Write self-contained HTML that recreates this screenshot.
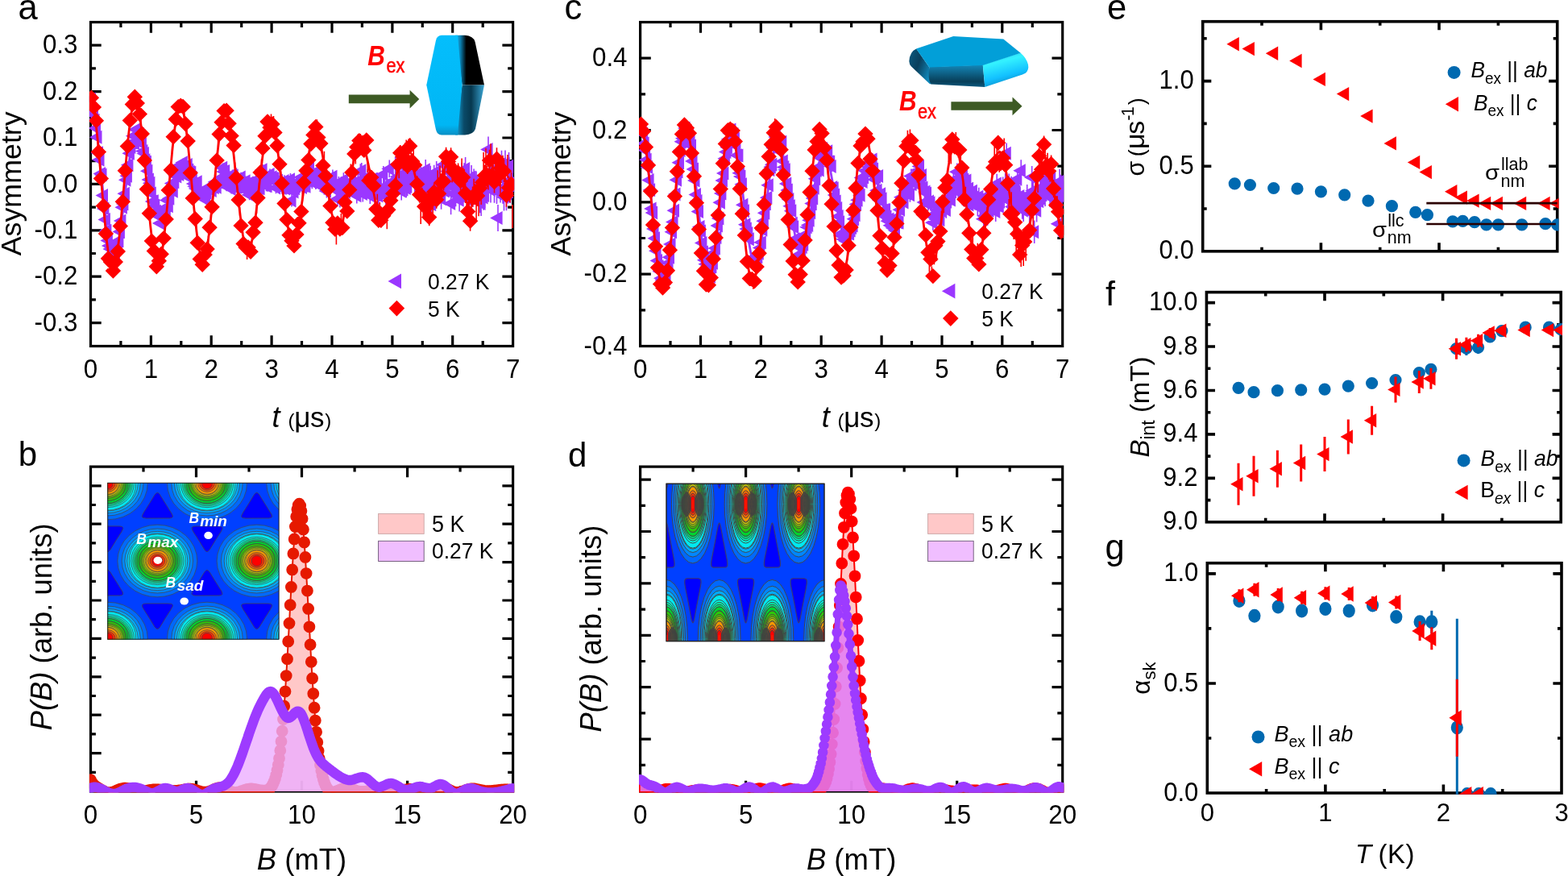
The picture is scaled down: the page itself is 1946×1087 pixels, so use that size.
<!DOCTYPE html>
<html><head><meta charset="utf-8"><title>Figure</title>
<style>html,body{margin:0;padding:0;background:#fff;width:1946px;height:1087px;overflow:hidden}svg{display:block}text{font-family:"Liberation Sans",sans-serif;fill:#000}.w text{fill:#fff}text.r{fill:#f00}</style>
</head><body>
<svg width="1946" height="1087" viewBox="0 0 1946 1087">
<rect width="1946" height="1087" fill="#fff"/>
<clipPath id="clipa"><rect x="110.9" y="25.9" width="527.3" height="405.2"/></clipPath>
<rect x="112.5" y="27.5" width="524.1" height="402" fill="none" stroke="#000" stroke-width="3.2"/>
<path d="M187.4 429.5v-13.2M187.4 27.5v13.2M262.2 429.5v-13.2M262.2 27.5v13.2M337.1 429.5v-13.2M337.1 27.5v13.2M412 429.5v-13.2M412 27.5v13.2M486.9 429.5v-13.2M486.9 27.5v13.2M561.7 429.5v-13.2M561.7 27.5v13.2M149.9 429.5v-6.4M149.9 27.5v6.4M224.8 429.5v-6.4M224.8 27.5v6.4M299.7 429.5v-6.4M299.7 27.5v6.4M374.5 429.5v-6.4M374.5 27.5v6.4M449.4 429.5v-6.4M449.4 27.5v6.4M524.3 429.5v-6.4M524.3 27.5v6.4M599.2 429.5v-6.4M599.2 27.5v6.4M112.5 400.6h13.2M636.6 400.6h-13.2M112.5 343.2h13.2M636.6 343.2h-13.2M112.5 285.8h13.2M636.6 285.8h-13.2M112.5 228.4h13.2M636.6 228.4h-13.2M112.5 171h13.2M636.6 171h-13.2M112.5 113.6h13.2M636.6 113.6h-13.2M112.5 56.2h13.2M636.6 56.2h-13.2M112.5 371.9h6.4M636.6 371.9h-6.4M112.5 314.5h6.4M636.6 314.5h-6.4M112.5 257.1h6.4M636.6 257.1h-6.4M112.5 199.7h6.4M636.6 199.7h-6.4M112.5 142.3h6.4M636.6 142.3h-6.4M112.5 84.9h6.4M636.6 84.9h-6.4" stroke="#000" stroke-width="3.2" fill="none"/>
<text transform="translate(112.5 469.2) scale(0.978 1.05)" font-size="32" text-anchor="middle">0</text>
<text transform="translate(187.4 469.2) scale(0.978 1.05)" font-size="32" text-anchor="middle">1</text>
<text transform="translate(262.2 469.2) scale(0.978 1.05)" font-size="32" text-anchor="middle">2</text>
<text transform="translate(337.1 469.2) scale(0.978 1.05)" font-size="32" text-anchor="middle">3</text>
<text transform="translate(412 469.2) scale(0.978 1.05)" font-size="32" text-anchor="middle">4</text>
<text transform="translate(486.9 469.2) scale(0.978 1.05)" font-size="32" text-anchor="middle">5</text>
<text transform="translate(561.7 469.2) scale(0.978 1.05)" font-size="32" text-anchor="middle">6</text>
<text transform="translate(636.6 469.2) scale(0.978 1.05)" font-size="32" text-anchor="middle">7</text>
<text transform="translate(96.4 410.8) scale(0.978 1.05)" font-size="32" text-anchor="end">-0.3</text>
<text transform="translate(96.4 353.4) scale(0.978 1.05)" font-size="32" text-anchor="end">-0.2</text>
<text transform="translate(96.4 296) scale(0.978 1.05)" font-size="32" text-anchor="end">-0.1</text>
<text transform="translate(96.4 238.6) scale(0.978 1.05)" font-size="32" text-anchor="end">0.0</text>
<text transform="translate(96.4 181.2) scale(0.978 1.05)" font-size="32" text-anchor="end">0.1</text>
<text transform="translate(96.4 123.8) scale(0.978 1.05)" font-size="32" text-anchor="end">0.2</text>
<text transform="translate(96.4 66.4) scale(0.978 1.05)" font-size="32" text-anchor="end">0.3</text>
<g clip-path="url(#clipa)">
<path d="M113.4 119.5v7.1M114.9 137.8v7.2M116.4 134.2v7.2M117.9 145.6v7.2M119.4 155.4v7.3M120.9 166.7v7.3M122.4 186v7.3M123.9 194.6v7.4M125.4 211.8v7.4M126.9 213.1v7.4M128.4 238.7v7.5M129.9 255.3v7.5M131.4 268.7v7.5M132.9 282.5v7.6M134.4 294.6v7.6M135.9 301.3v7.6M137.4 305.1v7.7M138.9 312.3v7.7M140.4 310.4v7.7M141.8 314.5v7.8M143.3 311.5v7.8M144.8 301.7v7.9M146.3 298.9v7.9M147.8 294.4v7.9M149.3 283.6v8M150.8 270.1v8M152.3 253.2v8M153.8 248.9v8.1M155.3 236.2v8.1M156.8 219.2v8.1M158.3 214.1v8.2M159.8 200.7v8.2M161.3 186.1v8.3M162.8 178.2v8.3M164.3 172.6v8.3M165.8 164.5v8.4M167.3 173.5v8.4M168.8 156.5v8.4M170.3 163.3v8.5M171.8 167v8.5M173.3 162.1v8.6M174.8 164.5v8.6M176.3 174.3v8.6M177.8 183.1v8.7M179.3 186.1v8.7M180.8 194.3v8.8M182.3 196.9v8.8M183.8 207.9v8.8M185.3 218.5v8.9M186.8 222.8v8.9M188.3 235.7v9M189.8 245.4v9M191.3 245.3v9M192.8 250.4v9.1M194.3 257.6v9.1M195.8 262.9v9.2M197.3 260.5v9.2M198.8 272.5v9.2M200.2 258.8v9.3M201.7 258.3v9.3M203.2 265v9.4M204.7 254.7v9.4M206.2 255.3v9.5M207.7 243.7v9.5M209.2 251.1v9.5M210.7 241.4v9.6M212.2 229.4v9.6M213.7 222.6v9.7M215.2 232.4v9.7M216.7 220.8v9.8M218.2 213.2v9.8M219.7 213.9v9.9M221.2 201.3v9.9M222.7 211.4v9.9M224.2 202.9v10M225.7 208.2v10M227.2 196.7v10.1M228.7 203.5v10.1M230.2 205.9v10.2M231.7 213.4v10.2M233.2 199.5v10.3M234.7 205.8v10.3M236.2 208.2v10.4M237.7 209v10.4M239.2 215.3v10.5M240.7 222.7v10.5M242.2 226.1v10.6M243.7 228.6v10.6M245.2 220.5v10.6M246.7 236.1v10.7M248.2 233.7v10.7M249.7 233.7v10.8M251.2 232.1v10.8M252.7 231.1v10.9M254.2 240.3v10.9M255.7 242.6v11M257.1 233.7v11M258.6 226.8v11.1M260.1 228.1v11.1M261.6 229.5v11.2M263.1 230.8v11.2M264.6 226.1v11.3M266.1 227.2v11.3M267.6 220v11.4M269.1 226.6v11.5M270.6 220.2v11.5M272.1 220v11.6M273.6 215.2v11.6M275.1 215.7v11.7M276.6 202.4v11.7M278.1 207.2v11.8M279.6 206.7v11.8M281.1 225.4v11.9M282.6 216.3v11.9M284.1 218v12M285.6 212.4v12M287.1 228.4v12.1M288.6 210.4v12.1M290.1 212v12.2M291.6 226.2v12.3M293.1 225.7v12.3M294.6 226v12.4M296.1 222.6v12.4M297.6 220.5v12.5M299.1 213.7v12.5M300.6 227.4v12.6M302.1 222.8v12.7M303.6 227v12.7M305.1 218.4v12.8M306.6 224.6v12.8M308.1 221.1v12.9M309.6 235.3v12.9M311.1 229.9v13M312.6 233.1v13.1M314.1 218.8v13.1M315.5 222.9v13.2M317 227.7v13.2M318.5 227.6v13.3M320 220.8v13.4M321.5 226.8v13.4M323 227v13.5M324.5 217.2v13.5M326 203.9v13.6M327.5 219.5v13.7M329 220.4v13.7M330.5 223.5v13.8M332 223.9v13.9M333.5 211.8v13.9M335 209.4v14M336.5 214.6v14M338 212.6v14.1M339.5 214.3v14.2M341 214.6v14.2M342.5 225.9v14.3M344 219.8v14.4M345.5 217v14.4M347 223.8v14.5M348.5 222.8v14.6M350 226.1v14.6M351.5 224v14.7M353 217.2v14.8M354.5 226.5v14.8M356 225.8v14.9M357.5 220v15M359 221.8v15M360.5 215.1v15.1M362 241.3v15.2M363.5 221.3v15.2M365 230.5v15.3M366.5 226v15.4M368 220.7v15.5M369.5 218.4v15.5M371 218v15.6M372.4 223.4v15.7M373.9 212.2v15.7M375.4 224.6v15.8M376.9 222.5v15.9M378.4 214.7v16M379.9 223.3v16M381.4 202.7v16.1M382.9 209.9v16.2M384.4 200.5v16.2M385.9 215.9v16.3M387.4 217.8v16.4M388.9 213.3v16.5M390.4 208.7v16.5M391.9 218.4v16.6M393.4 211.2v16.7M394.9 214.3v16.8M396.4 202.3v16.9M397.9 220.1v16.9M399.4 207.6v17M400.9 221.3v17.1M402.4 224.6v17.2M403.9 223.6v17.2M405.4 228.3v17.3M406.9 218.8v17.4M408.4 212.8v17.5M409.9 220.5v17.6M411.4 217.7v17.6M412.9 210.4v17.7M414.4 221.8v17.8M415.9 222.9v17.9M417.4 227.1v18M418.9 238.1v18M420.4 218.9v18.1M421.9 239.3v18.2M423.4 219.3v18.3M424.9 224.3v18.4M426.4 214.3v18.5M427.9 223.5v18.5M429.3 229.1v18.6M430.8 218.3v18.7M432.3 225.1v18.8M433.8 220.9v18.9M435.3 218.1v19M436.8 218.6v19.1M438.3 218.2v19.1M439.8 222.9v19.2M441.3 216.6v19.3M442.8 233v19.4M444.3 215.2v19.5M445.8 224v19.6M447.3 203.3v19.7M448.8 201.9v19.8M450.3 230.7v19.8M451.8 212.2v19.9M453.3 215v20M454.8 223.8v20.1M456.3 210.1v20.2M457.8 219.8v20.3M459.3 232.6v20.4M460.8 219.6v20.5M462.3 219.3v20.6M463.8 217.8v20.7M465.3 231.1v20.8M466.8 214.5v20.9M468.3 214v21M469.8 232.4v21.1M471.3 228.3v21.2M472.8 223.1v21.2M474.3 228v21.3M475.8 205.9v21.4M477.3 220.6v21.5M478.8 232.3v21.6M480.3 229.8v21.7M481.8 222.2v21.8M483.3 198.4v21.9M484.8 222.1v22M486.3 218.4v22.1M487.7 213.7v22.2M489.2 218.4v22.3M490.7 194.1v22.4M492.2 221.6v22.5M493.7 207.9v22.6M495.2 213v22.7M496.7 207.6v22.8M498.2 225.5v23M499.7 194.5v23.1M501.2 213.7v23.2M502.7 211.8v23.3M504.2 221.9v23.4M505.7 219.8v23.5M507.2 206.2v23.6M508.7 201.9v23.7M510.2 204.7v23.8M511.7 200.2v23.9M513.2 206.1v24M514.7 214.1v24.1M516.2 205.9v24.2M517.7 209.2v24.4M519.2 217.5v24.5M520.7 209.1v24.6M522.2 203.5v24.7M523.7 215.7v24.8M525.2 222.9v24.9M526.7 211.2v25M528.2 198.1v25.1M529.7 222.2v25.3M531.2 221v25.4M532.7 221.5v25.5M534.2 205.7v25.6M535.7 240.8v25.7M537.2 214.9v25.8M538.7 204.8v26M540.2 227.7v26.1M541.7 200v26.2M543.2 210.5v26.3M544.6 222.7v26.4M546.1 212.9v26.5M547.6 233v26.7M549.1 220.7v26.8M550.6 191.1v26.9M552.1 223.4v27M553.6 189.5v27.2M555.1 212.5v27.3M556.6 198.9v27.4M558.1 210.3v27.5M559.6 238.6v27.7M561.1 217.8v27.8M562.6 208.2v27.9M564.1 225.3v28M565.6 228.1v28.2M567.1 206.7v28.3M568.6 220.1v28.4M570.1 234v28.6M571.6 221.6v28.7M573.1 202.1v28.8M574.6 220v28.9M576.1 202.2v29.1M577.6 194.9v29.2M579.1 215v29.3M580.6 230.9v29.5M582.1 233.6v29.6M583.6 216.9v29.7M585.1 204.9v29.9M586.6 213.3v30M588.1 209.5v30.2M589.6 222.9v30.3M591.1 212.5v30.4M592.6 222.8v30.6M594.1 220.5v30.7M595.6 233.4v30.8M597.1 236.9v31M598.6 221.2v31.1M600.1 229.4v31.3M601.6 226.7v31.4M603 203v31.6M604.5 213.4v31.7M606 169.5v31.8M607.5 197.4v32M609 219.3v32.1M610.5 198.4v32.3M612 204.1v32.4M613.5 219.1v32.6M615 192.6v32.7M616.5 220.2v32.9M618 254.1v33M619.5 196.9v33.2M621 218.2v33.3M622.5 186.7v33.5M624 219.2v33.6M625.5 227.7v33.8M627 186.5v33.9M628.5 227.1v34.1M630 207.9v34.2M631.5 189v34.4M633 210.1v34.6M634.5 213.5v34.7M636 211v34.9" stroke="#9b37ff" stroke-width="1.6" fill="none"/>
<path d="M112.5 128.6L114.7 132.7L117 142.2L119.2 156.6L121.5 174.9L123.7 196.2L126 218.9L128.2 241.9L130.5 263.7L132.7 283L135 298.8L137.2 310.2L139.5 316.6L141.7 317.8L144 313.9L146.2 305.2L148.5 292.6L150.7 276.8L153 258.9L155.2 240.1L157.5 221.5L159.7 204.3L162 189.3L164.2 177.4L166.5 169.1L168.7 164.6L171 164.1L173.2 167.3L175.5 173.8L177.7 183L180 194.2L182.2 206.5L184.5 219.2L186.7 231.5L189 242.7L191.2 252.1L193.5 259.3L195.7 264.2L198 266.5L200.2 266.4L202.5 264L204.7 259.7L207 253.9L209.2 247.1L211.5 239.8L213.7 232.5L216 225.6L218.2 219.6L220.5 214.6L222.7 211L225 208.9L227.2 208.2L229.5 208.8L231.7 210.6L234 213.4L236.2 216.9L238.5 220.9L240.7 224.9L243 228.9L245.2 232.4L247.5 235.4L249.7 237.6L252 239L254.2 239.6L256.5 239.4L258.7 238.4L261 236.8L263.2 234.7L265.5 232.3L267.7 229.8L270 227.4L272.2 225.1L274.5 223.2L276.7 221.7L278.9 220.8L281.2 220.4L283.4 220.6L285.7 221.3L287.9 222.5L290.2 224.1L292.4 225.9L294.7 227.8L296.9 229.8L299.2 231.6L301.4 233.1L303.7 234.3L305.9 235.1L308.2 235.5L310.4 235.3L312.7 234.8L314.9 233.8L317.2 232.4L319.4 230.8L321.7 229.1L323.9 227.4L326.2 225.7L328.4 224.2L330.7 223L332.9 222.2L335.2 221.7L337.4 221.7L339.7 222.1L341.9 223L344.2 224.1L346.4 225.5L348.7 227.1L350.9 228.8L353.2 230.4L355.4 231.9L357.7 233.1L359.9 234L362.2 234.6L364.4 234.8L366.7 234.6L368.9 234L371.2 233L373.4 231.8L375.7 230.3L377.9 228.8L380.2 227.2L382.4 225.7L384.7 224.4L386.9 223.4L389.2 222.7L391.4 222.4L393.7 222.4L395.9 222.8L398.2 223.6L400.4 224.6L402.7 225.9L404.9 227.4L407.2 228.8L409.4 230.3L411.7 231.6L413.9 232.7L416.2 233.5L418.4 234L420.7 234.1L422.9 233.9L425.2 233.3L427.4 232.4L429.7 231.3L431.9 230L434.2 228.6L436.4 227.2L438.7 225.9L440.9 224.8L443.1 223.9L445.4 223.3L447.6 223L449.9 223.1L452.1 223.5L454.4 224.2L456.6 225.2L458.9 226.3L461.1 227.6L463.4 228.9L465.6 230.1L467.9 231.3L470.1 232.2L472.4 232.9L474.6 233.3L476.9 233.4L479.1 233.2L481.4 232.6L483.6 231.9L485.9 230.9L488.1 229.7L490.4 228.5L492.6 227.3L494.9 226.2L497.1 225.2L499.4 224.5L501.6 224L503.9 223.8L506.1 223.8L508.4 224.2L510.6 224.8L512.9 225.7L515.1 226.7L517.4 227.8L519.6 228.9L521.9 230L524.1 230.9L526.4 231.7L528.6 232.3L530.9 232.6L533.1 232.7L535.4 232.5L537.6 232L539.9 231.3L542.1 230.4L544.4 229.5L546.6 228.4L548.9 227.4L551.1 226.5L553.4 225.7L555.6 225L557.9 224.6L560.1 224.5L562.4 224.6L564.6 224.9L566.9 225.4L569.1 226.2L571.4 227L573.6 227.9L575.9 228.9L578.1 229.8L580.4 230.6L582.6 231.2L584.9 231.7L587.1 231.9L589.4 232L591.6 231.8L593.9 231.4L596.1 230.8L598.4 230L600.6 229.2L602.9 228.4L605.1 227.5L607.3 226.8L609.6 226.1L611.8 225.6L614.1 225.3L616.3 225.2L618.6 225.2L620.8 225.5L623.1 226L625.3 226.6L627.6 227.3L629.8 228.1L632.1 228.8L634.3 229.6L636.6 230.2" stroke="#9b37ff" stroke-width="2.8" fill="none" stroke-linejoin="round"/>
<path d="M103.5 123l15.5 -8.5v17zM105 141.4l15.5 -8.5v17zM106.5 137.8l15.5 -8.5v17zM108 149.2l15.5 -8.5v17zM109.5 159.1l15.5 -8.5v17zM111 170.3l15.5 -8.5v17zM112.5 189.7l15.5 -8.5v17zM114 198.2l15.5 -8.5v17zM115.5 215.5l15.5 -8.5v17zM117 216.9l15.5 -8.5v17zM118.5 242.4l15.5 -8.5v17zM119.9 259l15.5 -8.5v17zM121.4 272.5l15.5 -8.5v17zM122.9 286.3l15.5 -8.5v17zM124.4 298.4l15.5 -8.5v17zM125.9 305.1l15.5 -8.5v17zM127.4 309l15.5 -8.5v17zM128.9 316.1l15.5 -8.5v17zM130.4 314.3l15.5 -8.5v17zM131.9 318.4l15.5 -8.5v17zM133.4 315.4l15.5 -8.5v17zM134.9 305.6l15.5 -8.5v17zM136.4 302.8l15.5 -8.5v17zM137.9 298.4l15.5 -8.5v17zM139.4 287.6l15.5 -8.5v17zM140.9 274.1l15.5 -8.5v17zM142.4 257.3l15.5 -8.5v17zM143.9 252.9l15.5 -8.5v17zM145.4 240.2l15.5 -8.5v17zM146.9 223.2l15.5 -8.5v17zM148.4 218.2l15.5 -8.5v17zM149.9 204.8l15.5 -8.5v17zM151.4 190.2l15.5 -8.5v17zM152.9 182.4l15.5 -8.5v17zM154.4 176.7l15.5 -8.5v17zM155.9 168.7l15.5 -8.5v17zM157.4 177.7l15.5 -8.5v17zM158.9 160.7l15.5 -8.5v17zM160.4 167.5l15.5 -8.5v17zM161.9 171.3l15.5 -8.5v17zM163.4 166.4l15.5 -8.5v17zM164.9 168.8l15.5 -8.5v17zM166.4 178.6l15.5 -8.5v17zM167.9 187.5l15.5 -8.5v17zM169.4 190.5l15.5 -8.5v17zM170.9 198.7l15.5 -8.5v17zM172.4 201.3l15.5 -8.5v17zM173.9 212.3l15.5 -8.5v17zM175.4 222.9l15.5 -8.5v17zM176.9 227.3l15.5 -8.5v17zM178.3 240.1l15.5 -8.5v17zM179.8 249.9l15.5 -8.5v17zM181.3 249.8l15.5 -8.5v17zM182.8 254.9l15.5 -8.5v17zM184.3 262.2l15.5 -8.5v17zM185.8 267.5l15.5 -8.5v17zM187.3 265.1l15.5 -8.5v17zM188.8 277.1l15.5 -8.5v17zM190.3 263.5l15.5 -8.5v17zM191.8 262.9l15.5 -8.5v17zM193.3 269.6l15.5 -8.5v17zM194.8 259.4l15.5 -8.5v17zM196.3 260.1l15.5 -8.5v17zM197.8 248.5l15.5 -8.5v17zM199.3 255.8l15.5 -8.5v17zM200.8 246.2l15.5 -8.5v17zM202.3 234.3l15.5 -8.5v17zM203.8 227.5l15.5 -8.5v17zM205.3 237.3l15.5 -8.5v17zM206.8 225.7l15.5 -8.5v17zM208.3 218.1l15.5 -8.5v17zM209.8 218.9l15.5 -8.5v17zM211.3 206.2l15.5 -8.5v17zM212.8 216.4l15.5 -8.5v17zM214.3 207.9l15.5 -8.5v17zM215.8 213.2l15.5 -8.5v17zM217.3 201.8l15.5 -8.5v17zM218.8 208.5l15.5 -8.5v17zM220.3 211l15.5 -8.5v17zM221.8 218.5l15.5 -8.5v17zM223.3 204.6l15.5 -8.5v17zM224.8 211l15.5 -8.5v17zM226.3 213.4l15.5 -8.5v17zM227.8 214.2l15.5 -8.5v17zM229.3 220.5l15.5 -8.5v17zM230.8 227.9l15.5 -8.5v17zM232.3 231.3l15.5 -8.5v17zM233.8 233.9l15.5 -8.5v17zM235.2 225.8l15.5 -8.5v17zM236.7 241.4l15.5 -8.5v17zM238.2 239l15.5 -8.5v17zM239.7 239.1l15.5 -8.5v17zM241.2 237.5l15.5 -8.5v17zM242.7 236.5l15.5 -8.5v17zM244.2 245.8l15.5 -8.5v17zM245.7 248.1l15.5 -8.5v17zM247.2 239.2l15.5 -8.5v17zM248.7 232.4l15.5 -8.5v17zM250.2 233.7l15.5 -8.5v17zM251.7 235.1l15.5 -8.5v17zM253.2 236.4l15.5 -8.5v17zM254.7 231.7l15.5 -8.5v17zM256.2 232.8l15.5 -8.5v17zM257.7 225.7l15.5 -8.5v17zM259.2 232.3l15.5 -8.5v17zM260.7 226l15.5 -8.5v17zM262.2 225.7l15.5 -8.5v17zM263.7 221l15.5 -8.5v17zM265.2 221.5l15.5 -8.5v17zM266.7 208.3l15.5 -8.5v17zM268.2 213.1l15.5 -8.5v17zM269.7 212.6l15.5 -8.5v17zM271.2 231.3l15.5 -8.5v17zM272.7 222.3l15.5 -8.5v17zM274.2 224l15.5 -8.5v17zM275.7 218.4l15.5 -8.5v17zM277.2 234.4l15.5 -8.5v17zM278.7 216.5l15.5 -8.5v17zM280.2 218.1l15.5 -8.5v17zM281.7 232.4l15.5 -8.5v17zM283.2 231.9l15.5 -8.5v17zM284.7 232.2l15.5 -8.5v17zM286.2 228.8l15.5 -8.5v17zM287.7 226.7l15.5 -8.5v17zM289.2 219.9l15.5 -8.5v17zM290.7 233.7l15.5 -8.5v17zM292.2 229.1l15.5 -8.5v17zM293.6 233.4l15.5 -8.5v17zM295.1 224.8l15.5 -8.5v17zM296.6 231l15.5 -8.5v17zM298.1 227.5l15.5 -8.5v17zM299.6 241.7l15.5 -8.5v17zM301.1 236.4l15.5 -8.5v17zM302.6 239.6l15.5 -8.5v17zM304.1 225.3l15.5 -8.5v17zM305.6 229.5l15.5 -8.5v17zM307.1 234.3l15.5 -8.5v17zM308.6 234.2l15.5 -8.5v17zM310.1 227.5l15.5 -8.5v17zM311.6 233.5l15.5 -8.5v17zM313.1 233.7l15.5 -8.5v17zM314.6 224l15.5 -8.5v17zM316.1 210.7l15.5 -8.5v17zM317.6 226.3l15.5 -8.5v17zM319.1 227.3l15.5 -8.5v17zM320.6 230.4l15.5 -8.5v17zM322.1 230.8l15.5 -8.5v17zM323.6 218.7l15.5 -8.5v17zM325.1 216.4l15.5 -8.5v17zM326.6 221.6l15.5 -8.5v17zM328.1 219.7l15.5 -8.5v17zM329.6 221.4l15.5 -8.5v17zM331.1 221.7l15.5 -8.5v17zM332.6 233l15.5 -8.5v17zM334.1 227l15.5 -8.5v17zM335.6 224.2l15.5 -8.5v17zM337.1 231l15.5 -8.5v17zM338.6 230.1l15.5 -8.5v17zM340.1 233.5l15.5 -8.5v17zM341.6 231.4l15.5 -8.5v17zM343.1 224.6l15.5 -8.5v17zM344.6 234l15.5 -8.5v17zM346.1 233.2l15.5 -8.5v17zM347.6 227.5l15.5 -8.5v17zM349.1 229.3l15.5 -8.5v17zM350.5 222.7l15.5 -8.5v17zM352 248.9l15.5 -8.5v17zM353.5 228.9l15.5 -8.5v17zM355 238.1l15.5 -8.5v17zM356.5 233.7l15.5 -8.5v17zM358 228.4l15.5 -8.5v17zM359.5 226.2l15.5 -8.5v17zM361 225.8l15.5 -8.5v17zM362.5 231.2l15.5 -8.5v17zM364 220l15.5 -8.5v17zM365.5 232.5l15.5 -8.5v17zM367 230.5l15.5 -8.5v17zM368.5 222.7l15.5 -8.5v17zM370 231.3l15.5 -8.5v17zM371.5 210.7l15.5 -8.5v17zM373 218l15.5 -8.5v17zM374.5 208.7l15.5 -8.5v17zM376 224l15.5 -8.5v17zM377.5 226l15.5 -8.5v17zM379 221.5l15.5 -8.5v17zM380.5 217l15.5 -8.5v17zM382 226.7l15.5 -8.5v17zM383.5 219.5l15.5 -8.5v17zM385 222.7l15.5 -8.5v17zM386.5 210.7l15.5 -8.5v17zM388 228.5l15.5 -8.5v17zM389.5 216.1l15.5 -8.5v17zM391 229.8l15.5 -8.5v17zM392.5 233.2l15.5 -8.5v17zM394 232.2l15.5 -8.5v17zM395.5 236.9l15.5 -8.5v17zM397 227.5l15.5 -8.5v17zM398.5 221.5l15.5 -8.5v17zM400 229.3l15.5 -8.5v17zM401.5 226.5l15.5 -8.5v17zM403 219.2l15.5 -8.5v17zM404.5 230.7l15.5 -8.5v17zM406 231.9l15.5 -8.5v17zM407.5 236l15.5 -8.5v17zM408.9 247.1l15.5 -8.5v17zM410.4 227.9l15.5 -8.5v17zM411.9 248.4l15.5 -8.5v17zM413.4 228.4l15.5 -8.5v17zM414.9 233.5l15.5 -8.5v17zM416.4 223.5l15.5 -8.5v17zM417.9 232.8l15.5 -8.5v17zM419.4 238.4l15.5 -8.5v17zM420.9 227.6l15.5 -8.5v17zM422.4 234.5l15.5 -8.5v17zM423.9 230.4l15.5 -8.5v17zM425.4 227.5l15.5 -8.5v17zM426.9 228.1l15.5 -8.5v17zM428.4 227.7l15.5 -8.5v17zM429.9 232.5l15.5 -8.5v17zM431.4 226.3l15.5 -8.5v17zM432.9 242.7l15.5 -8.5v17zM434.4 225l15.5 -8.5v17zM435.9 233.8l15.5 -8.5v17zM437.4 213.1l15.5 -8.5v17zM438.9 211.7l15.5 -8.5v17zM440.4 240.6l15.5 -8.5v17zM441.9 222.1l15.5 -8.5v17zM443.4 225l15.5 -8.5v17zM444.9 233.8l15.5 -8.5v17zM446.4 220.2l15.5 -8.5v17zM447.9 229.9l15.5 -8.5v17zM449.4 242.7l15.5 -8.5v17zM450.9 229.8l15.5 -8.5v17zM452.4 229.6l15.5 -8.5v17zM453.9 228.1l15.5 -8.5v17zM455.4 241.5l15.5 -8.5v17zM456.9 225l15.5 -8.5v17zM458.4 224.5l15.5 -8.5v17zM459.9 242.9l15.5 -8.5v17zM461.4 238.9l15.5 -8.5v17zM462.9 233.8l15.5 -8.5v17zM464.4 238.7l15.5 -8.5v17zM465.8 216.6l15.5 -8.5v17zM467.3 231.4l15.5 -8.5v17zM468.8 243.1l15.5 -8.5v17zM470.3 240.7l15.5 -8.5v17zM471.8 233.1l15.5 -8.5v17zM473.3 209.4l15.5 -8.5v17zM474.8 233.2l15.5 -8.5v17zM476.3 229.4l15.5 -8.5v17zM477.8 224.8l15.5 -8.5v17zM479.3 229.5l15.5 -8.5v17zM480.8 205.3l15.5 -8.5v17zM482.3 232.9l15.5 -8.5v17zM483.8 219.2l15.5 -8.5v17zM485.3 224.4l15.5 -8.5v17zM486.8 219l15.5 -8.5v17zM488.3 237l15.5 -8.5v17zM489.8 206l15.5 -8.5v17zM491.3 225.3l15.5 -8.5v17zM492.8 223.5l15.5 -8.5v17zM494.3 233.6l15.5 -8.5v17zM495.8 231.5l15.5 -8.5v17zM497.3 218l15.5 -8.5v17zM498.8 213.8l15.5 -8.5v17zM500.3 216.6l15.5 -8.5v17zM501.8 212.2l15.5 -8.5v17zM503.3 218.1l15.5 -8.5v17zM504.8 226.2l15.5 -8.5v17zM506.3 218.1l15.5 -8.5v17zM507.8 221.4l15.5 -8.5v17zM509.3 229.8l15.5 -8.5v17zM510.8 221.4l15.5 -8.5v17zM512.3 215.8l15.5 -8.5v17zM513.8 228.1l15.5 -8.5v17zM515.3 235.3l15.5 -8.5v17zM516.8 223.7l15.5 -8.5v17zM518.3 210.7l15.5 -8.5v17zM519.8 234.9l15.5 -8.5v17zM521.3 233.7l15.5 -8.5v17zM522.8 234.2l15.5 -8.5v17zM524.2 218.5l15.5 -8.5v17zM525.7 253.7l15.5 -8.5v17zM527.2 227.8l15.5 -8.5v17zM528.7 217.8l15.5 -8.5v17zM530.2 240.7l15.5 -8.5v17zM531.7 213.1l15.5 -8.5v17zM533.2 223.7l15.5 -8.5v17zM534.7 235.9l15.5 -8.5v17zM536.2 226.2l15.5 -8.5v17zM537.7 246.4l15.5 -8.5v17zM539.2 234.1l15.5 -8.5v17zM540.7 204.5l15.5 -8.5v17zM542.2 237l15.5 -8.5v17zM543.7 203l15.5 -8.5v17zM545.2 226.2l15.5 -8.5v17zM546.7 212.6l15.5 -8.5v17zM548.2 224.1l15.5 -8.5v17zM549.7 252.4l15.5 -8.5v17zM551.2 231.6l15.5 -8.5v17zM552.7 222.2l15.5 -8.5v17zM554.2 239.3l15.5 -8.5v17zM555.7 242.2l15.5 -8.5v17zM557.2 220.8l15.5 -8.5v17zM558.7 234.3l15.5 -8.5v17zM560.2 248.3l15.5 -8.5v17zM561.7 235.9l15.5 -8.5v17zM563.2 216.6l15.5 -8.5v17zM564.7 234.5l15.5 -8.5v17zM566.2 216.7l15.5 -8.5v17zM567.7 209.5l15.5 -8.5v17zM569.2 229.7l15.5 -8.5v17zM570.7 245.6l15.5 -8.5v17zM572.2 248.4l15.5 -8.5v17zM573.7 231.8l15.5 -8.5v17zM575.2 219.9l15.5 -8.5v17zM576.7 228.3l15.5 -8.5v17zM578.2 224.6l15.5 -8.5v17zM579.7 238l15.5 -8.5v17zM581.1 227.7l15.5 -8.5v17zM582.6 238.1l15.5 -8.5v17zM584.1 235.8l15.5 -8.5v17zM585.6 248.9l15.5 -8.5v17zM587.1 252.4l15.5 -8.5v17zM588.6 236.7l15.5 -8.5v17zM590.1 245l15.5 -8.5v17zM591.6 242.4l15.5 -8.5v17zM593.1 218.8l15.5 -8.5v17zM594.6 229.3l15.5 -8.5v17zM596.1 185.4l15.5 -8.5v17zM597.6 213.4l15.5 -8.5v17zM599.1 235.4l15.5 -8.5v17zM600.6 214.6l15.5 -8.5v17zM602.1 220.4l15.5 -8.5v17zM603.6 235.4l15.5 -8.5v17zM605.1 209l15.5 -8.5v17zM606.6 236.6l15.5 -8.5v17zM608.1 270.6l15.5 -8.5v17zM609.6 213.5l15.5 -8.5v17zM611.1 234.8l15.5 -8.5v17zM612.6 203.5l15.5 -8.5v17zM614.1 236l15.5 -8.5v17zM615.6 244.6l15.5 -8.5v17zM617.1 203.5l15.5 -8.5v17zM618.6 244.1l15.5 -8.5v17zM620.1 225l15.5 -8.5v17zM621.6 206.2l15.5 -8.5v17zM623.1 227.4l15.5 -8.5v17zM624.6 230.9l15.5 -8.5v17zM626.1 228.4l15.5 -8.5v17z" fill="#9b37ff"/>
<path d="M113.4 118.2v6M114.9 126.7v6M116.4 129.9v6M117.9 139.6v6.1M119.4 146.8v6.1M120.9 168.2v6.1M122.4 185.4v6.2M123.9 197.7v6.2M125.4 218.5v6.2M126.9 234.4v6.2M128.4 252.3v6.3M129.9 266.1v6.3M131.4 286.7v6.3M132.9 298.9v6.4M134.4 317.7v6.4M135.9 322.2v6.4M137.4 321.8v6.4M138.9 331.9v6.5M140.4 332.8v6.5M141.8 332.1v6.5M143.3 321.7v6.6M144.8 315v6.6M146.3 308.7v6.6M147.8 290.5v6.6M149.3 277.1v6.7M150.8 259.6v6.7M152.3 246.8v6.7M153.8 222v6.8M155.3 208.4v6.8M156.8 192.9v6.8M158.3 178v6.9M159.8 162.3v6.9M161.3 145.9v6.9M162.8 138.6v7M164.3 126v7M165.8 122v7M167.3 116.8v7.1M168.8 118.7v7.1M170.3 124.5v7.1M171.8 136.4v7.1M173.3 137.9v7.2M174.8 147.3v7.2M176.3 162.4v7.2M177.8 175.9v7.3M179.3 195.3v7.3M180.8 211.9v7.3M182.3 231.1v7.4M183.8 240.5v7.4M185.3 261v7.4M186.8 278.6v7.5M188.3 295.3v7.5M189.8 303.3v7.5M191.3 307.6v7.6M192.8 318.2v7.6M194.3 326.8v7.7M195.8 321.1v7.7M197.3 319.9v7.7M198.8 317.5v7.8M200.2 311.4v7.8M201.7 300.9v7.8M203.2 291.6v7.9M204.7 277.5v7.9M206.2 268.1v7.9M207.7 244v8M209.2 231.9v8M210.7 208.7v8M212.2 206.9v8.1M213.7 181.2v8.1M215.2 165.7v8.2M216.7 157.6v8.2M218.2 143.8v8.2M219.7 134v8.3M221.2 128.4v8.3M222.7 129.1v8.3M224.2 126.9v8.4M225.7 124.5v8.4M227.2 128.2v8.5M228.7 139.9v8.5M230.2 149.6v8.5M231.7 160.7v8.6M233.2 170.8v8.6M234.7 193.6v8.7M236.2 210.3v8.7M237.7 220.6v8.7M239.2 241.5v8.8M240.7 255v8.8M242.2 267v8.8M243.7 278.9v8.9M245.2 296.8v8.9M246.7 299v9M248.2 316.9v9M249.7 312.5v9.1M251.2 323.7v9.1M252.7 322.2v9.1M254.2 311.5v9.2M255.7 310.5v9.2M257.1 304.4v9.3M258.6 293.1v9.3M260.1 277.6v9.3M261.6 266.5v9.4M263.1 252.1v9.4M264.6 232.5v9.5M266.1 224.7v9.5M267.6 208.5v9.6M269.1 194.1v9.6M270.6 173.1v9.6M272.1 161.6v9.7M273.6 149.7v9.7M275.1 147v9.8M276.6 141.1v9.8M278.1 132.7v9.9M279.6 136.7v9.9M281.1 132.2v10M282.6 136.1v10M284.1 148.3v10.1M285.6 153.5v10.1M287.1 163.5v10.1M288.6 166.5v10.2M290.1 175.4v10.2M291.6 201.5v10.3M293.1 215.2v10.3M294.6 240.3v10.4M296.1 242.8v10.4M297.6 257.2v10.5M299.1 274.6v10.5M300.6 276.8v10.6M302.1 297.2v10.6M303.6 298.1v10.7M305.1 301.6v10.7M306.6 311.3v10.8M308.1 301.6v10.8M309.6 298.9v10.9M311.1 306.8v10.9M312.6 300.8v11M314.1 282.8v11M315.5 276.1v11.1M317 270.8v11.1M318.5 253.9v11.2M320 239.9v11.2M321.5 226.7v11.3M323 208.4v11.3M324.5 197.6v11.4M326 178.2v11.4M327.5 169.1v11.5M329 162.9v11.5M330.5 152.7v11.6M332 145.2v11.6M333.5 144.3v11.7M335 152.4v11.7M336.5 141.5v11.8M338 148v11.8M339.5 144v11.9M341 158.5v11.9M342.5 164.1v12M344 174.7v12.1M345.5 178v12.1M347 197.8v12.2M348.5 212.4v12.2M350 221.5v12.3M351.5 237.9v12.3M353 246.3v12.4M354.5 258.1v12.4M356 266.4v12.5M357.5 265.4v12.6M359 285.4v12.6M360.5 287.9v12.7M362 292.4v12.7M363.5 288.6v12.8M365 298.4v12.8M366.5 292.8v12.9M368 284.4v13M369.5 274.6v13M371 270.2v13.1M372.4 263.8v13.1M373.9 255.8v13.2M375.4 236.8v13.3M376.9 220v13.3M378.4 215.3v13.4M379.9 205.1v13.4M381.4 193v13.5M382.9 191.7v13.6M384.4 179.3v13.6M385.9 171.8v13.7M387.4 162.6v13.8M388.9 160.5v13.8M390.4 165.6v13.9M391.9 150.5v13.9M393.4 148.2v14M394.9 163.5v14.1M396.4 164v14.1M397.9 171v14.2M399.4 175.2v14.3M400.9 198.3v14.3M402.4 187.7v14.4M403.9 211v14.5M405.4 209.9v14.5M406.9 227.8v14.6M408.4 240.7v14.7M409.9 248.3v14.7M411.4 249.7v14.8M412.9 268.8v14.9M414.4 271.6v14.9M415.9 276.9v15M417.4 288.3v15.1M418.9 269.3v15.1M420.4 274.1v15.2M421.9 276.4v15.3M423.4 264.9v15.3M424.9 274.9v15.4M426.4 262.7v15.5M427.9 243v15.5M429.3 240.2v15.6M430.8 254.2v15.7M432.3 253.1v15.8M433.8 227.7v15.8M435.3 203.6v15.9M436.8 205.9v16M438.3 196v16.1M439.8 182.8v16.1M441.3 187.4v16.2M442.8 174.4v16.3M444.3 166.4v16.3M445.8 166.4v16.4M447.3 166.1v16.5M448.8 174v16.6M450.3 167.7v16.6M451.8 178.1v16.7M453.3 169.5v16.8M454.8 165.5v16.9M456.3 197.1v17M457.8 215.4v17M459.3 209.7v17.1M460.8 211.5v17.2M462.3 214.3v17.3M463.8 221.9v17.3M465.3 244v17.4M466.8 250.9v17.5M468.3 240.7v17.6M469.8 264.5v17.7M471.3 251.1v17.7M472.8 264.4v17.8M474.3 258v17.9M475.8 258.7v18M477.3 257.1v18.1M478.8 254.5v18.1M480.3 266v18.2M481.8 251v18.3M483.3 248.1v18.4M484.8 239.6v18.5M486.3 225.3v18.6M487.7 230.9v18.6M489.2 227.5v18.7M490.7 220.6v18.8M492.2 210.2v18.9M493.7 194.7v19M495.2 202.2v19.1M496.7 180.1v19.2M498.2 183.4v19.3M499.7 184.7v19.3M501.2 192.2v19.4M502.7 177.3v19.5M504.2 173.4v19.6M505.7 196.3v19.7M507.2 172.2v19.8M508.7 171.2v19.9M510.2 187v20M511.7 190.3v20.1M513.2 178.2v20.1M514.7 194.6v20.2M516.2 220.1v20.3M517.7 218.2v20.4M519.2 225.5v20.5M520.7 231.2v20.6M522.2 257.2v20.7M523.7 232.8v20.8M525.2 250v20.9M526.7 245.7v21M528.2 251v21.1M529.7 242.8v21.2M531.2 254.5v21.3M532.7 258.9v21.4M534.2 244.7v21.5M535.7 233.9v21.6M537.2 247.6v21.7M538.7 227.3v21.8M540.2 233.8v21.9M541.7 236.8v22M543.2 211.3v22.1M544.6 229.3v22.2M546.1 205.6v22.3M547.6 215.6v22.4M549.1 201.1v22.5M550.6 213.7v22.6M552.1 205.7v22.7M553.6 182.8v22.8M555.1 189.2v22.9M556.6 188.8v23M558.1 192.7v23.1M559.6 183.2v23.2M561.1 203.1v23.3M562.6 201.6v23.4M564.1 193.5v23.5M565.6 203.4v23.6M567.1 205.3v23.7M568.6 202.4v23.8M570.1 207.2v23.9M571.6 212.5v24.1M573.1 196.4v24.2M574.6 207.9v24.3M576.1 209.7v24.4M577.6 227.5v24.5M579.1 236.4v24.6M580.6 250.1v24.7M582.1 240.3v24.8M583.6 261.8v24.9M585.1 246.2v25.1M586.6 231.6v25.2M588.1 221.7v25.3M589.6 228.3v25.4M591.1 247.8v25.5M592.6 230.2v25.6M594.1 242.4v25.8M595.6 220.6v25.9M597.1 228.1v26M598.6 213.1v26.1M600.1 189v26.2M601.6 204.6v26.3M603 184v26.5M604.5 206v26.6M606 208.7v26.7M607.5 185.7v26.8M609 178.3v26.9M610.5 203.9v27.1M612 194.6v27.2M613.5 212.2v27.3M615 196.6v27.4M616.5 183.3v27.6M618 196.2v27.7M619.5 203.5v27.8M621 215.8v27.9M622.5 195.7v28.1M624 192.7v28.2M625.5 198v28.3M627 205.3v28.5M628.5 228.1v28.6M630 192v28.7M631.5 218.5v28.9M633 222.5v29M634.5 213.6v29.1M636 253.9v29.2" stroke="#ff0000" stroke-width="1.6" fill="none"/>
<path d="M112.5 122.3L114.7 127L117 138.2L119.2 155L121.5 176.5L123.7 201.3L126 227.8L128.2 254.3L130.5 279.2L132.7 300.8L135 317.7L137.2 329L139.5 333.9L141.7 332.1L144 323.7L146.2 309.2L148.5 289.7L150.7 266.3L153 240.6L155.2 214.1L157.5 188.7L159.7 165.8L162 146.9L164.2 133.3L166.5 125.7L168.7 124.7L171 130.3L173.2 142L175.5 159.2L177.7 180.7L180 205.2L182.2 231L184.5 256.6L186.7 280.3L189 300.5L191.2 316.1L193.5 326.1L195.7 329.9L198 327.2L200.2 318.2L202.5 303.6L204.7 284.3L207 261.6L209.2 236.9L211.5 211.8L213.7 187.9L216 166.7L218.2 149.5L220.5 137.5L222.7 131.2L225 131.2L227.2 137.3L229.5 149.2L231.7 165.9L234 186.6L236.2 209.7L238.5 233.8L240.7 257.4L243 279L245.2 297.3L247.5 311L249.7 319.4L252 322L254.2 318.6L256.5 309.6L258.7 295.4L261 277.2L263.2 256.1L265.5 233.3L267.7 210.5L270 189L272.2 170.2L274.5 155.2L276.7 145.1L278.9 140.2L281.2 141.1L283.4 147.4L285.7 158.7L287.9 174.4L290.2 193.3L292.4 214.3L294.7 235.9L296.9 256.8L299.2 275.7L301.4 291.4L303.7 302.9L305.9 309.6L308.2 311.1L310.4 307.4L312.7 298.7L314.9 285.7L317.2 269.2L319.4 250.3L321.7 230.2L323.9 210.3L326.2 191.8L328.4 175.8L330.7 163.4L332.9 155.2L335.2 151.7L337.4 153.1L339.7 159.3L341.9 169.7L344.2 183.7L346.4 200.4L348.7 218.5L350.9 237.1L353.2 254.8L355.4 270.7L357.7 283.6L359.9 292.9L362.2 297.9L364.4 298.5L366.7 294.7L368.9 286.8L371.2 275.2L373.4 260.9L375.7 244.8L377.9 227.9L380.2 211.2L382.4 195.9L384.7 182.9L386.9 173L389.2 166.7L391.4 164.4L393.7 166.2L395.9 171.9L398.2 181L400.4 193L402.7 207L404.9 222.1L407.2 237.4L409.4 251.8L411.7 264.5L413.9 274.7L416.2 281.9L418.4 285.5L420.7 285.4L422.9 281.8L425.2 274.8L427.4 265.1L429.7 253.2L431.9 240L434.2 226.3L436.4 213L438.7 200.9L440.9 190.7L443.1 183.2L445.4 178.6L447.6 177.3L449.9 179.2L452.1 184.1L454.4 191.8L456.6 201.6L458.9 212.9L461.1 224.9L463.4 237L465.6 248.2L467.9 258L470.1 265.7L472.4 270.9L474.6 273.3L476.9 272.8L479.1 269.6L481.4 263.8L483.6 255.9L485.9 246.5L488.1 236.1L490.4 225.5L492.6 215.2L494.9 206.1L497.1 198.5L499.4 193L501.6 189.8L503.9 189.2L506.1 191L508.4 195.1L510.6 201.3L512.9 209L515.1 217.7L517.4 226.9L519.6 236L521.9 244.4L524.1 251.6L526.4 257.1L528.6 260.8L530.9 262.3L533.1 261.6L535.4 258.9L537.6 254.3L539.9 248.2L542.1 241L544.4 233.2L546.6 225.3L548.9 217.7L551.1 211.1L553.4 205.7L555.6 201.9L557.9 199.8L560.1 199.6L562.4 201.2L564.6 204.4L566.9 209.1L569.1 214.9L571.4 221.4L573.6 228.1L575.9 234.7L578.1 240.7L580.4 245.8L582.6 249.6L584.9 252L587.1 252.9L589.4 252.2L591.6 250L593.9 246.5L596.1 242L598.4 236.7L600.6 231.1L602.9 225.5L605.1 220.2L607.3 215.5L609.6 211.9L611.8 209.3L614.1 208L616.3 208.1L618.6 209.4L620.8 211.9L623.1 215.3L625.3 219.5L627.6 224.1L629.8 228.8L632.1 233.4L634.3 237.5L636.6 240.9" stroke="#ff0000" stroke-width="2.8" fill="none" stroke-linejoin="round"/>
<path d="M113.4 111.5l9.7 9.7l-9.7 9.7l-9.7 -9.7zM116.4 123.2l9.7 9.7l-9.7 9.7l-9.7 -9.7zM119.4 140.1l9.7 9.7l-9.7 9.7l-9.7 -9.7zM122.4 178.8l9.7 9.7l-9.7 9.7l-9.7 -9.7zM125.4 211.9l9.7 9.7l-9.7 9.7l-9.7 -9.7zM128.4 245.7l9.7 9.7l-9.7 9.7l-9.7 -9.7zM131.4 280.2l9.7 9.7l-9.7 9.7l-9.7 -9.7zM134.4 311.1l9.7 9.7l-9.7 9.7l-9.7 -9.7zM137.4 315.3l9.7 9.7l-9.7 9.7l-9.7 -9.7zM140.4 326.3l9.7 9.7l-9.7 9.7l-9.7 -9.7zM143.3 315.3l9.7 9.7l-9.7 9.7l-9.7 -9.7zM146.3 302.3l9.7 9.7l-9.7 9.7l-9.7 -9.7zM149.3 270.8l9.7 9.7l-9.7 9.7l-9.7 -9.7zM152.3 240.5l9.7 9.7l-9.7 9.7l-9.7 -9.7zM155.3 202.1l9.7 9.7l-9.7 9.7l-9.7 -9.7zM158.3 171.7l9.7 9.7l-9.7 9.7l-9.7 -9.7zM161.3 139.7l9.7 9.7l-9.7 9.7l-9.7 -9.7zM164.3 119.8l9.7 9.7l-9.7 9.7l-9.7 -9.7zM167.3 110.6l9.7 9.7l-9.7 9.7l-9.7 -9.7zM170.3 118.4l9.7 9.7l-9.7 9.7l-9.7 -9.7zM173.3 131.8l9.7 9.7l-9.7 9.7l-9.7 -9.7zM176.3 156.3l9.7 9.7l-9.7 9.7l-9.7 -9.7zM179.3 189.3l9.7 9.7l-9.7 9.7l-9.7 -9.7zM182.3 225l9.7 9.7l-9.7 9.7l-9.7 -9.7zM185.3 255l9.7 9.7l-9.7 9.7l-9.7 -9.7zM188.3 289.4l9.7 9.7l-9.7 9.7l-9.7 -9.7zM191.3 301.7l9.7 9.7l-9.7 9.7l-9.7 -9.7zM194.3 321l9.7 9.7l-9.7 9.7l-9.7 -9.7zM197.3 314.1l9.7 9.7l-9.7 9.7l-9.7 -9.7zM200.2 305.6l9.7 9.7l-9.7 9.7l-9.7 -9.7zM203.2 285.9l9.7 9.7l-9.7 9.7l-9.7 -9.7zM206.2 262.4l9.7 9.7l-9.7 9.7l-9.7 -9.7zM209.2 226.2l9.7 9.7l-9.7 9.7l-9.7 -9.7zM212.2 201.3l9.7 9.7l-9.7 9.7l-9.7 -9.7zM215.2 160l9.7 9.7l-9.7 9.7l-9.7 -9.7zM218.2 138.2l9.7 9.7l-9.7 9.7l-9.7 -9.7zM221.2 122.9l9.7 9.7l-9.7 9.7l-9.7 -9.7zM224.2 121.4l9.7 9.7l-9.7 9.7l-9.7 -9.7zM227.2 122.7l9.7 9.7l-9.7 9.7l-9.7 -9.7zM230.2 144.1l9.7 9.7l-9.7 9.7l-9.7 -9.7zM233.2 165.4l9.7 9.7l-9.7 9.7l-9.7 -9.7zM236.2 204.9l9.7 9.7l-9.7 9.7l-9.7 -9.7zM239.2 236.2l9.7 9.7l-9.7 9.7l-9.7 -9.7zM242.2 261.8l9.7 9.7l-9.7 9.7l-9.7 -9.7zM245.2 291.6l9.7 9.7l-9.7 9.7l-9.7 -9.7zM248.2 311.7l9.7 9.7l-9.7 9.7l-9.7 -9.7zM251.2 318.5l9.7 9.7l-9.7 9.7l-9.7 -9.7zM254.2 306.4l9.7 9.7l-9.7 9.7l-9.7 -9.7zM257.1 299.3l9.7 9.7l-9.7 9.7l-9.7 -9.7zM260.1 272.5l9.7 9.7l-9.7 9.7l-9.7 -9.7zM263.1 247.1l9.7 9.7l-9.7 9.7l-9.7 -9.7zM266.1 219.7l9.7 9.7l-9.7 9.7l-9.7 -9.7zM269.1 189.2l9.7 9.7l-9.7 9.7l-9.7 -9.7zM272.1 156.8l9.7 9.7l-9.7 9.7l-9.7 -9.7zM275.1 142.1l9.7 9.7l-9.7 9.7l-9.7 -9.7zM278.1 127.9l9.7 9.7l-9.7 9.7l-9.7 -9.7zM281.1 127.5l9.7 9.7l-9.7 9.7l-9.7 -9.7zM284.1 143.6l9.7 9.7l-9.7 9.7l-9.7 -9.7zM287.1 158.9l9.7 9.7l-9.7 9.7l-9.7 -9.7zM290.1 170.8l9.7 9.7l-9.7 9.7l-9.7 -9.7zM293.1 210.7l9.7 9.7l-9.7 9.7l-9.7 -9.7zM296.1 238.3l9.7 9.7l-9.7 9.7l-9.7 -9.7zM299.1 270.2l9.7 9.7l-9.7 9.7l-9.7 -9.7zM302.1 292.8l9.7 9.7l-9.7 9.7l-9.7 -9.7zM305.1 297.3l9.7 9.7l-9.7 9.7l-9.7 -9.7zM308.1 297.3l9.7 9.7l-9.7 9.7l-9.7 -9.7zM311.1 302.6l9.7 9.7l-9.7 9.7l-9.7 -9.7zM314.1 278.6l9.7 9.7l-9.7 9.7l-9.7 -9.7zM317 266.6l9.7 9.7l-9.7 9.7l-9.7 -9.7zM320 235.8l9.7 9.7l-9.7 9.7l-9.7 -9.7zM323 204.3l9.7 9.7l-9.7 9.7l-9.7 -9.7zM326 174.2l9.7 9.7l-9.7 9.7l-9.7 -9.7zM329 159l9.7 9.7l-9.7 9.7l-9.7 -9.7zM332 141.3l9.7 9.7l-9.7 9.7l-9.7 -9.7zM335 148.6l9.7 9.7l-9.7 9.7l-9.7 -9.7zM338 144.2l9.7 9.7l-9.7 9.7l-9.7 -9.7zM341 154.7l9.7 9.7l-9.7 9.7l-9.7 -9.7zM344 171l9.7 9.7l-9.7 9.7l-9.7 -9.7zM347 194.1l9.7 9.7l-9.7 9.7l-9.7 -9.7zM350 218l9.7 9.7l-9.7 9.7l-9.7 -9.7zM353 242.8l9.7 9.7l-9.7 9.7l-9.7 -9.7zM356 262.9l9.7 9.7l-9.7 9.7l-9.7 -9.7zM359 282l9.7 9.7l-9.7 9.7l-9.7 -9.7zM362 289.1l9.7 9.7l-9.7 9.7l-9.7 -9.7zM365 295.2l9.7 9.7l-9.7 9.7l-9.7 -9.7zM368 281.2l9.7 9.7l-9.7 9.7l-9.7 -9.7zM371 267.1l9.7 9.7l-9.7 9.7l-9.7 -9.7zM373.9 252.7l9.7 9.7l-9.7 9.7l-9.7 -9.7zM376.9 216.9l9.7 9.7l-9.7 9.7l-9.7 -9.7zM379.9 202.1l9.7 9.7l-9.7 9.7l-9.7 -9.7zM382.9 188.8l9.7 9.7l-9.7 9.7l-9.7 -9.7zM385.9 168.9l9.7 9.7l-9.7 9.7l-9.7 -9.7zM388.9 157.7l9.7 9.7l-9.7 9.7l-9.7 -9.7zM391.9 147.7l9.7 9.7l-9.7 9.7l-9.7 -9.7zM394.9 160.9l9.7 9.7l-9.7 9.7l-9.7 -9.7zM397.9 168.4l9.7 9.7l-9.7 9.7l-9.7 -9.7zM400.9 195.7l9.7 9.7l-9.7 9.7l-9.7 -9.7zM403.9 208.6l9.7 9.7l-9.7 9.7l-9.7 -9.7zM406.9 225.4l9.7 9.7l-9.7 9.7l-9.7 -9.7zM409.9 245.9l9.7 9.7l-9.7 9.7l-9.7 -9.7zM412.9 266.5l9.7 9.7l-9.7 9.7l-9.7 -9.7zM415.9 274.7l9.7 9.7l-9.7 9.7l-9.7 -9.7zM418.9 267.2l9.7 9.7l-9.7 9.7l-9.7 -9.7zM421.9 274.3l9.7 9.7l-9.7 9.7l-9.7 -9.7zM424.9 272.9l9.7 9.7l-9.7 9.7l-9.7 -9.7zM427.9 241.1l9.7 9.7l-9.7 9.7l-9.7 -9.7zM430.8 252.3l9.7 9.7l-9.7 9.7l-9.7 -9.7zM433.8 225.9l9.7 9.7l-9.7 9.7l-9.7 -9.7zM436.8 204.2l9.7 9.7l-9.7 9.7l-9.7 -9.7zM439.8 181.2l9.7 9.7l-9.7 9.7l-9.7 -9.7zM442.8 172.8l9.7 9.7l-9.7 9.7l-9.7 -9.7zM445.8 164.9l9.7 9.7l-9.7 9.7l-9.7 -9.7zM448.8 172.6l9.7 9.7l-9.7 9.7l-9.7 -9.7zM451.8 176.7l9.7 9.7l-9.7 9.7l-9.7 -9.7zM454.8 164.2l9.7 9.7l-9.7 9.7l-9.7 -9.7zM457.8 214.2l9.7 9.7l-9.7 9.7l-9.7 -9.7zM460.8 210.4l9.7 9.7l-9.7 9.7l-9.7 -9.7zM463.8 220.9l9.7 9.7l-9.7 9.7l-9.7 -9.7zM466.8 249.9l9.7 9.7l-9.7 9.7l-9.7 -9.7zM469.8 263.6l9.7 9.7l-9.7 9.7l-9.7 -9.7zM472.8 263.6l9.7 9.7l-9.7 9.7l-9.7 -9.7zM475.8 258l9.7 9.7l-9.7 9.7l-9.7 -9.7zM478.8 253.9l9.7 9.7l-9.7 9.7l-9.7 -9.7zM481.8 250.5l9.7 9.7l-9.7 9.7l-9.7 -9.7zM484.8 239.1l9.7 9.7l-9.7 9.7l-9.7 -9.7zM487.7 230.5l9.7 9.7l-9.7 9.7l-9.7 -9.7zM490.7 220.3l9.7 9.7l-9.7 9.7l-9.7 -9.7zM493.7 194.4l9.7 9.7l-9.7 9.7l-9.7 -9.7zM496.7 180l9.7 9.7l-9.7 9.7l-9.7 -9.7zM499.7 184.6l9.7 9.7l-9.7 9.7l-9.7 -9.7zM502.7 177.4l9.7 9.7l-9.7 9.7l-9.7 -9.7zM505.7 196.4l9.7 9.7l-9.7 9.7l-9.7 -9.7zM508.7 171.5l9.7 9.7l-9.7 9.7l-9.7 -9.7zM511.7 190.6l9.7 9.7l-9.7 9.7l-9.7 -9.7zM514.7 195.1l9.7 9.7l-9.7 9.7l-9.7 -9.7zM517.7 218.7l9.7 9.7l-9.7 9.7l-9.7 -9.7zM520.7 231.8l9.7 9.7l-9.7 9.7l-9.7 -9.7zM523.7 233.5l9.7 9.7l-9.7 9.7l-9.7 -9.7zM526.7 246.5l9.7 9.7l-9.7 9.7l-9.7 -9.7zM529.7 243.7l9.7 9.7l-9.7 9.7l-9.7 -9.7zM532.7 259.9l9.7 9.7l-9.7 9.7l-9.7 -9.7zM535.7 235l9.7 9.7l-9.7 9.7l-9.7 -9.7zM538.7 228.5l9.7 9.7l-9.7 9.7l-9.7 -9.7zM541.7 238.1l9.7 9.7l-9.7 9.7l-9.7 -9.7zM544.6 230.6l9.7 9.7l-9.7 9.7l-9.7 -9.7zM547.6 217.1l9.7 9.7l-9.7 9.7l-9.7 -9.7zM550.6 215.2l9.7 9.7l-9.7 9.7l-9.7 -9.7zM553.6 184.5l9.7 9.7l-9.7 9.7l-9.7 -9.7zM556.6 190.6l9.7 9.7l-9.7 9.7l-9.7 -9.7zM559.6 185.1l9.7 9.7l-9.7 9.7l-9.7 -9.7zM562.6 203.6l9.7 9.7l-9.7 9.7l-9.7 -9.7zM565.6 205.5l9.7 9.7l-9.7 9.7l-9.7 -9.7zM568.6 204.6l9.7 9.7l-9.7 9.7l-9.7 -9.7zM571.6 214.8l9.7 9.7l-9.7 9.7l-9.7 -9.7zM574.6 210.3l9.7 9.7l-9.7 9.7l-9.7 -9.7zM577.6 230l9.7 9.7l-9.7 9.7l-9.7 -9.7zM580.6 252.7l9.7 9.7l-9.7 9.7l-9.7 -9.7zM583.6 264.6l9.7 9.7l-9.7 9.7l-9.7 -9.7zM586.6 234.5l9.7 9.7l-9.7 9.7l-9.7 -9.7zM589.6 231.3l9.7 9.7l-9.7 9.7l-9.7 -9.7zM592.6 233.3l9.7 9.7l-9.7 9.7l-9.7 -9.7zM595.6 223.9l9.7 9.7l-9.7 9.7l-9.7 -9.7zM598.6 216.5l9.7 9.7l-9.7 9.7l-9.7 -9.7zM601.6 208.1l9.7 9.7l-9.7 9.7l-9.7 -9.7zM604.5 209.6l9.7 9.7l-9.7 9.7l-9.7 -9.7zM607.5 189.4l9.7 9.7l-9.7 9.7l-9.7 -9.7zM610.5 207.7l9.7 9.7l-9.7 9.7l-9.7 -9.7zM613.5 216.2l9.7 9.7l-9.7 9.7l-9.7 -9.7zM616.5 187.4l9.7 9.7l-9.7 9.7l-9.7 -9.7zM619.5 207.7l9.7 9.7l-9.7 9.7l-9.7 -9.7zM622.5 200l9.7 9.7l-9.7 9.7l-9.7 -9.7zM625.5 202.5l9.7 9.7l-9.7 9.7l-9.7 -9.7zM628.5 232.7l9.7 9.7l-9.7 9.7l-9.7 -9.7zM631.5 223.2l9.7 9.7l-9.7 9.7l-9.7 -9.7zM634.5 218.4l9.7 9.7l-9.7 9.7l-9.7 -9.7z" fill="#ff0000"/>
</g>
<path d="M481.5 348.9l16.5 -9.4v18.8z" fill="#9b37ff"/>
<path d="M492.4 372.8l9.8 9.8l-9.8 9.8l-9.8 -9.8z" fill="#ff0000"/>
<text transform="translate(531 359) scale(0.978 1.05)" font-size="27" text-anchor="start">0.27 K</text>
<text transform="translate(531 392.5) scale(0.978 1.05)" font-size="27" text-anchor="start">5 K</text>
<text x="22.6" y="23.5" font-size="43.5" text-anchor="start">a</text>
<text transform="translate(26.2 317.3) rotate(-90)" font-size="35.8">Asymmetry</text>
<clipPath id="clipc"><rect x="793" y="25.9" width="527.3" height="405.2"/></clipPath>
<rect x="794.6" y="27.5" width="524.1" height="402" fill="none" stroke="#000" stroke-width="3.2"/>
<path d="M869.5 429.5v-13.2M869.5 27.5v13.2M944.3 429.5v-13.2M944.3 27.5v13.2M1019.2 429.5v-13.2M1019.2 27.5v13.2M1094.1 429.5v-13.2M1094.1 27.5v13.2M1169 429.5v-13.2M1169 27.5v13.2M1243.8 429.5v-13.2M1243.8 27.5v13.2M832 429.5v-6.4M832 27.5v6.4M906.9 429.5v-6.4M906.9 27.5v6.4M981.8 429.5v-6.4M981.8 27.5v6.4M1056.6 429.5v-6.4M1056.6 27.5v6.4M1131.5 429.5v-6.4M1131.5 27.5v6.4M1206.4 429.5v-6.4M1206.4 27.5v6.4M1281.3 429.5v-6.4M1281.3 27.5v6.4M794.6 429.5h13.2M1318.7 429.5h-13.2M794.6 340.1h13.2M1318.7 340.1h-13.2M794.6 250.8h13.2M1318.7 250.8h-13.2M794.6 161.5h13.2M1318.7 161.5h-13.2M794.6 72.1h13.2M1318.7 72.1h-13.2M794.6 384.8h6.4M1318.7 384.8h-6.4M794.6 295.5h6.4M1318.7 295.5h-6.4M794.6 206.1h6.4M1318.7 206.1h-6.4M794.6 116.8h6.4M1318.7 116.8h-6.4" stroke="#000" stroke-width="3.2" fill="none"/>
<text transform="translate(794.6 469.2) scale(0.978 1.05)" font-size="32" text-anchor="middle">0</text>
<text transform="translate(869.5 469.2) scale(0.978 1.05)" font-size="32" text-anchor="middle">1</text>
<text transform="translate(944.3 469.2) scale(0.978 1.05)" font-size="32" text-anchor="middle">2</text>
<text transform="translate(1019.2 469.2) scale(0.978 1.05)" font-size="32" text-anchor="middle">3</text>
<text transform="translate(1094.1 469.2) scale(0.978 1.05)" font-size="32" text-anchor="middle">4</text>
<text transform="translate(1169 469.2) scale(0.978 1.05)" font-size="32" text-anchor="middle">5</text>
<text transform="translate(1243.8 469.2) scale(0.978 1.05)" font-size="32" text-anchor="middle">6</text>
<text transform="translate(1318.7 469.2) scale(0.978 1.05)" font-size="32" text-anchor="middle">7</text>
<text transform="translate(778.5 439.7) scale(0.978 1.05)" font-size="32" text-anchor="end">-0.4</text>
<text transform="translate(778.5 350.3) scale(0.978 1.05)" font-size="32" text-anchor="end">-0.2</text>
<text transform="translate(778.5 261) scale(0.978 1.05)" font-size="32" text-anchor="end">0.0</text>
<text transform="translate(778.5 171.7) scale(0.978 1.05)" font-size="32" text-anchor="end">0.2</text>
<text transform="translate(778.5 82.3) scale(0.978 1.05)" font-size="32" text-anchor="end">0.4</text>
<g clip-path="url(#clipc)">
<path d="M795.5 159.6v6.5M797 157.8v6.5M798.5 162.7v6.5M800 174.7v6.5M801.5 183.2v6.6M803 194.9v6.6M804.5 204.3v6.6M806 220.1v6.7M807.5 232.5v6.7M809 255.6v6.7M810.5 260.5v6.7M812 280.5v6.8M813.5 292.3v6.8M815 307.8v6.8M816.5 320v6.9M818 327v6.9M819.5 333.3v6.9M821 341.7v7M822.5 344.3v7M823.9 341.8v7M825.4 344.5v7.1M826.9 341.7v7.1M828.4 328.5v7.1M829.9 322.7v7.2M831.4 315.6v7.2M832.9 299.3v7.2M834.4 284.2v7.3M835.9 271.8v7.3M837.4 257.5v7.3M838.9 237.2v7.4M840.4 219.5v7.4M841.9 209.2v7.4M843.4 197.9v7.5M844.9 182.7v7.5M846.4 172v7.5M847.9 168v7.6M849.4 159.9v7.6M850.9 155.3v7.6M852.4 159.3v7.7M853.9 163.5v7.7M855.4 164v7.7M856.9 171.1v7.8M858.4 177v7.8M859.9 196v7.8M861.4 206.1v7.9M862.9 220.1v7.9M864.4 237.5v8M865.9 245.4v8M867.4 258.5v8M868.9 277.3v8.1M870.4 283v8.1M871.9 297.4v8.1M873.4 308.9v8.2M874.9 318.7v8.2M876.4 323.6v8.2M877.9 337v8.3M879.4 332.2v8.3M880.9 332.4v8.4M882.3 339v8.4M883.8 326.5v8.4M885.3 322v8.5M886.8 309.4v8.5M888.3 303.6v8.5M889.8 290.2v8.6M891.3 275.8v8.6M892.8 266.8v8.7M894.3 246.9v8.7M895.8 235.6v8.7M897.3 219.6v8.8M898.8 210.6v8.8M900.3 192.4v8.9M901.8 183.9v8.9M903.3 178.4v8.9M904.8 168.3v9M906.3 161.1v9M907.8 156.4v9.1M909.3 169.9v9.1M910.8 161.8v9.2M912.3 167.7v9.2M913.8 176.3v9.2M915.3 188.2v9.3M916.8 188.4v9.3M918.3 210v9.4M919.8 214.4v9.4M921.3 224v9.4M922.8 249.5v9.5M924.3 257v9.5M925.8 274.1v9.6M927.3 279.3v9.6M928.8 284.7v9.7M930.3 292v9.7M931.8 316.6v9.8M933.3 317.4v9.8M934.8 316v9.8M936.3 314.2v9.9M937.8 319.4v9.9M939.2 322.5v10M940.7 313.8v10M942.2 309.2v10.1M943.7 302.4v10.1M945.2 295.7v10.2M946.7 280.1v10.2M948.2 269.1v10.3M949.7 259v10.3M951.2 247.4v10.3M952.7 240.1v10.4M954.2 224.6v10.4M955.7 205.4v10.5M957.2 201.9v10.5M958.7 198.9v10.6M960.2 178.3v10.6M961.7 176.3v10.7M963.2 164.8v10.7M964.7 172.6v10.8M966.2 175v10.8M967.7 181.6v10.9M969.2 171.7v10.9M970.7 170.8v11M972.2 194.5v11M973.7 202v11.1M975.2 205.1v11.1M976.7 222.5v11.2M978.2 230.5v11.2M979.7 241.9v11.3M981.2 250.1v11.3M982.7 256.1v11.4M984.2 271.6v11.4M985.7 276.1v11.5M987.2 290.9v11.5M988.7 293.6v11.6M990.2 311.6v11.6M991.7 311.4v11.7M993.2 301.3v11.8M994.7 308.6v11.8M996.2 300.6v11.9M997.6 297.3v11.9M999.1 288.1v12M1000.6 284.5v12M1002.1 275.8v12.1M1003.6 273.3v12.1M1005.1 267.2v12.2M1006.6 257.6v12.2M1008.1 246.3v12.3M1009.6 239.9v12.4M1011.1 227.1v12.4M1012.6 215.5v12.5M1014.1 205.4v12.5M1015.6 201.5v12.6M1017.1 204.6v12.6M1018.6 189.5v12.7M1020.1 184.6v12.8M1021.6 178.1v12.8M1023.1 180.9v12.9M1024.6 189.5v12.9M1026.1 193v13M1027.6 181.2v13M1029.1 194.1v13.1M1030.6 194.4v13.2M1032.1 200v13.2M1033.6 225.7v13.3M1035.1 227.1v13.3M1036.6 235.3v13.4M1038.1 243.3v13.5M1039.6 251.8v13.5M1041.1 261.7v13.6M1042.6 268.9v13.7M1044.1 285.4v13.7M1045.6 282.3v13.8M1047.1 289.8v13.8M1048.6 287v13.9M1050.1 292v14M1051.6 285v14M1053.1 282.3v14.1M1054.5 282.8v14.2M1056 278.9v14.2M1057.5 275.3v14.3M1059 272.9v14.4M1060.5 264.4v14.4M1062 259.4v14.5M1063.5 246.1v14.6M1065 240.9v14.6M1066.5 229.5v14.7M1068 234.8v14.8M1069.5 213.2v14.8M1071 218v14.9M1072.5 212.4v15M1074 204.3v15M1075.5 203.3v15.1M1077 195.2v15.2M1078.5 199.9v15.2M1080 203.3v15.3M1081.5 203v15.4M1083 190.3v15.4M1084.5 202.3v15.5M1086 215v15.6M1087.5 211.7v15.6M1089 228.4v15.7M1090.5 210.7v15.8M1092 240.7v15.9M1093.5 232.8v15.9M1095 238.7v16M1096.5 259.3v16.1M1098 252.4v16.2M1099.5 252.5v16.2M1101 260.8v16.3M1102.5 266v16.4M1104 263.7v16.5M1105.5 271.4v16.5M1107 271v16.6M1108.5 274.3v16.7M1110 267.5v16.8M1111.4 277.4v16.8M1112.9 261.3v16.9M1114.4 267.6v17M1115.9 267.8v17.1M1117.4 251.8v17.1M1118.9 236.2v17.2M1120.4 236.4v17.3M1121.9 242.4v17.4M1123.4 227.4v17.5M1124.9 231.2v17.5M1126.4 223.6v17.6M1127.9 217.5v17.7M1129.4 232.9v17.8M1130.9 209.6v17.9M1132.4 217v17.9M1133.9 212.7v18M1135.4 218.2v18.1M1136.9 218.6v18.2M1138.4 214.8v18.3M1139.9 201.8v18.3M1141.4 197.1v18.4M1142.9 214.1v18.5M1144.4 208.2v18.6M1145.9 223.5v18.7M1147.4 241.7v18.8M1148.9 228.7v18.9M1150.4 230.6v18.9M1151.9 242.6v19M1153.4 240.5v19.1M1154.9 242.1v19.2M1156.4 258.2v19.3M1157.9 266.6v19.4M1159.4 258.2v19.5M1160.9 260v19.6M1162.4 262.5v19.6M1163.9 251.2v19.7M1165.4 244.4v19.8M1166.9 262.7v19.9M1168.4 251.3v20M1169.8 247.1v20.1M1171.3 246.6v20.2M1172.8 240.5v20.3M1174.3 250.3v20.4M1175.8 236.4v20.5M1177.3 220.7v20.6M1178.8 228.2v20.7M1180.3 237.8v20.7M1181.8 222.7v20.8M1183.3 213.2v20.9M1184.8 218.6v21M1186.3 224.8v21.1M1187.8 202.6v21.2M1189.3 227.7v21.3M1190.8 209.7v21.4M1192.3 214.2v21.5M1193.8 225.7v21.6M1195.3 202.7v21.7M1196.8 212.2v21.8M1198.3 228.7v21.9M1199.8 213.1v22M1201.3 225.7v22.1M1202.8 243v22.2M1204.3 233.6v22.3M1205.8 226.9v22.4M1207.3 226.1v22.5M1208.8 233.7v22.6M1210.3 237.7v22.7M1211.8 235.9v22.8M1213.3 245.1v22.9M1214.8 232.7v23M1216.3 245v23.1M1217.8 244.6v23.2M1219.3 242.8v23.3M1220.8 259.9v23.5M1222.3 256.2v23.6M1223.8 231.8v23.7M1225.3 243.6v23.8M1226.7 248.9v23.9M1228.2 240.5v24M1229.7 247.4v24.1M1231.2 237v24.2M1232.7 245.1v24.3M1234.2 232.3v24.4M1235.7 250.4v24.5M1237.2 215.8v24.7M1238.7 234v24.8M1240.2 243.9v24.9M1241.7 226.8v25M1243.2 226.8v25.1M1244.7 219.5v25.2M1246.2 233.2v25.3M1247.7 214.9v25.5M1249.2 177.4v25.6M1250.7 233.9v25.7M1252.2 215.5v25.8M1253.7 223.7v25.9M1255.2 218.7v26M1256.7 243.5v26.2M1258.2 237.2v26.3M1259.7 219.7v26.4M1261.2 227.3v26.5M1262.7 209v26.6M1264.2 238.8v26.8M1265.7 229.9v26.9M1267.2 198.3v27M1268.7 244.6v27.1M1270.2 247.7v27.2M1271.7 238.2v27.4M1273.2 239.2v27.5M1274.7 228.9v27.6M1276.2 238.1v27.7M1277.7 249.4v27.9M1279.2 237.1v28M1280.7 206v28.1M1282.2 222.6v28.3M1283.7 273.5v28.4M1285.1 238.7v28.5M1286.6 247v28.6M1288.1 226.3v28.8M1289.6 235.2v28.9M1291.1 206.3v29M1292.6 217.8v29.2M1294.1 216.8v29.3M1295.6 224.7v29.4M1297.1 226.4v29.6M1298.6 220.2v29.7M1300.1 206.3v29.8M1301.6 215.7v30M1303.1 227v30.1M1304.6 204.5v30.3M1306.1 218.9v30.4M1307.6 222.6v30.5M1309.1 232.6v30.7M1310.6 229.9v30.8M1312.1 231.4v30.9M1313.6 262.3v31.1M1315.1 209.7v31.2M1316.6 216.8v31.4M1318.1 228.8v31.5" stroke="#9b37ff" stroke-width="1.6" fill="none"/>
<path d="M794.6 162.9L796.8 164.7L799.1 172.1L801.3 184.7L803.6 201.7L805.8 222L808.1 244.3L810.3 267.4L812.6 289.6L814.8 309.8L817.1 326.5L819.3 338.9L821.6 346L823.8 347.6L826.1 343.5L828.3 333.9L830.6 319.5L832.8 301.1L835.1 279.9L837.3 257.2L839.6 234.4L841.8 212.8L844.1 193.9L846.3 178.7L848.6 168.1L850.8 162.8L853.1 163L855.3 168.8L857.6 179.7L859.8 195L862.1 213.7L864.3 234.8L866.6 256.7L868.8 278.3L871.1 298.1L873.3 315L875.6 327.9L877.8 336.1L880.1 339L882.3 336.6L884.6 329L886.8 316.8L889.1 300.6L891.3 281.5L893.6 260.8L895.8 239.6L898.1 219.3L900.3 201.2L902.6 186.2L904.8 175.3L907.1 169.2L909.3 168L911.6 171.9L913.8 180.6L916.1 193.5L918.3 209.6L920.6 228.1L922.8 247.7L925.1 267.2L927.3 285.5L929.6 301.3L931.8 313.9L934.1 322.3L936.3 326.2L938.6 325.4L940.8 319.9L943.1 310.2L945.3 296.9L947.6 280.9L949.8 263.2L952.1 244.8L954.3 226.9L956.6 210.6L958.8 196.9L961 186.5L963.3 180.1L965.5 178L967.8 180.2L970 186.5L972.3 196.5L974.5 209.5L976.8 224.7L979 241.1L981.3 257.6L983.5 273.3L985.8 287.2L988 298.5L990.3 306.5L992.5 310.9L994.8 311.2L997 307.8L999.3 300.7L1001.5 290.5L1003.8 277.9L1006 263.7L1008.3 248.7L1010.5 234L1012.8 220.3L1015 208.6L1017.3 199.4L1019.5 193.3L1021.8 190.7L1024 191.5L1026.3 195.7L1028.5 202.9L1030.8 212.7L1033 224.4L1035.3 237.2L1037.5 250.3L1039.8 262.9L1042 274.3L1044.3 283.8L1046.5 290.8L1048.8 295L1051 296.1L1053.3 294.2L1055.5 289.5L1057.8 282.2L1060 273L1062.3 262.3L1064.5 250.9L1066.8 239.5L1069 228.8L1071.3 219.4L1073.5 211.9L1075.8 206.6L1078 203.9L1080.3 203.8L1082.5 206.2L1084.8 211.1L1087 217.9L1089.3 226.3L1091.5 235.7L1093.8 245.4L1096 254.9L1098.3 263.7L1100.5 271.1L1102.8 276.8L1105 280.4L1107.3 281.9L1109.5 281.1L1111.8 278.2L1114 273.3L1116.3 267L1118.5 259.5L1120.8 251.4L1123 243.1L1125.2 235.3L1127.5 228.2L1129.7 222.5L1132 218.2L1134.2 215.8L1136.5 215.2L1138.7 216.5L1141 219.5L1143.2 223.9L1145.5 229.6L1147.7 236L1150 242.7L1152.2 249.5L1154.5 255.7L1156.7 261.1L1159 265.4L1161.2 268.3L1163.5 269.7L1165.7 269.6L1168 268L1170.2 265L1172.5 261L1174.7 256L1177 250.6L1179.2 245L1181.5 239.6L1183.7 234.7L1186 230.6L1188.2 227.5L1190.5 225.5L1192.7 224.8L1195 225.3L1197.2 227L1199.5 229.7L1201.7 233.2L1204 237.3L1206.2 241.7L1208.5 246.1L1210.7 250.3L1213 254L1215.2 257L1217.5 259.1L1219.7 260.3L1222 260.5L1224.2 259.7L1226.5 258L1228.7 255.6L1231 252.6L1233.2 249.2L1235.5 245.6L1237.7 242.2L1240 239L1242.2 236.2L1244.5 234L1246.7 232.6L1249 231.9L1251.2 232L1253.5 232.9L1255.7 234.4L1258 236.5L1260.2 238.9L1262.5 241.6L1264.7 244.3L1267 247L1269.2 249.3L1271.5 251.3L1273.7 252.7L1276 253.6L1278.2 253.9L1280.5 253.5L1282.7 252.7L1285 251.3L1287.2 249.6L1289.4 247.6L1291.7 245.5L1293.9 243.4L1296.2 241.4L1298.4 239.7L1300.7 238.3L1302.9 237.4L1305.2 236.8L1307.4 236.8L1309.7 237.2L1311.9 237.9L1314.2 239.1L1316.4 240.4L1318.7 242" stroke="#9b37ff" stroke-width="2.8" fill="none" stroke-linejoin="round"/>
<path d="M785.6 162.8l15.5 -8.5v17zM787.1 161l15.5 -8.5v17zM788.6 166l15.5 -8.5v17zM790.1 178l15.5 -8.5v17zM791.6 186.5l15.5 -8.5v17zM793.1 198.2l15.5 -8.5v17zM794.6 207.6l15.5 -8.5v17zM796.1 223.4l15.5 -8.5v17zM797.6 235.8l15.5 -8.5v17zM799.1 258.9l15.5 -8.5v17zM800.6 263.9l15.5 -8.5v17zM802 283.9l15.5 -8.5v17zM803.5 295.7l15.5 -8.5v17zM805 311.2l15.5 -8.5v17zM806.5 323.4l15.5 -8.5v17zM808 330.4l15.5 -8.5v17zM809.5 336.8l15.5 -8.5v17zM811 345.2l15.5 -8.5v17zM812.5 347.8l15.5 -8.5v17zM814 345.4l15.5 -8.5v17zM815.5 348l15.5 -8.5v17zM817 345.3l15.5 -8.5v17zM818.5 332.1l15.5 -8.5v17zM820 326.2l15.5 -8.5v17zM821.5 319.2l15.5 -8.5v17zM823 302.9l15.5 -8.5v17zM824.5 287.8l15.5 -8.5v17zM826 275.4l15.5 -8.5v17zM827.5 261.2l15.5 -8.5v17zM829 240.9l15.5 -8.5v17zM830.5 223.2l15.5 -8.5v17zM832 212.9l15.5 -8.5v17zM833.5 201.7l15.5 -8.5v17zM835 186.5l15.5 -8.5v17zM836.5 175.8l15.5 -8.5v17zM838 171.8l15.5 -8.5v17zM839.5 163.7l15.5 -8.5v17zM841 159.1l15.5 -8.5v17zM842.5 163.1l15.5 -8.5v17zM844 167.3l15.5 -8.5v17zM845.5 167.8l15.5 -8.5v17zM847 175l15.5 -8.5v17zM848.5 180.9l15.5 -8.5v17zM850 200l15.5 -8.5v17zM851.5 210l15.5 -8.5v17zM853 224l15.5 -8.5v17zM854.5 241.4l15.5 -8.5v17zM856 249.4l15.5 -8.5v17zM857.5 262.6l15.5 -8.5v17zM859 281.4l15.5 -8.5v17zM860.4 287.1l15.5 -8.5v17zM861.9 301.4l15.5 -8.5v17zM863.4 312.9l15.5 -8.5v17zM864.9 322.8l15.5 -8.5v17zM866.4 327.8l15.5 -8.5v17zM867.9 341.1l15.5 -8.5v17zM869.4 336.4l15.5 -8.5v17zM870.9 336.5l15.5 -8.5v17zM872.4 343.2l15.5 -8.5v17zM873.9 330.7l15.5 -8.5v17zM875.4 326.3l15.5 -8.5v17zM876.9 313.6l15.5 -8.5v17zM878.4 307.9l15.5 -8.5v17zM879.9 294.4l15.5 -8.5v17zM881.4 280.1l15.5 -8.5v17zM882.9 271.1l15.5 -8.5v17zM884.4 251.3l15.5 -8.5v17zM885.9 240l15.5 -8.5v17zM887.4 223.9l15.5 -8.5v17zM888.9 215.1l15.5 -8.5v17zM890.4 196.8l15.5 -8.5v17zM891.9 188.4l15.5 -8.5v17zM893.4 182.8l15.5 -8.5v17zM894.9 172.8l15.5 -8.5v17zM896.4 165.6l15.5 -8.5v17zM897.9 160.9l15.5 -8.5v17zM899.4 174.5l15.5 -8.5v17zM900.9 166.4l15.5 -8.5v17zM902.4 172.3l15.5 -8.5v17zM903.9 180.9l15.5 -8.5v17zM905.4 192.8l15.5 -8.5v17zM906.9 193.1l15.5 -8.5v17zM908.4 214.7l15.5 -8.5v17zM909.9 219.1l15.5 -8.5v17zM911.4 228.8l15.5 -8.5v17zM912.9 254.2l15.5 -8.5v17zM914.4 261.8l15.5 -8.5v17zM915.9 278.8l15.5 -8.5v17zM917.3 284.1l15.5 -8.5v17zM918.8 289.5l15.5 -8.5v17zM920.3 296.8l15.5 -8.5v17zM921.8 321.4l15.5 -8.5v17zM923.3 322.3l15.5 -8.5v17zM924.8 320.9l15.5 -8.5v17zM926.3 319.1l15.5 -8.5v17zM927.8 324.3l15.5 -8.5v17zM929.3 327.5l15.5 -8.5v17zM930.8 318.8l15.5 -8.5v17zM932.3 314.3l15.5 -8.5v17zM933.8 307.5l15.5 -8.5v17zM935.3 300.7l15.5 -8.5v17zM936.8 285.2l15.5 -8.5v17zM938.3 274.3l15.5 -8.5v17zM939.8 264.2l15.5 -8.5v17zM941.3 252.5l15.5 -8.5v17zM942.8 245.3l15.5 -8.5v17zM944.3 229.8l15.5 -8.5v17zM945.8 210.7l15.5 -8.5v17zM947.3 207.2l15.5 -8.5v17zM948.8 204.2l15.5 -8.5v17zM950.3 183.6l15.5 -8.5v17zM951.8 181.7l15.5 -8.5v17zM953.3 170.1l15.5 -8.5v17zM954.8 178l15.5 -8.5v17zM956.3 180.4l15.5 -8.5v17zM957.8 187.1l15.5 -8.5v17zM959.3 177.1l15.5 -8.5v17zM960.8 176.3l15.5 -8.5v17zM962.3 200l15.5 -8.5v17zM963.8 207.5l15.5 -8.5v17zM965.3 210.7l15.5 -8.5v17zM966.8 228.1l15.5 -8.5v17zM968.3 236.1l15.5 -8.5v17zM969.8 247.6l15.5 -8.5v17zM971.3 255.8l15.5 -8.5v17zM972.8 261.8l15.5 -8.5v17zM974.3 277.3l15.5 -8.5v17zM975.7 281.8l15.5 -8.5v17zM977.2 296.7l15.5 -8.5v17zM978.7 299.4l15.5 -8.5v17zM980.2 317.4l15.5 -8.5v17zM981.7 317.3l15.5 -8.5v17zM983.2 307.1l15.5 -8.5v17zM984.7 314.5l15.5 -8.5v17zM986.2 306.5l15.5 -8.5v17zM987.7 303.3l15.5 -8.5v17zM989.2 294.1l15.5 -8.5v17zM990.7 290.5l15.5 -8.5v17zM992.2 281.8l15.5 -8.5v17zM993.7 279.4l15.5 -8.5v17zM995.2 273.3l15.5 -8.5v17zM996.7 263.8l15.5 -8.5v17zM998.2 252.5l15.5 -8.5v17zM999.7 246.1l15.5 -8.5v17zM1001.2 233.3l15.5 -8.5v17zM1002.7 221.8l15.5 -8.5v17zM1004.2 211.6l15.5 -8.5v17zM1005.7 207.8l15.5 -8.5v17zM1007.2 210.9l15.5 -8.5v17zM1008.7 195.8l15.5 -8.5v17zM1010.2 191l15.5 -8.5v17zM1011.7 184.5l15.5 -8.5v17zM1013.2 187.4l15.5 -8.5v17zM1014.7 196l15.5 -8.5v17zM1016.2 199.5l15.5 -8.5v17zM1017.7 187.8l15.5 -8.5v17zM1019.2 200.7l15.5 -8.5v17zM1020.7 200.9l15.5 -8.5v17zM1022.2 206.6l15.5 -8.5v17zM1023.7 232.4l15.5 -8.5v17zM1025.2 233.7l15.5 -8.5v17zM1026.7 242l15.5 -8.5v17zM1028.2 250.1l15.5 -8.5v17zM1029.7 258.6l15.5 -8.5v17zM1031.2 268.5l15.5 -8.5v17zM1032.6 275.8l15.5 -8.5v17zM1034.1 292.3l15.5 -8.5v17zM1035.6 289.2l15.5 -8.5v17zM1037.1 296.7l15.5 -8.5v17zM1038.6 293.9l15.5 -8.5v17zM1040.1 299l15.5 -8.5v17zM1041.6 292l15.5 -8.5v17zM1043.1 289.4l15.5 -8.5v17zM1044.6 289.9l15.5 -8.5v17zM1046.1 286l15.5 -8.5v17zM1047.6 282.5l15.5 -8.5v17zM1049.1 280.1l15.5 -8.5v17zM1050.6 271.7l15.5 -8.5v17zM1052.1 266.7l15.5 -8.5v17zM1053.6 253.4l15.5 -8.5v17zM1055.1 248.2l15.5 -8.5v17zM1056.6 236.8l15.5 -8.5v17zM1058.1 242.2l15.5 -8.5v17zM1059.6 220.6l15.5 -8.5v17zM1061.1 225.4l15.5 -8.5v17zM1062.6 219.9l15.5 -8.5v17zM1064.1 211.8l15.5 -8.5v17zM1065.6 210.9l15.5 -8.5v17zM1067.1 202.8l15.5 -8.5v17zM1068.6 207.5l15.5 -8.5v17zM1070.1 211l15.5 -8.5v17zM1071.6 210.7l15.5 -8.5v17zM1073.1 198l15.5 -8.5v17zM1074.6 210.1l15.5 -8.5v17zM1076.1 222.8l15.5 -8.5v17zM1077.6 219.6l15.5 -8.5v17zM1079.1 236.2l15.5 -8.5v17zM1080.6 218.6l15.5 -8.5v17zM1082.1 248.6l15.5 -8.5v17zM1083.6 240.8l15.5 -8.5v17zM1085.1 246.7l15.5 -8.5v17zM1086.6 267.3l15.5 -8.5v17zM1088.1 260.4l15.5 -8.5v17zM1089.6 260.6l15.5 -8.5v17zM1091 269l15.5 -8.5v17zM1092.5 274.2l15.5 -8.5v17zM1094 272l15.5 -8.5v17zM1095.5 279.7l15.5 -8.5v17zM1097 279.3l15.5 -8.5v17zM1098.5 282.7l15.5 -8.5v17zM1100 275.9l15.5 -8.5v17zM1101.5 285.8l15.5 -8.5v17zM1103 269.8l15.5 -8.5v17zM1104.5 276.1l15.5 -8.5v17zM1106 276.3l15.5 -8.5v17zM1107.5 260.3l15.5 -8.5v17zM1109 244.8l15.5 -8.5v17zM1110.5 245.1l15.5 -8.5v17zM1112 251.1l15.5 -8.5v17zM1113.5 236.1l15.5 -8.5v17zM1115 239.9l15.5 -8.5v17zM1116.5 232.4l15.5 -8.5v17zM1118 226.3l15.5 -8.5v17zM1119.5 241.8l15.5 -8.5v17zM1121 218.5l15.5 -8.5v17zM1122.5 226l15.5 -8.5v17zM1124 221.7l15.5 -8.5v17zM1125.5 227.3l15.5 -8.5v17zM1127 227.7l15.5 -8.5v17zM1128.5 223.9l15.5 -8.5v17zM1130 211l15.5 -8.5v17zM1131.5 206.4l15.5 -8.5v17zM1133 223.4l15.5 -8.5v17zM1134.5 217.5l15.5 -8.5v17zM1136 232.9l15.5 -8.5v17zM1137.5 251.1l15.5 -8.5v17zM1139 238.1l15.5 -8.5v17zM1140.5 240.1l15.5 -8.5v17zM1142 252.1l15.5 -8.5v17zM1143.5 250.1l15.5 -8.5v17zM1145 251.7l15.5 -8.5v17zM1146.5 267.8l15.5 -8.5v17zM1147.9 276.3l15.5 -8.5v17zM1149.4 267.9l15.5 -8.5v17zM1150.9 269.8l15.5 -8.5v17zM1152.4 272.3l15.5 -8.5v17zM1153.9 261l15.5 -8.5v17zM1155.4 254.3l15.5 -8.5v17zM1156.9 272.7l15.5 -8.5v17zM1158.4 261.3l15.5 -8.5v17zM1159.9 257.1l15.5 -8.5v17zM1161.4 256.7l15.5 -8.5v17zM1162.9 250.7l15.5 -8.5v17zM1164.4 260.5l15.5 -8.5v17zM1165.9 246.6l15.5 -8.5v17zM1167.4 231l15.5 -8.5v17zM1168.9 238.6l15.5 -8.5v17zM1170.4 248.1l15.5 -8.5v17zM1171.9 233.1l15.5 -8.5v17zM1173.4 223.7l15.5 -8.5v17zM1174.9 229.1l15.5 -8.5v17zM1176.4 235.4l15.5 -8.5v17zM1177.9 213.2l15.5 -8.5v17zM1179.4 238.3l15.5 -8.5v17zM1180.9 220.5l15.5 -8.5v17zM1182.4 225l15.5 -8.5v17zM1183.9 236.5l15.5 -8.5v17zM1185.4 213.5l15.5 -8.5v17zM1186.9 223.1l15.5 -8.5v17zM1188.4 239.6l15.5 -8.5v17zM1189.9 224.1l15.5 -8.5v17zM1191.4 236.7l15.5 -8.5v17zM1192.9 254.1l15.5 -8.5v17zM1194.4 244.8l15.5 -8.5v17zM1195.9 238.1l15.5 -8.5v17zM1197.4 237.3l15.5 -8.5v17zM1198.9 245l15.5 -8.5v17zM1200.4 249l15.5 -8.5v17zM1201.9 247.3l15.5 -8.5v17zM1203.4 256.6l15.5 -8.5v17zM1204.9 244.2l15.5 -8.5v17zM1206.3 256.5l15.5 -8.5v17zM1207.8 256.3l15.5 -8.5v17zM1209.3 254.5l15.5 -8.5v17zM1210.8 271.7l15.5 -8.5v17zM1212.3 268l15.5 -8.5v17zM1213.8 243.7l15.5 -8.5v17zM1215.3 255.4l15.5 -8.5v17zM1216.8 260.8l15.5 -8.5v17zM1218.3 252.5l15.5 -8.5v17zM1219.8 259.5l15.5 -8.5v17zM1221.3 249.1l15.5 -8.5v17zM1222.8 257.2l15.5 -8.5v17zM1224.3 244.6l15.5 -8.5v17zM1225.8 262.6l15.5 -8.5v17zM1227.3 228.1l15.5 -8.5v17zM1228.8 246.4l15.5 -8.5v17zM1230.3 256.3l15.5 -8.5v17zM1231.8 239.3l15.5 -8.5v17zM1233.3 239.3l15.5 -8.5v17zM1234.8 232.1l15.5 -8.5v17zM1236.3 245.9l15.5 -8.5v17zM1237.8 227.7l15.5 -8.5v17zM1239.3 190.2l15.5 -8.5v17zM1240.8 246.7l15.5 -8.5v17zM1242.3 228.4l15.5 -8.5v17zM1243.8 236.6l15.5 -8.5v17zM1245.3 231.8l15.5 -8.5v17zM1246.8 256.6l15.5 -8.5v17zM1248.3 250.3l15.5 -8.5v17zM1249.8 232.9l15.5 -8.5v17zM1251.3 240.5l15.5 -8.5v17zM1252.8 222.3l15.5 -8.5v17zM1254.3 252.2l15.5 -8.5v17zM1255.8 243.4l15.5 -8.5v17zM1257.3 211.8l15.5 -8.5v17zM1258.8 258.1l15.5 -8.5v17zM1260.3 261.3l15.5 -8.5v17zM1261.8 251.9l15.5 -8.5v17zM1263.2 253l15.5 -8.5v17zM1264.7 242.7l15.5 -8.5v17zM1266.2 252l15.5 -8.5v17zM1267.7 263.3l15.5 -8.5v17zM1269.2 251.1l15.5 -8.5v17zM1270.7 220.1l15.5 -8.5v17zM1272.2 236.8l15.5 -8.5v17zM1273.7 287.7l15.5 -8.5v17zM1275.2 253l15.5 -8.5v17zM1276.7 261.3l15.5 -8.5v17zM1278.2 240.7l15.5 -8.5v17zM1279.7 249.7l15.5 -8.5v17zM1281.2 220.8l15.5 -8.5v17zM1282.7 232.4l15.5 -8.5v17zM1284.2 231.5l15.5 -8.5v17zM1285.7 239.4l15.5 -8.5v17zM1287.2 241.2l15.5 -8.5v17zM1288.7 235l15.5 -8.5v17zM1290.2 221.3l15.5 -8.5v17zM1291.7 230.7l15.5 -8.5v17zM1293.2 242.1l15.5 -8.5v17zM1294.7 219.6l15.5 -8.5v17zM1296.2 234.1l15.5 -8.5v17zM1297.7 237.9l15.5 -8.5v17zM1299.2 247.9l15.5 -8.5v17zM1300.7 245.3l15.5 -8.5v17zM1302.2 246.9l15.5 -8.5v17zM1303.7 277.8l15.5 -8.5v17zM1305.2 225.3l15.5 -8.5v17zM1306.7 232.5l15.5 -8.5v17zM1308.2 244.6l15.5 -8.5v17z" fill="#9b37ff"/>
<path d="M795.5 151.7v4.7M797 155.4v4.7M798.5 160.8v4.7M800 174.6v4.7M801.5 180.1v4.7M803 190.8v4.8M804.5 202.6v4.8M806 217.6v4.8M807.5 234.9v4.8M809 257.4v4.9M810.5 276.5v4.9M812 286.7v4.9M813.5 303.2v4.9M815 315.1v4.9M816.5 329.6v5M818 338.7v5M819.5 350.1v5M821 350.5v5M822.5 354.6v5.1M823.9 352v5.1M825.4 348.1v5.1M826.9 343v5.1M828.4 333.1v5.1M829.9 322.6v5.2M831.4 307.7v5.2M832.9 293.5v5.2M834.4 280v5.2M835.9 263.4v5.3M837.4 240.9v5.3M838.9 228.6v5.3M840.4 210v5.3M841.9 196.6v5.4M843.4 185.7v5.4M844.9 174.8v5.4M846.4 163.7v5.4M847.9 156.8v5.5M849.4 152.2v5.5M850.9 155.9v5.5M852.4 156.1v5.5M853.9 159.5v5.6M855.4 162.5v5.6M856.9 182.2v5.6M858.4 187v5.6M859.9 203.2v5.7M861.4 215.9v5.7M862.9 234.4v5.7M864.4 248.8v5.7M865.9 262.3v5.8M867.4 281.7v5.8M868.9 296.9v5.8M870.4 311.1v5.8M871.9 326.4v5.9M873.4 333.2v5.9M874.9 343.1v5.9M876.4 350v6M877.9 350.5v6M879.4 350.7v6M880.9 345v6M882.3 341.4v6.1M883.8 334.4v6.1M885.3 318.3v6.1M886.8 306.9v6.1M888.3 291.9v6.2M889.8 278.2v6.2M891.3 263.9v6.2M892.8 248.2v6.3M894.3 231.3v6.3M895.8 212v6.3M897.3 199.5v6.3M898.8 190.8v6.4M900.3 175.2v6.4M901.8 169.9v6.4M903.3 158.5v6.5M904.8 158.2v6.5M906.3 157v6.5M907.8 154.2v6.6M909.3 158.8v6.6M910.8 170.2v6.6M912.3 172.1v6.6M913.8 179.1v6.7M915.3 203.2v6.7M916.8 207.7v6.7M918.3 230.9v6.8M919.8 246.5v6.8M921.3 261.9v6.8M922.8 281.7v6.9M924.3 288.4v6.9M925.8 304.9v6.9M927.3 321.1v6.9M928.8 330v7M930.3 342.1v7M931.8 344v7M933.3 342.9v7.1M934.8 351.6v7.1M936.3 345.1v7.1M937.8 338.1v7.2M939.2 327.5v7.2M940.7 316.6v7.2M942.2 310.6v7.3M943.7 298v7.3M945.2 279.3v7.3M946.7 266.3v7.4M948.2 250v7.4M949.7 229.4v7.4M951.2 211.8v7.5M952.7 202v7.5M954.2 190.4v7.5M955.7 176.4v7.6M957.2 175.4v7.6M958.7 161.9v7.6M960.2 161v7.7M961.7 147.1v7.7M963.2 153.6v7.8M964.7 159v7.8M966.2 166.2v7.8M967.7 182.7v7.9M969.2 181.8v7.9M970.7 190.8v7.9M972.2 213v8M973.7 222.8v8M975.2 238.1v8M976.7 262v8.1M978.2 268.4v8.1M979.7 281.6v8.1M981.2 299.4v8.2M982.7 312.7v8.2M984.2 319.9v8.3M985.7 336.8v8.3M987.2 336.5v8.3M988.7 336.3v8.4M990.2 345.7v8.4M991.7 335.4v8.4M993.2 336.3v8.5M994.7 335.8v8.5M996.2 319.2v8.6M997.6 311.5v8.6M999.1 293.8v8.6M1000.6 285.6v8.7M1002.1 262v8.7M1003.6 253.8v8.8M1005.1 234.1v8.8M1006.6 223v8.8M1008.1 207.8v8.9M1009.6 188.9v8.9M1011.1 181.6v9M1012.6 174.7v9M1014.1 171v9M1015.6 156.4v9.1M1017.1 155.8v9.1M1018.6 160.4v9.2M1020.1 160.8v9.2M1021.6 171.3v9.3M1023.1 178.8v9.3M1024.6 187.6v9.3M1026.1 194v9.4M1027.6 207.1v9.4M1029.1 225.4v9.5M1030.6 233.7v9.5M1032.1 248.4v9.6M1033.6 265.7v9.6M1035.1 276.1v9.6M1036.6 295v9.7M1038.1 306.1v9.7M1039.6 313.7v9.8M1041.1 324.1v9.8M1042.6 326.4v9.9M1044.1 339.1v9.9M1045.6 328.3v10M1047.1 336.9v10M1048.6 330.4v10M1050.1 329.9v10.1M1051.6 312.7v10.1M1053.1 299.5v10.2M1054.5 288.7v10.2M1056 276.8v10.3M1057.5 274v10.3M1059 256.1v10.4M1060.5 240.1v10.4M1062 228.2v10.5M1063.5 205.1v10.5M1065 197.2v10.6M1066.5 187.3v10.6M1068 175.7v10.7M1069.5 175.5v10.7M1071 170.3v10.8M1072.5 167.6v10.8M1074 160.6v10.8M1075.5 163.6v10.9M1077 166.9v10.9M1078.5 171v11M1080 191.7v11M1081.5 198.1v11.1M1083 206.4v11.1M1084.5 226.8v11.2M1086 236.2v11.3M1087.5 242.3v11.3M1089 255.6v11.4M1090.5 269.1v11.4M1092 286.9v11.5M1093.5 299.5v11.5M1095 302.5v11.6M1096.5 318.1v11.6M1098 320.3v11.7M1099.5 318.9v11.7M1101 329.4v11.8M1102.5 329.9v11.8M1104 323.7v11.9M1105.5 315.1v11.9M1107 308.5v12M1108.5 301.2v12M1110 288.4v12.1M1111.4 288.3v12.2M1112.9 271.5v12.2M1114.4 252.6v12.3M1115.9 245.2v12.3M1117.4 234.3v12.4M1118.9 221v12.4M1120.4 207.7v12.5M1121.9 193.2v12.5M1123.4 189.2v12.6M1124.9 175.1v12.7M1126.4 161.7v12.7M1127.9 169.4v12.8M1129.4 160.6v12.8M1130.9 167.8v12.9M1132.4 179.8v13M1133.9 180.5v13M1135.4 192.4v13.1M1136.9 191.4v13.1M1138.4 213.4v13.2M1139.9 210.4v13.3M1141.4 227.2v13.3M1142.9 255.6v13.4M1144.4 251.5v13.4M1145.9 259.2v13.5M1147.4 285.1v13.6M1148.9 284.9v13.6M1150.4 311.3v13.7M1151.9 306.3v13.7M1153.4 324v13.8M1154.9 314.6v13.9M1156.4 330.6v13.9M1157.9 335.6v14M1159.4 314.1v14.1M1160.9 297.6v14.1M1162.4 309.7v14.2M1163.9 292.5v14.3M1165.4 287.6v14.3M1166.9 279.7v14.4M1168.4 262.1v14.4M1169.8 243.2v14.5M1171.3 249.7v14.6M1172.8 225.8v14.6M1174.3 215.5v14.7M1175.8 216.4v14.8M1177.3 186.4v14.8M1178.8 175.8v14.9M1180.3 188.6v15M1181.8 165.5v15.1M1183.3 173.9v15.1M1184.8 174.4v15.2M1186.3 164.1v15.3M1187.8 175.8v15.3M1189.3 180.1v15.4M1190.8 178.4v15.5M1192.3 188.1v15.5M1193.8 200.3v15.6M1195.3 226.9v15.7M1196.8 239.4v15.8M1198.3 231.8v15.8M1199.8 258.1v15.9M1201.3 261.7v16M1202.8 281.3v16M1204.3 284.7v16.1M1205.8 301.3v16.2M1207.3 287.3v16.3M1208.8 312.4v16.3M1210.3 309.6v16.4M1211.8 312.1v16.5M1213.3 301.8v16.6M1214.8 319.6v16.6M1216.3 305.5v16.7M1217.8 301.4v16.8M1219.3 288.8v16.9M1220.8 280.9v16.9M1222.3 278.5v17M1223.8 262.8v17.1M1225.3 256.7v17.2M1226.7 239v17.2M1228.2 232.4v17.3M1229.7 226.1v17.4M1231.2 211.3v17.5M1232.7 199.2v17.6M1234.2 176.3v17.6M1235.7 191.9v17.7M1237.2 180.7v17.8M1238.7 168.4v17.9M1240.2 195.8v18M1241.7 193.7v18.1M1243.2 191.6v18.1M1244.7 187v18.2M1246.2 171.6v18.3M1247.7 195.5v18.4M1249.2 197v18.5M1250.7 218.1v18.6M1252.2 246.9v18.6M1253.7 256v18.7M1255.2 238.3v18.8M1256.7 255.6v18.9M1258.2 278v19M1259.7 266.3v19.1M1261.2 297.1v19.1M1262.7 280.7v19.2M1264.2 283.2v19.3M1265.7 306.3v19.4M1267.2 311.4v19.5M1268.7 294.6v19.6M1270.2 310.4v19.7M1271.7 290v19.8M1273.2 303.8v19.9M1274.7 279.9v19.9M1276.2 279v20M1277.7 275.5v20.1M1279.2 270.6v20.2M1280.7 250.7v20.3M1282.2 260.4v20.4M1283.7 235.7v20.5M1285.1 227.2v20.6M1286.6 208.3v20.7M1288.1 218.1v20.8M1289.6 183.2v20.9M1291.1 196.3v21M1292.6 199.7v21.1M1294.1 172.7v21.2M1295.6 168.6v21.3M1297.1 186.5v21.4M1298.6 195.1v21.5M1300.1 189.7v21.6M1301.6 201.3v21.7M1303.1 203.7v21.7M1304.6 192.4v21.8M1306.1 211.9v21.9M1307.6 223v22M1309.1 230v22.1M1310.6 243.3v22.2M1312.1 243.3v22.4M1313.6 251.6v22.5M1315.1 272.2v22.6M1316.6 274.6v22.7M1318.1 257.1v22.8" stroke="#ff0000" stroke-width="1.6" fill="none"/>
<path d="M794.6 156.2L796.8 158.3L799.1 166.8L801.3 180.9L803.6 199.9L805.8 222.6L808.1 247.3L810.3 272.7L812.6 297L814.8 318.6L817.1 336.2L819.3 348.7L821.6 355.3L823.8 355.5L826.1 349.3L828.3 337.1L830.6 319.7L832.8 298.2L835.1 274.1L837.3 248.7L839.6 223.8L841.8 201L844.1 181.7L846.3 167.1L848.6 158.2L850.8 155.5L853.1 159.1L855.3 169L857.6 184.3L859.8 204.1L862.1 227.2L864.3 252L866.6 277L868.8 300.5L871.1 321.1L873.3 337.4L875.6 348.3L877.8 353.3L880.1 352L882.3 344.4L884.6 331.1L886.8 312.9L889.1 291L891.3 266.9L893.6 241.9L895.8 217.9L898.1 196.2L900.3 178.3L902.6 165.2L904.8 158L907.1 156.8L909.3 162L911.6 173L913.8 189.1L916.1 209.4L918.3 232.5L920.6 256.9L922.8 281.1L925.1 303.4L927.3 322.5L929.6 337.2L931.8 346.6L934.1 349.9L936.3 347.1L938.6 338.4L940.8 324.2L943.1 305.6L945.3 283.7L947.6 260L949.8 235.9L952.1 213.1L954.3 192.9L956.6 176.6L958.8 165.3L961 159.7L963.3 160.1L965.5 166.5L967.8 178.4L970 195L972.3 215.4L974.5 238L976.8 261.6L979 284.5L981.3 305.4L983.5 322.8L985.8 335.8L988 343.3L990.3 345.1L992.5 341.1L994.8 331.4L997 316.7L999.3 298L1001.5 276.6L1003.8 253.7L1006 230.9L1008.3 209.6L1010.5 191.1L1012.8 176.7L1015 167.2L1017.3 163.3L1019.5 165.1L1021.8 172.4L1024 184.9L1026.3 201.7L1028.5 221.6L1030.8 243.5L1033 265.8L1035.3 287.2L1037.5 306.3L1039.8 321.9L1042 332.9L1044.3 338.8L1046.5 339.2L1048.8 334L1051 323.6L1053.3 308.8L1055.5 290.5L1057.8 269.8L1060 248.1L1062.3 226.9L1064.5 207.4L1066.8 190.9L1069 178.4L1071.3 170.7L1073.5 168.3L1075.8 171.3L1078 179.4L1080.3 192.2L1082.5 208.7L1084.8 227.9L1087 248.6L1089.3 269.4L1091.5 289L1093.8 306.1L1096 319.7L1098.3 328.9L1100.5 333.1L1102.8 332.2L1105 326.1L1107.3 315.4L1109.5 300.8L1111.8 283.1L1114 263.6L1116.3 243.4L1118.5 224L1120.8 206.5L1123 192L1125.2 181.5L1127.5 175.5L1129.7 174.5L1132 178.5L1134.2 187.1L1136.5 199.8L1138.7 215.8L1141 233.9L1143.2 253.1L1145.5 272.1L1147.7 289.7L1150 304.7L1152.2 316.3L1154.5 323.7L1156.7 326.5L1159 324.5L1161.2 317.8L1163.5 307.1L1165.7 292.9L1168 276.2L1170.2 258L1172.5 239.7L1174.7 222.2L1177 206.8L1179.2 194.4L1181.5 185.8L1183.7 181.4L1186 181.6L1188.2 186.3L1190.5 195.1L1192.7 207.4L1195 222.5L1197.2 239.4L1199.5 256.9L1201.7 273.9L1204 289.4L1206.2 302.4L1208.5 312L1210.7 317.7L1213 319.2L1215.2 316.3L1217.5 309.4L1219.7 298.8L1222 285.4L1224.2 269.9L1226.5 253.4L1228.7 236.9L1231 221.5L1233.2 208.2L1235.5 197.8L1237.7 190.9L1240 188L1242.2 189.2L1244.5 194.3L1246.7 203.1L1249 214.8L1251.2 228.8L1253.5 244.2L1255.7 259.9L1258 274.9L1260.2 288.3L1262.5 299.2L1264.7 307L1267 311.2L1269.2 311.6L1271.5 308.1L1273.7 301.1L1276 291L1278.2 278.5L1280.5 264.4L1282.7 249.6L1285 235.1L1287.2 221.8L1289.4 210.6L1291.7 202L1293.9 196.8L1296.2 195L1298.4 196.9L1300.7 202.3L1302.9 210.7L1305.2 221.7L1307.4 234.5L1309.7 248.2L1311.9 262L1314.2 275L1316.4 286.3L1318.7 295.3" stroke="#ff0000" stroke-width="2.8" fill="none" stroke-linejoin="round"/>
<path d="M795.5 144.4l9.7 9.7l-9.7 9.7l-9.7 -9.7zM798.5 153.4l9.7 9.7l-9.7 9.7l-9.7 -9.7zM801.5 172.8l9.7 9.7l-9.7 9.7l-9.7 -9.7zM804.5 195.3l9.7 9.7l-9.7 9.7l-9.7 -9.7zM807.5 227.6l9.7 9.7l-9.7 9.7l-9.7 -9.7zM810.5 269.2l9.7 9.7l-9.7 9.7l-9.7 -9.7zM813.5 296l9.7 9.7l-9.7 9.7l-9.7 -9.7zM816.5 322.4l9.7 9.7l-9.7 9.7l-9.7 -9.7zM819.5 342.9l9.7 9.7l-9.7 9.7l-9.7 -9.7zM822.5 347.4l9.7 9.7l-9.7 9.7l-9.7 -9.7zM825.4 340.9l9.7 9.7l-9.7 9.7l-9.7 -9.7zM828.4 326l9.7 9.7l-9.7 9.7l-9.7 -9.7zM831.4 300.6l9.7 9.7l-9.7 9.7l-9.7 -9.7zM834.4 272.9l9.7 9.7l-9.7 9.7l-9.7 -9.7zM837.4 233.9l9.7 9.7l-9.7 9.7l-9.7 -9.7zM840.4 203l9.7 9.7l-9.7 9.7l-9.7 -9.7zM843.4 178.7l9.7 9.7l-9.7 9.7l-9.7 -9.7zM846.4 156.7l9.7 9.7l-9.7 9.7l-9.7 -9.7zM849.4 145.2l9.7 9.7l-9.7 9.7l-9.7 -9.7zM852.4 149.1l9.7 9.7l-9.7 9.7l-9.7 -9.7zM855.4 155.6l9.7 9.7l-9.7 9.7l-9.7 -9.7zM858.4 180.2l9.7 9.7l-9.7 9.7l-9.7 -9.7zM861.4 209l9.7 9.7l-9.7 9.7l-9.7 -9.7zM864.4 242l9.7 9.7l-9.7 9.7l-9.7 -9.7zM867.4 274.9l9.7 9.7l-9.7 9.7l-9.7 -9.7zM870.4 304.3l9.7 9.7l-9.7 9.7l-9.7 -9.7zM873.4 326.5l9.7 9.7l-9.7 9.7l-9.7 -9.7zM876.4 343.3l9.7 9.7l-9.7 9.7l-9.7 -9.7zM879.4 344l9.7 9.7l-9.7 9.7l-9.7 -9.7zM882.3 334.7l9.7 9.7l-9.7 9.7l-9.7 -9.7zM885.3 311.6l9.7 9.7l-9.7 9.7l-9.7 -9.7zM888.3 285.3l9.7 9.7l-9.7 9.7l-9.7 -9.7zM891.3 257.3l9.7 9.7l-9.7 9.7l-9.7 -9.7zM894.3 224.7l9.7 9.7l-9.7 9.7l-9.7 -9.7zM897.3 193l9.7 9.7l-9.7 9.7l-9.7 -9.7zM900.3 168.7l9.7 9.7l-9.7 9.7l-9.7 -9.7zM903.3 152l9.7 9.7l-9.7 9.7l-9.7 -9.7zM906.3 150.5l9.7 9.7l-9.7 9.7l-9.7 -9.7zM909.3 152.4l9.7 9.7l-9.7 9.7l-9.7 -9.7zM912.3 165.8l9.7 9.7l-9.7 9.7l-9.7 -9.7zM915.3 196.8l9.7 9.7l-9.7 9.7l-9.7 -9.7zM918.3 224.6l9.7 9.7l-9.7 9.7l-9.7 -9.7zM921.3 255.6l9.7 9.7l-9.7 9.7l-9.7 -9.7zM924.3 282.2l9.7 9.7l-9.7 9.7l-9.7 -9.7zM927.3 314.9l9.7 9.7l-9.7 9.7l-9.7 -9.7zM930.3 335.9l9.7 9.7l-9.7 9.7l-9.7 -9.7zM933.3 336.7l9.7 9.7l-9.7 9.7l-9.7 -9.7zM936.3 339l9.7 9.7l-9.7 9.7l-9.7 -9.7zM939.2 321.4l9.7 9.7l-9.7 9.7l-9.7 -9.7zM942.2 304.6l9.7 9.7l-9.7 9.7l-9.7 -9.7zM945.2 273.2l9.7 9.7l-9.7 9.7l-9.7 -9.7zM948.2 244l9.7 9.7l-9.7 9.7l-9.7 -9.7zM951.2 205.8l9.7 9.7l-9.7 9.7l-9.7 -9.7zM954.2 184.5l9.7 9.7l-9.7 9.7l-9.7 -9.7zM957.2 169.5l9.7 9.7l-9.7 9.7l-9.7 -9.7zM960.2 155.1l9.7 9.7l-9.7 9.7l-9.7 -9.7zM963.2 147.8l9.7 9.7l-9.7 9.7l-9.7 -9.7zM966.2 160.4l9.7 9.7l-9.7 9.7l-9.7 -9.7zM969.2 176l9.7 9.7l-9.7 9.7l-9.7 -9.7zM972.2 207.3l9.7 9.7l-9.7 9.7l-9.7 -9.7zM975.2 232.4l9.7 9.7l-9.7 9.7l-9.7 -9.7zM978.2 262.8l9.7 9.7l-9.7 9.7l-9.7 -9.7zM981.2 293.8l9.7 9.7l-9.7 9.7l-9.7 -9.7zM984.2 314.3l9.7 9.7l-9.7 9.7l-9.7 -9.7zM987.2 331l9.7 9.7l-9.7 9.7l-9.7 -9.7zM990.2 340.2l9.7 9.7l-9.7 9.7l-9.7 -9.7zM993.2 330.8l9.7 9.7l-9.7 9.7l-9.7 -9.7zM996.2 313.7l9.7 9.7l-9.7 9.7l-9.7 -9.7zM999.1 288.4l9.7 9.7l-9.7 9.7l-9.7 -9.7zM1002.1 256.7l9.7 9.7l-9.7 9.7l-9.7 -9.7zM1005.1 228.8l9.7 9.7l-9.7 9.7l-9.7 -9.7zM1008.1 202.6l9.7 9.7l-9.7 9.7l-9.7 -9.7zM1011.1 176.3l9.7 9.7l-9.7 9.7l-9.7 -9.7zM1014.1 165.8l9.7 9.7l-9.7 9.7l-9.7 -9.7zM1017.1 150.7l9.7 9.7l-9.7 9.7l-9.7 -9.7zM1020.1 155.7l9.7 9.7l-9.7 9.7l-9.7 -9.7zM1023.1 173.8l9.7 9.7l-9.7 9.7l-9.7 -9.7zM1026.1 189l9.7 9.7l-9.7 9.7l-9.7 -9.7zM1029.1 220.5l9.7 9.7l-9.7 9.7l-9.7 -9.7zM1032.1 243.5l9.7 9.7l-9.7 9.7l-9.7 -9.7zM1035.1 271.2l9.7 9.7l-9.7 9.7l-9.7 -9.7zM1038.1 301.3l9.7 9.7l-9.7 9.7l-9.7 -9.7zM1041.1 319.3l9.7 9.7l-9.7 9.7l-9.7 -9.7zM1044.1 334.4l9.7 9.7l-9.7 9.7l-9.7 -9.7zM1047.1 332.2l9.7 9.7l-9.7 9.7l-9.7 -9.7zM1050.1 325.2l9.7 9.7l-9.7 9.7l-9.7 -9.7zM1053.1 294.9l9.7 9.7l-9.7 9.7l-9.7 -9.7zM1056 272.2l9.7 9.7l-9.7 9.7l-9.7 -9.7zM1059 251.5l9.7 9.7l-9.7 9.7l-9.7 -9.7zM1062 223.7l9.7 9.7l-9.7 9.7l-9.7 -9.7zM1065 192.7l9.7 9.7l-9.7 9.7l-9.7 -9.7zM1068 171.3l9.7 9.7l-9.7 9.7l-9.7 -9.7zM1071 166l9.7 9.7l-9.7 9.7l-9.7 -9.7zM1074 156.4l9.7 9.7l-9.7 9.7l-9.7 -9.7zM1077 162.6l9.7 9.7l-9.7 9.7l-9.7 -9.7zM1080 187.6l9.7 9.7l-9.7 9.7l-9.7 -9.7zM1083 202.2l9.7 9.7l-9.7 9.7l-9.7 -9.7zM1086 232.2l9.7 9.7l-9.7 9.7l-9.7 -9.7zM1089 251.6l9.7 9.7l-9.7 9.7l-9.7 -9.7zM1092 282.9l9.7 9.7l-9.7 9.7l-9.7 -9.7zM1095 298.6l9.7 9.7l-9.7 9.7l-9.7 -9.7zM1098 316.5l9.7 9.7l-9.7 9.7l-9.7 -9.7zM1101 325.6l9.7 9.7l-9.7 9.7l-9.7 -9.7zM1104 319.9l9.7 9.7l-9.7 9.7l-9.7 -9.7zM1107 304.8l9.7 9.7l-9.7 9.7l-9.7 -9.7zM1110 284.7l9.7 9.7l-9.7 9.7l-9.7 -9.7zM1112.9 267.9l9.7 9.7l-9.7 9.7l-9.7 -9.7zM1115.9 241.6l9.7 9.7l-9.7 9.7l-9.7 -9.7zM1118.9 217.5l9.7 9.7l-9.7 9.7l-9.7 -9.7zM1121.9 189.8l9.7 9.7l-9.7 9.7l-9.7 -9.7zM1124.9 171.7l9.7 9.7l-9.7 9.7l-9.7 -9.7zM1127.9 166.1l9.7 9.7l-9.7 9.7l-9.7 -9.7zM1130.9 164.6l9.7 9.7l-9.7 9.7l-9.7 -9.7zM1133.9 177.3l9.7 9.7l-9.7 9.7l-9.7 -9.7zM1136.9 188.3l9.7 9.7l-9.7 9.7l-9.7 -9.7zM1139.9 207.3l9.7 9.7l-9.7 9.7l-9.7 -9.7zM1142.9 252.6l9.7 9.7l-9.7 9.7l-9.7 -9.7zM1145.9 256.2l9.7 9.7l-9.7 9.7l-9.7 -9.7zM1148.9 282l9.7 9.7l-9.7 9.7l-9.7 -9.7zM1151.9 303.5l9.7 9.7l-9.7 9.7l-9.7 -9.7zM1154.9 311.8l9.7 9.7l-9.7 9.7l-9.7 -9.7zM1157.9 332.9l9.7 9.7l-9.7 9.7l-9.7 -9.7zM1160.9 295l9.7 9.7l-9.7 9.7l-9.7 -9.7zM1163.9 289.9l9.7 9.7l-9.7 9.7l-9.7 -9.7zM1166.9 277.2l9.7 9.7l-9.7 9.7l-9.7 -9.7zM1169.8 240.8l9.7 9.7l-9.7 9.7l-9.7 -9.7zM1172.8 223.4l9.7 9.7l-9.7 9.7l-9.7 -9.7zM1175.8 214.1l9.7 9.7l-9.7 9.7l-9.7 -9.7zM1178.8 173.6l9.7 9.7l-9.7 9.7l-9.7 -9.7zM1181.8 163.3l9.7 9.7l-9.7 9.7l-9.7 -9.7zM1184.8 172.3l9.7 9.7l-9.7 9.7l-9.7 -9.7zM1187.8 173.8l9.7 9.7l-9.7 9.7l-9.7 -9.7zM1190.8 176.4l9.7 9.7l-9.7 9.7l-9.7 -9.7zM1193.8 198.4l9.7 9.7l-9.7 9.7l-9.7 -9.7zM1196.8 237.6l9.7 9.7l-9.7 9.7l-9.7 -9.7zM1199.8 256.3l9.7 9.7l-9.7 9.7l-9.7 -9.7zM1202.8 279.6l9.7 9.7l-9.7 9.7l-9.7 -9.7zM1205.8 299.7l9.7 9.7l-9.7 9.7l-9.7 -9.7zM1208.8 310.8l9.7 9.7l-9.7 9.7l-9.7 -9.7zM1211.8 310.7l9.7 9.7l-9.7 9.7l-9.7 -9.7zM1214.8 318.2l9.7 9.7l-9.7 9.7l-9.7 -9.7zM1217.8 300.1l9.7 9.7l-9.7 9.7l-9.7 -9.7zM1220.8 279.6l9.7 9.7l-9.7 9.7l-9.7 -9.7zM1223.8 261.6l9.7 9.7l-9.7 9.7l-9.7 -9.7zM1226.7 238l9.7 9.7l-9.7 9.7l-9.7 -9.7zM1229.7 225.1l9.7 9.7l-9.7 9.7l-9.7 -9.7zM1232.7 198.3l9.7 9.7l-9.7 9.7l-9.7 -9.7zM1235.7 191l9.7 9.7l-9.7 9.7l-9.7 -9.7zM1238.7 167.6l9.7 9.7l-9.7 9.7l-9.7 -9.7zM1241.7 193l9.7 9.7l-9.7 9.7l-9.7 -9.7zM1244.7 186.4l9.7 9.7l-9.7 9.7l-9.7 -9.7zM1247.7 195l9.7 9.7l-9.7 9.7l-9.7 -9.7zM1250.7 217.7l9.7 9.7l-9.7 9.7l-9.7 -9.7zM1253.7 255.7l9.7 9.7l-9.7 9.7l-9.7 -9.7zM1256.7 255.3l9.7 9.7l-9.7 9.7l-9.7 -9.7zM1259.7 266.1l9.7 9.7l-9.7 9.7l-9.7 -9.7zM1262.7 280.6l9.7 9.7l-9.7 9.7l-9.7 -9.7zM1265.7 306.3l9.7 9.7l-9.7 9.7l-9.7 -9.7zM1268.7 294.7l9.7 9.7l-9.7 9.7l-9.7 -9.7zM1271.7 290.2l9.7 9.7l-9.7 9.7l-9.7 -9.7zM1274.7 280.1l9.7 9.7l-9.7 9.7l-9.7 -9.7zM1277.7 275.9l9.7 9.7l-9.7 9.7l-9.7 -9.7zM1280.7 251.2l9.7 9.7l-9.7 9.7l-9.7 -9.7zM1283.7 236.2l9.7 9.7l-9.7 9.7l-9.7 -9.7zM1286.6 208.9l9.7 9.7l-9.7 9.7l-9.7 -9.7zM1289.6 183.9l9.7 9.7l-9.7 9.7l-9.7 -9.7zM1292.6 200.5l9.7 9.7l-9.7 9.7l-9.7 -9.7zM1295.6 169.5l9.7 9.7l-9.7 9.7l-9.7 -9.7zM1298.6 196.1l9.7 9.7l-9.7 9.7l-9.7 -9.7zM1301.6 202.5l9.7 9.7l-9.7 9.7l-9.7 -9.7zM1304.6 193.7l9.7 9.7l-9.7 9.7l-9.7 -9.7zM1307.6 224.3l9.7 9.7l-9.7 9.7l-9.7 -9.7zM1310.6 244.7l9.7 9.7l-9.7 9.7l-9.7 -9.7zM1313.6 253.1l9.7 9.7l-9.7 9.7l-9.7 -9.7zM1316.6 276.2l9.7 9.7l-9.7 9.7l-9.7 -9.7z" fill="#ff0000"/>
</g>
<path d="M1168.9 361.2l16.5 -9.4v18.8z" fill="#9b37ff"/>
<path d="M1179.8 385.3l9.8 9.8l-9.8 9.8l-9.8 -9.8z" fill="#ff0000"/>
<text transform="translate(1218.2 371) scale(0.978 1.05)" font-size="27" text-anchor="start">0.27 K</text>
<text transform="translate(1218.2 405) scale(0.978 1.05)" font-size="27" text-anchor="start">5 K</text>
<text x="700.6" y="23.5" font-size="43.5" text-anchor="start">c</text>
<text transform="translate(708.3 317.5) rotate(-90)" font-size="35.8">Asymmetry</text>
<text y="530" font-size="36"><tspan x="337.6" font-style="italic">t </tspan><tspan x="357.5" font-size="24">(</tspan><tspan x="365.2" dx="0 -0.45" font-size="35">μs</tspan><tspan x="403.2" font-size="24">)</tspan></text>
<text y="530" font-size="36"><tspan x="1019.7" font-style="italic">t </tspan><tspan x="1039.6" font-size="24">(</tspan><tspan x="1047.3" dx="0 -0.45" font-size="35">μs</tspan><tspan x="1085.3" font-size="24">)</tspan></text>
<clipPath id="clipb"><rect x="110.9" y="577.5" width="527.3" height="405.9"/></clipPath>
<rect x="112.5" y="579.1" width="524.1" height="402.9" fill="none" stroke="#000" stroke-width="3.2"/>
<path d="M243.5 982v-13.2M243.5 579.1v13.2M374.5 982v-13.2M374.5 579.1v13.2M505.6 982v-13.2M505.6 579.1v13.2M178 982v-6.4M178 579.1v6.4M309 982v-6.4M309 579.1v6.4M440.1 982v-6.4M440.1 579.1v6.4M571.1 982v-6.4M571.1 579.1v6.4M112.5 934.6h13.2M636.6 934.6h-13.2M112.5 887.2h13.2M636.6 887.2h-13.2M112.5 839.8h13.2M636.6 839.8h-13.2M112.5 792.4h13.2M636.6 792.4h-13.2M112.5 745h13.2M636.6 745h-13.2M112.5 697.6h13.2M636.6 697.6h-13.2M112.5 650.2h13.2M636.6 650.2h-13.2M112.5 602.8h13.2M636.6 602.8h-13.2M112.5 958.3h6.4M636.6 958.3h-6.4M112.5 910.9h6.4M636.6 910.9h-6.4M112.5 863.5h6.4M636.6 863.5h-6.4M112.5 816.1h6.4M636.6 816.1h-6.4M112.5 768.7h6.4M636.6 768.7h-6.4M112.5 721.3h6.4M636.6 721.3h-6.4M112.5 673.9h6.4M636.6 673.9h-6.4M112.5 626.5h6.4M636.6 626.5h-6.4" stroke="#000" stroke-width="3.2" fill="none"/>
<text transform="translate(112.5 1021.9) scale(0.978 1.05)" font-size="32" text-anchor="middle">0</text>
<text transform="translate(243.5 1021.9) scale(0.978 1.05)" font-size="32" text-anchor="middle">5</text>
<text transform="translate(374.5 1021.9) scale(0.978 1.05)" font-size="32" text-anchor="middle">10</text>
<text transform="translate(505.6 1021.9) scale(0.978 1.05)" font-size="32" text-anchor="middle">15</text>
<text transform="translate(636.6 1021.9) scale(0.978 1.05)" font-size="32" text-anchor="middle">20</text>
<g clip-path="url(#clipb)">
<path d="M112.5 967.7L113.7 970.2L115 972.1L116.2 973.6L117.5 974.8L118.7 975.8L120 976.6L121.2 977.5L122.5 978.2L123.7 979L124.9 979.7L126.2 980.4L127.4 981.1L128.7 981.7L129.9 982.3L131.2 982.8L132.4 983.2L133.7 983.5L134.9 983.6L136.2 983.7L137.4 983.6L138.6 983.4L139.9 983L141.1 982.6L142.4 982.1L143.6 981.6L144.9 981L146.1 980.4L147.4 979.9L148.6 979.4L149.8 978.9L151.1 978.6L152.3 978.3L153.6 978.1L154.8 978.1L156.1 978.1L157.3 978.3L158.6 978.5L159.8 978.9L161 979.2L162.3 979.7L163.5 980.1L164.8 980.6L166 981L167.3 981.4L168.5 981.7L169.8 982L171 982.2L172.2 982.3L173.5 982.4L174.7 982.4L176 982.3L177.2 982.1L178.5 982L179.7 981.7L181 981.5L182.2 981.2L183.5 981L184.7 980.7L185.9 980.5L187.2 980.3L188.4 980.1L189.7 980L190.9 979.9L192.2 979.8L193.4 979.8L194.7 979.8L195.9 979.9L197.1 980L198.4 980.1L199.6 980.2L200.9 980.3L202.1 980.4L203.4 980.6L204.6 980.7L205.9 980.9L207.1 981L208.3 981.1L209.6 981.2L210.8 981.3L212.1 981.4L213.3 981.5L214.6 981.5L215.8 981.5L217.1 981.5L218.3 981.4L219.5 981.3L220.8 981.2L222 981L223.3 980.9L224.5 980.6L225.8 980.4L227 980.2L228.3 979.9L229.5 979.7L230.8 979.5L232 979.3L233.2 979.2L234.5 979.1L235.7 979.1L237 979.2L238.2 979.3L239.5 979.5L240.7 979.8L242 980.1L243.2 980.5L244.4 980.9L245.7 981.3L246.9 981.7L248.2 982.1L249.4 982.5L250.7 982.8L251.9 983L253.2 983.2L254.4 983.2L255.6 983.2L256.9 983L258.1 982.7L259.4 982.4L260.6 981.9L261.9 981.4L263.1 980.9L264.4 980.3L265.6 979.7L266.8 979.2L268.1 978.7L269.3 978.3L270.6 978L271.8 977.8L273.1 977.7L274.3 977.7L275.6 977.9L276.8 978.2L278.1 978.5L279.3 979L280.5 979.5L281.8 980.1L283 980.7L284.3 981.2L285.5 981.8L286.8 982.3L288 982.7L289.3 983L290.5 983.2L291.7 983.3L293 983.3L294.2 983.2L295.5 983L296.7 982.8L298 982.4L299.2 982L300.5 981.5L301.7 981.1L302.9 980.6L304.2 980.2L305.4 979.8L306.7 979.5L307.9 979.3L309.2 979.1L310.4 979L311.7 979L312.9 979L314.1 979.1L315.4 979.3L316.6 979.5L317.9 979.7L319.1 980L320.4 980.2L321.6 980.5L322.9 980.7L324.1 980.9L325.4 981L326.6 981.1L327.8 981.1L329.1 981L330.3 980.7L331.6 980.4L332.8 979.8L334.1 979.1L335.3 978L336.6 976.6L337.8 974.8L339 972.5L340.3 969.6L341.5 965.9L342.8 961.4L344 955.8L345.3 949L346.5 940.9L347.8 931.3L349 920.1L350.2 907.2L351.5 892.5L352.7 876.2L354 858.1L355.2 838.6L356.5 817.7L357.7 795.9L359 773.4L360.2 750.7L361.4 728.4L362.7 706.9L363.9 686.9L365.2 668.9L366.4 653.5L367.7 641L368.9 632L370.2 626.7L371.4 625.2L372.7 627.6L373.9 633.9L375.1 643.8L376.4 656.9L377.6 673L378.9 691.4L380.1 711.6L381.4 733.1L382.6 755.4L383.9 777.8L385.1 799.9L386.3 821.3L387.6 841.7L388.8 860.7L390.1 878.2L391.3 894.1L392.6 908.3L393.8 920.9L395.1 931.8L396.3 941.3L397.5 949.4L398.8 956.3L400 962L401.3 966.8L402.5 970.7L403.8 973.9L405 976.5L406.3 978.5L407.5 980L408.7 981.2L410 982L411.2 982.5L412.5 982.8L413.7 982.8L415 982.7L416.2 982.4L417.5 982L418.7 981.5L420 981L421.2 980.4L422.4 979.9L423.7 979.4L424.9 978.9L426.2 978.5L427.4 978.2L428.7 978.1L429.9 978L431.2 978L432.4 978.2L433.6 978.4L434.9 978.8L436.1 979.2L437.4 979.6L438.6 980.1L439.9 980.5L441.1 981L442.4 981.4L443.6 981.7L444.8 982.1L446.1 982.3L447.3 982.4L448.6 982.5L449.8 982.5L451.1 982.4L452.3 982.3L453.6 982.1L454.8 981.8L456 981.6L457.3 981.3L458.5 981L459.8 980.7L461 980.5L462.3 980.3L463.5 980.1L464.8 979.9L466 979.8L467.3 979.8L468.5 979.8L469.7 979.8L471 979.8L472.2 979.9L473.5 980L474.7 980.1L476 980.3L477.2 980.4L478.5 980.6L479.7 980.7L480.9 980.8L482.2 981L483.4 981.1L484.7 981.2L485.9 981.3L487.2 981.4L488.4 981.4L489.7 981.5L490.9 981.5L492.1 981.4L493.4 981.4L494.6 981.3L495.9 981.2L497.1 981L498.4 980.8L499.6 980.7L500.9 980.4L502.1 980.2L503.3 980L504.6 979.8L505.8 979.6L507.1 979.5L508.3 979.3L509.6 979.3L510.8 979.3L512.1 979.3L513.3 979.4L514.6 979.6L515.8 979.9L517 980.2L518.3 980.5L519.5 980.9L520.8 981.3L522 981.7L523.3 982L524.5 982.4L525.8 982.7L527 982.9L528.2 983.1L529.5 983.1L530.7 983.1L532 982.9L533.2 982.7L534.5 982.3L535.7 981.9L537 981.4L538.2 980.9L539.4 980.3L540.7 979.8L541.9 979.3L543.2 978.8L544.4 978.4L545.7 978L546.9 977.8L548.2 977.7L549.4 977.7L550.6 977.9L551.9 978.1L553.1 978.5L554.4 979L555.6 979.5L556.9 980L558.1 980.6L559.4 981.2L560.6 981.8L561.9 982.3L563.1 982.7L564.3 983L565.6 983.3L566.8 983.4L568.1 983.4L569.3 983.3L570.6 983.2L571.8 982.9L573.1 982.5L574.3 982.1L575.5 981.6L576.8 981.1L578 980.7L579.3 980.2L580.5 979.8L581.8 979.5L583 979.2L584.3 979L585.5 978.9L586.7 978.8L588 978.9L589.2 979L590.5 979.1L591.7 979.4L593 979.6L594.2 979.9L595.5 980.2L596.7 980.5L597.9 980.8L599.2 981L600.4 981.2L601.7 981.4L602.9 981.6L604.2 981.6L605.4 981.7L606.7 981.7L607.9 981.6L609.2 981.6L610.4 981.5L611.6 981.4L612.9 981.2L614.1 981.1L615.4 980.9L616.6 980.8L617.9 980.6L619.1 980.5L620.4 980.4L621.6 980.2L622.8 980.1L624.1 980.1L625.3 980L626.6 980L627.8 979.9L629.1 980L630.3 980L631.6 980.1L632.8 980.2L634 980.3L635.3 980.5L636.5 980.6L636.5 982L112.5 982z" fill="#ffbaba" fill-opacity="0.8"/>
<path d="M112.5 967.7L113.7 970.2L115 972.1L116.2 973.6L117.5 974.8L118.7 975.8L120 976.6L121.2 977.5L122.5 978.2L123.7 979L124.9 979.7L126.2 980.4L127.4 981.1L128.7 981.7L129.9 982.3L131.2 982.8L132.4 983.2L133.7 983.5L134.9 983.6L136.2 983.7L137.4 983.6L138.6 983.4L139.9 983L141.1 982.6L142.4 982.1L143.6 981.6L144.9 981L146.1 980.4L147.4 979.9L148.6 979.4L149.8 978.9L151.1 978.6L152.3 978.3L153.6 978.1L154.8 978.1L156.1 978.1L157.3 978.3L158.6 978.5L159.8 978.9L161 979.2L162.3 979.7L163.5 980.1L164.8 980.6L166 981L167.3 981.4L168.5 981.7L169.8 982L171 982.2L172.2 982.3L173.5 982.4L174.7 982.4L176 982.3L177.2 982.1L178.5 982L179.7 981.7L181 981.5L182.2 981.2L183.5 981L184.7 980.7L185.9 980.5L187.2 980.3L188.4 980.1L189.7 980L190.9 979.9L192.2 979.8L193.4 979.8L194.7 979.8L195.9 979.9L197.1 980L198.4 980.1L199.6 980.2L200.9 980.3L202.1 980.4L203.4 980.6L204.6 980.7L205.9 980.9L207.1 981L208.3 981.1L209.6 981.2L210.8 981.3L212.1 981.4L213.3 981.5L214.6 981.5L215.8 981.5L217.1 981.5L218.3 981.4L219.5 981.3L220.8 981.2L222 981L223.3 980.9L224.5 980.6L225.8 980.4L227 980.2L228.3 979.9L229.5 979.7L230.8 979.5L232 979.3L233.2 979.2L234.5 979.1L235.7 979.1L237 979.2L238.2 979.3L239.5 979.5L240.7 979.8L242 980.1L243.2 980.5L244.4 980.9L245.7 981.3L246.9 981.7L248.2 982.1L249.4 982.5L250.7 982.8L251.9 983L253.2 983.2L254.4 983.2L255.6 983.2L256.9 983L258.1 982.7L259.4 982.4L260.6 981.9L261.9 981.4L263.1 980.9L264.4 980.3L265.6 979.7L266.8 979.2L268.1 978.7L269.3 978.3L270.6 978L271.8 977.8L273.1 977.7L274.3 977.7L275.6 977.9L276.8 978.2L278.1 978.5L279.3 979L280.5 979.5L281.8 980.1L283 980.7L284.3 981.2L285.5 981.8L286.8 982.3L288 982.7L289.3 983L290.5 983.2L291.7 983.3L293 983.3L294.2 983.2L295.5 983L296.7 982.8L298 982.4L299.2 982L300.5 981.5L301.7 981.1L302.9 980.6L304.2 980.2L305.4 979.8L306.7 979.5L307.9 979.3L309.2 979.1L310.4 979L311.7 979L312.9 979L314.1 979.1L315.4 979.3L316.6 979.5L317.9 979.7L319.1 980L320.4 980.2L321.6 980.5L322.9 980.7L324.1 980.9L325.4 981L326.6 981.1L327.8 981.1L329.1 981L330.3 980.7L331.6 980.4L332.8 979.8L334.1 979.1L335.3 978L336.6 976.6L337.8 974.8L339 972.5L340.3 969.6L341.5 965.9L342.8 961.4L344 955.8L345.3 949L346.5 940.9L347.8 931.3L349 920.1L350.2 907.2L351.5 892.5L352.7 876.2L354 858.1L355.2 838.6L356.5 817.7L357.7 795.9L359 773.4L360.2 750.7L361.4 728.4L362.7 706.9L363.9 686.9L365.2 668.9L366.4 653.5L367.7 641L368.9 632L370.2 626.7L371.4 625.2L372.7 627.6L373.9 633.9L375.1 643.8L376.4 656.9L377.6 673L378.9 691.4L380.1 711.6L381.4 733.1L382.6 755.4L383.9 777.8L385.1 799.9L386.3 821.3L387.6 841.7L388.8 860.7L390.1 878.2L391.3 894.1L392.6 908.3L393.8 920.9L395.1 931.8L396.3 941.3L397.5 949.4L398.8 956.3L400 962L401.3 966.8L402.5 970.7L403.8 973.9L405 976.5L406.3 978.5L407.5 980L408.7 981.2L410 982L411.2 982.5L412.5 982.8L413.7 982.8L415 982.7L416.2 982.4L417.5 982L418.7 981.5L420 981L421.2 980.4L422.4 979.9L423.7 979.4L424.9 978.9L426.2 978.5L427.4 978.2L428.7 978.1L429.9 978L431.2 978L432.4 978.2L433.6 978.4L434.9 978.8L436.1 979.2L437.4 979.6L438.6 980.1L439.9 980.5L441.1 981L442.4 981.4L443.6 981.7L444.8 982.1L446.1 982.3L447.3 982.4L448.6 982.5L449.8 982.5L451.1 982.4L452.3 982.3L453.6 982.1L454.8 981.8L456 981.6L457.3 981.3L458.5 981L459.8 980.7L461 980.5L462.3 980.3L463.5 980.1L464.8 979.9L466 979.8L467.3 979.8L468.5 979.8L469.7 979.8L471 979.8L472.2 979.9L473.5 980L474.7 980.1L476 980.3L477.2 980.4L478.5 980.6L479.7 980.7L480.9 980.8L482.2 981L483.4 981.1L484.7 981.2L485.9 981.3L487.2 981.4L488.4 981.4L489.7 981.5L490.9 981.5L492.1 981.4L493.4 981.4L494.6 981.3L495.9 981.2L497.1 981L498.4 980.8L499.6 980.7L500.9 980.4L502.1 980.2L503.3 980L504.6 979.8L505.8 979.6L507.1 979.5L508.3 979.3L509.6 979.3L510.8 979.3L512.1 979.3L513.3 979.4L514.6 979.6L515.8 979.9L517 980.2L518.3 980.5L519.5 980.9L520.8 981.3L522 981.7L523.3 982L524.5 982.4L525.8 982.7L527 982.9L528.2 983.1L529.5 983.1L530.7 983.1L532 982.9L533.2 982.7L534.5 982.3L535.7 981.9L537 981.4L538.2 980.9L539.4 980.3L540.7 979.8L541.9 979.3L543.2 978.8L544.4 978.4L545.7 978L546.9 977.8L548.2 977.7L549.4 977.7L550.6 977.9L551.9 978.1L553.1 978.5L554.4 979L555.6 979.5L556.9 980L558.1 980.6L559.4 981.2L560.6 981.8L561.9 982.3L563.1 982.7L564.3 983L565.6 983.3L566.8 983.4L568.1 983.4L569.3 983.3L570.6 983.2L571.8 982.9L573.1 982.5L574.3 982.1L575.5 981.6L576.8 981.1L578 980.7L579.3 980.2L580.5 979.8L581.8 979.5L583 979.2L584.3 979L585.5 978.9L586.7 978.8L588 978.9L589.2 979L590.5 979.1L591.7 979.4L593 979.6L594.2 979.9L595.5 980.2L596.7 980.5L597.9 980.8L599.2 981L600.4 981.2L601.7 981.4L602.9 981.6L604.2 981.6L605.4 981.7L606.7 981.7L607.9 981.6L609.2 981.6L610.4 981.5L611.6 981.4L612.9 981.2L614.1 981.1L615.4 980.9L616.6 980.8L617.9 980.6L619.1 980.5L620.4 980.4L621.6 980.2L622.8 980.1L624.1 980.1L625.3 980L626.6 980L627.8 979.9L629.1 980L630.3 980L631.6 980.1L632.8 980.2L634 980.3L635.3 980.5L636.5 980.6" stroke="#e61900" stroke-width="2" fill="none"/>
<path d="M105.1 967.7a7.4 7.4 0 1 0 14.8 0a7.4 7.4 0 1 0 -14.8 0zM106.3 970.2a7.4 7.4 0 1 0 14.8 0a7.4 7.4 0 1 0 -14.8 0zM107.6 972.1a7.4 7.4 0 1 0 14.8 0a7.4 7.4 0 1 0 -14.8 0zM108.8 973.6a7.4 7.4 0 1 0 14.8 0a7.4 7.4 0 1 0 -14.8 0zM110.1 974.8a7.4 7.4 0 1 0 14.8 0a7.4 7.4 0 1 0 -14.8 0zM111.3 975.8a7.4 7.4 0 1 0 14.8 0a7.4 7.4 0 1 0 -14.8 0zM112.6 976.6a7.4 7.4 0 1 0 14.8 0a7.4 7.4 0 1 0 -14.8 0zM113.8 977.5a7.4 7.4 0 1 0 14.8 0a7.4 7.4 0 1 0 -14.8 0zM115.1 978.2a7.4 7.4 0 1 0 14.8 0a7.4 7.4 0 1 0 -14.8 0zM116.3 979a7.4 7.4 0 1 0 14.8 0a7.4 7.4 0 1 0 -14.8 0zM117.5 979.7a7.4 7.4 0 1 0 14.8 0a7.4 7.4 0 1 0 -14.8 0zM118.8 980.4a7.4 7.4 0 1 0 14.8 0a7.4 7.4 0 1 0 -14.8 0zM120 981.1a7.4 7.4 0 1 0 14.8 0a7.4 7.4 0 1 0 -14.8 0zM121.3 981.7a7.4 7.4 0 1 0 14.8 0a7.4 7.4 0 1 0 -14.8 0zM122.5 982.3a7.4 7.4 0 1 0 14.8 0a7.4 7.4 0 1 0 -14.8 0zM123.8 982.8a7.4 7.4 0 1 0 14.8 0a7.4 7.4 0 1 0 -14.8 0zM125 983.2a7.4 7.4 0 1 0 14.8 0a7.4 7.4 0 1 0 -14.8 0zM126.3 983.5a7.4 7.4 0 1 0 14.8 0a7.4 7.4 0 1 0 -14.8 0zM127.5 983.6a7.4 7.4 0 1 0 14.8 0a7.4 7.4 0 1 0 -14.8 0zM128.8 983.7a7.4 7.4 0 1 0 14.8 0a7.4 7.4 0 1 0 -14.8 0zM130 983.6a7.4 7.4 0 1 0 14.8 0a7.4 7.4 0 1 0 -14.8 0zM131.2 983.4a7.4 7.4 0 1 0 14.8 0a7.4 7.4 0 1 0 -14.8 0zM132.5 983a7.4 7.4 0 1 0 14.8 0a7.4 7.4 0 1 0 -14.8 0zM133.7 982.6a7.4 7.4 0 1 0 14.8 0a7.4 7.4 0 1 0 -14.8 0zM135 982.1a7.4 7.4 0 1 0 14.8 0a7.4 7.4 0 1 0 -14.8 0zM136.2 981.6a7.4 7.4 0 1 0 14.8 0a7.4 7.4 0 1 0 -14.8 0zM137.5 981a7.4 7.4 0 1 0 14.8 0a7.4 7.4 0 1 0 -14.8 0zM138.7 980.4a7.4 7.4 0 1 0 14.8 0a7.4 7.4 0 1 0 -14.8 0zM140 979.9a7.4 7.4 0 1 0 14.8 0a7.4 7.4 0 1 0 -14.8 0zM141.2 979.4a7.4 7.4 0 1 0 14.8 0a7.4 7.4 0 1 0 -14.8 0zM142.4 978.9a7.4 7.4 0 1 0 14.8 0a7.4 7.4 0 1 0 -14.8 0zM143.7 978.6a7.4 7.4 0 1 0 14.8 0a7.4 7.4 0 1 0 -14.8 0zM144.9 978.3a7.4 7.4 0 1 0 14.8 0a7.4 7.4 0 1 0 -14.8 0zM146.2 978.1a7.4 7.4 0 1 0 14.8 0a7.4 7.4 0 1 0 -14.8 0zM147.4 978.1a7.4 7.4 0 1 0 14.8 0a7.4 7.4 0 1 0 -14.8 0zM148.7 978.1a7.4 7.4 0 1 0 14.8 0a7.4 7.4 0 1 0 -14.8 0zM149.9 978.3a7.4 7.4 0 1 0 14.8 0a7.4 7.4 0 1 0 -14.8 0zM151.2 978.5a7.4 7.4 0 1 0 14.8 0a7.4 7.4 0 1 0 -14.8 0zM152.4 978.9a7.4 7.4 0 1 0 14.8 0a7.4 7.4 0 1 0 -14.8 0zM153.6 979.2a7.4 7.4 0 1 0 14.8 0a7.4 7.4 0 1 0 -14.8 0zM154.9 979.7a7.4 7.4 0 1 0 14.8 0a7.4 7.4 0 1 0 -14.8 0zM156.1 980.1a7.4 7.4 0 1 0 14.8 0a7.4 7.4 0 1 0 -14.8 0zM157.4 980.6a7.4 7.4 0 1 0 14.8 0a7.4 7.4 0 1 0 -14.8 0zM158.6 981a7.4 7.4 0 1 0 14.8 0a7.4 7.4 0 1 0 -14.8 0zM159.9 981.4a7.4 7.4 0 1 0 14.8 0a7.4 7.4 0 1 0 -14.8 0zM161.1 981.7a7.4 7.4 0 1 0 14.8 0a7.4 7.4 0 1 0 -14.8 0zM162.4 982a7.4 7.4 0 1 0 14.8 0a7.4 7.4 0 1 0 -14.8 0zM163.6 982.2a7.4 7.4 0 1 0 14.8 0a7.4 7.4 0 1 0 -14.8 0zM164.8 982.3a7.4 7.4 0 1 0 14.8 0a7.4 7.4 0 1 0 -14.8 0zM166.1 982.4a7.4 7.4 0 1 0 14.8 0a7.4 7.4 0 1 0 -14.8 0zM167.3 982.4a7.4 7.4 0 1 0 14.8 0a7.4 7.4 0 1 0 -14.8 0zM168.6 982.3a7.4 7.4 0 1 0 14.8 0a7.4 7.4 0 1 0 -14.8 0zM169.8 982.1a7.4 7.4 0 1 0 14.8 0a7.4 7.4 0 1 0 -14.8 0zM171.1 982a7.4 7.4 0 1 0 14.8 0a7.4 7.4 0 1 0 -14.8 0zM172.3 981.7a7.4 7.4 0 1 0 14.8 0a7.4 7.4 0 1 0 -14.8 0zM173.6 981.5a7.4 7.4 0 1 0 14.8 0a7.4 7.4 0 1 0 -14.8 0zM174.8 981.2a7.4 7.4 0 1 0 14.8 0a7.4 7.4 0 1 0 -14.8 0zM176.1 981a7.4 7.4 0 1 0 14.8 0a7.4 7.4 0 1 0 -14.8 0zM177.3 980.7a7.4 7.4 0 1 0 14.8 0a7.4 7.4 0 1 0 -14.8 0zM178.5 980.5a7.4 7.4 0 1 0 14.8 0a7.4 7.4 0 1 0 -14.8 0zM179.8 980.3a7.4 7.4 0 1 0 14.8 0a7.4 7.4 0 1 0 -14.8 0zM181 980.1a7.4 7.4 0 1 0 14.8 0a7.4 7.4 0 1 0 -14.8 0zM182.3 980a7.4 7.4 0 1 0 14.8 0a7.4 7.4 0 1 0 -14.8 0zM183.5 979.9a7.4 7.4 0 1 0 14.8 0a7.4 7.4 0 1 0 -14.8 0zM184.8 979.8a7.4 7.4 0 1 0 14.8 0a7.4 7.4 0 1 0 -14.8 0zM186 979.8a7.4 7.4 0 1 0 14.8 0a7.4 7.4 0 1 0 -14.8 0zM187.3 979.8a7.4 7.4 0 1 0 14.8 0a7.4 7.4 0 1 0 -14.8 0zM188.5 979.9a7.4 7.4 0 1 0 14.8 0a7.4 7.4 0 1 0 -14.8 0zM189.7 980a7.4 7.4 0 1 0 14.8 0a7.4 7.4 0 1 0 -14.8 0zM191 980.1a7.4 7.4 0 1 0 14.8 0a7.4 7.4 0 1 0 -14.8 0zM192.2 980.2a7.4 7.4 0 1 0 14.8 0a7.4 7.4 0 1 0 -14.8 0zM193.5 980.3a7.4 7.4 0 1 0 14.8 0a7.4 7.4 0 1 0 -14.8 0zM194.7 980.4a7.4 7.4 0 1 0 14.8 0a7.4 7.4 0 1 0 -14.8 0zM196 980.6a7.4 7.4 0 1 0 14.8 0a7.4 7.4 0 1 0 -14.8 0zM197.2 980.7a7.4 7.4 0 1 0 14.8 0a7.4 7.4 0 1 0 -14.8 0zM198.5 980.9a7.4 7.4 0 1 0 14.8 0a7.4 7.4 0 1 0 -14.8 0zM199.7 981a7.4 7.4 0 1 0 14.8 0a7.4 7.4 0 1 0 -14.8 0zM200.9 981.1a7.4 7.4 0 1 0 14.8 0a7.4 7.4 0 1 0 -14.8 0zM202.2 981.2a7.4 7.4 0 1 0 14.8 0a7.4 7.4 0 1 0 -14.8 0zM203.4 981.3a7.4 7.4 0 1 0 14.8 0a7.4 7.4 0 1 0 -14.8 0zM204.7 981.4a7.4 7.4 0 1 0 14.8 0a7.4 7.4 0 1 0 -14.8 0zM205.9 981.5a7.4 7.4 0 1 0 14.8 0a7.4 7.4 0 1 0 -14.8 0zM207.2 981.5a7.4 7.4 0 1 0 14.8 0a7.4 7.4 0 1 0 -14.8 0zM208.4 981.5a7.4 7.4 0 1 0 14.8 0a7.4 7.4 0 1 0 -14.8 0zM209.7 981.5a7.4 7.4 0 1 0 14.8 0a7.4 7.4 0 1 0 -14.8 0zM210.9 981.4a7.4 7.4 0 1 0 14.8 0a7.4 7.4 0 1 0 -14.8 0zM212.1 981.3a7.4 7.4 0 1 0 14.8 0a7.4 7.4 0 1 0 -14.8 0zM213.4 981.2a7.4 7.4 0 1 0 14.8 0a7.4 7.4 0 1 0 -14.8 0zM214.6 981a7.4 7.4 0 1 0 14.8 0a7.4 7.4 0 1 0 -14.8 0zM215.9 980.9a7.4 7.4 0 1 0 14.8 0a7.4 7.4 0 1 0 -14.8 0zM217.1 980.6a7.4 7.4 0 1 0 14.8 0a7.4 7.4 0 1 0 -14.8 0zM218.4 980.4a7.4 7.4 0 1 0 14.8 0a7.4 7.4 0 1 0 -14.8 0zM219.6 980.2a7.4 7.4 0 1 0 14.8 0a7.4 7.4 0 1 0 -14.8 0zM220.9 979.9a7.4 7.4 0 1 0 14.8 0a7.4 7.4 0 1 0 -14.8 0zM222.1 979.7a7.4 7.4 0 1 0 14.8 0a7.4 7.4 0 1 0 -14.8 0zM223.4 979.5a7.4 7.4 0 1 0 14.8 0a7.4 7.4 0 1 0 -14.8 0zM224.6 979.3a7.4 7.4 0 1 0 14.8 0a7.4 7.4 0 1 0 -14.8 0zM225.8 979.2a7.4 7.4 0 1 0 14.8 0a7.4 7.4 0 1 0 -14.8 0zM227.1 979.1a7.4 7.4 0 1 0 14.8 0a7.4 7.4 0 1 0 -14.8 0zM228.3 979.1a7.4 7.4 0 1 0 14.8 0a7.4 7.4 0 1 0 -14.8 0zM229.6 979.2a7.4 7.4 0 1 0 14.8 0a7.4 7.4 0 1 0 -14.8 0zM230.8 979.3a7.4 7.4 0 1 0 14.8 0a7.4 7.4 0 1 0 -14.8 0zM232.1 979.5a7.4 7.4 0 1 0 14.8 0a7.4 7.4 0 1 0 -14.8 0zM233.3 979.8a7.4 7.4 0 1 0 14.8 0a7.4 7.4 0 1 0 -14.8 0zM234.6 980.1a7.4 7.4 0 1 0 14.8 0a7.4 7.4 0 1 0 -14.8 0zM235.8 980.5a7.4 7.4 0 1 0 14.8 0a7.4 7.4 0 1 0 -14.8 0zM237 980.9a7.4 7.4 0 1 0 14.8 0a7.4 7.4 0 1 0 -14.8 0zM238.3 981.3a7.4 7.4 0 1 0 14.8 0a7.4 7.4 0 1 0 -14.8 0zM239.5 981.7a7.4 7.4 0 1 0 14.8 0a7.4 7.4 0 1 0 -14.8 0zM240.8 982.1a7.4 7.4 0 1 0 14.8 0a7.4 7.4 0 1 0 -14.8 0zM242 982.5a7.4 7.4 0 1 0 14.8 0a7.4 7.4 0 1 0 -14.8 0zM243.3 982.8a7.4 7.4 0 1 0 14.8 0a7.4 7.4 0 1 0 -14.8 0zM244.5 983a7.4 7.4 0 1 0 14.8 0a7.4 7.4 0 1 0 -14.8 0zM245.8 983.2a7.4 7.4 0 1 0 14.8 0a7.4 7.4 0 1 0 -14.8 0zM247 983.2a7.4 7.4 0 1 0 14.8 0a7.4 7.4 0 1 0 -14.8 0zM248.2 983.2a7.4 7.4 0 1 0 14.8 0a7.4 7.4 0 1 0 -14.8 0zM249.5 983a7.4 7.4 0 1 0 14.8 0a7.4 7.4 0 1 0 -14.8 0zM250.7 982.7a7.4 7.4 0 1 0 14.8 0a7.4 7.4 0 1 0 -14.8 0zM252 982.4a7.4 7.4 0 1 0 14.8 0a7.4 7.4 0 1 0 -14.8 0zM253.2 981.9a7.4 7.4 0 1 0 14.8 0a7.4 7.4 0 1 0 -14.8 0zM254.5 981.4a7.4 7.4 0 1 0 14.8 0a7.4 7.4 0 1 0 -14.8 0zM255.7 980.9a7.4 7.4 0 1 0 14.8 0a7.4 7.4 0 1 0 -14.8 0zM257 980.3a7.4 7.4 0 1 0 14.8 0a7.4 7.4 0 1 0 -14.8 0zM258.2 979.7a7.4 7.4 0 1 0 14.8 0a7.4 7.4 0 1 0 -14.8 0zM259.4 979.2a7.4 7.4 0 1 0 14.8 0a7.4 7.4 0 1 0 -14.8 0zM260.7 978.7a7.4 7.4 0 1 0 14.8 0a7.4 7.4 0 1 0 -14.8 0zM261.9 978.3a7.4 7.4 0 1 0 14.8 0a7.4 7.4 0 1 0 -14.8 0zM263.2 978a7.4 7.4 0 1 0 14.8 0a7.4 7.4 0 1 0 -14.8 0zM264.4 977.8a7.4 7.4 0 1 0 14.8 0a7.4 7.4 0 1 0 -14.8 0zM265.7 977.7a7.4 7.4 0 1 0 14.8 0a7.4 7.4 0 1 0 -14.8 0zM266.9 977.7a7.4 7.4 0 1 0 14.8 0a7.4 7.4 0 1 0 -14.8 0zM268.2 977.9a7.4 7.4 0 1 0 14.8 0a7.4 7.4 0 1 0 -14.8 0zM269.4 978.2a7.4 7.4 0 1 0 14.8 0a7.4 7.4 0 1 0 -14.8 0zM270.7 978.5a7.4 7.4 0 1 0 14.8 0a7.4 7.4 0 1 0 -14.8 0zM271.9 979a7.4 7.4 0 1 0 14.8 0a7.4 7.4 0 1 0 -14.8 0zM273.1 979.5a7.4 7.4 0 1 0 14.8 0a7.4 7.4 0 1 0 -14.8 0zM274.4 980.1a7.4 7.4 0 1 0 14.8 0a7.4 7.4 0 1 0 -14.8 0zM275.6 980.7a7.4 7.4 0 1 0 14.8 0a7.4 7.4 0 1 0 -14.8 0zM276.9 981.2a7.4 7.4 0 1 0 14.8 0a7.4 7.4 0 1 0 -14.8 0zM278.1 981.8a7.4 7.4 0 1 0 14.8 0a7.4 7.4 0 1 0 -14.8 0zM279.4 982.3a7.4 7.4 0 1 0 14.8 0a7.4 7.4 0 1 0 -14.8 0zM280.6 982.7a7.4 7.4 0 1 0 14.8 0a7.4 7.4 0 1 0 -14.8 0zM281.9 983a7.4 7.4 0 1 0 14.8 0a7.4 7.4 0 1 0 -14.8 0zM283.1 983.2a7.4 7.4 0 1 0 14.8 0a7.4 7.4 0 1 0 -14.8 0zM284.3 983.3a7.4 7.4 0 1 0 14.8 0a7.4 7.4 0 1 0 -14.8 0zM285.6 983.3a7.4 7.4 0 1 0 14.8 0a7.4 7.4 0 1 0 -14.8 0zM286.8 983.2a7.4 7.4 0 1 0 14.8 0a7.4 7.4 0 1 0 -14.8 0zM288.1 983a7.4 7.4 0 1 0 14.8 0a7.4 7.4 0 1 0 -14.8 0zM289.3 982.8a7.4 7.4 0 1 0 14.8 0a7.4 7.4 0 1 0 -14.8 0zM290.6 982.4a7.4 7.4 0 1 0 14.8 0a7.4 7.4 0 1 0 -14.8 0zM291.8 982a7.4 7.4 0 1 0 14.8 0a7.4 7.4 0 1 0 -14.8 0zM293.1 981.5a7.4 7.4 0 1 0 14.8 0a7.4 7.4 0 1 0 -14.8 0zM294.3 981.1a7.4 7.4 0 1 0 14.8 0a7.4 7.4 0 1 0 -14.8 0zM295.5 980.6a7.4 7.4 0 1 0 14.8 0a7.4 7.4 0 1 0 -14.8 0zM296.8 980.2a7.4 7.4 0 1 0 14.8 0a7.4 7.4 0 1 0 -14.8 0zM298 979.8a7.4 7.4 0 1 0 14.8 0a7.4 7.4 0 1 0 -14.8 0zM299.3 979.5a7.4 7.4 0 1 0 14.8 0a7.4 7.4 0 1 0 -14.8 0zM300.5 979.3a7.4 7.4 0 1 0 14.8 0a7.4 7.4 0 1 0 -14.8 0zM301.8 979.1a7.4 7.4 0 1 0 14.8 0a7.4 7.4 0 1 0 -14.8 0zM303 979a7.4 7.4 0 1 0 14.8 0a7.4 7.4 0 1 0 -14.8 0zM304.3 979a7.4 7.4 0 1 0 14.8 0a7.4 7.4 0 1 0 -14.8 0zM305.5 979a7.4 7.4 0 1 0 14.8 0a7.4 7.4 0 1 0 -14.8 0zM306.7 979.1a7.4 7.4 0 1 0 14.8 0a7.4 7.4 0 1 0 -14.8 0zM308 979.3a7.4 7.4 0 1 0 14.8 0a7.4 7.4 0 1 0 -14.8 0zM309.2 979.5a7.4 7.4 0 1 0 14.8 0a7.4 7.4 0 1 0 -14.8 0zM310.5 979.7a7.4 7.4 0 1 0 14.8 0a7.4 7.4 0 1 0 -14.8 0zM311.7 980a7.4 7.4 0 1 0 14.8 0a7.4 7.4 0 1 0 -14.8 0zM313 980.2a7.4 7.4 0 1 0 14.8 0a7.4 7.4 0 1 0 -14.8 0zM314.2 980.5a7.4 7.4 0 1 0 14.8 0a7.4 7.4 0 1 0 -14.8 0zM315.5 980.7a7.4 7.4 0 1 0 14.8 0a7.4 7.4 0 1 0 -14.8 0zM316.7 980.9a7.4 7.4 0 1 0 14.8 0a7.4 7.4 0 1 0 -14.8 0zM318 981a7.4 7.4 0 1 0 14.8 0a7.4 7.4 0 1 0 -14.8 0zM319.2 981.1a7.4 7.4 0 1 0 14.8 0a7.4 7.4 0 1 0 -14.8 0zM320.4 981.1a7.4 7.4 0 1 0 14.8 0a7.4 7.4 0 1 0 -14.8 0zM321.7 981a7.4 7.4 0 1 0 14.8 0a7.4 7.4 0 1 0 -14.8 0zM322.9 980.7a7.4 7.4 0 1 0 14.8 0a7.4 7.4 0 1 0 -14.8 0zM324.2 980.4a7.4 7.4 0 1 0 14.8 0a7.4 7.4 0 1 0 -14.8 0zM325.4 979.8a7.4 7.4 0 1 0 14.8 0a7.4 7.4 0 1 0 -14.8 0zM326.7 979.1a7.4 7.4 0 1 0 14.8 0a7.4 7.4 0 1 0 -14.8 0zM327.9 978a7.4 7.4 0 1 0 14.8 0a7.4 7.4 0 1 0 -14.8 0zM329.2 976.6a7.4 7.4 0 1 0 14.8 0a7.4 7.4 0 1 0 -14.8 0zM330.4 974.8a7.4 7.4 0 1 0 14.8 0a7.4 7.4 0 1 0 -14.8 0zM331.6 972.5a7.4 7.4 0 1 0 14.8 0a7.4 7.4 0 1 0 -14.8 0zM332.9 969.6a7.4 7.4 0 1 0 14.8 0a7.4 7.4 0 1 0 -14.8 0zM334.1 965.9a7.4 7.4 0 1 0 14.8 0a7.4 7.4 0 1 0 -14.8 0zM335.4 961.4a7.4 7.4 0 1 0 14.8 0a7.4 7.4 0 1 0 -14.8 0zM336.6 955.8a7.4 7.4 0 1 0 14.8 0a7.4 7.4 0 1 0 -14.8 0zM337.9 949a7.4 7.4 0 1 0 14.8 0a7.4 7.4 0 1 0 -14.8 0zM339.1 940.9a7.4 7.4 0 1 0 14.8 0a7.4 7.4 0 1 0 -14.8 0zM340.4 931.3a7.4 7.4 0 1 0 14.8 0a7.4 7.4 0 1 0 -14.8 0zM341.6 920.1a7.4 7.4 0 1 0 14.8 0a7.4 7.4 0 1 0 -14.8 0zM342.8 907.2a7.4 7.4 0 1 0 14.8 0a7.4 7.4 0 1 0 -14.8 0zM344.1 892.5a7.4 7.4 0 1 0 14.8 0a7.4 7.4 0 1 0 -14.8 0zM345.3 876.2a7.4 7.4 0 1 0 14.8 0a7.4 7.4 0 1 0 -14.8 0zM346.6 858.1a7.4 7.4 0 1 0 14.8 0a7.4 7.4 0 1 0 -14.8 0zM347.8 838.6a7.4 7.4 0 1 0 14.8 0a7.4 7.4 0 1 0 -14.8 0zM349.1 817.7a7.4 7.4 0 1 0 14.8 0a7.4 7.4 0 1 0 -14.8 0zM350.3 795.9a7.4 7.4 0 1 0 14.8 0a7.4 7.4 0 1 0 -14.8 0zM351.6 773.4a7.4 7.4 0 1 0 14.8 0a7.4 7.4 0 1 0 -14.8 0zM352.8 750.7a7.4 7.4 0 1 0 14.8 0a7.4 7.4 0 1 0 -14.8 0zM354 728.4a7.4 7.4 0 1 0 14.8 0a7.4 7.4 0 1 0 -14.8 0zM355.3 706.9a7.4 7.4 0 1 0 14.8 0a7.4 7.4 0 1 0 -14.8 0zM356.5 686.9a7.4 7.4 0 1 0 14.8 0a7.4 7.4 0 1 0 -14.8 0zM357.8 668.9a7.4 7.4 0 1 0 14.8 0a7.4 7.4 0 1 0 -14.8 0zM359 653.5a7.4 7.4 0 1 0 14.8 0a7.4 7.4 0 1 0 -14.8 0zM360.3 641a7.4 7.4 0 1 0 14.8 0a7.4 7.4 0 1 0 -14.8 0zM361.5 632a7.4 7.4 0 1 0 14.8 0a7.4 7.4 0 1 0 -14.8 0zM362.8 626.7a7.4 7.4 0 1 0 14.8 0a7.4 7.4 0 1 0 -14.8 0zM364 625.2a7.4 7.4 0 1 0 14.8 0a7.4 7.4 0 1 0 -14.8 0zM365.3 627.6a7.4 7.4 0 1 0 14.8 0a7.4 7.4 0 1 0 -14.8 0zM366.5 633.9a7.4 7.4 0 1 0 14.8 0a7.4 7.4 0 1 0 -14.8 0zM367.7 643.8a7.4 7.4 0 1 0 14.8 0a7.4 7.4 0 1 0 -14.8 0zM369 656.9a7.4 7.4 0 1 0 14.8 0a7.4 7.4 0 1 0 -14.8 0zM370.2 673a7.4 7.4 0 1 0 14.8 0a7.4 7.4 0 1 0 -14.8 0zM371.5 691.4a7.4 7.4 0 1 0 14.8 0a7.4 7.4 0 1 0 -14.8 0zM372.7 711.6a7.4 7.4 0 1 0 14.8 0a7.4 7.4 0 1 0 -14.8 0zM374 733.1a7.4 7.4 0 1 0 14.8 0a7.4 7.4 0 1 0 -14.8 0zM375.2 755.4a7.4 7.4 0 1 0 14.8 0a7.4 7.4 0 1 0 -14.8 0zM376.5 777.8a7.4 7.4 0 1 0 14.8 0a7.4 7.4 0 1 0 -14.8 0zM377.7 799.9a7.4 7.4 0 1 0 14.8 0a7.4 7.4 0 1 0 -14.8 0zM378.9 821.3a7.4 7.4 0 1 0 14.8 0a7.4 7.4 0 1 0 -14.8 0zM380.2 841.7a7.4 7.4 0 1 0 14.8 0a7.4 7.4 0 1 0 -14.8 0zM381.4 860.7a7.4 7.4 0 1 0 14.8 0a7.4 7.4 0 1 0 -14.8 0zM382.7 878.2a7.4 7.4 0 1 0 14.8 0a7.4 7.4 0 1 0 -14.8 0zM383.9 894.1a7.4 7.4 0 1 0 14.8 0a7.4 7.4 0 1 0 -14.8 0zM385.2 908.3a7.4 7.4 0 1 0 14.8 0a7.4 7.4 0 1 0 -14.8 0zM386.4 920.9a7.4 7.4 0 1 0 14.8 0a7.4 7.4 0 1 0 -14.8 0zM387.7 931.8a7.4 7.4 0 1 0 14.8 0a7.4 7.4 0 1 0 -14.8 0zM388.9 941.3a7.4 7.4 0 1 0 14.8 0a7.4 7.4 0 1 0 -14.8 0zM390.1 949.4a7.4 7.4 0 1 0 14.8 0a7.4 7.4 0 1 0 -14.8 0zM391.4 956.3a7.4 7.4 0 1 0 14.8 0a7.4 7.4 0 1 0 -14.8 0zM392.6 962a7.4 7.4 0 1 0 14.8 0a7.4 7.4 0 1 0 -14.8 0zM393.9 966.8a7.4 7.4 0 1 0 14.8 0a7.4 7.4 0 1 0 -14.8 0zM395.1 970.7a7.4 7.4 0 1 0 14.8 0a7.4 7.4 0 1 0 -14.8 0zM396.4 973.9a7.4 7.4 0 1 0 14.8 0a7.4 7.4 0 1 0 -14.8 0zM397.6 976.5a7.4 7.4 0 1 0 14.8 0a7.4 7.4 0 1 0 -14.8 0zM398.9 978.5a7.4 7.4 0 1 0 14.8 0a7.4 7.4 0 1 0 -14.8 0zM400.1 980a7.4 7.4 0 1 0 14.8 0a7.4 7.4 0 1 0 -14.8 0zM401.3 981.2a7.4 7.4 0 1 0 14.8 0a7.4 7.4 0 1 0 -14.8 0zM402.6 982a7.4 7.4 0 1 0 14.8 0a7.4 7.4 0 1 0 -14.8 0zM403.8 982.5a7.4 7.4 0 1 0 14.8 0a7.4 7.4 0 1 0 -14.8 0zM405.1 982.8a7.4 7.4 0 1 0 14.8 0a7.4 7.4 0 1 0 -14.8 0zM406.3 982.8a7.4 7.4 0 1 0 14.8 0a7.4 7.4 0 1 0 -14.8 0zM407.6 982.7a7.4 7.4 0 1 0 14.8 0a7.4 7.4 0 1 0 -14.8 0zM408.8 982.4a7.4 7.4 0 1 0 14.8 0a7.4 7.4 0 1 0 -14.8 0zM410.1 982a7.4 7.4 0 1 0 14.8 0a7.4 7.4 0 1 0 -14.8 0zM411.3 981.5a7.4 7.4 0 1 0 14.8 0a7.4 7.4 0 1 0 -14.8 0zM412.6 981a7.4 7.4 0 1 0 14.8 0a7.4 7.4 0 1 0 -14.8 0zM413.8 980.4a7.4 7.4 0 1 0 14.8 0a7.4 7.4 0 1 0 -14.8 0zM415 979.9a7.4 7.4 0 1 0 14.8 0a7.4 7.4 0 1 0 -14.8 0zM416.3 979.4a7.4 7.4 0 1 0 14.8 0a7.4 7.4 0 1 0 -14.8 0zM417.5 978.9a7.4 7.4 0 1 0 14.8 0a7.4 7.4 0 1 0 -14.8 0zM418.8 978.5a7.4 7.4 0 1 0 14.8 0a7.4 7.4 0 1 0 -14.8 0zM420 978.2a7.4 7.4 0 1 0 14.8 0a7.4 7.4 0 1 0 -14.8 0zM421.3 978.1a7.4 7.4 0 1 0 14.8 0a7.4 7.4 0 1 0 -14.8 0zM422.5 978a7.4 7.4 0 1 0 14.8 0a7.4 7.4 0 1 0 -14.8 0zM423.8 978a7.4 7.4 0 1 0 14.8 0a7.4 7.4 0 1 0 -14.8 0zM425 978.2a7.4 7.4 0 1 0 14.8 0a7.4 7.4 0 1 0 -14.8 0zM426.2 978.4a7.4 7.4 0 1 0 14.8 0a7.4 7.4 0 1 0 -14.8 0zM427.5 978.8a7.4 7.4 0 1 0 14.8 0a7.4 7.4 0 1 0 -14.8 0zM428.7 979.2a7.4 7.4 0 1 0 14.8 0a7.4 7.4 0 1 0 -14.8 0zM430 979.6a7.4 7.4 0 1 0 14.8 0a7.4 7.4 0 1 0 -14.8 0zM431.2 980.1a7.4 7.4 0 1 0 14.8 0a7.4 7.4 0 1 0 -14.8 0zM432.5 980.5a7.4 7.4 0 1 0 14.8 0a7.4 7.4 0 1 0 -14.8 0zM433.7 981a7.4 7.4 0 1 0 14.8 0a7.4 7.4 0 1 0 -14.8 0zM435 981.4a7.4 7.4 0 1 0 14.8 0a7.4 7.4 0 1 0 -14.8 0zM436.2 981.7a7.4 7.4 0 1 0 14.8 0a7.4 7.4 0 1 0 -14.8 0zM437.4 982.1a7.4 7.4 0 1 0 14.8 0a7.4 7.4 0 1 0 -14.8 0zM438.7 982.3a7.4 7.4 0 1 0 14.8 0a7.4 7.4 0 1 0 -14.8 0zM439.9 982.4a7.4 7.4 0 1 0 14.8 0a7.4 7.4 0 1 0 -14.8 0zM441.2 982.5a7.4 7.4 0 1 0 14.8 0a7.4 7.4 0 1 0 -14.8 0zM442.4 982.5a7.4 7.4 0 1 0 14.8 0a7.4 7.4 0 1 0 -14.8 0zM443.7 982.4a7.4 7.4 0 1 0 14.8 0a7.4 7.4 0 1 0 -14.8 0zM444.9 982.3a7.4 7.4 0 1 0 14.8 0a7.4 7.4 0 1 0 -14.8 0zM446.2 982.1a7.4 7.4 0 1 0 14.8 0a7.4 7.4 0 1 0 -14.8 0zM447.4 981.8a7.4 7.4 0 1 0 14.8 0a7.4 7.4 0 1 0 -14.8 0zM448.6 981.6a7.4 7.4 0 1 0 14.8 0a7.4 7.4 0 1 0 -14.8 0zM449.9 981.3a7.4 7.4 0 1 0 14.8 0a7.4 7.4 0 1 0 -14.8 0zM451.1 981a7.4 7.4 0 1 0 14.8 0a7.4 7.4 0 1 0 -14.8 0zM452.4 980.7a7.4 7.4 0 1 0 14.8 0a7.4 7.4 0 1 0 -14.8 0zM453.6 980.5a7.4 7.4 0 1 0 14.8 0a7.4 7.4 0 1 0 -14.8 0zM454.9 980.3a7.4 7.4 0 1 0 14.8 0a7.4 7.4 0 1 0 -14.8 0zM456.1 980.1a7.4 7.4 0 1 0 14.8 0a7.4 7.4 0 1 0 -14.8 0zM457.4 979.9a7.4 7.4 0 1 0 14.8 0a7.4 7.4 0 1 0 -14.8 0zM458.6 979.8a7.4 7.4 0 1 0 14.8 0a7.4 7.4 0 1 0 -14.8 0zM459.9 979.8a7.4 7.4 0 1 0 14.8 0a7.4 7.4 0 1 0 -14.8 0zM461.1 979.8a7.4 7.4 0 1 0 14.8 0a7.4 7.4 0 1 0 -14.8 0zM462.3 979.8a7.4 7.4 0 1 0 14.8 0a7.4 7.4 0 1 0 -14.8 0zM463.6 979.8a7.4 7.4 0 1 0 14.8 0a7.4 7.4 0 1 0 -14.8 0zM464.8 979.9a7.4 7.4 0 1 0 14.8 0a7.4 7.4 0 1 0 -14.8 0zM466.1 980a7.4 7.4 0 1 0 14.8 0a7.4 7.4 0 1 0 -14.8 0zM467.3 980.1a7.4 7.4 0 1 0 14.8 0a7.4 7.4 0 1 0 -14.8 0zM468.6 980.3a7.4 7.4 0 1 0 14.8 0a7.4 7.4 0 1 0 -14.8 0zM469.8 980.4a7.4 7.4 0 1 0 14.8 0a7.4 7.4 0 1 0 -14.8 0zM471.1 980.6a7.4 7.4 0 1 0 14.8 0a7.4 7.4 0 1 0 -14.8 0zM472.3 980.7a7.4 7.4 0 1 0 14.8 0a7.4 7.4 0 1 0 -14.8 0zM473.5 980.8a7.4 7.4 0 1 0 14.8 0a7.4 7.4 0 1 0 -14.8 0zM474.8 981a7.4 7.4 0 1 0 14.8 0a7.4 7.4 0 1 0 -14.8 0zM476 981.1a7.4 7.4 0 1 0 14.8 0a7.4 7.4 0 1 0 -14.8 0zM477.3 981.2a7.4 7.4 0 1 0 14.8 0a7.4 7.4 0 1 0 -14.8 0zM478.5 981.3a7.4 7.4 0 1 0 14.8 0a7.4 7.4 0 1 0 -14.8 0zM479.8 981.4a7.4 7.4 0 1 0 14.8 0a7.4 7.4 0 1 0 -14.8 0zM481 981.4a7.4 7.4 0 1 0 14.8 0a7.4 7.4 0 1 0 -14.8 0zM482.3 981.5a7.4 7.4 0 1 0 14.8 0a7.4 7.4 0 1 0 -14.8 0zM483.5 981.5a7.4 7.4 0 1 0 14.8 0a7.4 7.4 0 1 0 -14.8 0zM484.7 981.4a7.4 7.4 0 1 0 14.8 0a7.4 7.4 0 1 0 -14.8 0zM486 981.4a7.4 7.4 0 1 0 14.8 0a7.4 7.4 0 1 0 -14.8 0zM487.2 981.3a7.4 7.4 0 1 0 14.8 0a7.4 7.4 0 1 0 -14.8 0zM488.5 981.2a7.4 7.4 0 1 0 14.8 0a7.4 7.4 0 1 0 -14.8 0zM489.7 981a7.4 7.4 0 1 0 14.8 0a7.4 7.4 0 1 0 -14.8 0zM491 980.8a7.4 7.4 0 1 0 14.8 0a7.4 7.4 0 1 0 -14.8 0zM492.2 980.7a7.4 7.4 0 1 0 14.8 0a7.4 7.4 0 1 0 -14.8 0zM493.5 980.4a7.4 7.4 0 1 0 14.8 0a7.4 7.4 0 1 0 -14.8 0zM494.7 980.2a7.4 7.4 0 1 0 14.8 0a7.4 7.4 0 1 0 -14.8 0zM495.9 980a7.4 7.4 0 1 0 14.8 0a7.4 7.4 0 1 0 -14.8 0zM497.2 979.8a7.4 7.4 0 1 0 14.8 0a7.4 7.4 0 1 0 -14.8 0zM498.4 979.6a7.4 7.4 0 1 0 14.8 0a7.4 7.4 0 1 0 -14.8 0zM499.7 979.5a7.4 7.4 0 1 0 14.8 0a7.4 7.4 0 1 0 -14.8 0zM500.9 979.3a7.4 7.4 0 1 0 14.8 0a7.4 7.4 0 1 0 -14.8 0zM502.2 979.3a7.4 7.4 0 1 0 14.8 0a7.4 7.4 0 1 0 -14.8 0zM503.4 979.3a7.4 7.4 0 1 0 14.8 0a7.4 7.4 0 1 0 -14.8 0zM504.7 979.3a7.4 7.4 0 1 0 14.8 0a7.4 7.4 0 1 0 -14.8 0zM505.9 979.4a7.4 7.4 0 1 0 14.8 0a7.4 7.4 0 1 0 -14.8 0zM507.2 979.6a7.4 7.4 0 1 0 14.8 0a7.4 7.4 0 1 0 -14.8 0zM508.4 979.9a7.4 7.4 0 1 0 14.8 0a7.4 7.4 0 1 0 -14.8 0zM509.6 980.2a7.4 7.4 0 1 0 14.8 0a7.4 7.4 0 1 0 -14.8 0zM510.9 980.5a7.4 7.4 0 1 0 14.8 0a7.4 7.4 0 1 0 -14.8 0zM512.1 980.9a7.4 7.4 0 1 0 14.8 0a7.4 7.4 0 1 0 -14.8 0zM513.4 981.3a7.4 7.4 0 1 0 14.8 0a7.4 7.4 0 1 0 -14.8 0zM514.6 981.7a7.4 7.4 0 1 0 14.8 0a7.4 7.4 0 1 0 -14.8 0zM515.9 982a7.4 7.4 0 1 0 14.8 0a7.4 7.4 0 1 0 -14.8 0zM517.1 982.4a7.4 7.4 0 1 0 14.8 0a7.4 7.4 0 1 0 -14.8 0zM518.4 982.7a7.4 7.4 0 1 0 14.8 0a7.4 7.4 0 1 0 -14.8 0zM519.6 982.9a7.4 7.4 0 1 0 14.8 0a7.4 7.4 0 1 0 -14.8 0zM520.8 983.1a7.4 7.4 0 1 0 14.8 0a7.4 7.4 0 1 0 -14.8 0zM522.1 983.1a7.4 7.4 0 1 0 14.8 0a7.4 7.4 0 1 0 -14.8 0zM523.3 983.1a7.4 7.4 0 1 0 14.8 0a7.4 7.4 0 1 0 -14.8 0zM524.6 982.9a7.4 7.4 0 1 0 14.8 0a7.4 7.4 0 1 0 -14.8 0zM525.8 982.7a7.4 7.4 0 1 0 14.8 0a7.4 7.4 0 1 0 -14.8 0zM527.1 982.3a7.4 7.4 0 1 0 14.8 0a7.4 7.4 0 1 0 -14.8 0zM528.3 981.9a7.4 7.4 0 1 0 14.8 0a7.4 7.4 0 1 0 -14.8 0zM529.6 981.4a7.4 7.4 0 1 0 14.8 0a7.4 7.4 0 1 0 -14.8 0zM530.8 980.9a7.4 7.4 0 1 0 14.8 0a7.4 7.4 0 1 0 -14.8 0zM532 980.3a7.4 7.4 0 1 0 14.8 0a7.4 7.4 0 1 0 -14.8 0zM533.3 979.8a7.4 7.4 0 1 0 14.8 0a7.4 7.4 0 1 0 -14.8 0zM534.5 979.3a7.4 7.4 0 1 0 14.8 0a7.4 7.4 0 1 0 -14.8 0zM535.8 978.8a7.4 7.4 0 1 0 14.8 0a7.4 7.4 0 1 0 -14.8 0zM537 978.4a7.4 7.4 0 1 0 14.8 0a7.4 7.4 0 1 0 -14.8 0zM538.3 978a7.4 7.4 0 1 0 14.8 0a7.4 7.4 0 1 0 -14.8 0zM539.5 977.8a7.4 7.4 0 1 0 14.8 0a7.4 7.4 0 1 0 -14.8 0zM540.8 977.7a7.4 7.4 0 1 0 14.8 0a7.4 7.4 0 1 0 -14.8 0zM542 977.7a7.4 7.4 0 1 0 14.8 0a7.4 7.4 0 1 0 -14.8 0zM543.2 977.9a7.4 7.4 0 1 0 14.8 0a7.4 7.4 0 1 0 -14.8 0zM544.5 978.1a7.4 7.4 0 1 0 14.8 0a7.4 7.4 0 1 0 -14.8 0zM545.7 978.5a7.4 7.4 0 1 0 14.8 0a7.4 7.4 0 1 0 -14.8 0zM547 979a7.4 7.4 0 1 0 14.8 0a7.4 7.4 0 1 0 -14.8 0zM548.2 979.5a7.4 7.4 0 1 0 14.8 0a7.4 7.4 0 1 0 -14.8 0zM549.5 980a7.4 7.4 0 1 0 14.8 0a7.4 7.4 0 1 0 -14.8 0zM550.7 980.6a7.4 7.4 0 1 0 14.8 0a7.4 7.4 0 1 0 -14.8 0zM552 981.2a7.4 7.4 0 1 0 14.8 0a7.4 7.4 0 1 0 -14.8 0zM553.2 981.8a7.4 7.4 0 1 0 14.8 0a7.4 7.4 0 1 0 -14.8 0zM554.5 982.3a7.4 7.4 0 1 0 14.8 0a7.4 7.4 0 1 0 -14.8 0zM555.7 982.7a7.4 7.4 0 1 0 14.8 0a7.4 7.4 0 1 0 -14.8 0zM556.9 983a7.4 7.4 0 1 0 14.8 0a7.4 7.4 0 1 0 -14.8 0zM558.2 983.3a7.4 7.4 0 1 0 14.8 0a7.4 7.4 0 1 0 -14.8 0zM559.4 983.4a7.4 7.4 0 1 0 14.8 0a7.4 7.4 0 1 0 -14.8 0zM560.7 983.4a7.4 7.4 0 1 0 14.8 0a7.4 7.4 0 1 0 -14.8 0zM561.9 983.3a7.4 7.4 0 1 0 14.8 0a7.4 7.4 0 1 0 -14.8 0zM563.2 983.2a7.4 7.4 0 1 0 14.8 0a7.4 7.4 0 1 0 -14.8 0zM564.4 982.9a7.4 7.4 0 1 0 14.8 0a7.4 7.4 0 1 0 -14.8 0zM565.7 982.5a7.4 7.4 0 1 0 14.8 0a7.4 7.4 0 1 0 -14.8 0zM566.9 982.1a7.4 7.4 0 1 0 14.8 0a7.4 7.4 0 1 0 -14.8 0zM568.1 981.6a7.4 7.4 0 1 0 14.8 0a7.4 7.4 0 1 0 -14.8 0zM569.4 981.1a7.4 7.4 0 1 0 14.8 0a7.4 7.4 0 1 0 -14.8 0zM570.6 980.7a7.4 7.4 0 1 0 14.8 0a7.4 7.4 0 1 0 -14.8 0zM571.9 980.2a7.4 7.4 0 1 0 14.8 0a7.4 7.4 0 1 0 -14.8 0zM573.1 979.8a7.4 7.4 0 1 0 14.8 0a7.4 7.4 0 1 0 -14.8 0zM574.4 979.5a7.4 7.4 0 1 0 14.8 0a7.4 7.4 0 1 0 -14.8 0zM575.6 979.2a7.4 7.4 0 1 0 14.8 0a7.4 7.4 0 1 0 -14.8 0zM576.9 979a7.4 7.4 0 1 0 14.8 0a7.4 7.4 0 1 0 -14.8 0zM578.1 978.9a7.4 7.4 0 1 0 14.8 0a7.4 7.4 0 1 0 -14.8 0zM579.3 978.8a7.4 7.4 0 1 0 14.8 0a7.4 7.4 0 1 0 -14.8 0zM580.6 978.9a7.4 7.4 0 1 0 14.8 0a7.4 7.4 0 1 0 -14.8 0zM581.8 979a7.4 7.4 0 1 0 14.8 0a7.4 7.4 0 1 0 -14.8 0zM583.1 979.1a7.4 7.4 0 1 0 14.8 0a7.4 7.4 0 1 0 -14.8 0zM584.3 979.4a7.4 7.4 0 1 0 14.8 0a7.4 7.4 0 1 0 -14.8 0zM585.6 979.6a7.4 7.4 0 1 0 14.8 0a7.4 7.4 0 1 0 -14.8 0zM586.8 979.9a7.4 7.4 0 1 0 14.8 0a7.4 7.4 0 1 0 -14.8 0zM588.1 980.2a7.4 7.4 0 1 0 14.8 0a7.4 7.4 0 1 0 -14.8 0zM589.3 980.5a7.4 7.4 0 1 0 14.8 0a7.4 7.4 0 1 0 -14.8 0zM590.5 980.8a7.4 7.4 0 1 0 14.8 0a7.4 7.4 0 1 0 -14.8 0zM591.8 981a7.4 7.4 0 1 0 14.8 0a7.4 7.4 0 1 0 -14.8 0zM593 981.2a7.4 7.4 0 1 0 14.8 0a7.4 7.4 0 1 0 -14.8 0zM594.3 981.4a7.4 7.4 0 1 0 14.8 0a7.4 7.4 0 1 0 -14.8 0zM595.5 981.6a7.4 7.4 0 1 0 14.8 0a7.4 7.4 0 1 0 -14.8 0zM596.8 981.6a7.4 7.4 0 1 0 14.8 0a7.4 7.4 0 1 0 -14.8 0zM598 981.7a7.4 7.4 0 1 0 14.8 0a7.4 7.4 0 1 0 -14.8 0zM599.3 981.7a7.4 7.4 0 1 0 14.8 0a7.4 7.4 0 1 0 -14.8 0zM600.5 981.6a7.4 7.4 0 1 0 14.8 0a7.4 7.4 0 1 0 -14.8 0zM601.8 981.6a7.4 7.4 0 1 0 14.8 0a7.4 7.4 0 1 0 -14.8 0zM603 981.5a7.4 7.4 0 1 0 14.8 0a7.4 7.4 0 1 0 -14.8 0zM604.2 981.4a7.4 7.4 0 1 0 14.8 0a7.4 7.4 0 1 0 -14.8 0zM605.5 981.2a7.4 7.4 0 1 0 14.8 0a7.4 7.4 0 1 0 -14.8 0zM606.7 981.1a7.4 7.4 0 1 0 14.8 0a7.4 7.4 0 1 0 -14.8 0zM608 980.9a7.4 7.4 0 1 0 14.8 0a7.4 7.4 0 1 0 -14.8 0zM609.2 980.8a7.4 7.4 0 1 0 14.8 0a7.4 7.4 0 1 0 -14.8 0zM610.5 980.6a7.4 7.4 0 1 0 14.8 0a7.4 7.4 0 1 0 -14.8 0zM611.7 980.5a7.4 7.4 0 1 0 14.8 0a7.4 7.4 0 1 0 -14.8 0zM613 980.4a7.4 7.4 0 1 0 14.8 0a7.4 7.4 0 1 0 -14.8 0zM614.2 980.2a7.4 7.4 0 1 0 14.8 0a7.4 7.4 0 1 0 -14.8 0zM615.4 980.1a7.4 7.4 0 1 0 14.8 0a7.4 7.4 0 1 0 -14.8 0zM616.7 980.1a7.4 7.4 0 1 0 14.8 0a7.4 7.4 0 1 0 -14.8 0zM617.9 980a7.4 7.4 0 1 0 14.8 0a7.4 7.4 0 1 0 -14.8 0zM619.2 980a7.4 7.4 0 1 0 14.8 0a7.4 7.4 0 1 0 -14.8 0zM620.4 979.9a7.4 7.4 0 1 0 14.8 0a7.4 7.4 0 1 0 -14.8 0zM621.7 980a7.4 7.4 0 1 0 14.8 0a7.4 7.4 0 1 0 -14.8 0zM622.9 980a7.4 7.4 0 1 0 14.8 0a7.4 7.4 0 1 0 -14.8 0zM624.2 980.1a7.4 7.4 0 1 0 14.8 0a7.4 7.4 0 1 0 -14.8 0zM625.4 980.2a7.4 7.4 0 1 0 14.8 0a7.4 7.4 0 1 0 -14.8 0zM626.6 980.3a7.4 7.4 0 1 0 14.8 0a7.4 7.4 0 1 0 -14.8 0zM627.9 980.5a7.4 7.4 0 1 0 14.8 0a7.4 7.4 0 1 0 -14.8 0zM629.1 980.6a7.4 7.4 0 1 0 14.8 0a7.4 7.4 0 1 0 -14.8 0z" fill="#e61900"/>
<path d="M112.5 978L113 977.7L113.5 977.5L114.1 977.3L114.6 977.1L115.1 977L115.6 976.9L116.2 976.8L116.7 976.7L117.2 976.7L117.7 976.7L118.3 976.7L118.8 976.8L119.3 976.9L119.8 977L120.4 977.1L120.9 977.2L121.4 977.3L121.9 977.5L122.5 977.7L123 977.9L123.5 978.1L124 978.3L124.6 978.5L125.1 978.8L125.6 979L126.1 979.3L126.7 979.5L127.2 979.8L127.7 980.1L128.2 980.3L128.7 980.6L129.3 980.9L129.8 981.2L130.3 981.4L130.8 981.7L131.4 982L131.9 982.2L132.4 982.5L132.9 982.8L133.5 983L134 983.2L134.5 983.5L135 983.7L135.6 983.9L136.1 984.1L136.6 984.2L137.1 984.4L137.7 984.6L138.2 984.7L138.7 984.8L139.2 984.9L139.8 984.9L140.3 985L140.8 985L141.3 985L141.8 985L142.4 984.9L142.9 984.8L143.4 984.7L143.9 984.6L144.5 984.5L145 984.3L145.5 984.2L146 984L146.6 983.8L147.1 983.6L147.6 983.3L148.1 983.1L148.7 982.9L149.2 982.6L149.7 982.3L150.2 982.1L150.8 981.8L151.3 981.5L151.8 981.3L152.3 981L152.9 980.7L153.4 980.4L153.9 980.2L154.4 979.9L155 979.7L155.5 979.4L156 979.2L156.5 978.9L157 978.7L157.6 978.5L158.1 978.3L158.6 978.1L159.1 978L159.7 977.8L160.2 977.7L160.7 977.5L161.2 977.4L161.8 977.3L162.3 977.2L162.8 977.1L163.3 977.1L163.9 977L164.4 977L164.9 977L165.4 976.9L166 976.9L166.5 977L167 977L167.5 977L168.1 977.1L168.6 977.1L169.1 977.2L169.6 977.3L170.2 977.4L170.7 977.5L171.2 977.6L171.7 977.7L172.2 977.9L172.8 978L173.3 978.2L173.8 978.4L174.3 978.6L174.9 978.8L175.4 979L175.9 979.2L176.4 979.5L177 979.7L177.5 980L178 980.2L178.5 980.5L179.1 980.7L179.6 981L180.1 981.3L180.6 981.5L181.2 981.8L181.7 982L182.2 982.3L182.7 982.5L183.3 982.8L183.8 983L184.3 983.2L184.8 983.4L185.3 983.5L185.9 983.7L186.4 983.8L186.9 984L187.4 984.1L188 984.1L188.5 984.2L189 984.2L189.5 984.2L190.1 984.2L190.6 984.1L191.1 984L191.6 983.9L192.2 983.7L192.7 983.5L193.2 983.3L193.7 983.1L194.3 982.8L194.8 982.5L195.3 982.2L195.8 981.9L196.4 981.6L196.9 981.3L197.4 981L197.9 980.7L198.5 980.4L199 980.1L199.5 979.8L200 979.5L200.5 979.2L201.1 979L201.6 978.7L202.1 978.5L202.6 978.4L203.2 978.2L203.7 978.1L204.2 978L204.7 978L205.3 977.9L205.8 978L206.3 978L206.8 978.1L207.4 978.2L207.9 978.3L208.4 978.5L208.9 978.6L209.5 978.8L210 979L210.5 979.2L211 979.4L211.6 979.6L212.1 979.9L212.6 980.1L213.1 980.3L213.7 980.5L214.2 980.7L214.7 980.9L215.2 981.1L215.7 981.3L216.3 981.5L216.8 981.6L217.3 981.8L217.8 981.9L218.4 981.9L218.9 982L219.4 982L219.9 982L220.5 982L221 981.9L221.5 981.8L222 981.6L222.6 981.5L223.1 981.3L223.6 981.1L224.1 980.9L224.7 980.7L225.2 980.4L225.7 980.2L226.2 980L226.8 979.7L227.3 979.5L227.8 979.3L228.3 979.1L228.9 978.9L229.4 978.7L229.9 978.5L230.4 978.3L230.9 978.2L231.5 978.1L232 978L232.5 978L233 978L233.6 978L234.1 978.1L234.6 978.2L235.1 978.4L235.7 978.5L236.2 978.7L236.7 978.9L237.2 979.2L237.8 979.5L238.3 979.7L238.8 980L239.3 980.3L239.9 980.7L240.4 981L240.9 981.3L241.4 981.7L242 982L242.5 982.4L243 982.7L243.5 983.1L244 983.4L244.6 983.7L245.1 984L245.6 984.3L246.1 984.6L246.7 984.9L247.2 985.1L247.7 985.3L248.2 985.5L248.8 985.7L249.3 985.8L249.8 985.9L250.3 986L250.9 986L251.4 986L251.9 986L252.4 985.9L253 985.7L253.5 985.6L254 985.4L254.5 985.2L255.1 984.9L255.6 984.7L256.1 984.4L256.6 984.1L257.2 983.7L257.7 983.4L258.2 983L258.7 982.7L259.2 982.3L259.8 982L260.3 981.6L260.8 981.2L261.3 980.9L261.9 980.5L262.4 980.2L262.9 979.9L263.4 979.6L264 979.3L264.5 979L265 978.7L265.5 978.5L266.1 978.3L266.6 978.1L267.1 977.9L267.6 977.8L268.2 977.6L268.7 977.5L269.2 977.4L269.7 977.2L270.3 977.1L270.8 977L271.3 976.9L271.8 976.8L272.4 976.7L272.9 976.5L273.4 976.4L273.9 976.3L274.4 976.2L275 976L275.5 975.8L276 975.7L276.5 975.5L277.1 975.3L277.6 975L278.1 974.8L278.6 974.5L279.2 974.2L279.7 973.9L280.2 973.6L280.7 973.2L281.3 972.8L281.8 972.4L282.3 971.9L282.8 971.4L283.4 970.9L283.9 970.3L284.4 969.7L284.9 969.1L285.5 968.4L286 967.7L286.5 966.9L287 966.1L287.5 965.3L288.1 964.4L288.6 963.5L289.1 962.6L289.6 961.6L290.2 960.7L290.7 959.6L291.2 958.6L291.7 957.5L292.3 956.4L292.8 955.2L293.3 954.1L293.8 952.9L294.4 951.6L294.9 950.4L295.4 949.1L295.9 947.8L296.5 946.4L297 945.1L297.5 943.7L298 942.3L298.6 940.9L299.1 939.5L299.6 938L300.1 936.6L300.7 935.1L301.2 933.6L301.7 932.1L302.2 930.6L302.7 929.1L303.3 927.5L303.8 926L304.3 924.5L304.8 922.9L305.4 921.4L305.9 919.8L306.4 918.3L306.9 916.7L307.5 915.2L308 913.6L308.5 912.1L309 910.5L309.6 909L310.1 907.5L310.6 906L311.1 904.5L311.7 903L312.2 901.5L312.7 900L313.2 898.6L313.8 897.1L314.3 895.7L314.8 894.3L315.3 892.9L315.9 891.5L316.4 890.2L316.9 888.8L317.4 887.5L317.9 886.3L318.5 885L319 883.8L319.5 882.6L320 881.4L320.6 880.2L321.1 879.1L321.6 878L322.1 876.9L322.7 875.8L323.2 874.8L323.7 873.7L324.2 872.7L324.8 871.7L325.3 870.8L325.8 869.8L326.3 868.9L326.9 867.9L327.4 867L327.9 866.1L328.4 865.2L329 864.3L329.5 863.5L330 862.7L330.5 862L331 861.2L331.6 860.6L332.1 860L332.6 859.5L333.1 859L333.7 858.6L334.2 858.3L334.7 858.1L335.2 858L335.8 858L336.3 858.1L336.8 858.3L337.3 858.6L337.9 859L338.4 859.4L338.9 860L339.4 860.6L340 861.3L340.5 862.1L341 862.9L341.5 863.8L342.1 864.7L342.6 865.7L343.1 866.7L343.6 867.8L344.2 868.9L344.7 870L345.2 871.1L345.7 872.2L346.2 873.4L346.8 874.6L347.3 875.7L347.8 876.9L348.3 878L348.9 879.1L349.4 880.2L349.9 881.3L350.4 882.3L351 883.4L351.5 884.3L352 885.3L352.5 886.1L353.1 886.9L353.6 887.7L354.1 888.4L354.6 889L355.2 889.6L355.7 890L356.2 890.4L356.7 890.7L357.3 890.9L357.8 891L358.3 891L358.8 890.9L359.4 890.7L359.9 890.4L360.4 890.1L360.9 889.7L361.4 889.3L362 888.8L362.5 888.3L363 887.7L363.5 887.2L364.1 886.6L364.6 886L365.1 885.5L365.6 884.9L366.2 884.4L366.7 884L367.2 883.6L367.7 883.2L368.3 882.9L368.8 882.7L369.3 882.5L369.8 882.5L370.4 882.6L370.9 882.7L371.4 883L371.9 883.4L372.5 883.9L373 884.6L373.5 885.3L374 886.2L374.5 887.1L375.1 888.2L375.6 889.3L376.1 890.5L376.6 891.8L377.2 893.1L377.7 894.5L378.2 896L378.7 897.4L379.3 899L379.8 900.5L380.3 902.1L380.8 903.7L381.4 905.4L381.9 907L382.4 908.6L382.9 910.3L383.5 911.9L384 913.5L384.5 915.1L385 916.7L385.6 918.3L386.1 919.9L386.6 921.4L387.1 922.9L387.7 924.4L388.2 925.8L388.7 927.2L389.2 928.6L389.7 929.9L390.3 931.2L390.8 932.4L391.3 933.6L391.8 934.7L392.4 935.8L392.9 936.8L393.4 937.8L393.9 938.7L394.5 939.6L395 940.4L395.5 941.2L396 942L396.6 942.8L397.1 943.5L397.6 944.1L398.1 944.8L398.7 945.4L399.2 945.9L399.7 946.5L400.2 947L400.8 947.6L401.3 948.1L401.8 948.5L402.3 949L402.9 949.5L403.4 949.9L403.9 950.3L404.4 950.8L404.9 951.2L405.5 951.6L406 952L406.5 952.4L407 952.8L407.6 953.2L408.1 953.7L408.6 954.1L409.1 954.5L409.7 954.9L410.2 955.3L410.7 955.7L411.2 956.1L411.8 956.5L412.3 956.9L412.8 957.3L413.3 957.7L413.9 958.1L414.4 958.5L414.9 958.9L415.4 959.3L416 959.7L416.5 960L417 960.4L417.5 960.8L418.1 961.1L418.6 961.5L419.1 961.8L419.6 962.2L420.1 962.5L420.7 962.9L421.2 963.2L421.7 963.5L422.2 963.8L422.8 964.1L423.3 964.4L423.8 964.7L424.3 965L424.9 965.3L425.4 965.5L425.9 965.8L426.4 966.1L427 966.3L427.5 966.5L428 966.7L428.5 966.9L429.1 967.1L429.6 967.3L430.1 967.4L430.6 967.6L431.2 967.7L431.7 967.8L432.2 967.9L432.7 968L433.2 968L433.8 968L434.3 968L434.8 968L435.3 968L435.9 967.9L436.4 967.8L436.9 967.7L437.4 967.6L438 967.4L438.5 967.3L439 967.1L439.5 967L440.1 966.8L440.6 966.6L441.1 966.4L441.6 966.2L442.2 966L442.7 965.8L443.2 965.6L443.7 965.5L444.3 965.3L444.8 965.1L445.3 965L445.8 964.8L446.4 964.7L446.9 964.6L447.4 964.5L447.9 964.4L448.4 964.3L449 964.3L449.5 964.3L450 964.3L450.5 964.3L451.1 964.4L451.6 964.5L452.1 964.6L452.6 964.8L453.2 965L453.7 965.2L454.2 965.5L454.7 965.8L455.3 966.2L455.8 966.5L456.3 966.9L456.8 967.4L457.4 967.8L457.9 968.2L458.4 968.7L458.9 969.2L459.5 969.7L460 970.2L460.5 970.6L461 971.1L461.6 971.6L462.1 972.1L462.6 972.6L463.1 973L463.6 973.5L464.2 973.9L464.7 974.3L465.2 974.7L465.7 975L466.3 975.4L466.8 975.7L467.3 975.9L467.8 976.2L468.4 976.4L468.9 976.5L469.4 976.6L469.9 976.7L470.5 976.7L471 976.7L471.5 976.6L472 976.5L472.6 976.4L473.1 976.3L473.6 976.1L474.1 975.9L474.7 975.7L475.2 975.5L475.7 975.3L476.2 975L476.7 974.8L477.3 974.5L477.8 974.3L478.3 974L478.8 973.8L479.4 973.5L479.9 973.3L480.4 973L480.9 972.8L481.5 972.6L482 972.5L482.5 972.3L483 972.2L483.6 972.1L484.1 972L484.6 972L485.1 972L485.7 972L486.2 972.1L486.7 972.2L487.2 972.3L487.8 972.5L488.3 972.7L488.8 972.9L489.3 973.1L489.9 973.3L490.4 973.6L490.9 973.9L491.4 974.1L491.9 974.4L492.5 974.8L493 975.1L493.5 975.4L494 975.7L494.6 976L495.1 976.4L495.6 976.7L496.1 977L496.7 977.3L497.2 977.6L497.7 977.9L498.2 978.2L498.8 978.5L499.3 978.8L499.8 979L500.3 979.2L500.9 979.4L501.4 979.6L501.9 979.8L502.4 979.9L503 980L503.5 980.1L504 980.1L504.5 980.1L505.1 980.1L505.6 980.1L506.1 980L506.6 980L507.1 979.9L507.7 979.8L508.2 979.6L508.7 979.5L509.2 979.3L509.8 979.2L510.3 979L510.8 978.8L511.3 978.6L511.9 978.4L512.4 978.2L512.9 978L513.4 977.8L514 977.6L514.5 977.4L515 977.3L515.5 977.1L516.1 976.9L516.6 976.7L517.1 976.6L517.6 976.5L518.2 976.3L518.7 976.2L519.2 976.1L519.7 976.1L520.2 976L520.8 976L521.3 976L521.8 976L522.3 976.1L522.9 976.1L523.4 976.2L523.9 976.3L524.4 976.5L525 976.6L525.5 976.7L526 976.9L526.5 977L527.1 977.2L527.6 977.3L528.1 977.4L528.6 977.6L529.2 977.7L529.7 977.8L530.2 977.9L530.7 978L531.3 978.1L531.8 978.1L532.3 978.2L532.8 978.2L533.4 978.1L533.9 978.1L534.4 978L534.9 977.9L535.4 977.7L536 977.5L536.5 977.3L537 977.1L537.5 976.8L538.1 976.6L538.6 976.3L539.1 976L539.6 975.7L540.2 975.4L540.7 975.1L541.2 974.8L541.7 974.6L542.3 974.3L542.8 974L543.3 973.8L543.8 973.6L544.4 973.4L544.9 973.2L545.4 973.1L545.9 973L546.5 973L547 973L547.5 973L548 973.1L548.6 973.2L549.1 973.4L549.6 973.6L550.1 973.9L550.6 974.1L551.2 974.5L551.7 974.8L552.2 975.2L552.7 975.6L553.3 976L553.8 976.4L554.3 976.9L554.8 977.4L555.4 977.8L555.9 978.3L556.4 978.8L556.9 979.3L557.5 979.8L558 980.2L558.5 980.7L559 981.2L559.6 981.6L560.1 982.1L560.6 982.5L561.1 982.9L561.7 983.2L562.2 983.6L562.7 983.9L563.2 984.2L563.8 984.4L564.3 984.6L564.8 984.8L565.3 984.9L565.8 985L566.4 985L566.9 985L567.4 984.9L567.9 984.8L568.5 984.7L569 984.5L569.5 984.3L570 984.1L570.6 983.8L571.1 983.6L571.6 983.3L572.1 983L572.7 982.6L573.2 982.3L573.7 982L574.2 981.6L574.8 981.3L575.3 981L575.8 980.6L576.3 980.3L576.9 980L577.4 979.7L577.9 979.5L578.4 979.2L578.9 979L579.5 978.8L580 978.6L580.5 978.5L581 978.4L581.6 978.3L582.1 978.3L582.6 978.2L583.1 978.2L583.7 978.2L584.2 978.2L584.7 978.3L585.2 978.3L585.8 978.4L586.3 978.5L586.8 978.6L587.3 978.7L587.9 978.9L588.4 979L588.9 979.2L589.4 979.3L590 979.5L590.5 979.7L591 979.8L591.5 980L592.1 980.2L592.6 980.4L593.1 980.6L593.6 980.8L594.1 981L594.7 981.1L595.2 981.3L595.7 981.5L596.2 981.7L596.8 981.8L597.3 982L597.8 982.2L598.3 982.3L598.9 982.4L599.4 982.6L599.9 982.7L600.4 982.8L601 982.9L601.5 983L602 983.1L602.5 983.1L603.1 983.2L603.6 983.3L604.1 983.3L604.6 983.4L605.2 983.4L605.7 983.5L606.2 983.5L606.7 983.5L607.3 983.5L607.8 983.5L608.3 983.5L608.8 983.5L609.3 983.5L609.9 983.5L610.4 983.5L610.9 983.5L611.4 983.4L612 983.4L612.5 983.4L613 983.3L613.5 983.3L614.1 983.2L614.6 983.1L615.1 983.1L615.6 983L616.2 982.9L616.7 982.8L617.2 982.8L617.7 982.7L618.3 982.6L618.8 982.5L619.3 982.4L619.8 982.3L620.4 982.2L620.9 982.1L621.4 982L621.9 981.9L622.4 981.7L623 981.6L623.5 981.5L624 981.4L624.5 981.3L625.1 981.1L625.6 981L626.1 980.9L626.6 980.7L627.2 980.6L627.7 980.5L628.2 980.3L628.7 980.2L629.3 980L629.8 979.9L630.3 979.7L630.8 979.6L631.4 979.5L631.9 979.3L632.4 979.2L632.9 979L633.5 978.9L634 978.7L634.5 978.6L635 978.4L635.6 978.3L636.1 978.1L636.6 978L636.6 982L112.5 982z" fill="#ecaeff" fill-opacity="0.8"/>
<path d="M112.5 978L114.1 977.3L115.6 976.9L117.2 976.7L118.8 976.8L120.4 977.1L121.9 977.5L123.5 978.1L125.1 978.8L126.7 979.5L128.2 980.3L129.8 981.2L131.4 982L132.9 982.8L134.5 983.5L136.1 984.1L137.7 984.6L139.2 984.9L140.8 985L142.4 984.9L143.9 984.6L145.5 984.2L147.1 983.6L148.7 982.9L150.2 982.1L151.8 981.3L153.4 980.4L155 979.7L156.5 978.9L158.1 978.3L159.7 977.8L161.2 977.4L162.8 977.1L164.4 977L166 976.9L167.5 977L169.1 977.2L170.7 977.5L172.2 977.9L173.8 978.4L175.4 979L177 979.7L178.5 980.5L180.1 981.3L181.7 982L183.3 982.8L184.8 983.4L186.4 983.8L188 984.1L189.5 984.2L191.1 984L192.7 983.5L194.3 982.8L195.8 981.9L197.4 981L199 980.1L200.5 979.2L202.1 978.5L203.7 978.1L205.3 977.9L206.8 978.1L208.4 978.5L210 979L211.6 979.6L213.1 980.3L214.7 980.9L216.3 981.5L217.8 981.9L219.4 982L221 981.9L222.6 981.5L224.1 980.9L225.7 980.2L227.3 979.5L228.9 978.9L230.4 978.3L232 978L233.6 978L235.1 978.4L236.7 978.9L238.3 979.7L239.9 980.7L241.4 981.7L243 982.7L244.6 983.7L246.1 984.6L247.7 985.3L249.3 985.8L250.9 986L252.4 985.9L254 985.4L255.6 984.7L257.2 983.7L258.7 982.7L260.3 981.6L261.9 980.5L263.4 979.6L265 978.7L266.6 978.1L268.2 977.6L269.7 977.2L271.3 976.9L272.9 976.5L274.4 976.2L276 975.7L277.6 975L279.2 974.2L280.7 973.2L282.3 971.9L283.9 970.3L285.5 968.4L287 966.1L288.6 963.5L290.2 960.7L291.7 957.5L293.3 954.1L294.9 950.4L296.5 946.4L298 942.3L299.6 938L301.2 933.6L302.7 929.1L304.3 924.5L305.9 919.8L307.5 915.2L309 910.5L310.6 906L312.2 901.5L313.8 897.1L315.3 892.9L316.9 888.8L318.5 885L320 881.4L321.6 878L323.2 874.8L324.8 871.7L326.3 868.9L327.9 866.1L329.5 863.5L331 861.2L332.6 859.5L334.2 858.3L335.8 858L337.3 858.6L338.9 860L340.5 862.1L342.1 864.7L343.6 867.8L345.2 871.1L346.8 874.6L348.3 878L349.9 881.3L351.5 884.3L353.1 886.9L354.6 889L356.2 890.4L357.8 891L359.4 890.7L360.9 889.7L362.5 888.3L364.1 886.6L365.6 884.9L367.2 883.6L368.8 882.7L370.4 882.6L371.9 883.4L373.5 885.3L375.1 888.2L376.6 891.8L378.2 896L379.8 900.5L381.4 905.4L382.9 910.3L384.5 915.1L386.1 919.9L387.7 924.4L389.2 928.6L390.8 932.4L392.4 935.8L393.9 938.7L395.5 941.2L397.1 943.5L398.7 945.4L400.2 947L401.8 948.5L403.4 949.9L404.9 951.2L406.5 952.4L408.1 953.7L409.7 954.9L411.2 956.1L412.8 957.3L414.4 958.5L416 959.7L417.5 960.8L419.1 961.8L420.7 962.9L422.2 963.8L423.8 964.7L425.4 965.5L427 966.3L428.5 966.9L430.1 967.4L431.7 967.8L433.2 968L434.8 968L436.4 967.8L438 967.4L439.5 967L441.1 966.4L442.7 965.8L444.3 965.3L445.8 964.8L447.4 964.5L449 964.3L450.5 964.3L452.1 964.6L453.7 965.2L455.3 966.2L456.8 967.4L458.4 968.7L460 970.2L461.6 971.6L463.1 973L464.7 974.3L466.3 975.4L467.8 976.2L469.4 976.6L471 976.7L472.6 976.4L474.1 975.9L475.7 975.3L477.3 974.5L478.8 973.8L480.4 973L482 972.5L483.6 972.1L485.1 972L486.7 972.2L488.3 972.7L489.9 973.3L491.4 974.1L493 975.1L494.6 976L496.1 977L497.7 977.9L499.3 978.8L500.9 979.4L502.4 979.9L504 980.1L505.6 980.1L507.1 979.9L508.7 979.5L510.3 979L511.9 978.4L513.4 977.8L515 977.3L516.6 976.7L518.2 976.3L519.7 976.1L521.3 976L522.9 976.1L524.4 976.5L526 976.9L527.6 977.3L529.2 977.7L530.7 978L532.3 978.2L533.9 978.1L535.4 977.7L537 977.1L538.6 976.3L540.2 975.4L541.7 974.6L543.3 973.8L544.9 973.2L546.5 973L548 973.1L549.6 973.6L551.2 974.5L552.7 975.6L554.3 976.9L555.9 978.3L557.5 979.8L559 981.2L560.6 982.5L562.2 983.6L563.8 984.4L565.3 984.9L566.9 985L568.5 984.7L570 984.1L571.6 983.3L573.2 982.3L574.8 981.3L576.3 980.3L577.9 979.5L579.5 978.8L581 978.4L582.6 978.2L584.2 978.2L585.8 978.4L587.3 978.7L588.9 979.2L590.5 979.7L592.1 980.2L593.6 980.8L595.2 981.3L596.8 981.8L598.3 982.3L599.9 982.7L601.5 983L603.1 983.2L604.6 983.4L606.2 983.5L607.8 983.5L609.3 983.5L610.9 983.5L612.5 983.4L614.1 983.2L615.6 983L617.2 982.8L618.8 982.5L620.4 982.2L621.9 981.9L623.5 981.5L625.1 981.1L626.6 980.7L628.2 980.3L629.8 979.9L631.4 979.5L632.9 979L634.5 978.6L636.1 978.1" stroke="#9d3bff" stroke-width="12.4" fill="none" stroke-linejoin="round" stroke-linecap="round"/>
</g>
<rect x="469.6" y="637.4" width="56.6" height="25" fill="#ffc8c8" stroke="#c9a5a5" stroke-width="0.9"/>
<rect x="469.6" y="671.3" width="56.6" height="25.2" fill="#f0beff" stroke="#6b5674" stroke-width="0.9"/>
<text transform="translate(536 659.6) scale(0.978 1.05)" font-size="27.5" text-anchor="start">5 K</text>
<text transform="translate(536 693.2) scale(0.978 1.05)" font-size="27" text-anchor="start">0.27 K</text>
<text transform="translate(318.8 1078.7) scale(1.042 1.05)" font-size="35"><tspan font-style="italic">B</tspan> (mT)</text>
<text transform="translate(63.6 906.3) rotate(-90)" font-size="36.4"><tspan font-style="italic">P(B)</tspan> (arb. units)</text>
<text x="22.8" y="578.4" font-size="42" text-anchor="start">b</text>
<clipPath id="clipd"><rect x="793" y="577.5" width="527.3" height="405.9"/></clipPath>
<rect x="794.6" y="579.1" width="524.1" height="402.9" fill="none" stroke="#000" stroke-width="3.2"/>
<path d="M925.6 982v-13.2M925.6 579.1v13.2M1056.7 982v-13.2M1056.7 579.1v13.2M1187.7 982v-13.2M1187.7 579.1v13.2M860.1 982v-6.4M860.1 579.1v6.4M991.1 982v-6.4M991.1 579.1v6.4M1122.2 982v-6.4M1122.2 579.1v6.4M1253.2 982v-6.4M1253.2 579.1v6.4M794.6 917.1h13.2M1318.7 917.1h-13.2M794.6 852.7h13.2M1318.7 852.7h-13.2M794.6 788.3h13.2M1318.7 788.3h-13.2M794.6 723.9h13.2M1318.7 723.9h-13.2M794.6 659.5h13.2M1318.7 659.5h-13.2M794.6 595.1h13.2M1318.7 595.1h-13.2M794.6 949.3h6.4M1318.7 949.3h-6.4M794.6 884.9h6.4M1318.7 884.9h-6.4M794.6 820.5h6.4M1318.7 820.5h-6.4M794.6 756.1h6.4M1318.7 756.1h-6.4M794.6 691.7h6.4M1318.7 691.7h-6.4M794.6 627.3h6.4M1318.7 627.3h-6.4" stroke="#000" stroke-width="3.2" fill="none"/>
<text transform="translate(794.6 1021.9) scale(0.978 1.05)" font-size="32" text-anchor="middle">0</text>
<text transform="translate(925.6 1021.9) scale(0.978 1.05)" font-size="32" text-anchor="middle">5</text>
<text transform="translate(1056.7 1021.9) scale(0.978 1.05)" font-size="32" text-anchor="middle">10</text>
<text transform="translate(1187.7 1021.9) scale(0.978 1.05)" font-size="32" text-anchor="middle">15</text>
<text transform="translate(1318.7 1021.9) scale(0.978 1.05)" font-size="32" text-anchor="middle">20</text>
<g clip-path="url(#clipd)">
<path d="M794.6 979.1L795.8 979.5L797.1 980.1L798.3 980.7L799.6 981.4L800.8 982.1L802.1 982.8L803.3 983.4L804.6 984L805.8 984.4L807 984.8L808.3 985L809.5 985L810.8 985L812 984.8L813.3 984.4L814.5 984L815.8 983.5L817 982.9L818.3 982.3L819.5 981.7L820.7 981.1L822 980.6L823.2 980.1L824.5 979.8L825.7 979.5L827 979.3L828.2 979.3L829.5 979.4L830.7 979.5L831.9 979.8L833.2 980.1L834.4 980.5L835.7 980.9L836.9 981.3L838.2 981.8L839.4 982.2L840.7 982.5L841.9 982.8L843.1 983.1L844.4 983.2L845.6 983.3L846.9 983.4L848.1 983.3L849.4 983.2L850.6 983.1L851.9 982.9L853.1 982.6L854.3 982.4L855.6 982.1L856.8 981.9L858.1 981.7L859.3 981.4L860.6 981.3L861.8 981.1L863.1 981L864.3 980.9L865.6 980.9L866.8 980.9L868 980.9L869.3 981L870.5 981.1L871.8 981.2L873 981.4L874.3 981.5L875.5 981.7L876.8 981.9L878 982L879.2 982.2L880.5 982.3L881.7 982.5L883 982.6L884.2 982.6L885.5 982.7L886.7 982.7L888 982.7L889.2 982.6L890.4 982.5L891.7 982.4L892.9 982.2L894.2 982L895.4 981.8L896.7 981.5L897.9 981.3L899.2 981L900.4 980.8L901.6 980.6L902.9 980.4L904.1 980.3L905.4 980.2L906.6 980.2L907.9 980.3L909.1 980.5L910.4 980.7L911.6 981L912.9 981.3L914.1 981.7L915.3 982.2L916.6 982.6L917.8 983L919.1 983.4L920.3 983.7L921.6 984L922.8 984.2L924.1 984.3L925.3 984.3L926.5 984.1L927.8 983.9L929 983.6L930.3 983.1L931.5 982.6L932.8 982L934 981.4L935.3 980.8L936.5 980.3L937.7 979.7L939 979.3L940.2 978.9L941.5 978.7L942.7 978.6L944 978.6L945.2 978.8L946.5 979.1L947.7 979.5L948.9 980L950.2 980.7L951.4 981.3L952.7 982L953.9 982.7L955.2 983.4L956.4 983.9L957.7 984.4L958.9 984.8L960.2 985.1L961.4 985.2L962.6 985.1L963.9 984.9L965.1 984.6L966.4 984.2L967.6 983.7L968.9 983.1L970.1 982.4L971.4 981.8L972.6 981.1L973.8 980.5L975.1 980L976.3 979.6L977.6 979.2L978.8 979L980.1 978.9L981.3 979L982.6 979.1L983.8 979.4L985 979.8L986.3 980.2L987.5 980.7L988.8 981.2L990 981.7L991.3 982.2L992.5 982.6L993.8 983L995 983.3L996.2 983.6L997.5 983.7L998.7 983.7L1000 983.7L1001.2 983.6L1002.5 983.4L1003.7 983.2L1005 982.9L1006.2 982.6L1007.5 982.2L1008.7 981.9L1009.9 981.5L1011.2 981.2L1012.4 980.9L1013.7 980.5L1014.9 980.2L1016.2 979.8L1017.4 979.3L1018.7 978.6L1019.9 977.8L1021.1 976.6L1022.4 974.9L1023.6 972.7L1024.9 969.7L1026.1 965.7L1027.4 960.6L1028.6 954L1029.9 945.8L1031.1 935.8L1032.3 923.6L1033.6 909.2L1034.8 892.5L1036.1 873.4L1037.3 852.1L1038.6 828.8L1039.8 803.8L1041.1 777.7L1042.3 751L1043.5 724.5L1044.8 699L1046 675.3L1047.3 654.3L1048.5 636.7L1049.8 623.4L1051 614.7L1052.3 611.1L1053.5 612.7L1054.8 619.5L1056 631.1L1057.2 647.1L1058.5 666.9L1059.7 689.8L1061 714.8L1062.2 741.1L1063.5 767.9L1064.7 794.5L1066 820.2L1067.2 844.4L1068.4 866.7L1069.7 886.9L1070.9 904.8L1072.2 920.3L1073.4 933.5L1074.7 944.6L1075.9 953.6L1077.2 960.9L1078.4 966.5L1079.6 970.8L1080.9 974L1082.1 976.3L1083.4 977.8L1084.6 978.7L1085.9 979.2L1087.1 979.4L1088.4 979.4L1089.6 979.3L1090.8 979.1L1092.1 978.9L1093.3 978.8L1094.6 978.7L1095.8 978.8L1097.1 978.9L1098.3 979.2L1099.6 979.6L1100.8 980.1L1102.1 980.6L1103.3 981.3L1104.5 981.9L1105.8 982.6L1107 983.3L1108.3 983.9L1109.5 984.4L1110.8 984.8L1112 985L1113.3 985.2L1114.5 985.2L1115.7 985L1117 984.7L1118.2 984.3L1119.5 983.8L1120.7 983.2L1122 982.5L1123.2 981.8L1124.5 981.2L1125.7 980.5L1126.9 979.9L1128.2 979.4L1129.4 979.1L1130.7 978.8L1131.9 978.7L1133.2 978.7L1134.4 978.8L1135.7 979.1L1136.9 979.5L1138.1 979.9L1139.4 980.5L1140.6 981L1141.9 981.6L1143.1 982.2L1144.4 982.7L1145.6 983.2L1146.9 983.6L1148.1 983.9L1149.4 984.1L1150.6 984.1L1151.8 984.1L1153.1 984L1154.3 983.8L1155.6 983.5L1156.8 983.2L1158.1 982.8L1159.3 982.4L1160.6 982L1161.8 981.6L1163 981.3L1164.3 981L1165.5 980.7L1166.8 980.6L1168 980.4L1169.3 980.4L1170.5 980.4L1171.8 980.5L1173 980.6L1174.2 980.7L1175.5 980.9L1176.7 981.2L1178 981.4L1179.2 981.6L1180.5 981.8L1181.7 982L1183 982.2L1184.2 982.4L1185.4 982.5L1186.7 982.6L1187.9 982.6L1189.2 982.7L1190.4 982.6L1191.7 982.6L1192.9 982.5L1194.2 982.4L1195.4 982.3L1196.7 982.1L1197.9 982L1199.1 981.8L1200.4 981.6L1201.6 981.5L1202.9 981.3L1204.1 981.2L1205.4 981L1206.6 980.9L1207.9 980.9L1209.1 980.8L1210.3 980.8L1211.6 980.9L1212.8 980.9L1214.1 981.1L1215.3 981.3L1216.6 981.5L1217.8 981.7L1219.1 982L1220.3 982.2L1221.5 982.5L1222.8 982.8L1224 983L1225.3 983.2L1226.5 983.4L1227.8 983.5L1229 983.5L1230.3 983.5L1231.5 983.3L1232.7 983.1L1234 982.8L1235.2 982.5L1236.5 982.1L1237.7 981.6L1239 981.2L1240.2 980.7L1241.5 980.3L1242.7 979.9L1244 979.6L1245.2 979.3L1246.4 979.2L1247.7 979.1L1248.9 979.2L1250.2 979.4L1251.4 979.8L1252.7 980.2L1253.9 980.7L1255.2 981.3L1256.4 981.9L1257.6 982.5L1258.9 983.1L1260.1 983.7L1261.4 984.2L1262.6 984.6L1263.9 984.9L1265.1 985.1L1266.4 985.1L1267.6 985L1268.8 984.7L1270.1 984.3L1271.3 983.8L1272.6 983.3L1273.8 982.6L1275.1 981.9L1276.3 981.2L1277.6 980.5L1278.8 979.9L1280 979.4L1281.3 979L1282.5 978.7L1283.8 978.5L1285 978.5L1286.3 978.6L1287.5 978.9L1288.8 979.2L1290 979.7L1291.3 980.3L1292.5 980.9L1293.7 981.5L1295 982.2L1296.2 982.8L1297.5 983.3L1298.7 983.8L1300 984.1L1301.2 984.4L1302.5 984.5L1303.7 984.5L1304.9 984.4L1306.2 984.2L1307.4 983.9L1308.7 983.5L1309.9 983.1L1311.2 982.6L1312.4 982.1L1313.7 981.7L1314.9 981.2L1316.1 980.8L1317.4 980.5L1318.6 980.3L1318.6 982L794.6 982z" fill="#ffbaba" fill-opacity="0.8"/>
<path d="M794.6 979.1L795.8 979.5L797.1 980.1L798.3 980.7L799.6 981.4L800.8 982.1L802.1 982.8L803.3 983.4L804.6 984L805.8 984.4L807 984.8L808.3 985L809.5 985L810.8 985L812 984.8L813.3 984.4L814.5 984L815.8 983.5L817 982.9L818.3 982.3L819.5 981.7L820.7 981.1L822 980.6L823.2 980.1L824.5 979.8L825.7 979.5L827 979.3L828.2 979.3L829.5 979.4L830.7 979.5L831.9 979.8L833.2 980.1L834.4 980.5L835.7 980.9L836.9 981.3L838.2 981.8L839.4 982.2L840.7 982.5L841.9 982.8L843.1 983.1L844.4 983.2L845.6 983.3L846.9 983.4L848.1 983.3L849.4 983.2L850.6 983.1L851.9 982.9L853.1 982.6L854.3 982.4L855.6 982.1L856.8 981.9L858.1 981.7L859.3 981.4L860.6 981.3L861.8 981.1L863.1 981L864.3 980.9L865.6 980.9L866.8 980.9L868 980.9L869.3 981L870.5 981.1L871.8 981.2L873 981.4L874.3 981.5L875.5 981.7L876.8 981.9L878 982L879.2 982.2L880.5 982.3L881.7 982.5L883 982.6L884.2 982.6L885.5 982.7L886.7 982.7L888 982.7L889.2 982.6L890.4 982.5L891.7 982.4L892.9 982.2L894.2 982L895.4 981.8L896.7 981.5L897.9 981.3L899.2 981L900.4 980.8L901.6 980.6L902.9 980.4L904.1 980.3L905.4 980.2L906.6 980.2L907.9 980.3L909.1 980.5L910.4 980.7L911.6 981L912.9 981.3L914.1 981.7L915.3 982.2L916.6 982.6L917.8 983L919.1 983.4L920.3 983.7L921.6 984L922.8 984.2L924.1 984.3L925.3 984.3L926.5 984.1L927.8 983.9L929 983.6L930.3 983.1L931.5 982.6L932.8 982L934 981.4L935.3 980.8L936.5 980.3L937.7 979.7L939 979.3L940.2 978.9L941.5 978.7L942.7 978.6L944 978.6L945.2 978.8L946.5 979.1L947.7 979.5L948.9 980L950.2 980.7L951.4 981.3L952.7 982L953.9 982.7L955.2 983.4L956.4 983.9L957.7 984.4L958.9 984.8L960.2 985.1L961.4 985.2L962.6 985.1L963.9 984.9L965.1 984.6L966.4 984.2L967.6 983.7L968.9 983.1L970.1 982.4L971.4 981.8L972.6 981.1L973.8 980.5L975.1 980L976.3 979.6L977.6 979.2L978.8 979L980.1 978.9L981.3 979L982.6 979.1L983.8 979.4L985 979.8L986.3 980.2L987.5 980.7L988.8 981.2L990 981.7L991.3 982.2L992.5 982.6L993.8 983L995 983.3L996.2 983.6L997.5 983.7L998.7 983.7L1000 983.7L1001.2 983.6L1002.5 983.4L1003.7 983.2L1005 982.9L1006.2 982.6L1007.5 982.2L1008.7 981.9L1009.9 981.5L1011.2 981.2L1012.4 980.9L1013.7 980.5L1014.9 980.2L1016.2 979.8L1017.4 979.3L1018.7 978.6L1019.9 977.8L1021.1 976.6L1022.4 974.9L1023.6 972.7L1024.9 969.7L1026.1 965.7L1027.4 960.6L1028.6 954L1029.9 945.8L1031.1 935.8L1032.3 923.6L1033.6 909.2L1034.8 892.5L1036.1 873.4L1037.3 852.1L1038.6 828.8L1039.8 803.8L1041.1 777.7L1042.3 751L1043.5 724.5L1044.8 699L1046 675.3L1047.3 654.3L1048.5 636.7L1049.8 623.4L1051 614.7L1052.3 611.1L1053.5 612.7L1054.8 619.5L1056 631.1L1057.2 647.1L1058.5 666.9L1059.7 689.8L1061 714.8L1062.2 741.1L1063.5 767.9L1064.7 794.5L1066 820.2L1067.2 844.4L1068.4 866.7L1069.7 886.9L1070.9 904.8L1072.2 920.3L1073.4 933.5L1074.7 944.6L1075.9 953.6L1077.2 960.9L1078.4 966.5L1079.6 970.8L1080.9 974L1082.1 976.3L1083.4 977.8L1084.6 978.7L1085.9 979.2L1087.1 979.4L1088.4 979.4L1089.6 979.3L1090.8 979.1L1092.1 978.9L1093.3 978.8L1094.6 978.7L1095.8 978.8L1097.1 978.9L1098.3 979.2L1099.6 979.6L1100.8 980.1L1102.1 980.6L1103.3 981.3L1104.5 981.9L1105.8 982.6L1107 983.3L1108.3 983.9L1109.5 984.4L1110.8 984.8L1112 985L1113.3 985.2L1114.5 985.2L1115.7 985L1117 984.7L1118.2 984.3L1119.5 983.8L1120.7 983.2L1122 982.5L1123.2 981.8L1124.5 981.2L1125.7 980.5L1126.9 979.9L1128.2 979.4L1129.4 979.1L1130.7 978.8L1131.9 978.7L1133.2 978.7L1134.4 978.8L1135.7 979.1L1136.9 979.5L1138.1 979.9L1139.4 980.5L1140.6 981L1141.9 981.6L1143.1 982.2L1144.4 982.7L1145.6 983.2L1146.9 983.6L1148.1 983.9L1149.4 984.1L1150.6 984.1L1151.8 984.1L1153.1 984L1154.3 983.8L1155.6 983.5L1156.8 983.2L1158.1 982.8L1159.3 982.4L1160.6 982L1161.8 981.6L1163 981.3L1164.3 981L1165.5 980.7L1166.8 980.6L1168 980.4L1169.3 980.4L1170.5 980.4L1171.8 980.5L1173 980.6L1174.2 980.7L1175.5 980.9L1176.7 981.2L1178 981.4L1179.2 981.6L1180.5 981.8L1181.7 982L1183 982.2L1184.2 982.4L1185.4 982.5L1186.7 982.6L1187.9 982.6L1189.2 982.7L1190.4 982.6L1191.7 982.6L1192.9 982.5L1194.2 982.4L1195.4 982.3L1196.7 982.1L1197.9 982L1199.1 981.8L1200.4 981.6L1201.6 981.5L1202.9 981.3L1204.1 981.2L1205.4 981L1206.6 980.9L1207.9 980.9L1209.1 980.8L1210.3 980.8L1211.6 980.9L1212.8 980.9L1214.1 981.1L1215.3 981.3L1216.6 981.5L1217.8 981.7L1219.1 982L1220.3 982.2L1221.5 982.5L1222.8 982.8L1224 983L1225.3 983.2L1226.5 983.4L1227.8 983.5L1229 983.5L1230.3 983.5L1231.5 983.3L1232.7 983.1L1234 982.8L1235.2 982.5L1236.5 982.1L1237.7 981.6L1239 981.2L1240.2 980.7L1241.5 980.3L1242.7 979.9L1244 979.6L1245.2 979.3L1246.4 979.2L1247.7 979.1L1248.9 979.2L1250.2 979.4L1251.4 979.8L1252.7 980.2L1253.9 980.7L1255.2 981.3L1256.4 981.9L1257.6 982.5L1258.9 983.1L1260.1 983.7L1261.4 984.2L1262.6 984.6L1263.9 984.9L1265.1 985.1L1266.4 985.1L1267.6 985L1268.8 984.7L1270.1 984.3L1271.3 983.8L1272.6 983.3L1273.8 982.6L1275.1 981.9L1276.3 981.2L1277.6 980.5L1278.8 979.9L1280 979.4L1281.3 979L1282.5 978.7L1283.8 978.5L1285 978.5L1286.3 978.6L1287.5 978.9L1288.8 979.2L1290 979.7L1291.3 980.3L1292.5 980.9L1293.7 981.5L1295 982.2L1296.2 982.8L1297.5 983.3L1298.7 983.8L1300 984.1L1301.2 984.4L1302.5 984.5L1303.7 984.5L1304.9 984.4L1306.2 984.2L1307.4 983.9L1308.7 983.5L1309.9 983.1L1311.2 982.6L1312.4 982.1L1313.7 981.7L1314.9 981.2L1316.1 980.8L1317.4 980.5L1318.6 980.3" stroke="#ff0000" stroke-width="2" fill="none"/>
<path d="M787.2 979.1a7.4 7.4 0 1 0 14.8 0a7.4 7.4 0 1 0 -14.8 0zM788.4 979.5a7.4 7.4 0 1 0 14.8 0a7.4 7.4 0 1 0 -14.8 0zM789.7 980.1a7.4 7.4 0 1 0 14.8 0a7.4 7.4 0 1 0 -14.8 0zM790.9 980.7a7.4 7.4 0 1 0 14.8 0a7.4 7.4 0 1 0 -14.8 0zM792.2 981.4a7.4 7.4 0 1 0 14.8 0a7.4 7.4 0 1 0 -14.8 0zM793.4 982.1a7.4 7.4 0 1 0 14.8 0a7.4 7.4 0 1 0 -14.8 0zM794.7 982.8a7.4 7.4 0 1 0 14.8 0a7.4 7.4 0 1 0 -14.8 0zM795.9 983.4a7.4 7.4 0 1 0 14.8 0a7.4 7.4 0 1 0 -14.8 0zM797.2 984a7.4 7.4 0 1 0 14.8 0a7.4 7.4 0 1 0 -14.8 0zM798.4 984.4a7.4 7.4 0 1 0 14.8 0a7.4 7.4 0 1 0 -14.8 0zM799.6 984.8a7.4 7.4 0 1 0 14.8 0a7.4 7.4 0 1 0 -14.8 0zM800.9 985a7.4 7.4 0 1 0 14.8 0a7.4 7.4 0 1 0 -14.8 0zM802.1 985a7.4 7.4 0 1 0 14.8 0a7.4 7.4 0 1 0 -14.8 0zM803.4 985a7.4 7.4 0 1 0 14.8 0a7.4 7.4 0 1 0 -14.8 0zM804.6 984.8a7.4 7.4 0 1 0 14.8 0a7.4 7.4 0 1 0 -14.8 0zM805.9 984.4a7.4 7.4 0 1 0 14.8 0a7.4 7.4 0 1 0 -14.8 0zM807.1 984a7.4 7.4 0 1 0 14.8 0a7.4 7.4 0 1 0 -14.8 0zM808.4 983.5a7.4 7.4 0 1 0 14.8 0a7.4 7.4 0 1 0 -14.8 0zM809.6 982.9a7.4 7.4 0 1 0 14.8 0a7.4 7.4 0 1 0 -14.8 0zM810.9 982.3a7.4 7.4 0 1 0 14.8 0a7.4 7.4 0 1 0 -14.8 0zM812.1 981.7a7.4 7.4 0 1 0 14.8 0a7.4 7.4 0 1 0 -14.8 0zM813.3 981.1a7.4 7.4 0 1 0 14.8 0a7.4 7.4 0 1 0 -14.8 0zM814.6 980.6a7.4 7.4 0 1 0 14.8 0a7.4 7.4 0 1 0 -14.8 0zM815.8 980.1a7.4 7.4 0 1 0 14.8 0a7.4 7.4 0 1 0 -14.8 0zM817.1 979.8a7.4 7.4 0 1 0 14.8 0a7.4 7.4 0 1 0 -14.8 0zM818.3 979.5a7.4 7.4 0 1 0 14.8 0a7.4 7.4 0 1 0 -14.8 0zM819.6 979.3a7.4 7.4 0 1 0 14.8 0a7.4 7.4 0 1 0 -14.8 0zM820.8 979.3a7.4 7.4 0 1 0 14.8 0a7.4 7.4 0 1 0 -14.8 0zM822.1 979.4a7.4 7.4 0 1 0 14.8 0a7.4 7.4 0 1 0 -14.8 0zM823.3 979.5a7.4 7.4 0 1 0 14.8 0a7.4 7.4 0 1 0 -14.8 0zM824.5 979.8a7.4 7.4 0 1 0 14.8 0a7.4 7.4 0 1 0 -14.8 0zM825.8 980.1a7.4 7.4 0 1 0 14.8 0a7.4 7.4 0 1 0 -14.8 0zM827 980.5a7.4 7.4 0 1 0 14.8 0a7.4 7.4 0 1 0 -14.8 0zM828.3 980.9a7.4 7.4 0 1 0 14.8 0a7.4 7.4 0 1 0 -14.8 0zM829.5 981.3a7.4 7.4 0 1 0 14.8 0a7.4 7.4 0 1 0 -14.8 0zM830.8 981.8a7.4 7.4 0 1 0 14.8 0a7.4 7.4 0 1 0 -14.8 0zM832 982.2a7.4 7.4 0 1 0 14.8 0a7.4 7.4 0 1 0 -14.8 0zM833.3 982.5a7.4 7.4 0 1 0 14.8 0a7.4 7.4 0 1 0 -14.8 0zM834.5 982.8a7.4 7.4 0 1 0 14.8 0a7.4 7.4 0 1 0 -14.8 0zM835.7 983.1a7.4 7.4 0 1 0 14.8 0a7.4 7.4 0 1 0 -14.8 0zM837 983.2a7.4 7.4 0 1 0 14.8 0a7.4 7.4 0 1 0 -14.8 0zM838.2 983.3a7.4 7.4 0 1 0 14.8 0a7.4 7.4 0 1 0 -14.8 0zM839.5 983.4a7.4 7.4 0 1 0 14.8 0a7.4 7.4 0 1 0 -14.8 0zM840.7 983.3a7.4 7.4 0 1 0 14.8 0a7.4 7.4 0 1 0 -14.8 0zM842 983.2a7.4 7.4 0 1 0 14.8 0a7.4 7.4 0 1 0 -14.8 0zM843.2 983.1a7.4 7.4 0 1 0 14.8 0a7.4 7.4 0 1 0 -14.8 0zM844.5 982.9a7.4 7.4 0 1 0 14.8 0a7.4 7.4 0 1 0 -14.8 0zM845.7 982.6a7.4 7.4 0 1 0 14.8 0a7.4 7.4 0 1 0 -14.8 0zM846.9 982.4a7.4 7.4 0 1 0 14.8 0a7.4 7.4 0 1 0 -14.8 0zM848.2 982.1a7.4 7.4 0 1 0 14.8 0a7.4 7.4 0 1 0 -14.8 0zM849.4 981.9a7.4 7.4 0 1 0 14.8 0a7.4 7.4 0 1 0 -14.8 0zM850.7 981.7a7.4 7.4 0 1 0 14.8 0a7.4 7.4 0 1 0 -14.8 0zM851.9 981.4a7.4 7.4 0 1 0 14.8 0a7.4 7.4 0 1 0 -14.8 0zM853.2 981.3a7.4 7.4 0 1 0 14.8 0a7.4 7.4 0 1 0 -14.8 0zM854.4 981.1a7.4 7.4 0 1 0 14.8 0a7.4 7.4 0 1 0 -14.8 0zM855.7 981a7.4 7.4 0 1 0 14.8 0a7.4 7.4 0 1 0 -14.8 0zM856.9 980.9a7.4 7.4 0 1 0 14.8 0a7.4 7.4 0 1 0 -14.8 0zM858.2 980.9a7.4 7.4 0 1 0 14.8 0a7.4 7.4 0 1 0 -14.8 0zM859.4 980.9a7.4 7.4 0 1 0 14.8 0a7.4 7.4 0 1 0 -14.8 0zM860.6 980.9a7.4 7.4 0 1 0 14.8 0a7.4 7.4 0 1 0 -14.8 0zM861.9 981a7.4 7.4 0 1 0 14.8 0a7.4 7.4 0 1 0 -14.8 0zM863.1 981.1a7.4 7.4 0 1 0 14.8 0a7.4 7.4 0 1 0 -14.8 0zM864.4 981.2a7.4 7.4 0 1 0 14.8 0a7.4 7.4 0 1 0 -14.8 0zM865.6 981.4a7.4 7.4 0 1 0 14.8 0a7.4 7.4 0 1 0 -14.8 0zM866.9 981.5a7.4 7.4 0 1 0 14.8 0a7.4 7.4 0 1 0 -14.8 0zM868.1 981.7a7.4 7.4 0 1 0 14.8 0a7.4 7.4 0 1 0 -14.8 0zM869.4 981.9a7.4 7.4 0 1 0 14.8 0a7.4 7.4 0 1 0 -14.8 0zM870.6 982a7.4 7.4 0 1 0 14.8 0a7.4 7.4 0 1 0 -14.8 0zM871.8 982.2a7.4 7.4 0 1 0 14.8 0a7.4 7.4 0 1 0 -14.8 0zM873.1 982.3a7.4 7.4 0 1 0 14.8 0a7.4 7.4 0 1 0 -14.8 0zM874.3 982.5a7.4 7.4 0 1 0 14.8 0a7.4 7.4 0 1 0 -14.8 0zM875.6 982.6a7.4 7.4 0 1 0 14.8 0a7.4 7.4 0 1 0 -14.8 0zM876.8 982.6a7.4 7.4 0 1 0 14.8 0a7.4 7.4 0 1 0 -14.8 0zM878.1 982.7a7.4 7.4 0 1 0 14.8 0a7.4 7.4 0 1 0 -14.8 0zM879.3 982.7a7.4 7.4 0 1 0 14.8 0a7.4 7.4 0 1 0 -14.8 0zM880.6 982.7a7.4 7.4 0 1 0 14.8 0a7.4 7.4 0 1 0 -14.8 0zM881.8 982.6a7.4 7.4 0 1 0 14.8 0a7.4 7.4 0 1 0 -14.8 0zM883 982.5a7.4 7.4 0 1 0 14.8 0a7.4 7.4 0 1 0 -14.8 0zM884.3 982.4a7.4 7.4 0 1 0 14.8 0a7.4 7.4 0 1 0 -14.8 0zM885.5 982.2a7.4 7.4 0 1 0 14.8 0a7.4 7.4 0 1 0 -14.8 0zM886.8 982a7.4 7.4 0 1 0 14.8 0a7.4 7.4 0 1 0 -14.8 0zM888 981.8a7.4 7.4 0 1 0 14.8 0a7.4 7.4 0 1 0 -14.8 0zM889.3 981.5a7.4 7.4 0 1 0 14.8 0a7.4 7.4 0 1 0 -14.8 0zM890.5 981.3a7.4 7.4 0 1 0 14.8 0a7.4 7.4 0 1 0 -14.8 0zM891.8 981a7.4 7.4 0 1 0 14.8 0a7.4 7.4 0 1 0 -14.8 0zM893 980.8a7.4 7.4 0 1 0 14.8 0a7.4 7.4 0 1 0 -14.8 0zM894.2 980.6a7.4 7.4 0 1 0 14.8 0a7.4 7.4 0 1 0 -14.8 0zM895.5 980.4a7.4 7.4 0 1 0 14.8 0a7.4 7.4 0 1 0 -14.8 0zM896.7 980.3a7.4 7.4 0 1 0 14.8 0a7.4 7.4 0 1 0 -14.8 0zM898 980.2a7.4 7.4 0 1 0 14.8 0a7.4 7.4 0 1 0 -14.8 0zM899.2 980.2a7.4 7.4 0 1 0 14.8 0a7.4 7.4 0 1 0 -14.8 0zM900.5 980.3a7.4 7.4 0 1 0 14.8 0a7.4 7.4 0 1 0 -14.8 0zM901.7 980.5a7.4 7.4 0 1 0 14.8 0a7.4 7.4 0 1 0 -14.8 0zM903 980.7a7.4 7.4 0 1 0 14.8 0a7.4 7.4 0 1 0 -14.8 0zM904.2 981a7.4 7.4 0 1 0 14.8 0a7.4 7.4 0 1 0 -14.8 0zM905.5 981.3a7.4 7.4 0 1 0 14.8 0a7.4 7.4 0 1 0 -14.8 0zM906.7 981.7a7.4 7.4 0 1 0 14.8 0a7.4 7.4 0 1 0 -14.8 0zM907.9 982.2a7.4 7.4 0 1 0 14.8 0a7.4 7.4 0 1 0 -14.8 0zM909.2 982.6a7.4 7.4 0 1 0 14.8 0a7.4 7.4 0 1 0 -14.8 0zM910.4 983a7.4 7.4 0 1 0 14.8 0a7.4 7.4 0 1 0 -14.8 0zM911.7 983.4a7.4 7.4 0 1 0 14.8 0a7.4 7.4 0 1 0 -14.8 0zM912.9 983.7a7.4 7.4 0 1 0 14.8 0a7.4 7.4 0 1 0 -14.8 0zM914.2 984a7.4 7.4 0 1 0 14.8 0a7.4 7.4 0 1 0 -14.8 0zM915.4 984.2a7.4 7.4 0 1 0 14.8 0a7.4 7.4 0 1 0 -14.8 0zM916.7 984.3a7.4 7.4 0 1 0 14.8 0a7.4 7.4 0 1 0 -14.8 0zM917.9 984.3a7.4 7.4 0 1 0 14.8 0a7.4 7.4 0 1 0 -14.8 0zM919.1 984.1a7.4 7.4 0 1 0 14.8 0a7.4 7.4 0 1 0 -14.8 0zM920.4 983.9a7.4 7.4 0 1 0 14.8 0a7.4 7.4 0 1 0 -14.8 0zM921.6 983.6a7.4 7.4 0 1 0 14.8 0a7.4 7.4 0 1 0 -14.8 0zM922.9 983.1a7.4 7.4 0 1 0 14.8 0a7.4 7.4 0 1 0 -14.8 0zM924.1 982.6a7.4 7.4 0 1 0 14.8 0a7.4 7.4 0 1 0 -14.8 0zM925.4 982a7.4 7.4 0 1 0 14.8 0a7.4 7.4 0 1 0 -14.8 0zM926.6 981.4a7.4 7.4 0 1 0 14.8 0a7.4 7.4 0 1 0 -14.8 0zM927.9 980.8a7.4 7.4 0 1 0 14.8 0a7.4 7.4 0 1 0 -14.8 0zM929.1 980.3a7.4 7.4 0 1 0 14.8 0a7.4 7.4 0 1 0 -14.8 0zM930.3 979.7a7.4 7.4 0 1 0 14.8 0a7.4 7.4 0 1 0 -14.8 0zM931.6 979.3a7.4 7.4 0 1 0 14.8 0a7.4 7.4 0 1 0 -14.8 0zM932.8 978.9a7.4 7.4 0 1 0 14.8 0a7.4 7.4 0 1 0 -14.8 0zM934.1 978.7a7.4 7.4 0 1 0 14.8 0a7.4 7.4 0 1 0 -14.8 0zM935.3 978.6a7.4 7.4 0 1 0 14.8 0a7.4 7.4 0 1 0 -14.8 0zM936.6 978.6a7.4 7.4 0 1 0 14.8 0a7.4 7.4 0 1 0 -14.8 0zM937.8 978.8a7.4 7.4 0 1 0 14.8 0a7.4 7.4 0 1 0 -14.8 0zM939.1 979.1a7.4 7.4 0 1 0 14.8 0a7.4 7.4 0 1 0 -14.8 0zM940.3 979.5a7.4 7.4 0 1 0 14.8 0a7.4 7.4 0 1 0 -14.8 0zM941.5 980a7.4 7.4 0 1 0 14.8 0a7.4 7.4 0 1 0 -14.8 0zM942.8 980.7a7.4 7.4 0 1 0 14.8 0a7.4 7.4 0 1 0 -14.8 0zM944 981.3a7.4 7.4 0 1 0 14.8 0a7.4 7.4 0 1 0 -14.8 0zM945.3 982a7.4 7.4 0 1 0 14.8 0a7.4 7.4 0 1 0 -14.8 0zM946.5 982.7a7.4 7.4 0 1 0 14.8 0a7.4 7.4 0 1 0 -14.8 0zM947.8 983.4a7.4 7.4 0 1 0 14.8 0a7.4 7.4 0 1 0 -14.8 0zM949 983.9a7.4 7.4 0 1 0 14.8 0a7.4 7.4 0 1 0 -14.8 0zM950.3 984.4a7.4 7.4 0 1 0 14.8 0a7.4 7.4 0 1 0 -14.8 0zM951.5 984.8a7.4 7.4 0 1 0 14.8 0a7.4 7.4 0 1 0 -14.8 0zM952.8 985.1a7.4 7.4 0 1 0 14.8 0a7.4 7.4 0 1 0 -14.8 0zM954 985.2a7.4 7.4 0 1 0 14.8 0a7.4 7.4 0 1 0 -14.8 0zM955.2 985.1a7.4 7.4 0 1 0 14.8 0a7.4 7.4 0 1 0 -14.8 0zM956.5 984.9a7.4 7.4 0 1 0 14.8 0a7.4 7.4 0 1 0 -14.8 0zM957.7 984.6a7.4 7.4 0 1 0 14.8 0a7.4 7.4 0 1 0 -14.8 0zM959 984.2a7.4 7.4 0 1 0 14.8 0a7.4 7.4 0 1 0 -14.8 0zM960.2 983.7a7.4 7.4 0 1 0 14.8 0a7.4 7.4 0 1 0 -14.8 0zM961.5 983.1a7.4 7.4 0 1 0 14.8 0a7.4 7.4 0 1 0 -14.8 0zM962.7 982.4a7.4 7.4 0 1 0 14.8 0a7.4 7.4 0 1 0 -14.8 0zM964 981.8a7.4 7.4 0 1 0 14.8 0a7.4 7.4 0 1 0 -14.8 0zM965.2 981.1a7.4 7.4 0 1 0 14.8 0a7.4 7.4 0 1 0 -14.8 0zM966.4 980.5a7.4 7.4 0 1 0 14.8 0a7.4 7.4 0 1 0 -14.8 0zM967.7 980a7.4 7.4 0 1 0 14.8 0a7.4 7.4 0 1 0 -14.8 0zM968.9 979.6a7.4 7.4 0 1 0 14.8 0a7.4 7.4 0 1 0 -14.8 0zM970.2 979.2a7.4 7.4 0 1 0 14.8 0a7.4 7.4 0 1 0 -14.8 0zM971.4 979a7.4 7.4 0 1 0 14.8 0a7.4 7.4 0 1 0 -14.8 0zM972.7 978.9a7.4 7.4 0 1 0 14.8 0a7.4 7.4 0 1 0 -14.8 0zM973.9 979a7.4 7.4 0 1 0 14.8 0a7.4 7.4 0 1 0 -14.8 0zM975.2 979.1a7.4 7.4 0 1 0 14.8 0a7.4 7.4 0 1 0 -14.8 0zM976.4 979.4a7.4 7.4 0 1 0 14.8 0a7.4 7.4 0 1 0 -14.8 0zM977.6 979.8a7.4 7.4 0 1 0 14.8 0a7.4 7.4 0 1 0 -14.8 0zM978.9 980.2a7.4 7.4 0 1 0 14.8 0a7.4 7.4 0 1 0 -14.8 0zM980.1 980.7a7.4 7.4 0 1 0 14.8 0a7.4 7.4 0 1 0 -14.8 0zM981.4 981.2a7.4 7.4 0 1 0 14.8 0a7.4 7.4 0 1 0 -14.8 0zM982.6 981.7a7.4 7.4 0 1 0 14.8 0a7.4 7.4 0 1 0 -14.8 0zM983.9 982.2a7.4 7.4 0 1 0 14.8 0a7.4 7.4 0 1 0 -14.8 0zM985.1 982.6a7.4 7.4 0 1 0 14.8 0a7.4 7.4 0 1 0 -14.8 0zM986.4 983a7.4 7.4 0 1 0 14.8 0a7.4 7.4 0 1 0 -14.8 0zM987.6 983.3a7.4 7.4 0 1 0 14.8 0a7.4 7.4 0 1 0 -14.8 0zM988.8 983.6a7.4 7.4 0 1 0 14.8 0a7.4 7.4 0 1 0 -14.8 0zM990.1 983.7a7.4 7.4 0 1 0 14.8 0a7.4 7.4 0 1 0 -14.8 0zM991.3 983.7a7.4 7.4 0 1 0 14.8 0a7.4 7.4 0 1 0 -14.8 0zM992.6 983.7a7.4 7.4 0 1 0 14.8 0a7.4 7.4 0 1 0 -14.8 0zM993.8 983.6a7.4 7.4 0 1 0 14.8 0a7.4 7.4 0 1 0 -14.8 0zM995.1 983.4a7.4 7.4 0 1 0 14.8 0a7.4 7.4 0 1 0 -14.8 0zM996.3 983.2a7.4 7.4 0 1 0 14.8 0a7.4 7.4 0 1 0 -14.8 0zM997.6 982.9a7.4 7.4 0 1 0 14.8 0a7.4 7.4 0 1 0 -14.8 0zM998.8 982.6a7.4 7.4 0 1 0 14.8 0a7.4 7.4 0 1 0 -14.8 0zM1000.1 982.2a7.4 7.4 0 1 0 14.8 0a7.4 7.4 0 1 0 -14.8 0zM1001.3 981.9a7.4 7.4 0 1 0 14.8 0a7.4 7.4 0 1 0 -14.8 0zM1002.5 981.5a7.4 7.4 0 1 0 14.8 0a7.4 7.4 0 1 0 -14.8 0zM1003.8 981.2a7.4 7.4 0 1 0 14.8 0a7.4 7.4 0 1 0 -14.8 0zM1005 980.9a7.4 7.4 0 1 0 14.8 0a7.4 7.4 0 1 0 -14.8 0zM1006.3 980.5a7.4 7.4 0 1 0 14.8 0a7.4 7.4 0 1 0 -14.8 0zM1007.5 980.2a7.4 7.4 0 1 0 14.8 0a7.4 7.4 0 1 0 -14.8 0zM1008.8 979.8a7.4 7.4 0 1 0 14.8 0a7.4 7.4 0 1 0 -14.8 0zM1010 979.3a7.4 7.4 0 1 0 14.8 0a7.4 7.4 0 1 0 -14.8 0zM1011.3 978.6a7.4 7.4 0 1 0 14.8 0a7.4 7.4 0 1 0 -14.8 0zM1012.5 977.8a7.4 7.4 0 1 0 14.8 0a7.4 7.4 0 1 0 -14.8 0zM1013.7 976.6a7.4 7.4 0 1 0 14.8 0a7.4 7.4 0 1 0 -14.8 0zM1015 974.9a7.4 7.4 0 1 0 14.8 0a7.4 7.4 0 1 0 -14.8 0zM1016.2 972.7a7.4 7.4 0 1 0 14.8 0a7.4 7.4 0 1 0 -14.8 0zM1017.5 969.7a7.4 7.4 0 1 0 14.8 0a7.4 7.4 0 1 0 -14.8 0zM1018.7 965.7a7.4 7.4 0 1 0 14.8 0a7.4 7.4 0 1 0 -14.8 0zM1020 960.6a7.4 7.4 0 1 0 14.8 0a7.4 7.4 0 1 0 -14.8 0zM1021.2 954a7.4 7.4 0 1 0 14.8 0a7.4 7.4 0 1 0 -14.8 0zM1022.5 945.8a7.4 7.4 0 1 0 14.8 0a7.4 7.4 0 1 0 -14.8 0zM1023.7 935.8a7.4 7.4 0 1 0 14.8 0a7.4 7.4 0 1 0 -14.8 0zM1024.9 923.6a7.4 7.4 0 1 0 14.8 0a7.4 7.4 0 1 0 -14.8 0zM1026.2 909.2a7.4 7.4 0 1 0 14.8 0a7.4 7.4 0 1 0 -14.8 0zM1027.4 892.5a7.4 7.4 0 1 0 14.8 0a7.4 7.4 0 1 0 -14.8 0zM1028.7 873.4a7.4 7.4 0 1 0 14.8 0a7.4 7.4 0 1 0 -14.8 0zM1029.9 852.1a7.4 7.4 0 1 0 14.8 0a7.4 7.4 0 1 0 -14.8 0zM1031.2 828.8a7.4 7.4 0 1 0 14.8 0a7.4 7.4 0 1 0 -14.8 0zM1032.4 803.8a7.4 7.4 0 1 0 14.8 0a7.4 7.4 0 1 0 -14.8 0zM1033.7 777.7a7.4 7.4 0 1 0 14.8 0a7.4 7.4 0 1 0 -14.8 0zM1034.9 751a7.4 7.4 0 1 0 14.8 0a7.4 7.4 0 1 0 -14.8 0zM1036.1 724.5a7.4 7.4 0 1 0 14.8 0a7.4 7.4 0 1 0 -14.8 0zM1037.4 699a7.4 7.4 0 1 0 14.8 0a7.4 7.4 0 1 0 -14.8 0zM1038.6 675.3a7.4 7.4 0 1 0 14.8 0a7.4 7.4 0 1 0 -14.8 0zM1039.9 654.3a7.4 7.4 0 1 0 14.8 0a7.4 7.4 0 1 0 -14.8 0zM1041.1 636.7a7.4 7.4 0 1 0 14.8 0a7.4 7.4 0 1 0 -14.8 0zM1042.4 623.4a7.4 7.4 0 1 0 14.8 0a7.4 7.4 0 1 0 -14.8 0zM1043.6 614.7a7.4 7.4 0 1 0 14.8 0a7.4 7.4 0 1 0 -14.8 0zM1044.9 611.1a7.4 7.4 0 1 0 14.8 0a7.4 7.4 0 1 0 -14.8 0zM1046.1 612.7a7.4 7.4 0 1 0 14.8 0a7.4 7.4 0 1 0 -14.8 0zM1047.4 619.5a7.4 7.4 0 1 0 14.8 0a7.4 7.4 0 1 0 -14.8 0zM1048.6 631.1a7.4 7.4 0 1 0 14.8 0a7.4 7.4 0 1 0 -14.8 0zM1049.8 647.1a7.4 7.4 0 1 0 14.8 0a7.4 7.4 0 1 0 -14.8 0zM1051.1 666.9a7.4 7.4 0 1 0 14.8 0a7.4 7.4 0 1 0 -14.8 0zM1052.3 689.8a7.4 7.4 0 1 0 14.8 0a7.4 7.4 0 1 0 -14.8 0zM1053.6 714.8a7.4 7.4 0 1 0 14.8 0a7.4 7.4 0 1 0 -14.8 0zM1054.8 741.1a7.4 7.4 0 1 0 14.8 0a7.4 7.4 0 1 0 -14.8 0zM1056.1 767.9a7.4 7.4 0 1 0 14.8 0a7.4 7.4 0 1 0 -14.8 0zM1057.3 794.5a7.4 7.4 0 1 0 14.8 0a7.4 7.4 0 1 0 -14.8 0zM1058.6 820.2a7.4 7.4 0 1 0 14.8 0a7.4 7.4 0 1 0 -14.8 0zM1059.8 844.4a7.4 7.4 0 1 0 14.8 0a7.4 7.4 0 1 0 -14.8 0zM1061 866.7a7.4 7.4 0 1 0 14.8 0a7.4 7.4 0 1 0 -14.8 0zM1062.3 886.9a7.4 7.4 0 1 0 14.8 0a7.4 7.4 0 1 0 -14.8 0zM1063.5 904.8a7.4 7.4 0 1 0 14.8 0a7.4 7.4 0 1 0 -14.8 0zM1064.8 920.3a7.4 7.4 0 1 0 14.8 0a7.4 7.4 0 1 0 -14.8 0zM1066 933.5a7.4 7.4 0 1 0 14.8 0a7.4 7.4 0 1 0 -14.8 0zM1067.3 944.6a7.4 7.4 0 1 0 14.8 0a7.4 7.4 0 1 0 -14.8 0zM1068.5 953.6a7.4 7.4 0 1 0 14.8 0a7.4 7.4 0 1 0 -14.8 0zM1069.8 960.9a7.4 7.4 0 1 0 14.8 0a7.4 7.4 0 1 0 -14.8 0zM1071 966.5a7.4 7.4 0 1 0 14.8 0a7.4 7.4 0 1 0 -14.8 0zM1072.2 970.8a7.4 7.4 0 1 0 14.8 0a7.4 7.4 0 1 0 -14.8 0zM1073.5 974a7.4 7.4 0 1 0 14.8 0a7.4 7.4 0 1 0 -14.8 0zM1074.7 976.3a7.4 7.4 0 1 0 14.8 0a7.4 7.4 0 1 0 -14.8 0zM1076 977.8a7.4 7.4 0 1 0 14.8 0a7.4 7.4 0 1 0 -14.8 0zM1077.2 978.7a7.4 7.4 0 1 0 14.8 0a7.4 7.4 0 1 0 -14.8 0zM1078.5 979.2a7.4 7.4 0 1 0 14.8 0a7.4 7.4 0 1 0 -14.8 0zM1079.7 979.4a7.4 7.4 0 1 0 14.8 0a7.4 7.4 0 1 0 -14.8 0zM1081 979.4a7.4 7.4 0 1 0 14.8 0a7.4 7.4 0 1 0 -14.8 0zM1082.2 979.3a7.4 7.4 0 1 0 14.8 0a7.4 7.4 0 1 0 -14.8 0zM1083.4 979.1a7.4 7.4 0 1 0 14.8 0a7.4 7.4 0 1 0 -14.8 0zM1084.7 978.9a7.4 7.4 0 1 0 14.8 0a7.4 7.4 0 1 0 -14.8 0zM1085.9 978.8a7.4 7.4 0 1 0 14.8 0a7.4 7.4 0 1 0 -14.8 0zM1087.2 978.7a7.4 7.4 0 1 0 14.8 0a7.4 7.4 0 1 0 -14.8 0zM1088.4 978.8a7.4 7.4 0 1 0 14.8 0a7.4 7.4 0 1 0 -14.8 0zM1089.7 978.9a7.4 7.4 0 1 0 14.8 0a7.4 7.4 0 1 0 -14.8 0zM1090.9 979.2a7.4 7.4 0 1 0 14.8 0a7.4 7.4 0 1 0 -14.8 0zM1092.2 979.6a7.4 7.4 0 1 0 14.8 0a7.4 7.4 0 1 0 -14.8 0zM1093.4 980.1a7.4 7.4 0 1 0 14.8 0a7.4 7.4 0 1 0 -14.8 0zM1094.7 980.6a7.4 7.4 0 1 0 14.8 0a7.4 7.4 0 1 0 -14.8 0zM1095.9 981.3a7.4 7.4 0 1 0 14.8 0a7.4 7.4 0 1 0 -14.8 0zM1097.1 981.9a7.4 7.4 0 1 0 14.8 0a7.4 7.4 0 1 0 -14.8 0zM1098.4 982.6a7.4 7.4 0 1 0 14.8 0a7.4 7.4 0 1 0 -14.8 0zM1099.6 983.3a7.4 7.4 0 1 0 14.8 0a7.4 7.4 0 1 0 -14.8 0zM1100.9 983.9a7.4 7.4 0 1 0 14.8 0a7.4 7.4 0 1 0 -14.8 0zM1102.1 984.4a7.4 7.4 0 1 0 14.8 0a7.4 7.4 0 1 0 -14.8 0zM1103.4 984.8a7.4 7.4 0 1 0 14.8 0a7.4 7.4 0 1 0 -14.8 0zM1104.6 985a7.4 7.4 0 1 0 14.8 0a7.4 7.4 0 1 0 -14.8 0zM1105.9 985.2a7.4 7.4 0 1 0 14.8 0a7.4 7.4 0 1 0 -14.8 0zM1107.1 985.2a7.4 7.4 0 1 0 14.8 0a7.4 7.4 0 1 0 -14.8 0zM1108.3 985a7.4 7.4 0 1 0 14.8 0a7.4 7.4 0 1 0 -14.8 0zM1109.6 984.7a7.4 7.4 0 1 0 14.8 0a7.4 7.4 0 1 0 -14.8 0zM1110.8 984.3a7.4 7.4 0 1 0 14.8 0a7.4 7.4 0 1 0 -14.8 0zM1112.1 983.8a7.4 7.4 0 1 0 14.8 0a7.4 7.4 0 1 0 -14.8 0zM1113.3 983.2a7.4 7.4 0 1 0 14.8 0a7.4 7.4 0 1 0 -14.8 0zM1114.6 982.5a7.4 7.4 0 1 0 14.8 0a7.4 7.4 0 1 0 -14.8 0zM1115.8 981.8a7.4 7.4 0 1 0 14.8 0a7.4 7.4 0 1 0 -14.8 0zM1117.1 981.2a7.4 7.4 0 1 0 14.8 0a7.4 7.4 0 1 0 -14.8 0zM1118.3 980.5a7.4 7.4 0 1 0 14.8 0a7.4 7.4 0 1 0 -14.8 0zM1119.5 979.9a7.4 7.4 0 1 0 14.8 0a7.4 7.4 0 1 0 -14.8 0zM1120.8 979.4a7.4 7.4 0 1 0 14.8 0a7.4 7.4 0 1 0 -14.8 0zM1122 979.1a7.4 7.4 0 1 0 14.8 0a7.4 7.4 0 1 0 -14.8 0zM1123.3 978.8a7.4 7.4 0 1 0 14.8 0a7.4 7.4 0 1 0 -14.8 0zM1124.5 978.7a7.4 7.4 0 1 0 14.8 0a7.4 7.4 0 1 0 -14.8 0zM1125.8 978.7a7.4 7.4 0 1 0 14.8 0a7.4 7.4 0 1 0 -14.8 0zM1127 978.8a7.4 7.4 0 1 0 14.8 0a7.4 7.4 0 1 0 -14.8 0zM1128.3 979.1a7.4 7.4 0 1 0 14.8 0a7.4 7.4 0 1 0 -14.8 0zM1129.5 979.5a7.4 7.4 0 1 0 14.8 0a7.4 7.4 0 1 0 -14.8 0zM1130.7 979.9a7.4 7.4 0 1 0 14.8 0a7.4 7.4 0 1 0 -14.8 0zM1132 980.5a7.4 7.4 0 1 0 14.8 0a7.4 7.4 0 1 0 -14.8 0zM1133.2 981a7.4 7.4 0 1 0 14.8 0a7.4 7.4 0 1 0 -14.8 0zM1134.5 981.6a7.4 7.4 0 1 0 14.8 0a7.4 7.4 0 1 0 -14.8 0zM1135.7 982.2a7.4 7.4 0 1 0 14.8 0a7.4 7.4 0 1 0 -14.8 0zM1137 982.7a7.4 7.4 0 1 0 14.8 0a7.4 7.4 0 1 0 -14.8 0zM1138.2 983.2a7.4 7.4 0 1 0 14.8 0a7.4 7.4 0 1 0 -14.8 0zM1139.5 983.6a7.4 7.4 0 1 0 14.8 0a7.4 7.4 0 1 0 -14.8 0zM1140.7 983.9a7.4 7.4 0 1 0 14.8 0a7.4 7.4 0 1 0 -14.8 0zM1142 984.1a7.4 7.4 0 1 0 14.8 0a7.4 7.4 0 1 0 -14.8 0zM1143.2 984.1a7.4 7.4 0 1 0 14.8 0a7.4 7.4 0 1 0 -14.8 0zM1144.4 984.1a7.4 7.4 0 1 0 14.8 0a7.4 7.4 0 1 0 -14.8 0zM1145.7 984a7.4 7.4 0 1 0 14.8 0a7.4 7.4 0 1 0 -14.8 0zM1146.9 983.8a7.4 7.4 0 1 0 14.8 0a7.4 7.4 0 1 0 -14.8 0zM1148.2 983.5a7.4 7.4 0 1 0 14.8 0a7.4 7.4 0 1 0 -14.8 0zM1149.4 983.2a7.4 7.4 0 1 0 14.8 0a7.4 7.4 0 1 0 -14.8 0zM1150.7 982.8a7.4 7.4 0 1 0 14.8 0a7.4 7.4 0 1 0 -14.8 0zM1151.9 982.4a7.4 7.4 0 1 0 14.8 0a7.4 7.4 0 1 0 -14.8 0zM1153.2 982a7.4 7.4 0 1 0 14.8 0a7.4 7.4 0 1 0 -14.8 0zM1154.4 981.6a7.4 7.4 0 1 0 14.8 0a7.4 7.4 0 1 0 -14.8 0zM1155.6 981.3a7.4 7.4 0 1 0 14.8 0a7.4 7.4 0 1 0 -14.8 0zM1156.9 981a7.4 7.4 0 1 0 14.8 0a7.4 7.4 0 1 0 -14.8 0zM1158.1 980.7a7.4 7.4 0 1 0 14.8 0a7.4 7.4 0 1 0 -14.8 0zM1159.4 980.6a7.4 7.4 0 1 0 14.8 0a7.4 7.4 0 1 0 -14.8 0zM1160.6 980.4a7.4 7.4 0 1 0 14.8 0a7.4 7.4 0 1 0 -14.8 0zM1161.9 980.4a7.4 7.4 0 1 0 14.8 0a7.4 7.4 0 1 0 -14.8 0zM1163.1 980.4a7.4 7.4 0 1 0 14.8 0a7.4 7.4 0 1 0 -14.8 0zM1164.4 980.5a7.4 7.4 0 1 0 14.8 0a7.4 7.4 0 1 0 -14.8 0zM1165.6 980.6a7.4 7.4 0 1 0 14.8 0a7.4 7.4 0 1 0 -14.8 0zM1166.8 980.7a7.4 7.4 0 1 0 14.8 0a7.4 7.4 0 1 0 -14.8 0zM1168.1 980.9a7.4 7.4 0 1 0 14.8 0a7.4 7.4 0 1 0 -14.8 0zM1169.3 981.2a7.4 7.4 0 1 0 14.8 0a7.4 7.4 0 1 0 -14.8 0zM1170.6 981.4a7.4 7.4 0 1 0 14.8 0a7.4 7.4 0 1 0 -14.8 0zM1171.8 981.6a7.4 7.4 0 1 0 14.8 0a7.4 7.4 0 1 0 -14.8 0zM1173.1 981.8a7.4 7.4 0 1 0 14.8 0a7.4 7.4 0 1 0 -14.8 0zM1174.3 982a7.4 7.4 0 1 0 14.8 0a7.4 7.4 0 1 0 -14.8 0zM1175.6 982.2a7.4 7.4 0 1 0 14.8 0a7.4 7.4 0 1 0 -14.8 0zM1176.8 982.4a7.4 7.4 0 1 0 14.8 0a7.4 7.4 0 1 0 -14.8 0zM1178 982.5a7.4 7.4 0 1 0 14.8 0a7.4 7.4 0 1 0 -14.8 0zM1179.3 982.6a7.4 7.4 0 1 0 14.8 0a7.4 7.4 0 1 0 -14.8 0zM1180.5 982.6a7.4 7.4 0 1 0 14.8 0a7.4 7.4 0 1 0 -14.8 0zM1181.8 982.7a7.4 7.4 0 1 0 14.8 0a7.4 7.4 0 1 0 -14.8 0zM1183 982.6a7.4 7.4 0 1 0 14.8 0a7.4 7.4 0 1 0 -14.8 0zM1184.3 982.6a7.4 7.4 0 1 0 14.8 0a7.4 7.4 0 1 0 -14.8 0zM1185.5 982.5a7.4 7.4 0 1 0 14.8 0a7.4 7.4 0 1 0 -14.8 0zM1186.8 982.4a7.4 7.4 0 1 0 14.8 0a7.4 7.4 0 1 0 -14.8 0zM1188 982.3a7.4 7.4 0 1 0 14.8 0a7.4 7.4 0 1 0 -14.8 0zM1189.3 982.1a7.4 7.4 0 1 0 14.8 0a7.4 7.4 0 1 0 -14.8 0zM1190.5 982a7.4 7.4 0 1 0 14.8 0a7.4 7.4 0 1 0 -14.8 0zM1191.7 981.8a7.4 7.4 0 1 0 14.8 0a7.4 7.4 0 1 0 -14.8 0zM1193 981.6a7.4 7.4 0 1 0 14.8 0a7.4 7.4 0 1 0 -14.8 0zM1194.2 981.5a7.4 7.4 0 1 0 14.8 0a7.4 7.4 0 1 0 -14.8 0zM1195.5 981.3a7.4 7.4 0 1 0 14.8 0a7.4 7.4 0 1 0 -14.8 0zM1196.7 981.2a7.4 7.4 0 1 0 14.8 0a7.4 7.4 0 1 0 -14.8 0zM1198 981a7.4 7.4 0 1 0 14.8 0a7.4 7.4 0 1 0 -14.8 0zM1199.2 980.9a7.4 7.4 0 1 0 14.8 0a7.4 7.4 0 1 0 -14.8 0zM1200.5 980.9a7.4 7.4 0 1 0 14.8 0a7.4 7.4 0 1 0 -14.8 0zM1201.7 980.8a7.4 7.4 0 1 0 14.8 0a7.4 7.4 0 1 0 -14.8 0zM1202.9 980.8a7.4 7.4 0 1 0 14.8 0a7.4 7.4 0 1 0 -14.8 0zM1204.2 980.9a7.4 7.4 0 1 0 14.8 0a7.4 7.4 0 1 0 -14.8 0zM1205.4 980.9a7.4 7.4 0 1 0 14.8 0a7.4 7.4 0 1 0 -14.8 0zM1206.7 981.1a7.4 7.4 0 1 0 14.8 0a7.4 7.4 0 1 0 -14.8 0zM1207.9 981.3a7.4 7.4 0 1 0 14.8 0a7.4 7.4 0 1 0 -14.8 0zM1209.2 981.5a7.4 7.4 0 1 0 14.8 0a7.4 7.4 0 1 0 -14.8 0zM1210.4 981.7a7.4 7.4 0 1 0 14.8 0a7.4 7.4 0 1 0 -14.8 0zM1211.7 982a7.4 7.4 0 1 0 14.8 0a7.4 7.4 0 1 0 -14.8 0zM1212.9 982.2a7.4 7.4 0 1 0 14.8 0a7.4 7.4 0 1 0 -14.8 0zM1214.1 982.5a7.4 7.4 0 1 0 14.8 0a7.4 7.4 0 1 0 -14.8 0zM1215.4 982.8a7.4 7.4 0 1 0 14.8 0a7.4 7.4 0 1 0 -14.8 0zM1216.6 983a7.4 7.4 0 1 0 14.8 0a7.4 7.4 0 1 0 -14.8 0zM1217.9 983.2a7.4 7.4 0 1 0 14.8 0a7.4 7.4 0 1 0 -14.8 0zM1219.1 983.4a7.4 7.4 0 1 0 14.8 0a7.4 7.4 0 1 0 -14.8 0zM1220.4 983.5a7.4 7.4 0 1 0 14.8 0a7.4 7.4 0 1 0 -14.8 0zM1221.6 983.5a7.4 7.4 0 1 0 14.8 0a7.4 7.4 0 1 0 -14.8 0zM1222.9 983.5a7.4 7.4 0 1 0 14.8 0a7.4 7.4 0 1 0 -14.8 0zM1224.1 983.3a7.4 7.4 0 1 0 14.8 0a7.4 7.4 0 1 0 -14.8 0zM1225.3 983.1a7.4 7.4 0 1 0 14.8 0a7.4 7.4 0 1 0 -14.8 0zM1226.6 982.8a7.4 7.4 0 1 0 14.8 0a7.4 7.4 0 1 0 -14.8 0zM1227.8 982.5a7.4 7.4 0 1 0 14.8 0a7.4 7.4 0 1 0 -14.8 0zM1229.1 982.1a7.4 7.4 0 1 0 14.8 0a7.4 7.4 0 1 0 -14.8 0zM1230.3 981.6a7.4 7.4 0 1 0 14.8 0a7.4 7.4 0 1 0 -14.8 0zM1231.6 981.2a7.4 7.4 0 1 0 14.8 0a7.4 7.4 0 1 0 -14.8 0zM1232.8 980.7a7.4 7.4 0 1 0 14.8 0a7.4 7.4 0 1 0 -14.8 0zM1234.1 980.3a7.4 7.4 0 1 0 14.8 0a7.4 7.4 0 1 0 -14.8 0zM1235.3 979.9a7.4 7.4 0 1 0 14.8 0a7.4 7.4 0 1 0 -14.8 0zM1236.6 979.6a7.4 7.4 0 1 0 14.8 0a7.4 7.4 0 1 0 -14.8 0zM1237.8 979.3a7.4 7.4 0 1 0 14.8 0a7.4 7.4 0 1 0 -14.8 0zM1239 979.2a7.4 7.4 0 1 0 14.8 0a7.4 7.4 0 1 0 -14.8 0zM1240.3 979.1a7.4 7.4 0 1 0 14.8 0a7.4 7.4 0 1 0 -14.8 0zM1241.5 979.2a7.4 7.4 0 1 0 14.8 0a7.4 7.4 0 1 0 -14.8 0zM1242.8 979.4a7.4 7.4 0 1 0 14.8 0a7.4 7.4 0 1 0 -14.8 0zM1244 979.8a7.4 7.4 0 1 0 14.8 0a7.4 7.4 0 1 0 -14.8 0zM1245.3 980.2a7.4 7.4 0 1 0 14.8 0a7.4 7.4 0 1 0 -14.8 0zM1246.5 980.7a7.4 7.4 0 1 0 14.8 0a7.4 7.4 0 1 0 -14.8 0zM1247.8 981.3a7.4 7.4 0 1 0 14.8 0a7.4 7.4 0 1 0 -14.8 0zM1249 981.9a7.4 7.4 0 1 0 14.8 0a7.4 7.4 0 1 0 -14.8 0zM1250.2 982.5a7.4 7.4 0 1 0 14.8 0a7.4 7.4 0 1 0 -14.8 0zM1251.5 983.1a7.4 7.4 0 1 0 14.8 0a7.4 7.4 0 1 0 -14.8 0zM1252.7 983.7a7.4 7.4 0 1 0 14.8 0a7.4 7.4 0 1 0 -14.8 0zM1254 984.2a7.4 7.4 0 1 0 14.8 0a7.4 7.4 0 1 0 -14.8 0zM1255.2 984.6a7.4 7.4 0 1 0 14.8 0a7.4 7.4 0 1 0 -14.8 0zM1256.5 984.9a7.4 7.4 0 1 0 14.8 0a7.4 7.4 0 1 0 -14.8 0zM1257.7 985.1a7.4 7.4 0 1 0 14.8 0a7.4 7.4 0 1 0 -14.8 0zM1259 985.1a7.4 7.4 0 1 0 14.8 0a7.4 7.4 0 1 0 -14.8 0zM1260.2 985a7.4 7.4 0 1 0 14.8 0a7.4 7.4 0 1 0 -14.8 0zM1261.4 984.7a7.4 7.4 0 1 0 14.8 0a7.4 7.4 0 1 0 -14.8 0zM1262.7 984.3a7.4 7.4 0 1 0 14.8 0a7.4 7.4 0 1 0 -14.8 0zM1263.9 983.8a7.4 7.4 0 1 0 14.8 0a7.4 7.4 0 1 0 -14.8 0zM1265.2 983.3a7.4 7.4 0 1 0 14.8 0a7.4 7.4 0 1 0 -14.8 0zM1266.4 982.6a7.4 7.4 0 1 0 14.8 0a7.4 7.4 0 1 0 -14.8 0zM1267.7 981.9a7.4 7.4 0 1 0 14.8 0a7.4 7.4 0 1 0 -14.8 0zM1268.9 981.2a7.4 7.4 0 1 0 14.8 0a7.4 7.4 0 1 0 -14.8 0zM1270.2 980.5a7.4 7.4 0 1 0 14.8 0a7.4 7.4 0 1 0 -14.8 0zM1271.4 979.9a7.4 7.4 0 1 0 14.8 0a7.4 7.4 0 1 0 -14.8 0zM1272.6 979.4a7.4 7.4 0 1 0 14.8 0a7.4 7.4 0 1 0 -14.8 0zM1273.9 979a7.4 7.4 0 1 0 14.8 0a7.4 7.4 0 1 0 -14.8 0zM1275.1 978.7a7.4 7.4 0 1 0 14.8 0a7.4 7.4 0 1 0 -14.8 0zM1276.4 978.5a7.4 7.4 0 1 0 14.8 0a7.4 7.4 0 1 0 -14.8 0zM1277.6 978.5a7.4 7.4 0 1 0 14.8 0a7.4 7.4 0 1 0 -14.8 0zM1278.9 978.6a7.4 7.4 0 1 0 14.8 0a7.4 7.4 0 1 0 -14.8 0zM1280.1 978.9a7.4 7.4 0 1 0 14.8 0a7.4 7.4 0 1 0 -14.8 0zM1281.4 979.2a7.4 7.4 0 1 0 14.8 0a7.4 7.4 0 1 0 -14.8 0zM1282.6 979.7a7.4 7.4 0 1 0 14.8 0a7.4 7.4 0 1 0 -14.8 0zM1283.9 980.3a7.4 7.4 0 1 0 14.8 0a7.4 7.4 0 1 0 -14.8 0zM1285.1 980.9a7.4 7.4 0 1 0 14.8 0a7.4 7.4 0 1 0 -14.8 0zM1286.3 981.5a7.4 7.4 0 1 0 14.8 0a7.4 7.4 0 1 0 -14.8 0zM1287.6 982.2a7.4 7.4 0 1 0 14.8 0a7.4 7.4 0 1 0 -14.8 0zM1288.8 982.8a7.4 7.4 0 1 0 14.8 0a7.4 7.4 0 1 0 -14.8 0zM1290.1 983.3a7.4 7.4 0 1 0 14.8 0a7.4 7.4 0 1 0 -14.8 0zM1291.3 983.8a7.4 7.4 0 1 0 14.8 0a7.4 7.4 0 1 0 -14.8 0zM1292.6 984.1a7.4 7.4 0 1 0 14.8 0a7.4 7.4 0 1 0 -14.8 0zM1293.8 984.4a7.4 7.4 0 1 0 14.8 0a7.4 7.4 0 1 0 -14.8 0zM1295.1 984.5a7.4 7.4 0 1 0 14.8 0a7.4 7.4 0 1 0 -14.8 0zM1296.3 984.5a7.4 7.4 0 1 0 14.8 0a7.4 7.4 0 1 0 -14.8 0zM1297.5 984.4a7.4 7.4 0 1 0 14.8 0a7.4 7.4 0 1 0 -14.8 0zM1298.8 984.2a7.4 7.4 0 1 0 14.8 0a7.4 7.4 0 1 0 -14.8 0zM1300 983.9a7.4 7.4 0 1 0 14.8 0a7.4 7.4 0 1 0 -14.8 0zM1301.3 983.5a7.4 7.4 0 1 0 14.8 0a7.4 7.4 0 1 0 -14.8 0zM1302.5 983.1a7.4 7.4 0 1 0 14.8 0a7.4 7.4 0 1 0 -14.8 0zM1303.8 982.6a7.4 7.4 0 1 0 14.8 0a7.4 7.4 0 1 0 -14.8 0zM1305 982.1a7.4 7.4 0 1 0 14.8 0a7.4 7.4 0 1 0 -14.8 0zM1306.3 981.7a7.4 7.4 0 1 0 14.8 0a7.4 7.4 0 1 0 -14.8 0zM1307.5 981.2a7.4 7.4 0 1 0 14.8 0a7.4 7.4 0 1 0 -14.8 0zM1308.7 980.8a7.4 7.4 0 1 0 14.8 0a7.4 7.4 0 1 0 -14.8 0zM1310 980.5a7.4 7.4 0 1 0 14.8 0a7.4 7.4 0 1 0 -14.8 0zM1311.2 980.3a7.4 7.4 0 1 0 14.8 0a7.4 7.4 0 1 0 -14.8 0z" fill="#ff0000"/>
<path d="M794.6 967.3L795.1 967.5L795.6 967.7L796.2 967.9L796.7 968.2L797.2 968.5L797.7 968.9L798.3 969.3L798.8 969.7L799.3 970.1L799.8 970.5L800.4 970.9L800.9 971.3L801.4 971.7L801.9 972.1L802.5 972.4L803 972.7L803.5 973L804 973.3L804.6 973.5L805.1 973.8L805.6 973.9L806.1 974.1L806.7 974.3L807.2 974.4L807.7 974.5L808.2 974.6L808.8 974.8L809.3 974.9L809.8 975L810.3 975.1L810.8 975.3L811.4 975.5L811.9 975.6L812.4 975.9L812.9 976.1L813.5 976.4L814 976.7L814.5 977L815 977.3L815.6 977.7L816.1 978.1L816.6 978.4L817.1 978.8L817.7 979.3L818.2 979.7L818.7 980.1L819.2 980.5L819.8 980.9L820.3 981.3L820.8 981.6L821.3 982L821.9 982.3L822.4 982.5L822.9 982.8L823.4 983L823.9 983.1L824.5 983.2L825 983.3L825.5 983.3L826 983.3L826.6 983.2L827.1 983.1L827.6 983L828.1 982.8L828.7 982.6L829.2 982.3L829.7 982L830.2 981.7L830.8 981.4L831.3 981.1L831.8 980.7L832.3 980.3L832.9 980L833.4 979.6L833.9 979.2L834.4 978.9L835 978.6L835.5 978.3L836 978L836.5 977.7L837.1 977.5L837.6 977.3L838.1 977.2L838.6 977L839.1 977L839.7 976.9L840.2 976.9L840.7 976.9L841.2 977L841.8 977.1L842.3 977.2L842.8 977.4L843.3 977.6L843.9 977.8L844.4 978L844.9 978.3L845.4 978.5L846 978.8L846.5 979.1L847 979.3L847.5 979.6L848.1 979.9L848.6 980.1L849.1 980.4L849.6 980.6L850.2 980.8L850.7 981L851.2 981.2L851.7 981.3L852.3 981.5L852.8 981.6L853.3 981.6L853.8 981.7L854.3 981.7L854.9 981.7L855.4 981.7L855.9 981.6L856.4 981.6L857 981.5L857.5 981.4L858 981.2L858.5 981.1L859.1 980.9L859.6 980.8L860.1 980.6L860.6 980.5L861.2 980.3L861.7 980.1L862.2 980L862.7 979.8L863.3 979.6L863.8 979.5L864.3 979.4L864.8 979.2L865.4 979.1L865.9 979L866.4 978.9L866.9 978.9L867.4 978.8L868 978.8L868.5 978.7L869 978.7L869.5 978.7L870.1 978.7L870.6 978.8L871.1 978.8L871.6 978.8L872.2 978.9L872.7 979L873.2 979L873.7 979.1L874.3 979.2L874.8 979.3L875.3 979.4L875.8 979.5L876.4 979.6L876.9 979.7L877.4 979.8L877.9 979.9L878.5 980L879 980.1L879.5 980.2L880 980.2L880.6 980.3L881.1 980.4L881.6 980.5L882.1 980.5L882.6 980.6L883.2 980.6L883.7 980.6L884.2 980.7L884.7 980.7L885.3 980.7L885.8 980.7L886.3 980.7L886.8 980.6L887.4 980.6L887.9 980.6L888.4 980.5L888.9 980.4L889.5 980.4L890 980.3L890.5 980.2L891 980.1L891.6 980L892.1 979.9L892.6 979.7L893.1 979.6L893.7 979.5L894.2 979.4L894.7 979.2L895.2 979.1L895.8 979L896.3 978.9L896.8 978.8L897.3 978.7L897.8 978.6L898.4 978.5L898.9 978.4L899.4 978.4L899.9 978.4L900.5 978.3L901 978.3L901.5 978.4L902 978.4L902.6 978.5L903.1 978.6L903.6 978.7L904.1 978.8L904.7 978.9L905.2 979.1L905.7 979.3L906.2 979.5L906.8 979.7L907.3 979.9L907.8 980.1L908.3 980.3L908.9 980.5L909.4 980.8L909.9 981L910.4 981.2L911 981.4L911.5 981.6L912 981.7L912.5 981.9L913 982L913.6 982.1L914.1 982.2L914.6 982.2L915.1 982.2L915.7 982.2L916.2 982.2L916.7 982.1L917.2 982L917.8 981.8L918.3 981.7L918.8 981.5L919.3 981.2L919.9 981L920.4 980.7L920.9 980.4L921.4 980.1L922 979.8L922.5 979.5L923 979.1L923.5 978.8L924.1 978.5L924.6 978.2L925.1 977.9L925.6 977.6L926.1 977.3L926.7 977.1L927.2 976.9L927.7 976.8L928.2 976.6L928.8 976.6L929.3 976.5L929.8 976.5L930.3 976.5L930.9 976.6L931.4 976.7L931.9 976.9L932.4 977.1L933 977.3L933.5 977.6L934 977.9L934.5 978.2L935.1 978.6L935.6 979L936.1 979.3L936.6 979.7L937.2 980.1L937.7 980.5L938.2 980.9L938.7 981.3L939.3 981.6L939.8 982L940.3 982.3L940.8 982.5L941.3 982.8L941.9 983L942.4 983.2L942.9 983.3L943.4 983.4L944 983.4L944.5 983.4L945 983.3L945.5 983.2L946.1 983.1L946.6 982.9L947.1 982.7L947.6 982.4L948.2 982.1L948.7 981.8L949.2 981.5L949.7 981.1L950.3 980.7L950.8 980.4L951.3 980L951.8 979.6L952.4 979.2L952.9 978.8L953.4 978.5L953.9 978.2L954.5 977.9L955 977.6L955.5 977.3L956 977.1L956.5 976.9L957.1 976.8L957.6 976.7L958.1 976.7L958.6 976.6L959.2 976.7L959.7 976.7L960.2 976.8L960.7 977L961.3 977.1L961.8 977.3L962.3 977.6L962.8 977.8L963.4 978.1L963.9 978.4L964.4 978.7L964.9 979L965.5 979.3L966 979.6L966.5 979.9L967 980.2L967.6 980.5L968.1 980.7L968.6 981L969.1 981.2L969.6 981.4L970.2 981.6L970.7 981.7L971.2 981.9L971.7 981.9L972.3 982L972.8 982L973.3 982L973.8 982L974.4 981.9L974.9 981.9L975.4 981.8L975.9 981.6L976.5 981.5L977 981.3L977.5 981.2L978 981L978.6 980.8L979.1 980.6L979.6 980.4L980.1 980.2L980.7 980L981.2 979.8L981.7 979.6L982.2 979.4L982.8 979.3L983.3 979.1L983.8 979L984.3 978.9L984.8 978.7L985.4 978.7L985.9 978.6L986.4 978.5L986.9 978.5L987.5 978.5L988 978.5L988.5 978.5L989 978.5L989.6 978.6L990.1 978.7L990.6 978.7L991.1 978.8L991.7 978.9L992.2 979L992.7 979.1L993.2 979.2L993.8 979.3L994.3 979.3L994.8 979.4L995.3 979.5L995.9 979.5L996.4 979.5L996.9 979.6L997.4 979.5L998 979.5L998.5 979.5L999 979.4L999.5 979.3L1000 979.2L1000.6 979.1L1001.1 979L1001.6 978.8L1002.1 978.7L1002.7 978.5L1003.2 978.3L1003.7 978.1L1004.2 977.9L1004.8 977.6L1005.3 977.3L1005.8 976.9L1006.3 976.5L1006.9 976L1007.4 975.5L1007.9 974.9L1008.4 974.3L1009 973.6L1009.5 972.9L1010 972.2L1010.5 971.4L1011.1 970.6L1011.6 969.7L1012.1 968.9L1012.6 967.9L1013.1 966.7L1013.7 965.4L1014.2 964L1014.7 962.4L1015.2 960.7L1015.8 958.8L1016.3 956.9L1016.8 954.9L1017.3 952.7L1017.9 950.6L1018.4 948.3L1018.9 946L1019.4 943.5L1020 940.7L1020.5 937.7L1021 934.4L1021.5 930.9L1022.1 927.3L1022.6 923.6L1023.1 919.8L1023.6 916L1024.2 912.3L1024.7 908.6L1025.2 904.9L1025.7 901.3L1026.3 897.7L1026.8 894L1027.3 890.3L1027.8 886.6L1028.3 882.8L1028.9 878.9L1029.4 875L1029.9 871L1030.4 866.9L1031 862.6L1031.5 858.3L1032 853.8L1032.5 849.2L1033.1 844.5L1033.6 839.8L1034.1 834.9L1034.6 829.8L1035.2 824.6L1035.7 819.2L1036.2 813.6L1036.7 807.8L1037.3 801.6L1037.8 795.2L1038.3 788.5L1038.8 780.5L1039.4 770.9L1039.9 761.1L1040.4 752.2L1040.9 745.5L1041.5 740.2L1042 735L1042.5 730.7L1043 727.6L1043.5 726.5L1044.1 726.9L1044.6 728.1L1045.1 729.7L1045.6 731.6L1046.2 733.5L1046.7 735.7L1047.2 738.3L1047.7 741.3L1048.3 744.6L1048.8 748L1049.3 751.5L1049.8 755.1L1050.4 759L1050.9 763.2L1051.4 767.5L1051.9 771.9L1052.5 776.5L1053 781.3L1053.5 786.4L1054 791.9L1054.6 797.5L1055.1 803.3L1055.6 809.1L1056.1 815L1056.7 820.9L1057.2 826.6L1057.7 832.2L1058.2 837.5L1058.7 842.6L1059.3 847.3L1059.8 851.5L1060.3 855.5L1060.8 859.3L1061.4 863L1061.9 866.6L1062.4 870L1062.9 873.3L1063.5 876.6L1064 879.8L1064.5 882.8L1065 885.9L1065.6 888.8L1066.1 891.7L1066.6 894.6L1067.1 897.4L1067.7 900.2L1068.2 903.1L1068.7 905.9L1069.2 908.7L1069.8 911.5L1070.3 914.4L1070.8 917.2L1071.3 920.1L1071.8 922.9L1072.4 925.7L1072.9 928.4L1073.4 931.1L1073.9 933.7L1074.5 936.1L1075 938.5L1075.5 940.7L1076 942.7L1076.6 944.6L1077.1 946.3L1077.6 948L1078.1 949.7L1078.7 951.3L1079.2 953L1079.7 954.5L1080.2 956.1L1080.8 957.6L1081.3 959.1L1081.8 960.5L1082.3 961.8L1082.9 963.1L1083.4 964.4L1083.9 965.5L1084.4 966.6L1085 967.6L1085.5 968.4L1086 969.3L1086.5 970L1087 970.8L1087.6 971.6L1088.1 972.3L1088.6 972.9L1089.1 973.6L1089.7 974.2L1090.2 974.7L1090.7 975.3L1091.2 975.7L1091.8 976.2L1092.3 976.5L1092.8 976.9L1093.3 977.2L1093.9 977.4L1094.4 977.6L1094.9 977.8L1095.4 977.9L1096 978L1096.5 978.1L1097 978.1L1097.5 978.1L1098.1 978.1L1098.6 978.2L1099.1 978.2L1099.6 978.1L1100.2 978.1L1100.7 978.1L1101.2 978.1L1101.7 978.1L1102.2 978.1L1102.8 978.1L1103.3 978.1L1103.8 978.1L1104.3 978.1L1104.9 978.1L1105.4 978.2L1105.9 978.2L1106.4 978.2L1107 978.3L1107.5 978.3L1108 978.4L1108.5 978.4L1109.1 978.5L1109.6 978.6L1110.1 978.7L1110.6 978.8L1111.2 979L1111.7 979.1L1112.2 979.2L1112.7 979.4L1113.3 979.5L1113.8 979.6L1114.3 979.8L1114.8 979.9L1115.3 980L1115.9 980.1L1116.4 980.2L1116.9 980.3L1117.4 980.4L1118 980.5L1118.5 980.6L1119 980.6L1119.5 980.7L1120.1 980.7L1120.6 980.7L1121.1 980.7L1121.6 980.7L1122.2 980.7L1122.7 980.7L1123.2 980.7L1123.7 980.6L1124.3 980.6L1124.8 980.5L1125.3 980.4L1125.8 980.4L1126.4 980.3L1126.9 980.2L1127.4 980.1L1127.9 980L1128.5 979.9L1129 979.8L1129.5 979.7L1130 979.6L1130.5 979.6L1131.1 979.5L1131.6 979.4L1132.1 979.3L1132.6 979.2L1133.2 979.1L1133.7 979L1134.2 979L1134.7 978.9L1135.3 978.9L1135.8 978.8L1136.3 978.8L1136.8 978.8L1137.4 978.8L1137.9 978.8L1138.4 978.8L1138.9 978.8L1139.5 978.9L1140 978.9L1140.5 979L1141 979.1L1141.6 979.2L1142.1 979.3L1142.6 979.4L1143.1 979.6L1143.7 979.7L1144.2 979.8L1144.7 980L1145.2 980.2L1145.7 980.3L1146.3 980.5L1146.8 980.6L1147.3 980.8L1147.8 980.9L1148.4 981.1L1148.9 981.2L1149.4 981.3L1149.9 981.4L1150.5 981.5L1151 981.5L1151.5 981.6L1152 981.6L1152.6 981.6L1153.1 981.6L1153.6 981.5L1154.1 981.4L1154.7 981.3L1155.2 981.2L1155.7 981.1L1156.2 980.9L1156.8 980.7L1157.3 980.5L1157.8 980.3L1158.3 980L1158.8 979.8L1159.4 979.5L1159.9 979.3L1160.4 979L1160.9 978.7L1161.5 978.5L1162 978.2L1162.5 978L1163 977.8L1163.6 977.6L1164.1 977.4L1164.6 977.3L1165.1 977.2L1165.7 977.1L1166.2 977L1166.7 977L1167.2 977L1167.8 977.1L1168.3 977.2L1168.8 977.3L1169.3 977.5L1169.9 977.7L1170.4 977.9L1170.9 978.1L1171.4 978.4L1172 978.7L1172.5 979L1173 979.4L1173.5 979.7L1174 980.1L1174.6 980.5L1175.1 980.8L1175.6 981.2L1176.1 981.5L1176.7 981.8L1177.2 982.1L1177.7 982.4L1178.2 982.6L1178.8 982.8L1179.3 983L1179.8 983.1L1180.3 983.2L1180.9 983.3L1181.4 983.3L1181.9 983.2L1182.4 983.2L1183 983L1183.5 982.9L1184 982.7L1184.5 982.4L1185.1 982.1L1185.6 981.8L1186.1 981.5L1186.6 981.1L1187.2 980.8L1187.7 980.4L1188.2 980L1188.7 979.6L1189.2 979.2L1189.8 978.8L1190.3 978.4L1190.8 978.1L1191.3 977.7L1191.9 977.4L1192.4 977.1L1192.9 976.9L1193.4 976.7L1194 976.5L1194.5 976.4L1195 976.3L1195.5 976.3L1196.1 976.3L1196.6 976.3L1197.1 976.4L1197.6 976.6L1198.2 976.8L1198.7 977L1199.2 977.2L1199.7 977.5L1200.3 977.8L1200.8 978.1L1201.3 978.5L1201.8 978.8L1202.3 979.2L1202.9 979.6L1203.4 979.9L1203.9 980.3L1204.4 980.6L1205 980.9L1205.5 981.3L1206 981.5L1206.5 981.8L1207.1 982L1207.6 982.2L1208.1 982.4L1208.6 982.5L1209.2 982.6L1209.7 982.6L1210.2 982.7L1210.7 982.6L1211.3 982.6L1211.8 982.5L1212.3 982.4L1212.8 982.2L1213.4 982L1213.9 981.8L1214.4 981.6L1214.9 981.4L1215.5 981.1L1216 980.9L1216.5 980.6L1217 980.3L1217.5 980L1218.1 979.8L1218.6 979.5L1219.1 979.3L1219.6 979.1L1220.2 978.8L1220.7 978.6L1221.2 978.5L1221.7 978.3L1222.3 978.2L1222.8 978.1L1223.3 978L1223.8 978L1224.4 977.9L1224.9 977.9L1225.4 978L1225.9 978L1226.5 978.1L1227 978.2L1227.5 978.3L1228 978.4L1228.6 978.5L1229.1 978.6L1229.6 978.8L1230.1 979L1230.7 979.1L1231.2 979.3L1231.7 979.5L1232.2 979.6L1232.7 979.8L1233.3 979.9L1233.8 980.1L1234.3 980.2L1234.8 980.3L1235.4 980.4L1235.9 980.5L1236.4 980.6L1236.9 980.7L1237.5 980.8L1238 980.8L1238.5 980.8L1239 980.9L1239.6 980.9L1240.1 980.9L1240.6 980.8L1241.1 980.8L1241.7 980.8L1242.2 980.7L1242.7 980.6L1243.2 980.6L1243.8 980.5L1244.3 980.4L1244.8 980.3L1245.3 980.2L1245.9 980.1L1246.4 980L1246.9 979.9L1247.4 979.8L1247.9 979.7L1248.5 979.6L1249 979.6L1249.5 979.5L1250 979.4L1250.6 979.3L1251.1 979.2L1251.6 979.2L1252.1 979.1L1252.7 979L1253.2 979L1253.7 979L1254.2 978.9L1254.8 978.9L1255.3 978.9L1255.8 978.9L1256.3 978.9L1256.9 978.9L1257.4 979L1257.9 979L1258.4 979.1L1259 979.1L1259.5 979.2L1260 979.3L1260.5 979.4L1261 979.5L1261.6 979.6L1262.1 979.7L1262.6 979.8L1263.1 980L1263.7 980.1L1264.2 980.2L1264.7 980.4L1265.2 980.5L1265.8 980.6L1266.3 980.7L1266.8 980.8L1267.3 980.9L1267.9 981L1268.4 981.1L1268.9 981.2L1269.4 981.2L1270 981.3L1270.5 981.3L1271 981.3L1271.5 981.3L1272.1 981.2L1272.6 981.2L1273.1 981.1L1273.6 981L1274.2 980.9L1274.7 980.7L1275.2 980.6L1275.7 980.4L1276.2 980.2L1276.8 980L1277.3 979.8L1277.8 979.6L1278.3 979.3L1278.9 979.1L1279.4 978.9L1279.9 978.7L1280.4 978.4L1281 978.2L1281.5 978L1282 977.9L1282.5 977.7L1283.1 977.6L1283.6 977.5L1284.1 977.4L1284.6 977.3L1285.2 977.3L1285.7 977.3L1286.2 977.4L1286.7 977.4L1287.3 977.6L1287.8 977.7L1288.3 977.9L1288.8 978.1L1289.4 978.3L1289.9 978.5L1290.4 978.8L1290.9 979.1L1291.4 979.4L1292 979.7L1292.5 980.1L1293 980.4L1293.5 980.7L1294.1 981.1L1294.6 981.4L1295.1 981.7L1295.6 982L1296.2 982.2L1296.7 982.5L1297.2 982.7L1297.7 982.8L1298.3 983L1298.8 983.1L1299.3 983.1L1299.8 983.1L1300.4 983.1L1300.9 983L1301.4 982.9L1301.9 982.8L1302.5 982.6L1303 982.3L1303.5 982.1L1304 981.8L1304.5 981.5L1305.1 981.1L1305.6 980.7L1306.1 980.4L1306.6 980L1307.2 979.6L1307.7 979.2L1308.2 978.8L1308.7 978.4L1309.3 978.1L1309.8 977.7L1310.3 977.4L1310.8 977.1L1311.4 976.9L1311.9 976.7L1312.4 976.5L1312.9 976.3L1313.5 976.3L1314 976.2L1314.5 976.2L1315 976.3L1315.6 976.4L1316.1 976.5L1316.6 976.7L1317.1 976.9L1317.7 977.1L1318.2 977.4L1318.7 977.7L1318.7 982L794.6 982z" fill="#e27cf6" fill-opacity="0.86"/>
<path d="M788.3 967.3a6.3 6.3 0 1 0 12.6 0a6.3 6.3 0 1 0 -12.6 0zM789.5 967.7a6.3 6.3 0 1 0 12.6 0a6.3 6.3 0 1 0 -12.6 0zM790.8 968.4a6.3 6.3 0 1 0 12.6 0a6.3 6.3 0 1 0 -12.6 0zM792 969.3a6.3 6.3 0 1 0 12.6 0a6.3 6.3 0 1 0 -12.6 0zM793.3 970.3a6.3 6.3 0 1 0 12.6 0a6.3 6.3 0 1 0 -12.6 0zM794.5 971.3a6.3 6.3 0 1 0 12.6 0a6.3 6.3 0 1 0 -12.6 0zM795.8 972.2a6.3 6.3 0 1 0 12.6 0a6.3 6.3 0 1 0 -12.6 0zM797 972.9a6.3 6.3 0 1 0 12.6 0a6.3 6.3 0 1 0 -12.6 0zM798.3 973.5a6.3 6.3 0 1 0 12.6 0a6.3 6.3 0 1 0 -12.6 0zM799.5 974a6.3 6.3 0 1 0 12.6 0a6.3 6.3 0 1 0 -12.6 0zM800.7 974.4a6.3 6.3 0 1 0 12.6 0a6.3 6.3 0 1 0 -12.6 0zM802 974.6a6.3 6.3 0 1 0 12.6 0a6.3 6.3 0 1 0 -12.6 0zM803.2 974.9a6.3 6.3 0 1 0 12.6 0a6.3 6.3 0 1 0 -12.6 0zM804.5 975.3a6.3 6.3 0 1 0 12.6 0a6.3 6.3 0 1 0 -12.6 0zM805.7 975.7a6.3 6.3 0 1 0 12.6 0a6.3 6.3 0 1 0 -12.6 0zM807 976.3a6.3 6.3 0 1 0 12.6 0a6.3 6.3 0 1 0 -12.6 0zM808.2 977a6.3 6.3 0 1 0 12.6 0a6.3 6.3 0 1 0 -12.6 0zM809.5 977.8a6.3 6.3 0 1 0 12.6 0a6.3 6.3 0 1 0 -12.6 0zM810.7 978.7a6.3 6.3 0 1 0 12.6 0a6.3 6.3 0 1 0 -12.6 0zM812 979.7a6.3 6.3 0 1 0 12.6 0a6.3 6.3 0 1 0 -12.6 0zM813.2 980.7a6.3 6.3 0 1 0 12.6 0a6.3 6.3 0 1 0 -12.6 0zM814.4 981.6a6.3 6.3 0 1 0 12.6 0a6.3 6.3 0 1 0 -12.6 0zM815.7 982.3a6.3 6.3 0 1 0 12.6 0a6.3 6.3 0 1 0 -12.6 0zM816.9 982.9a6.3 6.3 0 1 0 12.6 0a6.3 6.3 0 1 0 -12.6 0zM818.2 983.2a6.3 6.3 0 1 0 12.6 0a6.3 6.3 0 1 0 -12.6 0zM819.4 983.3a6.3 6.3 0 1 0 12.6 0a6.3 6.3 0 1 0 -12.6 0zM820.7 983.2a6.3 6.3 0 1 0 12.6 0a6.3 6.3 0 1 0 -12.6 0zM821.9 982.8a6.3 6.3 0 1 0 12.6 0a6.3 6.3 0 1 0 -12.6 0zM823.2 982.2a6.3 6.3 0 1 0 12.6 0a6.3 6.3 0 1 0 -12.6 0zM824.4 981.4a6.3 6.3 0 1 0 12.6 0a6.3 6.3 0 1 0 -12.6 0zM825.6 980.6a6.3 6.3 0 1 0 12.6 0a6.3 6.3 0 1 0 -12.6 0zM826.9 979.7a6.3 6.3 0 1 0 12.6 0a6.3 6.3 0 1 0 -12.6 0zM828.1 978.9a6.3 6.3 0 1 0 12.6 0a6.3 6.3 0 1 0 -12.6 0zM829.4 978.1a6.3 6.3 0 1 0 12.6 0a6.3 6.3 0 1 0 -12.6 0zM830.6 977.6a6.3 6.3 0 1 0 12.6 0a6.3 6.3 0 1 0 -12.6 0zM831.9 977.1a6.3 6.3 0 1 0 12.6 0a6.3 6.3 0 1 0 -12.6 0zM833.1 976.9a6.3 6.3 0 1 0 12.6 0a6.3 6.3 0 1 0 -12.6 0zM834.4 976.9a6.3 6.3 0 1 0 12.6 0a6.3 6.3 0 1 0 -12.6 0zM835.6 977.1a6.3 6.3 0 1 0 12.6 0a6.3 6.3 0 1 0 -12.6 0zM836.8 977.5a6.3 6.3 0 1 0 12.6 0a6.3 6.3 0 1 0 -12.6 0zM838.1 978a6.3 6.3 0 1 0 12.6 0a6.3 6.3 0 1 0 -12.6 0zM839.3 978.6a6.3 6.3 0 1 0 12.6 0a6.3 6.3 0 1 0 -12.6 0zM840.6 979.3a6.3 6.3 0 1 0 12.6 0a6.3 6.3 0 1 0 -12.6 0zM841.8 979.9a6.3 6.3 0 1 0 12.6 0a6.3 6.3 0 1 0 -12.6 0zM843.1 980.5a6.3 6.3 0 1 0 12.6 0a6.3 6.3 0 1 0 -12.6 0zM844.3 981a6.3 6.3 0 1 0 12.6 0a6.3 6.3 0 1 0 -12.6 0zM845.6 981.4a6.3 6.3 0 1 0 12.6 0a6.3 6.3 0 1 0 -12.6 0zM846.8 981.6a6.3 6.3 0 1 0 12.6 0a6.3 6.3 0 1 0 -12.6 0zM848 981.7a6.3 6.3 0 1 0 12.6 0a6.3 6.3 0 1 0 -12.6 0zM849.3 981.7a6.3 6.3 0 1 0 12.6 0a6.3 6.3 0 1 0 -12.6 0zM850.5 981.5a6.3 6.3 0 1 0 12.6 0a6.3 6.3 0 1 0 -12.6 0zM851.8 981.2a6.3 6.3 0 1 0 12.6 0a6.3 6.3 0 1 0 -12.6 0zM853 980.9a6.3 6.3 0 1 0 12.6 0a6.3 6.3 0 1 0 -12.6 0zM854.3 980.5a6.3 6.3 0 1 0 12.6 0a6.3 6.3 0 1 0 -12.6 0zM855.5 980.1a6.3 6.3 0 1 0 12.6 0a6.3 6.3 0 1 0 -12.6 0zM856.8 979.7a6.3 6.3 0 1 0 12.6 0a6.3 6.3 0 1 0 -12.6 0zM858 979.4a6.3 6.3 0 1 0 12.6 0a6.3 6.3 0 1 0 -12.6 0zM859.3 979.1a6.3 6.3 0 1 0 12.6 0a6.3 6.3 0 1 0 -12.6 0zM860.5 978.9a6.3 6.3 0 1 0 12.6 0a6.3 6.3 0 1 0 -12.6 0zM861.7 978.8a6.3 6.3 0 1 0 12.6 0a6.3 6.3 0 1 0 -12.6 0zM863 978.7a6.3 6.3 0 1 0 12.6 0a6.3 6.3 0 1 0 -12.6 0zM864.2 978.7a6.3 6.3 0 1 0 12.6 0a6.3 6.3 0 1 0 -12.6 0zM865.5 978.8a6.3 6.3 0 1 0 12.6 0a6.3 6.3 0 1 0 -12.6 0zM866.7 979a6.3 6.3 0 1 0 12.6 0a6.3 6.3 0 1 0 -12.6 0zM868 979.2a6.3 6.3 0 1 0 12.6 0a6.3 6.3 0 1 0 -12.6 0zM869.2 979.4a6.3 6.3 0 1 0 12.6 0a6.3 6.3 0 1 0 -12.6 0zM870.5 979.7a6.3 6.3 0 1 0 12.6 0a6.3 6.3 0 1 0 -12.6 0zM871.7 979.9a6.3 6.3 0 1 0 12.6 0a6.3 6.3 0 1 0 -12.6 0zM872.9 980.1a6.3 6.3 0 1 0 12.6 0a6.3 6.3 0 1 0 -12.6 0zM874.2 980.3a6.3 6.3 0 1 0 12.6 0a6.3 6.3 0 1 0 -12.6 0zM875.4 980.5a6.3 6.3 0 1 0 12.6 0a6.3 6.3 0 1 0 -12.6 0zM876.7 980.6a6.3 6.3 0 1 0 12.6 0a6.3 6.3 0 1 0 -12.6 0zM877.9 980.7a6.3 6.3 0 1 0 12.6 0a6.3 6.3 0 1 0 -12.6 0zM879.2 980.7a6.3 6.3 0 1 0 12.6 0a6.3 6.3 0 1 0 -12.6 0zM880.4 980.7a6.3 6.3 0 1 0 12.6 0a6.3 6.3 0 1 0 -12.6 0zM881.7 980.6a6.3 6.3 0 1 0 12.6 0a6.3 6.3 0 1 0 -12.6 0zM882.9 980.4a6.3 6.3 0 1 0 12.6 0a6.3 6.3 0 1 0 -12.6 0zM884.1 980.2a6.3 6.3 0 1 0 12.6 0a6.3 6.3 0 1 0 -12.6 0zM885.4 979.9a6.3 6.3 0 1 0 12.6 0a6.3 6.3 0 1 0 -12.6 0zM886.6 979.7a6.3 6.3 0 1 0 12.6 0a6.3 6.3 0 1 0 -12.6 0zM887.9 979.4a6.3 6.3 0 1 0 12.6 0a6.3 6.3 0 1 0 -12.6 0zM889.1 979.1a6.3 6.3 0 1 0 12.6 0a6.3 6.3 0 1 0 -12.6 0zM890.4 978.8a6.3 6.3 0 1 0 12.6 0a6.3 6.3 0 1 0 -12.6 0zM891.6 978.6a6.3 6.3 0 1 0 12.6 0a6.3 6.3 0 1 0 -12.6 0zM892.9 978.4a6.3 6.3 0 1 0 12.6 0a6.3 6.3 0 1 0 -12.6 0zM894.1 978.3a6.3 6.3 0 1 0 12.6 0a6.3 6.3 0 1 0 -12.6 0zM895.3 978.4a6.3 6.3 0 1 0 12.6 0a6.3 6.3 0 1 0 -12.6 0zM896.6 978.5a6.3 6.3 0 1 0 12.6 0a6.3 6.3 0 1 0 -12.6 0zM897.8 978.8a6.3 6.3 0 1 0 12.6 0a6.3 6.3 0 1 0 -12.6 0zM899.1 979.2a6.3 6.3 0 1 0 12.6 0a6.3 6.3 0 1 0 -12.6 0zM900.3 979.6a6.3 6.3 0 1 0 12.6 0a6.3 6.3 0 1 0 -12.6 0zM901.6 980.1a6.3 6.3 0 1 0 12.6 0a6.3 6.3 0 1 0 -12.6 0zM902.8 980.6a6.3 6.3 0 1 0 12.6 0a6.3 6.3 0 1 0 -12.6 0zM904.1 981.2a6.3 6.3 0 1 0 12.6 0a6.3 6.3 0 1 0 -12.6 0zM905.3 981.6a6.3 6.3 0 1 0 12.6 0a6.3 6.3 0 1 0 -12.6 0zM906.6 982a6.3 6.3 0 1 0 12.6 0a6.3 6.3 0 1 0 -12.6 0zM907.8 982.2a6.3 6.3 0 1 0 12.6 0a6.3 6.3 0 1 0 -12.6 0zM909 982.2a6.3 6.3 0 1 0 12.6 0a6.3 6.3 0 1 0 -12.6 0zM910.3 982.1a6.3 6.3 0 1 0 12.6 0a6.3 6.3 0 1 0 -12.6 0zM911.5 981.8a6.3 6.3 0 1 0 12.6 0a6.3 6.3 0 1 0 -12.6 0zM912.8 981.3a6.3 6.3 0 1 0 12.6 0a6.3 6.3 0 1 0 -12.6 0zM914 980.7a6.3 6.3 0 1 0 12.6 0a6.3 6.3 0 1 0 -12.6 0zM915.3 980a6.3 6.3 0 1 0 12.6 0a6.3 6.3 0 1 0 -12.6 0zM916.5 979.2a6.3 6.3 0 1 0 12.6 0a6.3 6.3 0 1 0 -12.6 0zM917.8 978.5a6.3 6.3 0 1 0 12.6 0a6.3 6.3 0 1 0 -12.6 0zM919 977.8a6.3 6.3 0 1 0 12.6 0a6.3 6.3 0 1 0 -12.6 0zM920.2 977.2a6.3 6.3 0 1 0 12.6 0a6.3 6.3 0 1 0 -12.6 0zM921.5 976.7a6.3 6.3 0 1 0 12.6 0a6.3 6.3 0 1 0 -12.6 0zM922.7 976.5a6.3 6.3 0 1 0 12.6 0a6.3 6.3 0 1 0 -12.6 0zM924 976.5a6.3 6.3 0 1 0 12.6 0a6.3 6.3 0 1 0 -12.6 0zM925.2 976.8a6.3 6.3 0 1 0 12.6 0a6.3 6.3 0 1 0 -12.6 0zM926.5 977.2a6.3 6.3 0 1 0 12.6 0a6.3 6.3 0 1 0 -12.6 0zM927.7 977.9a6.3 6.3 0 1 0 12.6 0a6.3 6.3 0 1 0 -12.6 0zM929 978.7a6.3 6.3 0 1 0 12.6 0a6.3 6.3 0 1 0 -12.6 0zM930.2 979.6a6.3 6.3 0 1 0 12.6 0a6.3 6.3 0 1 0 -12.6 0zM931.4 980.6a6.3 6.3 0 1 0 12.6 0a6.3 6.3 0 1 0 -12.6 0zM932.7 981.5a6.3 6.3 0 1 0 12.6 0a6.3 6.3 0 1 0 -12.6 0zM933.9 982.2a6.3 6.3 0 1 0 12.6 0a6.3 6.3 0 1 0 -12.6 0zM935.2 982.8a6.3 6.3 0 1 0 12.6 0a6.3 6.3 0 1 0 -12.6 0zM936.4 983.2a6.3 6.3 0 1 0 12.6 0a6.3 6.3 0 1 0 -12.6 0zM937.7 983.4a6.3 6.3 0 1 0 12.6 0a6.3 6.3 0 1 0 -12.6 0zM938.9 983.3a6.3 6.3 0 1 0 12.6 0a6.3 6.3 0 1 0 -12.6 0zM940.2 982.9a6.3 6.3 0 1 0 12.6 0a6.3 6.3 0 1 0 -12.6 0zM941.4 982.4a6.3 6.3 0 1 0 12.6 0a6.3 6.3 0 1 0 -12.6 0zM942.6 981.6a6.3 6.3 0 1 0 12.6 0a6.3 6.3 0 1 0 -12.6 0zM943.9 980.8a6.3 6.3 0 1 0 12.6 0a6.3 6.3 0 1 0 -12.6 0zM945.1 979.9a6.3 6.3 0 1 0 12.6 0a6.3 6.3 0 1 0 -12.6 0zM946.4 979a6.3 6.3 0 1 0 12.6 0a6.3 6.3 0 1 0 -12.6 0zM947.6 978.2a6.3 6.3 0 1 0 12.6 0a6.3 6.3 0 1 0 -12.6 0zM948.9 977.5a6.3 6.3 0 1 0 12.6 0a6.3 6.3 0 1 0 -12.6 0zM950.1 977a6.3 6.3 0 1 0 12.6 0a6.3 6.3 0 1 0 -12.6 0zM951.4 976.7a6.3 6.3 0 1 0 12.6 0a6.3 6.3 0 1 0 -12.6 0zM952.6 976.6a6.3 6.3 0 1 0 12.6 0a6.3 6.3 0 1 0 -12.6 0zM953.9 976.8a6.3 6.3 0 1 0 12.6 0a6.3 6.3 0 1 0 -12.6 0zM955.1 977.2a6.3 6.3 0 1 0 12.6 0a6.3 6.3 0 1 0 -12.6 0zM956.3 977.7a6.3 6.3 0 1 0 12.6 0a6.3 6.3 0 1 0 -12.6 0zM957.6 978.4a6.3 6.3 0 1 0 12.6 0a6.3 6.3 0 1 0 -12.6 0zM958.8 979.1a6.3 6.3 0 1 0 12.6 0a6.3 6.3 0 1 0 -12.6 0zM960.1 979.8a6.3 6.3 0 1 0 12.6 0a6.3 6.3 0 1 0 -12.6 0zM961.3 980.5a6.3 6.3 0 1 0 12.6 0a6.3 6.3 0 1 0 -12.6 0zM962.6 981.1a6.3 6.3 0 1 0 12.6 0a6.3 6.3 0 1 0 -12.6 0zM963.8 981.6a6.3 6.3 0 1 0 12.6 0a6.3 6.3 0 1 0 -12.6 0zM965.1 981.9a6.3 6.3 0 1 0 12.6 0a6.3 6.3 0 1 0 -12.6 0zM966.3 982a6.3 6.3 0 1 0 12.6 0a6.3 6.3 0 1 0 -12.6 0zM967.5 982a6.3 6.3 0 1 0 12.6 0a6.3 6.3 0 1 0 -12.6 0zM968.8 981.8a6.3 6.3 0 1 0 12.6 0a6.3 6.3 0 1 0 -12.6 0zM970 981.5a6.3 6.3 0 1 0 12.6 0a6.3 6.3 0 1 0 -12.6 0zM971.3 981.1a6.3 6.3 0 1 0 12.6 0a6.3 6.3 0 1 0 -12.6 0zM972.5 980.7a6.3 6.3 0 1 0 12.6 0a6.3 6.3 0 1 0 -12.6 0zM973.8 980.2a6.3 6.3 0 1 0 12.6 0a6.3 6.3 0 1 0 -12.6 0zM975 979.7a6.3 6.3 0 1 0 12.6 0a6.3 6.3 0 1 0 -12.6 0zM976.3 979.3a6.3 6.3 0 1 0 12.6 0a6.3 6.3 0 1 0 -12.6 0zM977.5 979a6.3 6.3 0 1 0 12.6 0a6.3 6.3 0 1 0 -12.6 0zM978.7 978.7a6.3 6.3 0 1 0 12.6 0a6.3 6.3 0 1 0 -12.6 0zM980 978.6a6.3 6.3 0 1 0 12.6 0a6.3 6.3 0 1 0 -12.6 0zM981.2 978.5a6.3 6.3 0 1 0 12.6 0a6.3 6.3 0 1 0 -12.6 0zM982.5 978.5a6.3 6.3 0 1 0 12.6 0a6.3 6.3 0 1 0 -12.6 0zM983.7 978.6a6.3 6.3 0 1 0 12.6 0a6.3 6.3 0 1 0 -12.6 0zM985 978.8a6.3 6.3 0 1 0 12.6 0a6.3 6.3 0 1 0 -12.6 0zM986.2 979a6.3 6.3 0 1 0 12.6 0a6.3 6.3 0 1 0 -12.6 0zM987.5 979.3a6.3 6.3 0 1 0 12.6 0a6.3 6.3 0 1 0 -12.6 0zM988.7 979.4a6.3 6.3 0 1 0 12.6 0a6.3 6.3 0 1 0 -12.6 0zM989.9 979.5a6.3 6.3 0 1 0 12.6 0a6.3 6.3 0 1 0 -12.6 0zM991.2 979.5a6.3 6.3 0 1 0 12.6 0a6.3 6.3 0 1 0 -12.6 0zM992.4 979.4a6.3 6.3 0 1 0 12.6 0a6.3 6.3 0 1 0 -12.6 0zM993.7 979.2a6.3 6.3 0 1 0 12.6 0a6.3 6.3 0 1 0 -12.6 0zM994.9 978.9a6.3 6.3 0 1 0 12.6 0a6.3 6.3 0 1 0 -12.6 0zM996.2 978.5a6.3 6.3 0 1 0 12.6 0a6.3 6.3 0 1 0 -12.6 0zM997.4 978.1a6.3 6.3 0 1 0 12.6 0a6.3 6.3 0 1 0 -12.6 0zM998.7 977.5a6.3 6.3 0 1 0 12.6 0a6.3 6.3 0 1 0 -12.6 0zM999.9 976.6a6.3 6.3 0 1 0 12.6 0a6.3 6.3 0 1 0 -12.6 0zM1001.2 975.4a6.3 6.3 0 1 0 12.6 0a6.3 6.3 0 1 0 -12.6 0zM1002.4 973.9a6.3 6.3 0 1 0 12.6 0a6.3 6.3 0 1 0 -12.6 0zM1003.6 972.3a6.3 6.3 0 1 0 12.6 0a6.3 6.3 0 1 0 -12.6 0zM1004.9 970.4a6.3 6.3 0 1 0 12.6 0a6.3 6.3 0 1 0 -12.6 0zM1006.1 968.3a6.3 6.3 0 1 0 12.6 0a6.3 6.3 0 1 0 -12.6 0zM1007.4 965.4a6.3 6.3 0 1 0 12.6 0a6.3 6.3 0 1 0 -12.6 0zM1008.6 961.8a6.3 6.3 0 1 0 12.6 0a6.3 6.3 0 1 0 -12.6 0zM1009.9 957.4a6.3 6.3 0 1 0 12.6 0a6.3 6.3 0 1 0 -12.6 0zM1011.1 952.5a6.3 6.3 0 1 0 12.6 0a6.3 6.3 0 1 0 -12.6 0zM1012.4 947.2a6.3 6.3 0 1 0 12.6 0a6.3 6.3 0 1 0 -12.6 0zM1013.6 941.1a6.3 6.3 0 1 0 12.6 0a6.3 6.3 0 1 0 -12.6 0zM1014.8 933.5a6.3 6.3 0 1 0 12.6 0a6.3 6.3 0 1 0 -12.6 0zM1016.1 925a6.3 6.3 0 1 0 12.6 0a6.3 6.3 0 1 0 -12.6 0zM1017.3 916a6.3 6.3 0 1 0 12.6 0a6.3 6.3 0 1 0 -12.6 0zM1018.6 907.2a6.3 6.3 0 1 0 12.6 0a6.3 6.3 0 1 0 -12.6 0zM1019.8 898.6a6.3 6.3 0 1 0 12.6 0a6.3 6.3 0 1 0 -12.6 0zM1021.1 889.8a6.3 6.3 0 1 0 12.6 0a6.3 6.3 0 1 0 -12.6 0zM1022.3 880.9a6.3 6.3 0 1 0 12.6 0a6.3 6.3 0 1 0 -12.6 0zM1023.6 871.5a6.3 6.3 0 1 0 12.6 0a6.3 6.3 0 1 0 -12.6 0zM1024.8 861.6a6.3 6.3 0 1 0 12.6 0a6.3 6.3 0 1 0 -12.6 0zM1026 851a6.3 6.3 0 1 0 12.6 0a6.3 6.3 0 1 0 -12.6 0zM1027.3 839.8a6.3 6.3 0 1 0 12.6 0a6.3 6.3 0 1 0 -12.6 0zM1028.5 827.9a6.3 6.3 0 1 0 12.6 0a6.3 6.3 0 1 0 -12.6 0zM1029.8 815a6.3 6.3 0 1 0 12.6 0a6.3 6.3 0 1 0 -12.6 0zM1031 800.9a6.3 6.3 0 1 0 12.6 0a6.3 6.3 0 1 0 -12.6 0zM1032.3 784.7a6.3 6.3 0 1 0 12.6 0a6.3 6.3 0 1 0 -12.6 0zM1033.5 762.3a6.3 6.3 0 1 0 12.6 0a6.3 6.3 0 1 0 -12.6 0zM1034.8 744.2a6.3 6.3 0 1 0 12.6 0a6.3 6.3 0 1 0 -12.6 0zM1036 732.2a6.3 6.3 0 1 0 12.6 0a6.3 6.3 0 1 0 -12.6 0zM1037.2 726.5a6.3 6.3 0 1 0 12.6 0a6.3 6.3 0 1 0 -12.6 0zM1038.5 728.6a6.3 6.3 0 1 0 12.6 0a6.3 6.3 0 1 0 -12.6 0zM1039.7 733a6.3 6.3 0 1 0 12.6 0a6.3 6.3 0 1 0 -12.6 0zM1041 738.7a6.3 6.3 0 1 0 12.6 0a6.3 6.3 0 1 0 -12.6 0zM1042.2 746.3a6.3 6.3 0 1 0 12.6 0a6.3 6.3 0 1 0 -12.6 0zM1043.5 754.7a6.3 6.3 0 1 0 12.6 0a6.3 6.3 0 1 0 -12.6 0zM1044.7 764.2a6.3 6.3 0 1 0 12.6 0a6.3 6.3 0 1 0 -12.6 0zM1046 774.8a6.3 6.3 0 1 0 12.6 0a6.3 6.3 0 1 0 -12.6 0zM1047.2 786.4a6.3 6.3 0 1 0 12.6 0a6.3 6.3 0 1 0 -12.6 0zM1048.5 799.6a6.3 6.3 0 1 0 12.6 0a6.3 6.3 0 1 0 -12.6 0zM1049.7 813.6a6.3 6.3 0 1 0 12.6 0a6.3 6.3 0 1 0 -12.6 0zM1050.9 827.3a6.3 6.3 0 1 0 12.6 0a6.3 6.3 0 1 0 -12.6 0zM1052.2 840.1a6.3 6.3 0 1 0 12.6 0a6.3 6.3 0 1 0 -12.6 0zM1053.4 851a6.3 6.3 0 1 0 12.6 0a6.3 6.3 0 1 0 -12.6 0zM1054.7 860.3a6.3 6.3 0 1 0 12.6 0a6.3 6.3 0 1 0 -12.6 0zM1055.9 868.7a6.3 6.3 0 1 0 12.6 0a6.3 6.3 0 1 0 -12.6 0zM1057.2 876.6a6.3 6.3 0 1 0 12.6 0a6.3 6.3 0 1 0 -12.6 0zM1058.4 884a6.3 6.3 0 1 0 12.6 0a6.3 6.3 0 1 0 -12.6 0zM1059.7 891a6.3 6.3 0 1 0 12.6 0a6.3 6.3 0 1 0 -12.6 0zM1060.9 897.8a6.3 6.3 0 1 0 12.6 0a6.3 6.3 0 1 0 -12.6 0zM1062.1 904.5a6.3 6.3 0 1 0 12.6 0a6.3 6.3 0 1 0 -12.6 0zM1063.4 911.1a6.3 6.3 0 1 0 12.6 0a6.3 6.3 0 1 0 -12.6 0zM1064.6 917.9a6.3 6.3 0 1 0 12.6 0a6.3 6.3 0 1 0 -12.6 0zM1065.9 924.7a6.3 6.3 0 1 0 12.6 0a6.3 6.3 0 1 0 -12.6 0zM1067.1 931.1a6.3 6.3 0 1 0 12.6 0a6.3 6.3 0 1 0 -12.6 0zM1068.4 937a6.3 6.3 0 1 0 12.6 0a6.3 6.3 0 1 0 -12.6 0zM1069.6 942.2a6.3 6.3 0 1 0 12.6 0a6.3 6.3 0 1 0 -12.6 0zM1070.9 946.6a6.3 6.3 0 1 0 12.6 0a6.3 6.3 0 1 0 -12.6 0zM1072.1 950.5a6.3 6.3 0 1 0 12.6 0a6.3 6.3 0 1 0 -12.6 0zM1073.3 954.4a6.3 6.3 0 1 0 12.6 0a6.3 6.3 0 1 0 -12.6 0zM1074.6 958a6.3 6.3 0 1 0 12.6 0a6.3 6.3 0 1 0 -12.6 0zM1075.8 961.3a6.3 6.3 0 1 0 12.6 0a6.3 6.3 0 1 0 -12.6 0zM1077.1 964.4a6.3 6.3 0 1 0 12.6 0a6.3 6.3 0 1 0 -12.6 0zM1078.3 967a6.3 6.3 0 1 0 12.6 0a6.3 6.3 0 1 0 -12.6 0zM1079.6 969a6.3 6.3 0 1 0 12.6 0a6.3 6.3 0 1 0 -12.6 0zM1080.8 970.9a6.3 6.3 0 1 0 12.6 0a6.3 6.3 0 1 0 -12.6 0zM1082.1 972.6a6.3 6.3 0 1 0 12.6 0a6.3 6.3 0 1 0 -12.6 0zM1083.3 974.1a6.3 6.3 0 1 0 12.6 0a6.3 6.3 0 1 0 -12.6 0zM1084.5 975.4a6.3 6.3 0 1 0 12.6 0a6.3 6.3 0 1 0 -12.6 0zM1085.8 976.4a6.3 6.3 0 1 0 12.6 0a6.3 6.3 0 1 0 -12.6 0zM1087 977.2a6.3 6.3 0 1 0 12.6 0a6.3 6.3 0 1 0 -12.6 0zM1088.3 977.7a6.3 6.3 0 1 0 12.6 0a6.3 6.3 0 1 0 -12.6 0zM1089.5 978a6.3 6.3 0 1 0 12.6 0a6.3 6.3 0 1 0 -12.6 0zM1090.8 978.1a6.3 6.3 0 1 0 12.6 0a6.3 6.3 0 1 0 -12.6 0zM1092 978.2a6.3 6.3 0 1 0 12.6 0a6.3 6.3 0 1 0 -12.6 0zM1093.3 978.1a6.3 6.3 0 1 0 12.6 0a6.3 6.3 0 1 0 -12.6 0zM1094.5 978.1a6.3 6.3 0 1 0 12.6 0a6.3 6.3 0 1 0 -12.6 0zM1095.8 978.1a6.3 6.3 0 1 0 12.6 0a6.3 6.3 0 1 0 -12.6 0zM1097 978.1a6.3 6.3 0 1 0 12.6 0a6.3 6.3 0 1 0 -12.6 0zM1098.2 978.1a6.3 6.3 0 1 0 12.6 0a6.3 6.3 0 1 0 -12.6 0zM1099.5 978.2a6.3 6.3 0 1 0 12.6 0a6.3 6.3 0 1 0 -12.6 0zM1100.7 978.3a6.3 6.3 0 1 0 12.6 0a6.3 6.3 0 1 0 -12.6 0zM1102 978.4a6.3 6.3 0 1 0 12.6 0a6.3 6.3 0 1 0 -12.6 0zM1103.2 978.6a6.3 6.3 0 1 0 12.6 0a6.3 6.3 0 1 0 -12.6 0zM1104.5 978.9a6.3 6.3 0 1 0 12.6 0a6.3 6.3 0 1 0 -12.6 0zM1105.7 979.2a6.3 6.3 0 1 0 12.6 0a6.3 6.3 0 1 0 -12.6 0zM1107 979.5a6.3 6.3 0 1 0 12.6 0a6.3 6.3 0 1 0 -12.6 0zM1108.2 979.8a6.3 6.3 0 1 0 12.6 0a6.3 6.3 0 1 0 -12.6 0zM1109.4 980.1a6.3 6.3 0 1 0 12.6 0a6.3 6.3 0 1 0 -12.6 0zM1110.7 980.3a6.3 6.3 0 1 0 12.6 0a6.3 6.3 0 1 0 -12.6 0zM1111.9 980.5a6.3 6.3 0 1 0 12.6 0a6.3 6.3 0 1 0 -12.6 0zM1113.2 980.7a6.3 6.3 0 1 0 12.6 0a6.3 6.3 0 1 0 -12.6 0zM1114.4 980.7a6.3 6.3 0 1 0 12.6 0a6.3 6.3 0 1 0 -12.6 0zM1115.7 980.7a6.3 6.3 0 1 0 12.6 0a6.3 6.3 0 1 0 -12.6 0zM1116.9 980.7a6.3 6.3 0 1 0 12.6 0a6.3 6.3 0 1 0 -12.6 0zM1118.2 980.5a6.3 6.3 0 1 0 12.6 0a6.3 6.3 0 1 0 -12.6 0zM1119.4 980.4a6.3 6.3 0 1 0 12.6 0a6.3 6.3 0 1 0 -12.6 0zM1120.6 980.2a6.3 6.3 0 1 0 12.6 0a6.3 6.3 0 1 0 -12.6 0zM1121.9 980a6.3 6.3 0 1 0 12.6 0a6.3 6.3 0 1 0 -12.6 0zM1123.1 979.8a6.3 6.3 0 1 0 12.6 0a6.3 6.3 0 1 0 -12.6 0zM1124.4 979.5a6.3 6.3 0 1 0 12.6 0a6.3 6.3 0 1 0 -12.6 0zM1125.6 979.3a6.3 6.3 0 1 0 12.6 0a6.3 6.3 0 1 0 -12.6 0zM1126.9 979.1a6.3 6.3 0 1 0 12.6 0a6.3 6.3 0 1 0 -12.6 0zM1128.1 979a6.3 6.3 0 1 0 12.6 0a6.3 6.3 0 1 0 -12.6 0zM1129.4 978.8a6.3 6.3 0 1 0 12.6 0a6.3 6.3 0 1 0 -12.6 0zM1130.6 978.8a6.3 6.3 0 1 0 12.6 0a6.3 6.3 0 1 0 -12.6 0zM1131.8 978.8a6.3 6.3 0 1 0 12.6 0a6.3 6.3 0 1 0 -12.6 0zM1133.1 978.9a6.3 6.3 0 1 0 12.6 0a6.3 6.3 0 1 0 -12.6 0zM1134.3 979a6.3 6.3 0 1 0 12.6 0a6.3 6.3 0 1 0 -12.6 0zM1135.6 979.3a6.3 6.3 0 1 0 12.6 0a6.3 6.3 0 1 0 -12.6 0zM1136.8 979.6a6.3 6.3 0 1 0 12.6 0a6.3 6.3 0 1 0 -12.6 0zM1138.1 979.9a6.3 6.3 0 1 0 12.6 0a6.3 6.3 0 1 0 -12.6 0zM1139.3 980.3a6.3 6.3 0 1 0 12.6 0a6.3 6.3 0 1 0 -12.6 0zM1140.6 980.6a6.3 6.3 0 1 0 12.6 0a6.3 6.3 0 1 0 -12.6 0zM1141.8 981a6.3 6.3 0 1 0 12.6 0a6.3 6.3 0 1 0 -12.6 0zM1143.1 981.3a6.3 6.3 0 1 0 12.6 0a6.3 6.3 0 1 0 -12.6 0zM1144.3 981.5a6.3 6.3 0 1 0 12.6 0a6.3 6.3 0 1 0 -12.6 0zM1145.5 981.6a6.3 6.3 0 1 0 12.6 0a6.3 6.3 0 1 0 -12.6 0zM1146.8 981.6a6.3 6.3 0 1 0 12.6 0a6.3 6.3 0 1 0 -12.6 0zM1148 981.4a6.3 6.3 0 1 0 12.6 0a6.3 6.3 0 1 0 -12.6 0zM1149.3 981.1a6.3 6.3 0 1 0 12.6 0a6.3 6.3 0 1 0 -12.6 0zM1150.5 980.7a6.3 6.3 0 1 0 12.6 0a6.3 6.3 0 1 0 -12.6 0zM1151.8 980.2a6.3 6.3 0 1 0 12.6 0a6.3 6.3 0 1 0 -12.6 0zM1153 979.6a6.3 6.3 0 1 0 12.6 0a6.3 6.3 0 1 0 -12.6 0zM1154.3 978.9a6.3 6.3 0 1 0 12.6 0a6.3 6.3 0 1 0 -12.6 0zM1155.5 978.3a6.3 6.3 0 1 0 12.6 0a6.3 6.3 0 1 0 -12.6 0zM1156.7 977.8a6.3 6.3 0 1 0 12.6 0a6.3 6.3 0 1 0 -12.6 0zM1158 977.4a6.3 6.3 0 1 0 12.6 0a6.3 6.3 0 1 0 -12.6 0zM1159.2 977.1a6.3 6.3 0 1 0 12.6 0a6.3 6.3 0 1 0 -12.6 0zM1160.5 977a6.3 6.3 0 1 0 12.6 0a6.3 6.3 0 1 0 -12.6 0zM1161.7 977.1a6.3 6.3 0 1 0 12.6 0a6.3 6.3 0 1 0 -12.6 0zM1163 977.4a6.3 6.3 0 1 0 12.6 0a6.3 6.3 0 1 0 -12.6 0zM1164.2 977.9a6.3 6.3 0 1 0 12.6 0a6.3 6.3 0 1 0 -12.6 0zM1165.5 978.6a6.3 6.3 0 1 0 12.6 0a6.3 6.3 0 1 0 -12.6 0zM1166.7 979.4a6.3 6.3 0 1 0 12.6 0a6.3 6.3 0 1 0 -12.6 0zM1167.9 980.2a6.3 6.3 0 1 0 12.6 0a6.3 6.3 0 1 0 -12.6 0zM1169.2 981.1a6.3 6.3 0 1 0 12.6 0a6.3 6.3 0 1 0 -12.6 0zM1170.4 981.9a6.3 6.3 0 1 0 12.6 0a6.3 6.3 0 1 0 -12.6 0zM1171.7 982.5a6.3 6.3 0 1 0 12.6 0a6.3 6.3 0 1 0 -12.6 0zM1172.9 983a6.3 6.3 0 1 0 12.6 0a6.3 6.3 0 1 0 -12.6 0zM1174.2 983.2a6.3 6.3 0 1 0 12.6 0a6.3 6.3 0 1 0 -12.6 0zM1175.4 983.3a6.3 6.3 0 1 0 12.6 0a6.3 6.3 0 1 0 -12.6 0zM1176.7 983a6.3 6.3 0 1 0 12.6 0a6.3 6.3 0 1 0 -12.6 0zM1177.9 982.6a6.3 6.3 0 1 0 12.6 0a6.3 6.3 0 1 0 -12.6 0zM1179.1 981.9a6.3 6.3 0 1 0 12.6 0a6.3 6.3 0 1 0 -12.6 0zM1180.4 981.1a6.3 6.3 0 1 0 12.6 0a6.3 6.3 0 1 0 -12.6 0zM1181.6 980.2a6.3 6.3 0 1 0 12.6 0a6.3 6.3 0 1 0 -12.6 0zM1182.9 979.2a6.3 6.3 0 1 0 12.6 0a6.3 6.3 0 1 0 -12.6 0zM1184.1 978.3a6.3 6.3 0 1 0 12.6 0a6.3 6.3 0 1 0 -12.6 0zM1185.4 977.5a6.3 6.3 0 1 0 12.6 0a6.3 6.3 0 1 0 -12.6 0zM1186.6 976.9a6.3 6.3 0 1 0 12.6 0a6.3 6.3 0 1 0 -12.6 0zM1187.9 976.5a6.3 6.3 0 1 0 12.6 0a6.3 6.3 0 1 0 -12.6 0zM1189.1 976.3a6.3 6.3 0 1 0 12.6 0a6.3 6.3 0 1 0 -12.6 0zM1190.4 976.4a6.3 6.3 0 1 0 12.6 0a6.3 6.3 0 1 0 -12.6 0zM1191.6 976.7a6.3 6.3 0 1 0 12.6 0a6.3 6.3 0 1 0 -12.6 0zM1192.8 977.2a6.3 6.3 0 1 0 12.6 0a6.3 6.3 0 1 0 -12.6 0zM1194.1 977.9a6.3 6.3 0 1 0 12.6 0a6.3 6.3 0 1 0 -12.6 0zM1195.3 978.7a6.3 6.3 0 1 0 12.6 0a6.3 6.3 0 1 0 -12.6 0zM1196.6 979.6a6.3 6.3 0 1 0 12.6 0a6.3 6.3 0 1 0 -12.6 0zM1197.8 980.4a6.3 6.3 0 1 0 12.6 0a6.3 6.3 0 1 0 -12.6 0zM1199.1 981.2a6.3 6.3 0 1 0 12.6 0a6.3 6.3 0 1 0 -12.6 0zM1200.3 981.8a6.3 6.3 0 1 0 12.6 0a6.3 6.3 0 1 0 -12.6 0zM1201.6 982.3a6.3 6.3 0 1 0 12.6 0a6.3 6.3 0 1 0 -12.6 0zM1202.8 982.6a6.3 6.3 0 1 0 12.6 0a6.3 6.3 0 1 0 -12.6 0zM1204 982.7a6.3 6.3 0 1 0 12.6 0a6.3 6.3 0 1 0 -12.6 0zM1205.3 982.5a6.3 6.3 0 1 0 12.6 0a6.3 6.3 0 1 0 -12.6 0zM1206.5 982.2a6.3 6.3 0 1 0 12.6 0a6.3 6.3 0 1 0 -12.6 0zM1207.8 981.8a6.3 6.3 0 1 0 12.6 0a6.3 6.3 0 1 0 -12.6 0zM1209 981.2a6.3 6.3 0 1 0 12.6 0a6.3 6.3 0 1 0 -12.6 0zM1210.3 980.6a6.3 6.3 0 1 0 12.6 0a6.3 6.3 0 1 0 -12.6 0zM1211.5 979.9a6.3 6.3 0 1 0 12.6 0a6.3 6.3 0 1 0 -12.6 0zM1212.8 979.3a6.3 6.3 0 1 0 12.6 0a6.3 6.3 0 1 0 -12.6 0zM1214 978.8a6.3 6.3 0 1 0 12.6 0a6.3 6.3 0 1 0 -12.6 0zM1215.2 978.4a6.3 6.3 0 1 0 12.6 0a6.3 6.3 0 1 0 -12.6 0zM1216.5 978.1a6.3 6.3 0 1 0 12.6 0a6.3 6.3 0 1 0 -12.6 0zM1217.7 977.9a6.3 6.3 0 1 0 12.6 0a6.3 6.3 0 1 0 -12.6 0zM1219 977.9a6.3 6.3 0 1 0 12.6 0a6.3 6.3 0 1 0 -12.6 0zM1220.2 978.1a6.3 6.3 0 1 0 12.6 0a6.3 6.3 0 1 0 -12.6 0zM1221.5 978.3a6.3 6.3 0 1 0 12.6 0a6.3 6.3 0 1 0 -12.6 0zM1222.7 978.6a6.3 6.3 0 1 0 12.6 0a6.3 6.3 0 1 0 -12.6 0zM1224 979a6.3 6.3 0 1 0 12.6 0a6.3 6.3 0 1 0 -12.6 0zM1225.2 979.4a6.3 6.3 0 1 0 12.6 0a6.3 6.3 0 1 0 -12.6 0zM1226.4 979.8a6.3 6.3 0 1 0 12.6 0a6.3 6.3 0 1 0 -12.6 0zM1227.7 980.1a6.3 6.3 0 1 0 12.6 0a6.3 6.3 0 1 0 -12.6 0zM1228.9 980.4a6.3 6.3 0 1 0 12.6 0a6.3 6.3 0 1 0 -12.6 0zM1230.2 980.6a6.3 6.3 0 1 0 12.6 0a6.3 6.3 0 1 0 -12.6 0zM1231.4 980.8a6.3 6.3 0 1 0 12.6 0a6.3 6.3 0 1 0 -12.6 0zM1232.7 980.9a6.3 6.3 0 1 0 12.6 0a6.3 6.3 0 1 0 -12.6 0zM1233.9 980.9a6.3 6.3 0 1 0 12.6 0a6.3 6.3 0 1 0 -12.6 0zM1235.2 980.8a6.3 6.3 0 1 0 12.6 0a6.3 6.3 0 1 0 -12.6 0zM1236.4 980.6a6.3 6.3 0 1 0 12.6 0a6.3 6.3 0 1 0 -12.6 0zM1237.7 980.5a6.3 6.3 0 1 0 12.6 0a6.3 6.3 0 1 0 -12.6 0zM1238.9 980.3a6.3 6.3 0 1 0 12.6 0a6.3 6.3 0 1 0 -12.6 0zM1240.1 980a6.3 6.3 0 1 0 12.6 0a6.3 6.3 0 1 0 -12.6 0zM1241.4 979.8a6.3 6.3 0 1 0 12.6 0a6.3 6.3 0 1 0 -12.6 0zM1242.6 979.6a6.3 6.3 0 1 0 12.6 0a6.3 6.3 0 1 0 -12.6 0zM1243.9 979.4a6.3 6.3 0 1 0 12.6 0a6.3 6.3 0 1 0 -12.6 0zM1245.1 979.2a6.3 6.3 0 1 0 12.6 0a6.3 6.3 0 1 0 -12.6 0zM1246.4 979a6.3 6.3 0 1 0 12.6 0a6.3 6.3 0 1 0 -12.6 0zM1247.6 978.9a6.3 6.3 0 1 0 12.6 0a6.3 6.3 0 1 0 -12.6 0zM1248.9 978.9a6.3 6.3 0 1 0 12.6 0a6.3 6.3 0 1 0 -12.6 0zM1250.1 978.9a6.3 6.3 0 1 0 12.6 0a6.3 6.3 0 1 0 -12.6 0zM1251.3 979a6.3 6.3 0 1 0 12.6 0a6.3 6.3 0 1 0 -12.6 0zM1252.6 979.1a6.3 6.3 0 1 0 12.6 0a6.3 6.3 0 1 0 -12.6 0zM1253.8 979.3a6.3 6.3 0 1 0 12.6 0a6.3 6.3 0 1 0 -12.6 0zM1255.1 979.6a6.3 6.3 0 1 0 12.6 0a6.3 6.3 0 1 0 -12.6 0zM1256.3 979.8a6.3 6.3 0 1 0 12.6 0a6.3 6.3 0 1 0 -12.6 0zM1257.6 980.1a6.3 6.3 0 1 0 12.6 0a6.3 6.3 0 1 0 -12.6 0zM1258.8 980.5a6.3 6.3 0 1 0 12.6 0a6.3 6.3 0 1 0 -12.6 0zM1260.1 980.7a6.3 6.3 0 1 0 12.6 0a6.3 6.3 0 1 0 -12.6 0zM1261.3 981a6.3 6.3 0 1 0 12.6 0a6.3 6.3 0 1 0 -12.6 0zM1262.5 981.2a6.3 6.3 0 1 0 12.6 0a6.3 6.3 0 1 0 -12.6 0zM1263.8 981.3a6.3 6.3 0 1 0 12.6 0a6.3 6.3 0 1 0 -12.6 0zM1265 981.3a6.3 6.3 0 1 0 12.6 0a6.3 6.3 0 1 0 -12.6 0zM1266.3 981.2a6.3 6.3 0 1 0 12.6 0a6.3 6.3 0 1 0 -12.6 0zM1267.5 980.9a6.3 6.3 0 1 0 12.6 0a6.3 6.3 0 1 0 -12.6 0zM1268.8 980.6a6.3 6.3 0 1 0 12.6 0a6.3 6.3 0 1 0 -12.6 0zM1270 980.2a6.3 6.3 0 1 0 12.6 0a6.3 6.3 0 1 0 -12.6 0zM1271.3 979.7a6.3 6.3 0 1 0 12.6 0a6.3 6.3 0 1 0 -12.6 0zM1272.5 979.1a6.3 6.3 0 1 0 12.6 0a6.3 6.3 0 1 0 -12.6 0zM1273.7 978.6a6.3 6.3 0 1 0 12.6 0a6.3 6.3 0 1 0 -12.6 0zM1275 978.1a6.3 6.3 0 1 0 12.6 0a6.3 6.3 0 1 0 -12.6 0zM1276.2 977.7a6.3 6.3 0 1 0 12.6 0a6.3 6.3 0 1 0 -12.6 0zM1277.5 977.4a6.3 6.3 0 1 0 12.6 0a6.3 6.3 0 1 0 -12.6 0zM1278.7 977.3a6.3 6.3 0 1 0 12.6 0a6.3 6.3 0 1 0 -12.6 0zM1280 977.4a6.3 6.3 0 1 0 12.6 0a6.3 6.3 0 1 0 -12.6 0zM1281.2 977.6a6.3 6.3 0 1 0 12.6 0a6.3 6.3 0 1 0 -12.6 0zM1282.5 978a6.3 6.3 0 1 0 12.6 0a6.3 6.3 0 1 0 -12.6 0zM1283.7 978.6a6.3 6.3 0 1 0 12.6 0a6.3 6.3 0 1 0 -12.6 0zM1285 979.3a6.3 6.3 0 1 0 12.6 0a6.3 6.3 0 1 0 -12.6 0zM1286.2 980.1a6.3 6.3 0 1 0 12.6 0a6.3 6.3 0 1 0 -12.6 0zM1287.4 980.9a6.3 6.3 0 1 0 12.6 0a6.3 6.3 0 1 0 -12.6 0zM1288.7 981.6a6.3 6.3 0 1 0 12.6 0a6.3 6.3 0 1 0 -12.6 0zM1289.9 982.3a6.3 6.3 0 1 0 12.6 0a6.3 6.3 0 1 0 -12.6 0zM1291.2 982.7a6.3 6.3 0 1 0 12.6 0a6.3 6.3 0 1 0 -12.6 0zM1292.4 983a6.3 6.3 0 1 0 12.6 0a6.3 6.3 0 1 0 -12.6 0zM1293.7 983.1a6.3 6.3 0 1 0 12.6 0a6.3 6.3 0 1 0 -12.6 0zM1294.9 983a6.3 6.3 0 1 0 12.6 0a6.3 6.3 0 1 0 -12.6 0zM1296.2 982.6a6.3 6.3 0 1 0 12.6 0a6.3 6.3 0 1 0 -12.6 0zM1297.4 982a6.3 6.3 0 1 0 12.6 0a6.3 6.3 0 1 0 -12.6 0zM1298.6 981.2a6.3 6.3 0 1 0 12.6 0a6.3 6.3 0 1 0 -12.6 0zM1299.9 980.3a6.3 6.3 0 1 0 12.6 0a6.3 6.3 0 1 0 -12.6 0zM1301.1 979.4a6.3 6.3 0 1 0 12.6 0a6.3 6.3 0 1 0 -12.6 0zM1302.4 978.5a6.3 6.3 0 1 0 12.6 0a6.3 6.3 0 1 0 -12.6 0zM1303.6 977.6a6.3 6.3 0 1 0 12.6 0a6.3 6.3 0 1 0 -12.6 0zM1304.9 977a6.3 6.3 0 1 0 12.6 0a6.3 6.3 0 1 0 -12.6 0zM1306.1 976.5a6.3 6.3 0 1 0 12.6 0a6.3 6.3 0 1 0 -12.6 0zM1307.4 976.2a6.3 6.3 0 1 0 12.6 0a6.3 6.3 0 1 0 -12.6 0zM1308.6 976.2a6.3 6.3 0 1 0 12.6 0a6.3 6.3 0 1 0 -12.6 0zM1309.8 976.5a6.3 6.3 0 1 0 12.6 0a6.3 6.3 0 1 0 -12.6 0zM1311.1 977a6.3 6.3 0 1 0 12.6 0a6.3 6.3 0 1 0 -12.6 0zM1312.3 977.7a6.3 6.3 0 1 0 12.6 0a6.3 6.3 0 1 0 -12.6 0z" fill="#9d3bff"/>
<path d="M794.6 967.3L796.2 967.9L797.7 968.9L799.3 970.1L800.9 971.3L802.5 972.4L804 973.3L805.6 973.9L807.2 974.4L808.8 974.8L810.3 975.1L811.9 975.6L813.5 976.4L815 977.3L816.6 978.4L818.2 979.7L819.8 980.9L821.3 982L822.9 982.8L824.5 983.2L826 983.3L827.6 983L829.2 982.3L830.8 981.4L832.3 980.3L833.9 979.2L835.5 978.3L837.1 977.5L838.6 977L840.2 976.9L841.8 977.1L843.3 977.6L844.9 978.3L846.5 979.1L848.1 979.9L849.6 980.6L851.2 981.2L852.8 981.6L854.3 981.7L855.9 981.6L857.5 981.4L859.1 980.9L860.6 980.5L862.2 980L863.8 979.5L865.4 979.1L866.9 978.9L868.5 978.7L870.1 978.7L871.6 978.8L873.2 979L874.8 979.3L876.4 979.6L877.9 979.9L879.5 980.2L881.1 980.4L882.6 980.6L884.2 980.7L885.8 980.7L887.4 980.6L888.9 980.4L890.5 980.2L892.1 979.9L893.7 979.5L895.2 979.1L896.8 978.8L898.4 978.5L899.9 978.4L901.5 978.4L903.1 978.6L904.7 978.9L906.2 979.5L907.8 980.1L909.4 980.8L911 981.4L912.5 981.9L914.1 982.2L915.7 982.2L917.2 982L918.8 981.5L920.4 980.7L922 979.8L923.5 978.8L925.1 977.9L926.7 977.1L928.2 976.6L929.8 976.5L931.4 976.7L933 977.3L934.5 978.2L936.1 979.3L937.7 980.5L939.3 981.6L940.8 982.5L942.4 983.2L944 983.4L945.5 983.2L947.1 982.7L948.7 981.8L950.3 980.7L951.8 979.6L953.4 978.5L955 977.6L956.5 976.9L958.1 976.7L959.7 976.7L961.3 977.1L962.8 977.8L964.4 978.7L966 979.6L967.6 980.5L969.1 981.2L970.7 981.7L972.3 982L973.8 982L975.4 981.8L977 981.3L978.6 980.8L980.1 980.2L981.7 979.6L983.3 979.1L984.8 978.7L986.4 978.5L988 978.5L989.6 978.6L991.1 978.8L992.7 979.1L994.3 979.3L995.9 979.5L997.4 979.5L999 979.4L1000.6 979.1L1002.1 978.7L1003.7 978.1L1005.3 977.3L1006.9 976L1008.4 974.3L1010 972.2L1011.6 969.7L1013.1 966.7L1014.7 962.4L1016.3 956.9L1017.9 950.6L1019.4 943.5L1021 934.4L1022.6 923.6L1024.2 912.3L1025.7 901.3L1027.3 890.3L1028.9 878.9L1030.4 866.9L1032 853.8L1033.6 839.8L1035.2 824.6L1036.7 807.8L1038.3 788.5L1039.9 761.1L1041.5 740.2L1043 727.6L1044.6 728.1L1046.2 733.5L1047.7 741.3L1049.3 751.5L1050.9 763.2L1052.5 776.5L1054 791.9L1055.6 809.1L1057.2 826.6L1058.7 842.6L1060.3 855.5L1061.9 866.6L1063.5 876.6L1065 885.9L1066.6 894.6L1068.2 903.1L1069.8 911.5L1071.3 920.1L1072.9 928.4L1074.5 936.1L1076 942.7L1077.6 948L1079.2 953L1080.8 957.6L1082.3 961.8L1083.9 965.5L1085.5 968.4L1087 970.8L1088.6 972.9L1090.2 974.7L1091.8 976.2L1093.3 977.2L1094.9 977.8L1096.5 978.1L1098.1 978.1L1099.6 978.1L1101.2 978.1L1102.8 978.1L1104.3 978.1L1105.9 978.2L1107.5 978.3L1109.1 978.5L1110.6 978.8L1112.2 979.2L1113.8 979.6L1115.3 980L1116.9 980.3L1118.5 980.6L1120.1 980.7L1121.6 980.7L1123.2 980.7L1124.8 980.5L1126.4 980.3L1127.9 980L1129.5 979.7L1131.1 979.5L1132.6 979.2L1134.2 979L1135.8 978.8L1137.4 978.8L1138.9 978.8L1140.5 979L1142.1 979.3L1143.7 979.7L1145.2 980.2L1146.8 980.6L1148.4 981.1L1149.9 981.4L1151.5 981.6L1153.1 981.6L1154.7 981.3L1156.2 980.9L1157.8 980.3L1159.4 979.5L1160.9 978.7L1162.5 978L1164.1 977.4L1165.7 977.1L1167.2 977L1168.8 977.3L1170.4 977.9L1172 978.7L1173.5 979.7L1175.1 980.8L1176.7 981.8L1178.2 982.6L1179.8 983.1L1181.4 983.3L1183 983L1184.5 982.4L1186.1 981.5L1187.7 980.4L1189.2 979.2L1190.8 978.1L1192.4 977.1L1194 976.5L1195.5 976.3L1197.1 976.4L1198.7 977L1200.3 977.8L1201.8 978.8L1203.4 979.9L1205 980.9L1206.5 981.8L1208.1 982.4L1209.7 982.6L1211.3 982.6L1212.8 982.2L1214.4 981.6L1216 980.9L1217.5 980L1219.1 979.3L1220.7 978.6L1222.3 978.2L1223.8 978L1225.4 978L1227 978.2L1228.6 978.5L1230.1 979L1231.7 979.5L1233.3 979.9L1234.8 980.3L1236.4 980.6L1238 980.8L1239.6 980.9L1241.1 980.8L1242.7 980.6L1244.3 980.4L1245.9 980.1L1247.4 979.8L1249 979.6L1250.6 979.3L1252.1 979.1L1253.7 979L1255.3 978.9L1256.9 978.9L1258.4 979.1L1260 979.3L1261.6 979.6L1263.1 980L1264.7 980.4L1266.3 980.7L1267.9 981L1269.4 981.2L1271 981.3L1272.6 981.2L1274.2 980.9L1275.7 980.4L1277.3 979.8L1278.9 979.1L1280.4 978.4L1282 977.9L1283.6 977.5L1285.2 977.3L1286.7 977.4L1288.3 977.9L1289.9 978.5L1291.4 979.4L1293 980.4L1294.6 981.4L1296.2 982.2L1297.7 982.8L1299.3 983.1L1300.9 983L1302.5 982.6L1304 981.8L1305.6 980.7L1307.2 979.6L1308.7 978.4L1310.3 977.4L1311.9 976.7L1313.5 976.3L1315 976.3L1316.6 976.7L1318.2 977.4" stroke="#9d3bff" stroke-width="7" fill="none" stroke-linejoin="round" stroke-linecap="round"/>
</g>
<rect x="1151.6" y="637.4" width="56.6" height="25" fill="#ffc8c8" stroke="#c9a5a5" stroke-width="0.9"/>
<rect x="1151.6" y="671.3" width="56.6" height="25.2" fill="#f0beff" stroke="#6b5674" stroke-width="0.9"/>
<text transform="translate(1218 659.6) scale(0.978 1.05)" font-size="27.5" text-anchor="start">5 K</text>
<text transform="translate(1218 693.2) scale(0.978 1.05)" font-size="27" text-anchor="start">0.27 K</text>
<text transform="translate(1000.9 1078.7) scale(1.042 1.05)" font-size="35"><tspan font-style="italic">B</tspan> (mT)</text>
<text transform="translate(745.7 908.5) rotate(-90)" font-size="36.4"><tspan font-style="italic">P(B)</tspan> (arb. units)</text>
<text x="704.9" y="579.2" font-size="42" text-anchor="start">d</text>
<clipPath id="clipib"><rect x="133.7" y="599.3" width="212.4" height="193.9"/></clipPath>
<g clip-path="url(#clipib)"><g transform="translate(133.7 600) scale(1 1)">
<rect x="-200" y="-200" width="900" height="900" fill="#0040ff"/>
<path d="M76.8 43L79.2 42.5L80.1 42L80.5 41.5L80.6 40L79.8 38L64.7 13.7L63.7 12.5L62.7 11.7L61.7 11.4L60.7 11.7L59.2 12.9L57.7 15L51 26L44.6 36L42.8 39.5L42.6 40.5L42.8 41.5L43.2 42L44.2 42.5L47.7 43.1zM200.1 43L202.5 42.5L203.4 42L203.8 41.5L203.9 40L203.1 38L188.2 14L186.2 11.8L185.2 11.4L184.2 11.6L182.7 12.7L181.2 14.7L174.3 26L167.9 36L166.1 39.5L166 40.5L166.1 41.5L166.7 42.1L167.7 42.6L171.2 43.1zM0.5 84.5L1.2 84.2L2.2 83.3L3.7 81.4L10.9 69.5L17.1 60L18.8 56.5L19 55.5L18.8 54.5L18.2 53.8L17.2 53.4L15.2 53L12.7 52.9L-13.3 52.9L-16.3 53.2L-17.6 53.5L-18.3 53.9L-18.8 54.5L-19 55L-18.9 56L-18.2 58L-16.8 60.5L-10.6 70L-3.3 82L-1.3 84.1L-0.3 84.6zM123.8 84.5L125.2 83.6L127.2 81.1L133.9 70L140.4 60L142.1 56.5L142.3 55.5L142.1 54.5L141.2 53.7L140.2 53.3L136.2 52.9L110.2 52.9L107.2 53.1L105.2 53.8L104.5 54.5L104.4 56L104.9 57.5L106.2 60L112.4 69.5L120.2 82.2L121.2 83.4L122.2 84.3L123.2 84.6zM15.1 139L17.6 138.5L18.4 138L18.8 137.5L18.9 136L18.2 134L3.2 109.9L2.2 108.7L1.2 107.8L0.2 107.4L-0.8 107.6L-2.3 108.8L-3.8 110.8L-10.6 122L-17.1 132L-18.8 135.5L-19 136.5L-18.8 137.5L-18.3 138.1L-17.3 138.6L-13.8 139.1zM138.4 139L140.9 138.5L141.7 138L142.1 137.5L142.2 136L141.2 133.5L133.9 122L126.7 110.2L125.2 108.4L124.2 107.6L123.2 107.4L122.2 107.7L120.7 109.1L119.2 111.2L113 121.5L106.2 132L104.5 135.5L104.3 136.5L104.5 137.5L104.9 138L105.7 138.5L107.2 138.9L109.2 139.1zM62.2 180.5L63.7 179.5L65.2 177.6L71.9 166.5L78.7 156L80.5 152.5L80.7 151.5L80.5 150.5L79.7 149.7L78.7 149.3L74.7 148.9L48.7 148.9L45.7 149.1L43.7 149.7L42.8 150.5L42.7 152L43.2 153.5L44.6 156L51 166L58.2 177.8L60.2 180L61.2 180.5zM185.5 180.5L186.7 179.8L188.7 177.3L195.6 166L201.7 156.5L203.1 154L203.8 152.5L203.9 151.5L203.8 150.5L203.2 149.9L202.2 149.4L200.2 149L197.7 148.9L171.7 148.9L168.7 149.2L166.7 149.9L166.1 150.5L166 152L166.8 154L168.2 156.5L174 165.5L181.7 178L183.7 180.2L184.7 180.6z" fill="#0000ff" stroke="#3a3a70" stroke-width="0.96" vector-effect="non-scaling-stroke"/>
<path d="M-49.5 0a49.5 44.8 0 1 0 99 0a49.5 44.8 0 1 0 -99 0zM73.8 0a49.5 44.8 0 1 0 99 0a49.5 44.8 0 1 0 -99 0zM197.1 0a49.5 44.8 0 1 0 99 0a49.5 44.8 0 1 0 -99 0zM12.1 96a49.5 44.8 0 1 0 99 0a49.5 44.8 0 1 0 -99 0zM135.4 96a49.5 44.8 0 1 0 99 0a49.5 44.8 0 1 0 -99 0zM-49.5 192a49.5 44.8 0 1 0 99 0a49.5 44.8 0 1 0 -99 0zM73.8 192a49.5 44.8 0 1 0 99 0a49.5 44.8 0 1 0 -99 0zM197.1 192a49.5 44.8 0 1 0 99 0a49.5 44.8 0 1 0 -99 0z" fill="rgb(0,105,255)" stroke="#454545" stroke-opacity="0.9" stroke-width="0.8" vector-effect="non-scaling-stroke"/>
<path d="M-44.2 0a44.2 40 0 1 0 88.4 0a44.2 40 0 1 0 -88.4 0zM79.1 0a44.2 40 0 1 0 88.4 0a44.2 40 0 1 0 -88.4 0zM202.4 0a44.2 40 0 1 0 88.4 0a44.2 40 0 1 0 -88.4 0zM17.4 96a44.2 40 0 1 0 88.4 0a44.2 40 0 1 0 -88.4 0zM140.7 96a44.2 40 0 1 0 88.4 0a44.2 40 0 1 0 -88.4 0zM-44.2 192a44.2 40 0 1 0 88.4 0a44.2 40 0 1 0 -88.4 0zM79.1 192a44.2 40 0 1 0 88.4 0a44.2 40 0 1 0 -88.4 0zM202.4 192a44.2 40 0 1 0 88.4 0a44.2 40 0 1 0 -88.4 0z" fill="rgb(0,135,255)" stroke="#454545" stroke-opacity="0.9" stroke-width="0.8" vector-effect="non-scaling-stroke"/>
<path d="M-40.5 0a40.5 36.6 0 1 0 81 0a40.5 36.6 0 1 0 -81 0zM82.8 0a40.5 36.6 0 1 0 81 0a40.5 36.6 0 1 0 -81 0zM206.1 0a40.5 36.6 0 1 0 81 0a40.5 36.6 0 1 0 -81 0zM21.2 96a40.5 36.6 0 1 0 81 0a40.5 36.6 0 1 0 -81 0zM144.5 96a40.5 36.6 0 1 0 81 0a40.5 36.6 0 1 0 -81 0zM-40.5 192a40.5 36.6 0 1 0 81 0a40.5 36.6 0 1 0 -81 0zM82.8 192a40.5 36.6 0 1 0 81 0a40.5 36.6 0 1 0 -81 0zM206.1 192a40.5 36.6 0 1 0 81 0a40.5 36.6 0 1 0 -81 0z" fill="rgb(0,171,255)" stroke="#454545" stroke-opacity="0.9" stroke-width="0.8" vector-effect="non-scaling-stroke"/>
<path d="M-37.5 0a37.5 33.9 0 1 0 75 0a37.5 33.9 0 1 0 -75 0zM85.8 0a37.5 33.9 0 1 0 75 0a37.5 33.9 0 1 0 -75 0zM209.1 0a37.5 33.9 0 1 0 75 0a37.5 33.9 0 1 0 -75 0zM24.1 96a37.5 33.9 0 1 0 75 0a37.5 33.9 0 1 0 -75 0zM147.4 96a37.5 33.9 0 1 0 75 0a37.5 33.9 0 1 0 -75 0zM-37.5 192a37.5 33.9 0 1 0 75 0a37.5 33.9 0 1 0 -75 0zM85.8 192a37.5 33.9 0 1 0 75 0a37.5 33.9 0 1 0 -75 0zM209.1 192a37.5 33.9 0 1 0 75 0a37.5 33.9 0 1 0 -75 0z" fill="rgb(0,213,255)" stroke="#454545" stroke-opacity="0.9" stroke-width="0.8" vector-effect="non-scaling-stroke"/>
<path d="M-35 0a35 31.6 0 1 0 69.9 0a35 31.6 0 1 0 -69.9 0zM88.3 0a35 31.6 0 1 0 69.9 0a35 31.6 0 1 0 -69.9 0zM211.6 0a35 31.6 0 1 0 69.9 0a35 31.6 0 1 0 -69.9 0zM26.7 96a35 31.6 0 1 0 69.9 0a35 31.6 0 1 0 -69.9 0zM150 96a35 31.6 0 1 0 69.9 0a35 31.6 0 1 0 -69.9 0zM-35 192a35 31.6 0 1 0 69.9 0a35 31.6 0 1 0 -69.9 0zM88.3 192a35 31.6 0 1 0 69.9 0a35 31.6 0 1 0 -69.9 0zM211.6 192a35 31.6 0 1 0 69.9 0a35 31.6 0 1 0 -69.9 0z" fill="rgb(0,233,240)" stroke="#454545" stroke-opacity="0.9" stroke-width="0.8" vector-effect="non-scaling-stroke"/>
<path d="M-32.7 0a32.7 29.6 0 1 0 65.4 0a32.7 29.6 0 1 0 -65.4 0zM90.6 0a32.7 29.6 0 1 0 65.4 0a32.7 29.6 0 1 0 -65.4 0zM28.9 96a32.7 29.6 0 1 0 65.4 0a32.7 29.6 0 1 0 -65.4 0zM152.2 96a32.7 29.6 0 1 0 65.4 0a32.7 29.6 0 1 0 -65.4 0zM-32.7 192a32.7 29.6 0 1 0 65.4 0a32.7 29.6 0 1 0 -65.4 0zM90.6 192a32.7 29.6 0 1 0 65.4 0a32.7 29.6 0 1 0 -65.4 0z" fill="rgb(0,249,222)" stroke="#454545" stroke-opacity="0.9" stroke-width="0.8" vector-effect="non-scaling-stroke"/>
<path d="M-30.7 0a30.7 27.8 0 1 0 61.4 0a30.7 27.8 0 1 0 -61.4 0zM92.6 0a30.7 27.8 0 1 0 61.4 0a30.7 27.8 0 1 0 -61.4 0zM31 96a30.7 27.8 0 1 0 61.4 0a30.7 27.8 0 1 0 -61.4 0zM154.3 96a30.7 27.8 0 1 0 61.4 0a30.7 27.8 0 1 0 -61.4 0zM-30.7 192a30.7 27.8 0 1 0 61.4 0a30.7 27.8 0 1 0 -61.4 0zM92.6 192a30.7 27.8 0 1 0 61.4 0a30.7 27.8 0 1 0 -61.4 0z" fill="rgb(0,240,172)" stroke="#454545" stroke-opacity="0.9" stroke-width="0.8" vector-effect="non-scaling-stroke"/>
<path d="M-28.8 0a28.8 26 0 1 0 57.6 0a28.8 26 0 1 0 -57.6 0zM94.5 0a28.8 26 0 1 0 57.6 0a28.8 26 0 1 0 -57.6 0zM32.9 96a28.8 26 0 1 0 57.6 0a28.8 26 0 1 0 -57.6 0zM156.2 96a28.8 26 0 1 0 57.6 0a28.8 26 0 1 0 -57.6 0zM-28.8 192a28.8 26 0 1 0 57.6 0a28.8 26 0 1 0 -57.6 0zM94.5 192a28.8 26 0 1 0 57.6 0a28.8 26 0 1 0 -57.6 0z" fill="rgb(0,230,124)" stroke="#454545" stroke-opacity="0.9" stroke-width="0.8" vector-effect="non-scaling-stroke"/>
<path d="M-27 0a27 24.4 0 1 0 54 0a27 24.4 0 1 0 -54 0zM96.3 0a27 24.4 0 1 0 54 0a27 24.4 0 1 0 -54 0zM34.7 96a27 24.4 0 1 0 54 0a27 24.4 0 1 0 -54 0zM158 96a27 24.4 0 1 0 54 0a27 24.4 0 1 0 -54 0zM-27 192a27 24.4 0 1 0 54 0a27 24.4 0 1 0 -54 0zM96.3 192a27 24.4 0 1 0 54 0a27 24.4 0 1 0 -54 0z" fill="rgb(0,220,86)" stroke="#454545" stroke-opacity="0.9" stroke-width="0.8" vector-effect="non-scaling-stroke"/>
<path d="M-25.3 0a25.3 22.9 0 1 0 50.5 0a25.3 22.9 0 1 0 -50.5 0zM98 0a25.3 22.9 0 1 0 50.5 0a25.3 22.9 0 1 0 -50.5 0zM36.4 96a25.3 22.9 0 1 0 50.5 0a25.3 22.9 0 1 0 -50.5 0zM159.7 96a25.3 22.9 0 1 0 50.5 0a25.3 22.9 0 1 0 -50.5 0zM-25.3 192a25.3 22.9 0 1 0 50.5 0a25.3 22.9 0 1 0 -50.5 0zM98 192a25.3 22.9 0 1 0 50.5 0a25.3 22.9 0 1 0 -50.5 0z" fill="rgb(0,210,49)" stroke="#454545" stroke-opacity="0.9" stroke-width="0.8" vector-effect="non-scaling-stroke"/>
<path d="M-23.6 0a23.6 21.3 0 1 0 47.2 0a23.6 21.3 0 1 0 -47.2 0zM99.7 0a23.6 21.3 0 1 0 47.2 0a23.6 21.3 0 1 0 -47.2 0zM38.1 96a23.6 21.3 0 1 0 47.2 0a23.6 21.3 0 1 0 -47.2 0zM161.4 96a23.6 21.3 0 1 0 47.2 0a23.6 21.3 0 1 0 -47.2 0zM-23.6 192a23.6 21.3 0 1 0 47.2 0a23.6 21.3 0 1 0 -47.2 0zM99.7 192a23.6 21.3 0 1 0 47.2 0a23.6 21.3 0 1 0 -47.2 0z" fill="rgb(15,203,23)" stroke="#454545" stroke-opacity="0.9" stroke-width="0.8" vector-effect="non-scaling-stroke"/>
<path d="M-22 0a22 19.9 0 1 0 43.9 0a22 19.9 0 1 0 -43.9 0zM101.3 0a22 19.9 0 1 0 43.9 0a22 19.9 0 1 0 -43.9 0zM39.7 96a22 19.9 0 1 0 43.9 0a22 19.9 0 1 0 -43.9 0zM163 96a22 19.9 0 1 0 43.9 0a22 19.9 0 1 0 -43.9 0zM-22 192a22 19.9 0 1 0 43.9 0a22 19.9 0 1 0 -43.9 0zM101.3 192a22 19.9 0 1 0 43.9 0a22 19.9 0 1 0 -43.9 0z" fill="rgb(46,198,10)" stroke="#454545" stroke-opacity="0.9" stroke-width="0.8" vector-effect="non-scaling-stroke"/>
<path d="M-20.3 0a20.3 18.4 0 1 0 40.7 0a20.3 18.4 0 1 0 -40.7 0zM103 0a20.3 18.4 0 1 0 40.7 0a20.3 18.4 0 1 0 -40.7 0zM41.3 96a20.3 18.4 0 1 0 40.7 0a20.3 18.4 0 1 0 -40.7 0zM164.6 96a20.3 18.4 0 1 0 40.7 0a20.3 18.4 0 1 0 -40.7 0zM-20.3 192a20.3 18.4 0 1 0 40.7 0a20.3 18.4 0 1 0 -40.7 0zM103 192a20.3 18.4 0 1 0 40.7 0a20.3 18.4 0 1 0 -40.7 0z" fill="rgb(84,196,0)" stroke="#454545" stroke-opacity="0.9" stroke-width="0.8" vector-effect="non-scaling-stroke"/>
<path d="M-18.7 0a18.7 16.9 0 1 0 37.4 0a18.7 16.9 0 1 0 -37.4 0zM104.6 0a18.7 16.9 0 1 0 37.4 0a18.7 16.9 0 1 0 -37.4 0zM43 96a18.7 16.9 0 1 0 37.4 0a18.7 16.9 0 1 0 -37.4 0zM166.3 96a18.7 16.9 0 1 0 37.4 0a18.7 16.9 0 1 0 -37.4 0zM-18.7 192a18.7 16.9 0 1 0 37.4 0a18.7 16.9 0 1 0 -37.4 0zM104.6 192a18.7 16.9 0 1 0 37.4 0a18.7 16.9 0 1 0 -37.4 0z" fill="rgb(147,201,0)" stroke="#454545" stroke-opacity="0.9" stroke-width="0.8" vector-effect="non-scaling-stroke"/>
<path d="M-17 0a17 15.4 0 1 0 34 0a17 15.4 0 1 0 -34 0zM106.3 0a17 15.4 0 1 0 34 0a17 15.4 0 1 0 -34 0zM44.6 96a17 15.4 0 1 0 34 0a17 15.4 0 1 0 -34 0zM167.9 96a17 15.4 0 1 0 34 0a17 15.4 0 1 0 -34 0zM-17 192a17 15.4 0 1 0 34 0a17 15.4 0 1 0 -34 0zM106.3 192a17 15.4 0 1 0 34 0a17 15.4 0 1 0 -34 0z" fill="rgb(201,202,0)" stroke="#454545" stroke-opacity="0.9" stroke-width="0.8" vector-effect="non-scaling-stroke"/>
<path d="M-15.3 0a15.3 13.8 0 1 0 30.6 0a15.3 13.8 0 1 0 -30.6 0zM108 0a15.3 13.8 0 1 0 30.6 0a15.3 13.8 0 1 0 -30.6 0zM46.4 96a15.3 13.8 0 1 0 30.6 0a15.3 13.8 0 1 0 -30.6 0zM169.7 96a15.3 13.8 0 1 0 30.6 0a15.3 13.8 0 1 0 -30.6 0zM-15.3 192a15.3 13.8 0 1 0 30.6 0a15.3 13.8 0 1 0 -30.6 0zM108 192a15.3 13.8 0 1 0 30.6 0a15.3 13.8 0 1 0 -30.6 0z" fill="rgb(233,192,0)" stroke="#454545" stroke-opacity="0.9" stroke-width="0.8" vector-effect="non-scaling-stroke"/>
<path d="M-13.5 0a13.5 12.2 0 1 0 26.9 0a13.5 12.2 0 1 0 -26.9 0zM109.8 0a13.5 12.2 0 1 0 26.9 0a13.5 12.2 0 1 0 -26.9 0zM48.2 96a13.5 12.2 0 1 0 26.9 0a13.5 12.2 0 1 0 -26.9 0zM171.5 96a13.5 12.2 0 1 0 26.9 0a13.5 12.2 0 1 0 -26.9 0zM-13.5 192a13.5 12.2 0 1 0 26.9 0a13.5 12.2 0 1 0 -26.9 0zM109.8 192a13.5 12.2 0 1 0 26.9 0a13.5 12.2 0 1 0 -26.9 0z" fill="rgb(246,152,0)" stroke="#454545" stroke-opacity="0.9" stroke-width="0.8" vector-effect="non-scaling-stroke"/>
<path d="M-11.5 0a11.5 10.4 0 1 0 23 0a11.5 10.4 0 1 0 -23 0zM111.8 0a11.5 10.4 0 1 0 23 0a11.5 10.4 0 1 0 -23 0zM50.2 96a11.5 10.4 0 1 0 23 0a11.5 10.4 0 1 0 -23 0zM173.5 96a11.5 10.4 0 1 0 23 0a11.5 10.4 0 1 0 -23 0zM-11.5 192a11.5 10.4 0 1 0 23 0a11.5 10.4 0 1 0 -23 0zM111.8 192a11.5 10.4 0 1 0 23 0a11.5 10.4 0 1 0 -23 0z" fill="rgb(254,105,0)" stroke="#454545" stroke-opacity="0.9" stroke-width="0.8" vector-effect="non-scaling-stroke"/>
<path d="M-9.2 0a9.2 8.3 0 1 0 18.5 0a9.2 8.3 0 1 0 -18.5 0zM114.1 0a9.2 8.3 0 1 0 18.5 0a9.2 8.3 0 1 0 -18.5 0zM52.4 96a9.2 8.3 0 1 0 18.5 0a9.2 8.3 0 1 0 -18.5 0zM175.7 96a9.2 8.3 0 1 0 18.5 0a9.2 8.3 0 1 0 -18.5 0zM-9.2 192a9.2 8.3 0 1 0 18.5 0a9.2 8.3 0 1 0 -18.5 0zM114.1 192a9.2 8.3 0 1 0 18.5 0a9.2 8.3 0 1 0 -18.5 0z" fill="rgb(255,46,0)" stroke="#454545" stroke-opacity="0.9" stroke-width="0.8" vector-effect="non-scaling-stroke"/>
<path d="M-6.4 0a6.4 5.8 0 1 0 12.7 0a6.4 5.8 0 1 0 -12.7 0zM116.9 0a6.4 5.8 0 1 0 12.7 0a6.4 5.8 0 1 0 -12.7 0zM55.3 96a6.4 5.8 0 1 0 12.7 0a6.4 5.8 0 1 0 -12.7 0zM178.6 96a6.4 5.8 0 1 0 12.7 0a6.4 5.8 0 1 0 -12.7 0zM-6.4 192a6.4 5.8 0 1 0 12.7 0a6.4 5.8 0 1 0 -12.7 0zM116.9 192a6.4 5.8 0 1 0 12.7 0a6.4 5.8 0 1 0 -12.7 0z" fill="rgb(255,0,0)" stroke="#454545" stroke-opacity="0.9" stroke-width="0.8" vector-effect="non-scaling-stroke"/>
</g></g>
<rect x="133.7" y="599.3" width="212.4" height="193.9" fill="none" stroke="#222" stroke-width="1"/>
<g fill="#fff" font-weight="bold" font-style="italic" style="fill:#fff" class="w">
<ellipse cx="258.6" cy="664.4" rx="5.3" ry="4.6"/><ellipse cx="195.9" cy="695.3" rx="5.3" ry="4.6"/><ellipse cx="228.7" cy="746" rx="5.3" ry="4.6"/>
<text x="234.5" y="648.9" font-size="17.5">B<tspan font-size="19" dx="1" dy="4.4">min</tspan></text>
<text x="169.2" y="675" font-size="17.5">B<tspan font-size="19" dx="1.5" dy="4.4">max</tspan></text>
<text x="205.5" y="729" font-size="17.5">B<tspan font-size="19" dx="1.5" dy="4.4">sad</tspan></text>
</g>
<clipPath id="clipid"><rect x="827" y="600.2" width="196" height="195.5"/></clipPath>
<g clip-path="url(#clipid)"><g transform="translate(827 458.7) scale(0.5328467153284672 1.7395833333333333)">
<rect x="-200" y="-200" width="900" height="900" fill="#0040ff"/>
<path d="M0.5 84.5L1.2 84.2L2.2 83.3L3.7 81.4L10.9 69.5L17.1 60L18.8 56.5L19 55.5L18.8 54.5L18.2 53.8L17.2 53.4L15.2 53L12.7 52.9L-13.3 52.9L-16.3 53.2L-17.6 53.5L-18.3 53.9L-18.8 54.5L-19 55L-18.9 56L-18.2 58L-16.8 60.5L-10.6 70L-3.3 82L-1.3 84.1L-0.3 84.6zM123.8 84.5L125.2 83.6L127.2 81.1L133.9 70L140.4 60L142.1 56.5L142.3 55.5L142.1 54.5L141.2 53.7L140.2 53.3L136.2 52.9L110.2 52.9L107.2 53.1L105.2 53.8L104.5 54.5L104.4 56L104.9 57.5L106.2 60L112.4 69.5L120.2 82.2L121.2 83.4L122.2 84.3L123.2 84.6zM247.1 84.5L248.7 83.4L250.2 81.5L256.9 70.5L263.7 60L265.4 56.5L265.6 55.5L265.4 54.5L264.7 53.8L263.7 53.3L259.7 52.9L233.7 52.9L230.7 53.1L228.7 53.7L227.8 54.5L227.6 55.5L228 57L229.2 59.5L236 70L243.2 81.8L245.2 84.1L246.2 84.5zM15.1 141L17.6 140.5L18.4 140L18.8 139.5L18.9 138L18.2 136L3.2 111.9L2.2 110.7L1.2 109.8L0.2 109.4L-0.8 109.6L-2.3 110.8L-3.8 112.8L-10.6 124L-17.1 134L-18.8 137.5L-19 138.5L-18.8 139.5L-18.3 140.1L-17.3 140.6L-13.8 141.1zM138.4 141L140.9 140.5L141.7 140L142.1 139.5L142.2 138L141.2 135.5L133.9 124L126.7 112.2L125.2 110.4L124.2 109.6L123.2 109.4L122.2 109.7L120.7 111.1L119.2 113.2L113 123.5L106.2 134L104.5 137.5L104.3 138.5L104.5 139.5L104.9 140L105.7 140.5L107.2 140.9L109.2 141.1zM261.7 141L264.2 140.5L265 140L265.4 139.5L265.5 138L264.8 136L249.7 111.8L248.7 110.6L247.7 109.7L246.7 109.4L245.7 109.6L244.2 110.9L242.7 112.9L236 124L229.2 134.5L227.8 137.5L227.6 138.5L227.8 139.5L228.2 140L229.2 140.6L232.7 141.1zM62.2 180.5L63.7 179.5L65.2 177.6L71.9 166.5L78.7 156L80.5 152.5L80.7 151.5L80.5 150.5L79.7 149.7L78.7 149.3L74.7 148.9L48.7 148.9L45.7 149.1L43.7 149.7L42.8 150.5L42.7 152L43.2 153.5L44.6 156L51 166L58.2 177.8L60.2 180L61.2 180.5zM185.5 180.5L186.7 179.8L188.7 177.3L195.6 166L201.7 156.5L203.1 154L203.8 152.5L203.9 151.5L203.8 150.5L203.2 149.9L202.2 149.4L200.2 149L197.7 148.9L171.7 148.9L168.7 149.2L166.7 149.9L166.1 150.5L166 152L166.8 154L168.2 156.5L174 165.5L181.7 178L183.7 180.2L184.7 180.6zM308.8 180.5L310.2 179.6L312.2 177L318.9 166L325.3 156L327.1 152.5L327.3 151.5L327.1 150.5L326.2 149.7L325.2 149.3L321.2 148.9L295.2 148.9L292.2 149.1L290.2 149.7L289.4 150.5L289.3 152L289.8 153.5L291.2 156L298 166.5L304.7 177.6L306.7 179.9L307.7 180.5z" fill="#0000ff" stroke="#3a3a70" stroke-width="1.14" vector-effect="non-scaling-stroke"/>
<path d="M12.1 96a49.5 42.1 0 1 0 99 0a49.5 42.1 0 1 0 -99 0zM135.4 96a49.5 42.1 0 1 0 99 0a49.5 42.1 0 1 0 -99 0zM258.7 96a49.5 42.1 0 1 0 99 0a49.5 42.1 0 1 0 -99 0zM-49.5 192a49.5 42.1 0 1 0 99 0a49.5 42.1 0 1 0 -99 0zM73.8 192a49.5 42.1 0 1 0 99 0a49.5 42.1 0 1 0 -99 0zM197.1 192a49.5 42.1 0 1 0 99 0a49.5 42.1 0 1 0 -99 0zM320.4 192a49.5 42.1 0 1 0 99 0a49.5 42.1 0 1 0 -99 0z" fill="rgb(0,105,255)" stroke="#454545" stroke-opacity="1.0" stroke-width="0.95" vector-effect="non-scaling-stroke"/>
<path d="M17.4 96a44.2 37.6 0 1 0 88.4 0a44.2 37.6 0 1 0 -88.4 0zM140.7 96a44.2 37.6 0 1 0 88.4 0a44.2 37.6 0 1 0 -88.4 0zM264 96a44.2 37.6 0 1 0 88.4 0a44.2 37.6 0 1 0 -88.4 0zM-44.2 192a44.2 37.6 0 1 0 88.4 0a44.2 37.6 0 1 0 -88.4 0zM79.1 192a44.2 37.6 0 1 0 88.4 0a44.2 37.6 0 1 0 -88.4 0zM202.4 192a44.2 37.6 0 1 0 88.4 0a44.2 37.6 0 1 0 -88.4 0zM325.7 192a44.2 37.6 0 1 0 88.4 0a44.2 37.6 0 1 0 -88.4 0z" fill="rgb(0,135,255)" stroke="#454545" stroke-opacity="1.0" stroke-width="0.95" vector-effect="non-scaling-stroke"/>
<path d="M21.2 96a40.5 34.4 0 1 0 81 0a40.5 34.4 0 1 0 -81 0zM144.5 96a40.5 34.4 0 1 0 81 0a40.5 34.4 0 1 0 -81 0zM267.8 96a40.5 34.4 0 1 0 81 0a40.5 34.4 0 1 0 -81 0zM-40.5 192a40.5 34.4 0 1 0 81 0a40.5 34.4 0 1 0 -81 0zM82.8 192a40.5 34.4 0 1 0 81 0a40.5 34.4 0 1 0 -81 0zM206.1 192a40.5 34.4 0 1 0 81 0a40.5 34.4 0 1 0 -81 0zM329.4 192a40.5 34.4 0 1 0 81 0a40.5 34.4 0 1 0 -81 0z" fill="rgb(0,171,255)" stroke="#454545" stroke-opacity="1.0" stroke-width="0.95" vector-effect="non-scaling-stroke"/>
<path d="M24.1 96a37.5 31.9 0 1 0 75 0a37.5 31.9 0 1 0 -75 0zM147.4 96a37.5 31.9 0 1 0 75 0a37.5 31.9 0 1 0 -75 0zM270.7 96a37.5 31.9 0 1 0 75 0a37.5 31.9 0 1 0 -75 0zM-37.5 192a37.5 31.9 0 1 0 75 0a37.5 31.9 0 1 0 -75 0zM85.8 192a37.5 31.9 0 1 0 75 0a37.5 31.9 0 1 0 -75 0zM209.1 192a37.5 31.9 0 1 0 75 0a37.5 31.9 0 1 0 -75 0zM332.4 192a37.5 31.9 0 1 0 75 0a37.5 31.9 0 1 0 -75 0z" fill="rgb(0,213,255)" stroke="#454545" stroke-opacity="1.0" stroke-width="0.95" vector-effect="non-scaling-stroke"/>
<path d="M26.7 96a35 29.7 0 1 0 69.9 0a35 29.7 0 1 0 -69.9 0zM150 96a35 29.7 0 1 0 69.9 0a35 29.7 0 1 0 -69.9 0zM273.3 96a35 29.7 0 1 0 69.9 0a35 29.7 0 1 0 -69.9 0zM-35 192a35 29.7 0 1 0 69.9 0a35 29.7 0 1 0 -69.9 0zM88.3 192a35 29.7 0 1 0 69.9 0a35 29.7 0 1 0 -69.9 0zM211.6 192a35 29.7 0 1 0 69.9 0a35 29.7 0 1 0 -69.9 0zM334.9 192a35 29.7 0 1 0 69.9 0a35 29.7 0 1 0 -69.9 0z" fill="rgb(0,233,240)" stroke="#454545" stroke-opacity="1.0" stroke-width="0.95" vector-effect="non-scaling-stroke"/>
<path d="M28.9 96a32.7 27.8 0 1 0 65.4 0a32.7 27.8 0 1 0 -65.4 0zM152.2 96a32.7 27.8 0 1 0 65.4 0a32.7 27.8 0 1 0 -65.4 0zM275.5 96a32.7 27.8 0 1 0 65.4 0a32.7 27.8 0 1 0 -65.4 0zM-32.7 192a32.7 27.8 0 1 0 65.4 0a32.7 27.8 0 1 0 -65.4 0zM90.6 192a32.7 27.8 0 1 0 65.4 0a32.7 27.8 0 1 0 -65.4 0zM213.9 192a32.7 27.8 0 1 0 65.4 0a32.7 27.8 0 1 0 -65.4 0zM337.2 192a32.7 27.8 0 1 0 65.4 0a32.7 27.8 0 1 0 -65.4 0z" fill="rgb(0,249,222)" stroke="#454545" stroke-opacity="1.0" stroke-width="0.95" vector-effect="non-scaling-stroke"/>
<path d="M31 96a30.7 26.1 0 1 0 61.4 0a30.7 26.1 0 1 0 -61.4 0zM154.3 96a30.7 26.1 0 1 0 61.4 0a30.7 26.1 0 1 0 -61.4 0zM277.6 96a30.7 26.1 0 1 0 61.4 0a30.7 26.1 0 1 0 -61.4 0zM-30.7 192a30.7 26.1 0 1 0 61.4 0a30.7 26.1 0 1 0 -61.4 0zM92.6 192a30.7 26.1 0 1 0 61.4 0a30.7 26.1 0 1 0 -61.4 0zM215.9 192a30.7 26.1 0 1 0 61.4 0a30.7 26.1 0 1 0 -61.4 0zM339.2 192a30.7 26.1 0 1 0 61.4 0a30.7 26.1 0 1 0 -61.4 0z" fill="rgb(0,240,172)" stroke="#454545" stroke-opacity="1.0" stroke-width="0.95" vector-effect="non-scaling-stroke"/>
<path d="M32.9 96a28.8 24.5 0 1 0 57.6 0a28.8 24.5 0 1 0 -57.6 0zM156.2 96a28.8 24.5 0 1 0 57.6 0a28.8 24.5 0 1 0 -57.6 0zM279.5 96a28.8 24.5 0 1 0 57.6 0a28.8 24.5 0 1 0 -57.6 0zM-28.8 192a28.8 24.5 0 1 0 57.6 0a28.8 24.5 0 1 0 -57.6 0zM94.5 192a28.8 24.5 0 1 0 57.6 0a28.8 24.5 0 1 0 -57.6 0zM217.8 192a28.8 24.5 0 1 0 57.6 0a28.8 24.5 0 1 0 -57.6 0zM341.1 192a28.8 24.5 0 1 0 57.6 0a28.8 24.5 0 1 0 -57.6 0z" fill="rgb(0,230,124)" stroke="#454545" stroke-opacity="1.0" stroke-width="0.95" vector-effect="non-scaling-stroke"/>
<path d="M34.7 96a27 22.9 0 1 0 54 0a27 22.9 0 1 0 -54 0zM158 96a27 22.9 0 1 0 54 0a27 22.9 0 1 0 -54 0zM281.3 96a27 22.9 0 1 0 54 0a27 22.9 0 1 0 -54 0zM-27 192a27 22.9 0 1 0 54 0a27 22.9 0 1 0 -54 0zM96.3 192a27 22.9 0 1 0 54 0a27 22.9 0 1 0 -54 0zM219.6 192a27 22.9 0 1 0 54 0a27 22.9 0 1 0 -54 0zM342.9 192a27 22.9 0 1 0 54 0a27 22.9 0 1 0 -54 0z" fill="rgb(0,220,86)" stroke="#454545" stroke-opacity="1.0" stroke-width="0.95" vector-effect="non-scaling-stroke"/>
<path d="M36.4 96a25.3 21.5 0 1 0 50.5 0a25.3 21.5 0 1 0 -50.5 0zM159.7 96a25.3 21.5 0 1 0 50.5 0a25.3 21.5 0 1 0 -50.5 0zM283 96a25.3 21.5 0 1 0 50.5 0a25.3 21.5 0 1 0 -50.5 0zM-25.3 192a25.3 21.5 0 1 0 50.5 0a25.3 21.5 0 1 0 -50.5 0zM98 192a25.3 21.5 0 1 0 50.5 0a25.3 21.5 0 1 0 -50.5 0zM221.3 192a25.3 21.5 0 1 0 50.5 0a25.3 21.5 0 1 0 -50.5 0zM344.6 192a25.3 21.5 0 1 0 50.5 0a25.3 21.5 0 1 0 -50.5 0z" fill="rgb(0,210,49)" stroke="#454545" stroke-opacity="1.0" stroke-width="0.95" vector-effect="non-scaling-stroke"/>
<path d="M38.1 96a23.6 20.1 0 1 0 47.2 0a23.6 20.1 0 1 0 -47.2 0zM161.4 96a23.6 20.1 0 1 0 47.2 0a23.6 20.1 0 1 0 -47.2 0zM284.7 96a23.6 20.1 0 1 0 47.2 0a23.6 20.1 0 1 0 -47.2 0zM-23.6 192a23.6 20.1 0 1 0 47.2 0a23.6 20.1 0 1 0 -47.2 0zM99.7 192a23.6 20.1 0 1 0 47.2 0a23.6 20.1 0 1 0 -47.2 0zM223 192a23.6 20.1 0 1 0 47.2 0a23.6 20.1 0 1 0 -47.2 0zM346.3 192a23.6 20.1 0 1 0 47.2 0a23.6 20.1 0 1 0 -47.2 0z" fill="rgb(15,203,23)" stroke="#454545" stroke-opacity="1.0" stroke-width="0.95" vector-effect="non-scaling-stroke"/>
<path d="M39.7 96a22 18.7 0 1 0 43.9 0a22 18.7 0 1 0 -43.9 0zM163 96a22 18.7 0 1 0 43.9 0a22 18.7 0 1 0 -43.9 0zM286.3 96a22 18.7 0 1 0 43.9 0a22 18.7 0 1 0 -43.9 0zM-22 192a22 18.7 0 1 0 43.9 0a22 18.7 0 1 0 -43.9 0zM101.3 192a22 18.7 0 1 0 43.9 0a22 18.7 0 1 0 -43.9 0zM224.6 192a22 18.7 0 1 0 43.9 0a22 18.7 0 1 0 -43.9 0zM347.9 192a22 18.7 0 1 0 43.9 0a22 18.7 0 1 0 -43.9 0z" fill="rgb(46,198,10)" stroke="#454545" stroke-opacity="1.0" stroke-width="0.95" vector-effect="non-scaling-stroke"/>
<path d="M41.3 96a20.3 17.3 0 1 0 40.7 0a20.3 17.3 0 1 0 -40.7 0zM164.6 96a20.3 17.3 0 1 0 40.7 0a20.3 17.3 0 1 0 -40.7 0zM287.9 96a20.3 17.3 0 1 0 40.7 0a20.3 17.3 0 1 0 -40.7 0zM-20.3 192a20.3 17.3 0 1 0 40.7 0a20.3 17.3 0 1 0 -40.7 0zM103 192a20.3 17.3 0 1 0 40.7 0a20.3 17.3 0 1 0 -40.7 0zM226.3 192a20.3 17.3 0 1 0 40.7 0a20.3 17.3 0 1 0 -40.7 0zM349.6 192a20.3 17.3 0 1 0 40.7 0a20.3 17.3 0 1 0 -40.7 0z" fill="rgb(84,196,0)" stroke="#454545" stroke-opacity="1.0" stroke-width="0.95" vector-effect="non-scaling-stroke"/>
<path d="M43 96a18.7 15.9 0 1 0 37.4 0a18.7 15.9 0 1 0 -37.4 0zM166.3 96a18.7 15.9 0 1 0 37.4 0a18.7 15.9 0 1 0 -37.4 0zM289.6 96a18.7 15.9 0 1 0 37.4 0a18.7 15.9 0 1 0 -37.4 0zM-18.7 192a18.7 15.9 0 1 0 37.4 0a18.7 15.9 0 1 0 -37.4 0zM104.6 192a18.7 15.9 0 1 0 37.4 0a18.7 15.9 0 1 0 -37.4 0zM227.9 192a18.7 15.9 0 1 0 37.4 0a18.7 15.9 0 1 0 -37.4 0zM351.2 192a18.7 15.9 0 1 0 37.4 0a18.7 15.9 0 1 0 -37.4 0z" fill="rgb(147,201,0)" stroke="#454545" stroke-opacity="1.0" stroke-width="0.95" vector-effect="non-scaling-stroke"/>
<path d="M44.6 96a17 14.5 0 1 0 34 0a17 14.5 0 1 0 -34 0zM167.9 96a17 14.5 0 1 0 34 0a17 14.5 0 1 0 -34 0zM291.2 96a17 14.5 0 1 0 34 0a17 14.5 0 1 0 -34 0zM-17 192a17 14.5 0 1 0 34 0a17 14.5 0 1 0 -34 0zM106.3 192a17 14.5 0 1 0 34 0a17 14.5 0 1 0 -34 0zM229.6 192a17 14.5 0 1 0 34 0a17 14.5 0 1 0 -34 0zM352.9 192a17 14.5 0 1 0 34 0a17 14.5 0 1 0 -34 0z" fill="rgb(201,202,0)" stroke="#454545" stroke-opacity="1.0" stroke-width="0.95" vector-effect="non-scaling-stroke"/>
<path d="M46.4 96a15.3 13 0 1 0 30.6 0a15.3 13 0 1 0 -30.6 0zM169.7 96a15.3 13 0 1 0 30.6 0a15.3 13 0 1 0 -30.6 0zM293 96a15.3 13 0 1 0 30.6 0a15.3 13 0 1 0 -30.6 0zM-15.3 192a15.3 13 0 1 0 30.6 0a15.3 13 0 1 0 -30.6 0zM108 192a15.3 13 0 1 0 30.6 0a15.3 13 0 1 0 -30.6 0zM231.3 192a15.3 13 0 1 0 30.6 0a15.3 13 0 1 0 -30.6 0zM354.6 192a15.3 13 0 1 0 30.6 0a15.3 13 0 1 0 -30.6 0z" fill="rgb(233,192,0)" stroke="#454545" stroke-opacity="1.0" stroke-width="0.95" vector-effect="non-scaling-stroke"/>
<path d="M48.2 96a13.5 11.5 0 1 0 26.9 0a13.5 11.5 0 1 0 -26.9 0zM171.5 96a13.5 11.5 0 1 0 26.9 0a13.5 11.5 0 1 0 -26.9 0zM294.8 96a13.5 11.5 0 1 0 26.9 0a13.5 11.5 0 1 0 -26.9 0zM-13.5 192a13.5 11.5 0 1 0 26.9 0a13.5 11.5 0 1 0 -26.9 0zM109.8 192a13.5 11.5 0 1 0 26.9 0a13.5 11.5 0 1 0 -26.9 0zM233.1 192a13.5 11.5 0 1 0 26.9 0a13.5 11.5 0 1 0 -26.9 0zM356.4 192a13.5 11.5 0 1 0 26.9 0a13.5 11.5 0 1 0 -26.9 0z" fill="rgb(246,152,0)" stroke="#454545" stroke-opacity="1.0" stroke-width="0.95" vector-effect="non-scaling-stroke"/>
<path d="M50.2 96a11.5 9.8 0 1 0 23 0a11.5 9.8 0 1 0 -23 0zM173.5 96a11.5 9.8 0 1 0 23 0a11.5 9.8 0 1 0 -23 0zM296.8 96a11.5 9.8 0 1 0 23 0a11.5 9.8 0 1 0 -23 0zM-11.5 192a11.5 9.8 0 1 0 23 0a11.5 9.8 0 1 0 -23 0zM111.8 192a11.5 9.8 0 1 0 23 0a11.5 9.8 0 1 0 -23 0zM235.1 192a11.5 9.8 0 1 0 23 0a11.5 9.8 0 1 0 -23 0zM358.4 192a11.5 9.8 0 1 0 23 0a11.5 9.8 0 1 0 -23 0z" fill="rgb(254,105,0)" stroke="#454545" stroke-opacity="1.0" stroke-width="0.95" vector-effect="non-scaling-stroke"/>
<path d="M52.4 96a9.2 7.8 0 1 0 18.5 0a9.2 7.8 0 1 0 -18.5 0zM175.7 96a9.2 7.8 0 1 0 18.5 0a9.2 7.8 0 1 0 -18.5 0zM299 96a9.2 7.8 0 1 0 18.5 0a9.2 7.8 0 1 0 -18.5 0zM-9.2 192a9.2 7.8 0 1 0 18.5 0a9.2 7.8 0 1 0 -18.5 0zM114.1 192a9.2 7.8 0 1 0 18.5 0a9.2 7.8 0 1 0 -18.5 0zM237.4 192a9.2 7.8 0 1 0 18.5 0a9.2 7.8 0 1 0 -18.5 0zM360.7 192a9.2 7.8 0 1 0 18.5 0a9.2 7.8 0 1 0 -18.5 0z" fill="rgb(255,46,0)" stroke="#454545" stroke-opacity="1.0" stroke-width="0.95" vector-effect="non-scaling-stroke"/>
<path d="M55.3 96a6.4 5.4 0 1 0 12.7 0a6.4 5.4 0 1 0 -12.7 0zM178.6 96a6.4 5.4 0 1 0 12.7 0a6.4 5.4 0 1 0 -12.7 0zM301.9 96a6.4 5.4 0 1 0 12.7 0a6.4 5.4 0 1 0 -12.7 0zM-6.4 192a6.4 5.4 0 1 0 12.7 0a6.4 5.4 0 1 0 -12.7 0zM116.9 192a6.4 5.4 0 1 0 12.7 0a6.4 5.4 0 1 0 -12.7 0zM240.2 192a6.4 5.4 0 1 0 12.7 0a6.4 5.4 0 1 0 -12.7 0zM363.5 192a6.4 5.4 0 1 0 12.7 0a6.4 5.4 0 1 0 -12.7 0z" fill="rgb(255,0,0)" stroke="#454545" stroke-opacity="1.0" stroke-width="0.95" vector-effect="non-scaling-stroke"/>
</g></g>
<rect x="827" y="600.2" width="196" height="195.5" fill="none" stroke="#222" stroke-width="1"/>
<g clip-path="url(#clipid)">
<path d="M861.8 621.1q0.5 -6 5 -11q7 3 7 15.6q0 12.6 -7 15.6q-4.5 -5 -5 -11zM857.8 621.1q-0.5 -6 -5 -11q-7 3 -7 15.6q0 12.6 7 15.6q4.5 -5 5 -11z" fill="#404040" fill-opacity="0.84"/>
<rect x="858.4" y="620" width="2.8" height="11.4" rx="1.2" fill="#ff1400"/>
<path d="M927.5 621.1q0.5 -6 5 -11q7 3 7 15.6q0 12.6 -7 15.6q-4.5 -5 -5 -11zM923.5 621.1q-0.5 -6 -5 -11q-7 3 -7 15.6q0 12.6 7 15.6q4.5 -5 5 -11z" fill="#404040" fill-opacity="0.84"/>
<rect x="924.1" y="620" width="2.8" height="11.4" rx="1.2" fill="#ff1400"/>
<path d="M993.2 621.1q0.5 -6 5 -11q7 3 7 15.6q0 12.6 -7 15.6q-4.5 -5 -5 -11zM989.2 621.1q-0.5 -6 -5 -11q-7 3 -7 15.6q0 12.6 7 15.6q4.5 -5 5 -11z" fill="#404040" fill-opacity="0.84"/>
<rect x="989.8" y="620" width="2.8" height="11.4" rx="1.2" fill="#ff1400"/>
<path d="M829 788.9q0.5 -6 5 -11q7 3 7 15.6q0 12.6 -7 15.6q-4.5 -5 -5 -11zM825 788.9q-0.5 -6 -5 -11q-7 3 -7 15.6q0 12.6 7 15.6q4.5 -5 5 -11z" fill="#404040" fill-opacity="0.84"/>
<rect x="825.6" y="787.8" width="2.8" height="11.4" rx="1.2" fill="#ff1400"/>
<path d="M894.7 788.9q0.5 -6 5 -11q7 3 7 15.6q0 12.6 -7 15.6q-4.5 -5 -5 -11zM890.7 788.9q-0.5 -6 -5 -11q-7 3 -7 15.6q0 12.6 7 15.6q4.5 -5 5 -11z" fill="#404040" fill-opacity="0.84"/>
<rect x="891.3" y="787.8" width="2.8" height="11.4" rx="1.2" fill="#ff1400"/>
<path d="M960.4 788.9q0.5 -6 5 -11q7 3 7 15.6q0 12.6 -7 15.6q-4.5 -5 -5 -11zM956.4 788.9q-0.5 -6 -5 -11q-7 3 -7 15.6q0 12.6 7 15.6q4.5 -5 5 -11z" fill="#404040" fill-opacity="0.84"/>
<rect x="957" y="787.8" width="2.8" height="11.4" rx="1.2" fill="#ff1400"/>
<path d="M1026.1 788.9q0.5 -6 5 -11q7 3 7 15.6q0 12.6 -7 15.6q-4.5 -5 -5 -11zM1022.1 788.9q-0.5 -6 -5 -11q-7 3 -7 15.6q0 12.6 7 15.6q4.5 -5 5 -11z" fill="#404040" fill-opacity="0.84"/>
<rect x="1022.7" y="787.8" width="2.8" height="11.4" rx="1.2" fill="#ff1400"/>
</g>
<rect x="827" y="600.2" width="196" height="195.5" fill="none" stroke="#222" stroke-width="1"/>
<clipPath id="clipe"><rect x="1490.9" y="24.9" width="443.6" height="288.7"/></clipPath>
<rect x="1492.7" y="26.7" width="440" height="285.1" fill="none" stroke="#000" stroke-width="3.6"/>
<path d="M1639.4 311.8v-10.6M1639.4 26.7v10.6M1786 311.8v-10.6M1786 26.7v10.6M1566 311.8v-5M1566 26.7v5M1712.7 311.8v-5M1712.7 26.7v5M1859.4 311.8v-5M1859.4 26.7v5M1492.7 206.2h10.6M1932.7 206.2h-10.6M1492.7 100.6h10.6M1932.7 100.6h-10.6M1492.7 259h5M1932.7 259h-5M1492.7 153.4h5M1932.7 153.4h-5M1492.7 47.8h5M1932.7 47.8h-5" stroke="#000" stroke-width="3.6" fill="none"/>
<text transform="translate(1481.7 215.7) scale(1.0 1.05)" font-size="31" text-anchor="end">0.5</text>
<text transform="translate(1481.7 110.1) scale(1.0 1.05)" font-size="31" text-anchor="end">1.0</text>
<text transform="translate(1481.7 321.3) scale(1.0 1.05)" font-size="31" text-anchor="end">0.0</text>
<g clip-path="url(#clipe)">
<path d="M1532.3 227.9v0M1551.4 229.5v0M1580.7 233.5v0M1610 234.2v0M1639.4 237.8v0M1668.7 241.8v0M1698 249.1v0M1727.4 255.7v0M1756.7 263.3v0M1771.4 266.6v0M1802.9 274.9v0M1815.4 274.3v0M1830 275.6v0M1844.7 278.9v0M1859.4 278.9v0M1888.7 278.9v0M1918 277.6v0M1932.7 278.9v0" stroke="#0069b0" stroke-width="3" fill="none"/>
<path d="M1524.7 227.9a7.6 7.6 0 1 0 15.2 0a7.6 7.6 0 1 0 -15.2 0zM1543.8 229.5a7.6 7.6 0 1 0 15.2 0a7.6 7.6 0 1 0 -15.2 0zM1573.1 233.5a7.6 7.6 0 1 0 15.2 0a7.6 7.6 0 1 0 -15.2 0zM1602.4 234.2a7.6 7.6 0 1 0 15.2 0a7.6 7.6 0 1 0 -15.2 0zM1631.8 237.8a7.6 7.6 0 1 0 15.2 0a7.6 7.6 0 1 0 -15.2 0zM1661.1 241.8a7.6 7.6 0 1 0 15.2 0a7.6 7.6 0 1 0 -15.2 0zM1690.4 249.1a7.6 7.6 0 1 0 15.2 0a7.6 7.6 0 1 0 -15.2 0zM1719.8 255.7a7.6 7.6 0 1 0 15.2 0a7.6 7.6 0 1 0 -15.2 0zM1749.1 263.3a7.6 7.6 0 1 0 15.2 0a7.6 7.6 0 1 0 -15.2 0zM1763.8 266.6a7.6 7.6 0 1 0 15.2 0a7.6 7.6 0 1 0 -15.2 0zM1795.3 274.9a7.6 7.6 0 1 0 15.2 0a7.6 7.6 0 1 0 -15.2 0zM1807.8 274.3a7.6 7.6 0 1 0 15.2 0a7.6 7.6 0 1 0 -15.2 0zM1822.4 275.6a7.6 7.6 0 1 0 15.2 0a7.6 7.6 0 1 0 -15.2 0zM1837.1 278.9a7.6 7.6 0 1 0 15.2 0a7.6 7.6 0 1 0 -15.2 0zM1851.8 278.9a7.6 7.6 0 1 0 15.2 0a7.6 7.6 0 1 0 -15.2 0zM1881.1 278.9a7.6 7.6 0 1 0 15.2 0a7.6 7.6 0 1 0 -15.2 0zM1910.4 277.6a7.6 7.6 0 1 0 15.2 0a7.6 7.6 0 1 0 -15.2 0zM1925.1 278.9a7.6 7.6 0 1 0 15.2 0a7.6 7.6 0 1 0 -15.2 0z" fill="#0069b0"/>
<path d="M1532.3 54.7v0M1551.4 60.6v0M1580.7 66.2v0M1610 75.5v0M1639.4 98.4v0M1668.7 116.6v0M1698 144.1v0M1727.4 177.9v0M1756.7 201.4v0M1771.4 213.6v0M1802.9 237.8v0M1815.4 245.1v0M1830 249.1v0M1844.7 252.4v0M1859.4 252.4v0M1888.7 252.4v0M1918 252.4v0M1932.7 252.4v0" stroke="#ff0000" stroke-width="3" fill="none"/>
<path d="M1522.4 54.7l15.4 -8.7v17.4zM1541.5 60.6l15.4 -8.7v17.4zM1570.8 66.2l15.4 -8.7v17.4zM1600.2 75.5l15.4 -8.7v17.4zM1629.5 98.4l15.4 -8.7v17.4zM1658.8 116.6l15.4 -8.7v17.4zM1688.2 144.1l15.4 -8.7v17.4zM1717.5 177.9l15.4 -8.7v17.4zM1746.8 201.4l15.4 -8.7v17.4zM1761.5 213.6l15.4 -8.7v17.4zM1793 237.8l15.4 -8.7v17.4zM1805.5 245.1l15.4 -8.7v17.4zM1820.2 249.1l15.4 -8.7v17.4zM1834.8 252.4l15.4 -8.7v17.4zM1849.5 252.4l15.4 -8.7v17.4zM1878.8 252.4l15.4 -8.7v17.4zM1908.2 252.4l15.4 -8.7v17.4zM1922.8 252.4l15.4 -8.7v17.4z" fill="#ff0000"/>
</g>
<path d="M1770.3 252.2H1932.7M1770.3 278H1930.8" stroke="#2b0000" stroke-width="2.7"/>
<circle cx="1804.6" cy="89.9" r="8" fill="#0069b0"/>
<path d="M1793.8 129.3l16.2 -9.2v18.4z" fill="#ff0000"/>
<text transform="translate(1825.5 96.1) scale(0.972 1.03)" font-size="27"><tspan font-style="italic">B</tspan><tspan font-size="19.5" dy="7.4">ex</tspan><tspan dy="-7.4"> || </tspan><tspan font-style="italic">ab</tspan></text>
<text transform="translate(1829 136.6) scale(0.972 1.03)" font-size="27"><tspan font-style="italic">B</tspan><tspan font-size="19.5" dy="7.4">ex</tspan><tspan dy="-7.4"> || </tspan><tspan font-style="italic">c</tspan></text>
<text x="1374" y="23.5" font-size="43.5" text-anchor="start">e</text>
<text transform="translate(1420.3 217.8) rotate(-90)" font-size="34"><tspan x="-0.6" font-size="31.5" textLength="18.6" lengthAdjust="spacingAndGlyphs">σ</tspan><tspan font-size="10"> </tspan><tspan x="23.6" font-size="27">(</tspan><tspan x="32.8" dx="0 -1.4">μs</tspan><tspan x="68" dx="0 -1.6" dy="-13.6" font-size="21.5">-1</tspan><tspan x="87.6" dy="13.6" font-size="27">)</tspan></text>
<text font-size="21.5"><tspan x="1843" y="223.4" font-size="26.5" textLength="18" lengthAdjust="spacingAndGlyphs">σ</tspan><tspan x="1863" y="210.9">llab</tspan><tspan x="1862.5" y="232">nm</tspan></text>
<text font-size="21.5"><tspan x="1703" y="293.8" font-size="26.5" textLength="18" lengthAdjust="spacingAndGlyphs">σ</tspan><tspan x="1722.2" y="280.7">llc</tspan><tspan x="1721.7" y="302.4">nm</tspan></text>
<clipPath id="clipf"><rect x="1495.6" y="360.8" width="443.4" height="288.8"/></clipPath>
<rect x="1497.4" y="362.6" width="439.8" height="285.2" fill="none" stroke="#000" stroke-width="3.6"/>
<path d="M1644 647.8v-10.6M1644 362.6v10.6M1790.6 647.8v-10.6M1790.6 362.6v10.6M1570.7 647.8v-5M1570.7 362.6v5M1717.3 647.8v-5M1717.3 362.6v5M1863.9 647.8v-5M1863.9 362.6v5M1497.4 593.4h10.6M1937.2 593.4h-10.6M1497.4 538.9h10.6M1937.2 538.9h-10.6M1497.4 484.5h10.6M1937.2 484.5h-10.6M1497.4 430h10.6M1937.2 430h-10.6M1497.4 375.6h10.6M1937.2 375.6h-10.6M1497.4 620.6h5M1937.2 620.6h-5M1497.4 566.1h5M1937.2 566.1h-5M1497.4 511.7h5M1937.2 511.7h-5M1497.4 457.3h5M1937.2 457.3h-5M1497.4 402.8h5M1937.2 402.8h-5" stroke="#000" stroke-width="3.6" fill="none"/>
<text transform="translate(1486.4 602.9) scale(1.0 1.05)" font-size="31" text-anchor="end">9.2</text>
<text transform="translate(1486.4 548.4) scale(1.0 1.05)" font-size="31" text-anchor="end">9.4</text>
<text transform="translate(1486.4 494) scale(1.0 1.05)" font-size="31" text-anchor="end">9.6</text>
<text transform="translate(1486.4 439.5) scale(1.0 1.05)" font-size="31" text-anchor="end">9.8</text>
<text transform="translate(1486.4 385.1) scale(1.0 1.05)" font-size="31" text-anchor="end">10.0</text>
<text transform="translate(1486.4 657.3) scale(1.0 1.05)" font-size="31" text-anchor="end">9.0</text>
<g clip-path="url(#clipf)">
<path d="M1537 476.4v10M1556 481.7v10M1585.4 479.7v10M1614.7 478.8v10M1644 478.1v10M1673.3 474.1v10M1702.6 470.5v10M1732 466.5v10M1761.3 457.6v10M1775.9 453.3v10M1807.5 421.7v22M1819.9 423.1v18M1834.6 423.1v16M1849.2 410.8v14M1863.9 404.6v12M1893.2 401.2v10M1922.5 401.2v10M1937.2 403.6v10" stroke="#0069b0" stroke-width="3" fill="none"/>
<path d="M1529.4 481.4a7.6 7.6 0 1 0 15.2 0a7.6 7.6 0 1 0 -15.2 0zM1548.4 486.7a7.6 7.6 0 1 0 15.2 0a7.6 7.6 0 1 0 -15.2 0zM1577.8 484.7a7.6 7.6 0 1 0 15.2 0a7.6 7.6 0 1 0 -15.2 0zM1607.1 483.8a7.6 7.6 0 1 0 15.2 0a7.6 7.6 0 1 0 -15.2 0zM1636.4 483.1a7.6 7.6 0 1 0 15.2 0a7.6 7.6 0 1 0 -15.2 0zM1665.7 479.1a7.6 7.6 0 1 0 15.2 0a7.6 7.6 0 1 0 -15.2 0zM1695 475.5a7.6 7.6 0 1 0 15.2 0a7.6 7.6 0 1 0 -15.2 0zM1724.4 471.5a7.6 7.6 0 1 0 15.2 0a7.6 7.6 0 1 0 -15.2 0zM1753.7 462.6a7.6 7.6 0 1 0 15.2 0a7.6 7.6 0 1 0 -15.2 0zM1768.3 458.3a7.6 7.6 0 1 0 15.2 0a7.6 7.6 0 1 0 -15.2 0zM1799.9 432.7a7.6 7.6 0 1 0 15.2 0a7.6 7.6 0 1 0 -15.2 0zM1812.3 432.1a7.6 7.6 0 1 0 15.2 0a7.6 7.6 0 1 0 -15.2 0zM1827 431.1a7.6 7.6 0 1 0 15.2 0a7.6 7.6 0 1 0 -15.2 0zM1841.6 417.8a7.6 7.6 0 1 0 15.2 0a7.6 7.6 0 1 0 -15.2 0zM1856.3 410.6a7.6 7.6 0 1 0 15.2 0a7.6 7.6 0 1 0 -15.2 0zM1885.6 406.2a7.6 7.6 0 1 0 15.2 0a7.6 7.6 0 1 0 -15.2 0zM1914.9 406.2a7.6 7.6 0 1 0 15.2 0a7.6 7.6 0 1 0 -15.2 0zM1929.6 408.6a7.6 7.6 0 1 0 15.2 0a7.6 7.6 0 1 0 -15.2 0z" fill="#0069b0"/>
<path d="M1537 574.7v52M1556 565.7v50M1585.4 558.8v46M1614.7 551.5v46M1644 542.1v43M1673.3 520.5v43M1702.6 503.8v36M1732 467.4v32M1761.3 460.1v28M1775.9 456.8v26M1807.5 419.7v26M1819.9 418.8v18M1834.6 414.8v16M1849.2 406.9v12M1863.9 405.2v10M1893.2 405.6v8M1922.5 406.6v6M1937.2 406.6v6" stroke="#ff0000" stroke-width="3" fill="none"/>
<path d="M1527.1 600.7l15.4 -8.7v17.4zM1546.2 590.7l15.4 -8.7v17.4zM1575.5 581.8l15.4 -8.7v17.4zM1604.8 574.5l15.4 -8.7v17.4zM1634.1 563.6l15.4 -8.7v17.4zM1663.5 542l15.4 -8.7v17.4zM1692.8 521.8l15.4 -8.7v17.4zM1722.1 483.4l15.4 -8.7v17.4zM1751.4 474.1l15.4 -8.7v17.4zM1766.1 469.8l15.4 -8.7v17.4zM1797.6 432.7l15.4 -8.7v17.4zM1810.1 427.8l15.4 -8.7v17.4zM1824.7 422.8l15.4 -8.7v17.4zM1839.4 412.9l15.4 -8.7v17.4zM1854 410.2l15.4 -8.7v17.4zM1883.4 409.6l15.4 -8.7v17.4zM1912.7 409.6l15.4 -8.7v17.4zM1927.3 409.6l15.4 -8.7v17.4z" fill="#ff0000"/>
</g>
<circle cx="1816.6" cy="571.4" r="8" fill="#0069b0"/>
<path d="M1805.4 611l16.2 -9.2v18.4z" fill="#ff0000"/>
<text transform="translate(1837.5 578.2) scale(0.985 1.03)" font-size="27"><tspan font-style="italic">B</tspan><tspan font-size="19.5" dy="7.4">ex</tspan><tspan dy="-7.4"> || </tspan><tspan font-style="italic">ab</tspan></text>
<text transform="translate(1837.2 617.4) scale(0.985 1.03)" font-size="27">B<tspan font-size="19.5" dy="7.4" font-style="italic">ex</tspan><tspan dy="-7.4"> || </tspan><tspan font-style="italic">c</tspan></text>
<text x="1372" y="379.4" font-size="43" text-anchor="start">f</text>
<text transform="translate(1425.5 567.6) rotate(-90)" font-size="33"><tspan font-style="italic">B</tspan><tspan font-size="23" dy="7">int</tspan><tspan dy="-7"> (mT)</tspan></text>
<clipPath id="clipg"><rect x="1496.5" y="696.9" width="443.3" height="288.9"/></clipPath>
<rect x="1498.3" y="698.7" width="439.7" height="285.3" fill="none" stroke="#000" stroke-width="3.6"/>
<path d="M1644.9 984v-10.6M1644.9 698.7v10.6M1791.4 984v-10.6M1791.4 698.7v10.6M1571.6 984v-5M1571.6 698.7v5M1718.2 984v-5M1718.2 698.7v5M1864.7 984v-5M1864.7 698.7v5M1498.3 848h10.6M1938 848h-10.6M1498.3 711.9h10.6M1938 711.9h-10.6M1498.3 916h5M1938 916h-5M1498.3 779.9h5M1938 779.9h-5" stroke="#000" stroke-width="3.6" fill="none"/>
<text transform="translate(1487.3 857.5) scale(1.0 1.05)" font-size="31" text-anchor="end">0.5</text>
<text transform="translate(1487.3 721.4) scale(1.0 1.05)" font-size="31" text-anchor="end">1.0</text>
<text transform="translate(1498.3 1019.2) scale(1.0 0.985)" font-size="31" text-anchor="middle">0</text>
<text transform="translate(1644.9 1019.2) scale(1.0 0.985)" font-size="31" text-anchor="middle">1</text>
<text transform="translate(1791.4 1019.2) scale(1.0 0.985)" font-size="31" text-anchor="middle">2</text>
<text transform="translate(1938 1019.2) scale(1.0 0.985)" font-size="31" text-anchor="middle">3</text>
<text transform="translate(1487.3 993.5) scale(1.0 1.05)" font-size="31" text-anchor="end">0.0</text>
<g clip-path="url(#clipg)">
<path d="M1537.9 741.5v8M1556.9 760.2v8M1586.2 749v8M1615.6 753.9v8M1644.9 751.6v8M1674.2 753.9v8M1703.5 747.1v8M1732.8 761.4v8M1762.1 765.7v12M1776.8 757.7v28M1808.3 767.8v270M1820.7 985.6v0M1835.4 985.6v0M1850.1 985.6v0" stroke="#0069b0" stroke-width="3" fill="none"/>
<path d="M1530.3 745.5a7.6 8.5 0 1 0 15.2 0a7.6 8.5 0 1 0 -15.2 0zM1549.3 764.2a7.6 8.5 0 1 0 15.2 0a7.6 8.5 0 1 0 -15.2 0zM1578.6 753a7.6 8.5 0 1 0 15.2 0a7.6 8.5 0 1 0 -15.2 0zM1608 757.9a7.6 8.5 0 1 0 15.2 0a7.6 8.5 0 1 0 -15.2 0zM1637.3 755.6a7.6 8.5 0 1 0 15.2 0a7.6 8.5 0 1 0 -15.2 0zM1666.6 757.9a7.6 8.5 0 1 0 15.2 0a7.6 8.5 0 1 0 -15.2 0zM1695.9 751.1a7.6 8.5 0 1 0 15.2 0a7.6 8.5 0 1 0 -15.2 0zM1725.2 765.4a7.6 8.5 0 1 0 15.2 0a7.6 8.5 0 1 0 -15.2 0zM1754.5 771.7a7.6 8.5 0 1 0 15.2 0a7.6 8.5 0 1 0 -15.2 0zM1769.2 771.7a7.6 8.5 0 1 0 15.2 0a7.6 8.5 0 1 0 -15.2 0zM1800.7 902.8a7.6 8.5 0 1 0 15.2 0a7.6 8.5 0 1 0 -15.2 0zM1813.1 985.6a7.6 8.5 0 1 0 15.2 0a7.6 8.5 0 1 0 -15.2 0zM1827.8 985.6a7.6 8.5 0 1 0 15.2 0a7.6 8.5 0 1 0 -15.2 0zM1842.5 985.6a7.6 8.5 0 1 0 15.2 0a7.6 8.5 0 1 0 -15.2 0z" fill="#0069b0"/>
<path d="M1537.9 731.2v16M1556.9 723.7v16M1586.2 730v16M1615.6 733.8v16M1644.9 728.2v16M1674.2 728.9v16M1703.5 740.1v16M1732.8 739.4v16M1762.1 771v24M1776.8 778.3v28M1808.3 842.8v96M1820.7 985.6v0M1835.4 985.6v0" stroke="#ff0000" stroke-width="3" fill="none"/>
<path d="M1528 739.2l15.4 -9.7v19.5zM1547.1 731.7l15.4 -9.7v19.5zM1576.4 738l15.4 -9.7v19.5zM1605.7 741.8l15.4 -9.7v19.5zM1635 736.2l15.4 -9.7v19.5zM1664.3 736.9l15.4 -9.7v19.5zM1693.6 748.1l15.4 -9.7v19.5zM1723 747.4l15.4 -9.7v19.5zM1752.3 783l15.4 -9.7v19.5zM1766.9 792.3l15.4 -9.7v19.5zM1798.4 890.8l15.4 -9.7v19.5zM1810.9 985.6l15.4 -9.7v19.5zM1825.5 985.6l15.4 -9.7v19.5z" fill="#ff0000"/>
</g>
<circle cx="1561.5" cy="914.5" r="8" fill="#0069b0"/>
<path d="M1550 954.2l16.2 -9.2v18.4z" fill="#ff0000"/>
<text transform="translate(1581.5 919.7) scale(1.0 1.03)" font-size="27"><tspan font-style="italic">B</tspan><tspan font-size="19.5" dy="7.4">ex</tspan><tspan dy="-7.4"> || </tspan><tspan font-style="italic">ab</tspan></text>
<text transform="translate(1581.5 959.7) scale(1.0 1.03)" font-size="27"><tspan font-style="italic">B</tspan><tspan font-size="19.5" dy="7.4">ex</tspan><tspan dy="-7.4"> || </tspan><tspan font-style="italic">c</tspan></text>
<text x="1371.6" y="693.5" font-size="43.5" text-anchor="start">g</text>
<text transform="translate(1427.2 861.8) rotate(-90)" font-size="31"><tspan textLength="18.2" lengthAdjust="spacingAndGlyphs">α</tspan><tspan font-size="22" dy="7">sk</tspan></text>
<text transform="translate(0 1070.6) scale(1 1.035)" font-size="33"><tspan x="1682" font-style="italic">T </tspan><tspan x="1710.6" letter-spacing="0.4">(K)</tspan></text>
<defs><linearGradient id="ga1" x1="0" x2="1" y1="0" y2="0"><stop offset="0" stop-color="#1fc0ff"/><stop offset="0.18" stop-color="#0a7fb0"/><stop offset="0.38" stop-color="#000"/><stop offset="1" stop-color="#000"/></linearGradient><linearGradient id="ga2" x1="0" x2="1" y1="0" y2="0"><stop offset="0" stop-color="#16a8e0"/><stop offset="0.3" stop-color="#0a4a68"/><stop offset="0.55" stop-color="#06384f"/><stop offset="1" stop-color="#3aa6d4"/></linearGradient><linearGradient id="ga0" x1="0" x2="0" y1="0" y2="1"><stop offset="0" stop-color="#04befc"/><stop offset="0.9" stop-color="#00b6f4"/><stop offset="1" stop-color="#0a8fc4"/></linearGradient><linearGradient id="gc1" x1="0" x2="0" y1="0" y2="1"><stop offset="0" stop-color="#1487b8"/><stop offset="0.75" stop-color="#083e58"/><stop offset="1" stop-color="#0c5a80"/></linearGradient><linearGradient id="gc2" x1="0" x2="1" y1="0" y2="0.6"><stop offset="0" stop-color="#0b5a80"/><stop offset="0.5" stop-color="#0a3f5c"/><stop offset="1" stop-color="#0f86b8"/></linearGradient><linearGradient id="gc3" x1="0" x2="0.35" y1="0" y2="1"><stop offset="0" stop-color="#22b4ee"/><stop offset="0.35" stop-color="#34f2ff"/><stop offset="0.75" stop-color="#12c0ff"/><stop offset="1" stop-color="#0d8fc8"/></linearGradient></defs>
<path d="M565 43.8L577 43.8Q587.5 44.5 589.6 52L601 105.6L573.5 105.6L566 50z" fill="url(#ga1)"/>
<path d="M573.5 105.6L601 105.6L590 160Q587.5 167 577 167.5L565 167.5z" fill="url(#ga2)"/>
<path d="M529.3 105.6L541 50Q542.5 44 548 43.8L568 43.8L573.5 105.6L568 167.5L548 167.5Q542.5 167 541 161z" fill="url(#ga0)"/>
<path d="M432.8 117.6H508.6V111.7L520.3 123L508.6 134.4V128.3H432.8z" fill="#3d5a24"/>
<text class="r" font-size="25"><tspan x="456.3" y="81" font-size="35" font-weight="bold" font-style="italic" textLength="21.6" lengthAdjust="spacingAndGlyphs">B</tspan><tspan x="479.5" y="90" textLength="23" lengthAdjust="spacingAndGlyphs" style="stroke:#f00;stroke-width:0.5">ex</tspan></text>
<path d="M1137.2 60.4Q1129 64 1128.3 76Q1128.5 80 1131 82.5L1152.1 102.5Q1153 104 1155.5 104.6L1153.4 83.4z" fill="url(#gc2)"/>
<path d="M1153.4 83L1219.8 80.5L1222.3 108L1155.5 104.6Q1151 98 1153.4 83z" fill="url(#gc1)"/>
<path d="M1219.8 80.5L1266.4 65.5Q1276 74 1276.3 83.4Q1276 90 1268.9 92.5L1222.3 108z" fill="url(#gc3)"/>
<path d="M1183.2 44.9L1245.3 48.6L1266.6 65.8L1219.8 81L1153.4 83.6L1137 60.6z" fill="#029fd8"/>
<path d="M1180.4 126.3H1256.5V120.4L1268.5 131.8L1256.5 143.3V136.8H1180.4z" fill="#3d5a24"/>
<text class="r" font-size="25"><tspan x="1116" y="136.8" font-size="35" font-weight="bold" font-style="italic" textLength="21.6" lengthAdjust="spacingAndGlyphs">B</tspan><tspan x="1139" y="146.8" textLength="23" lengthAdjust="spacingAndGlyphs" style="stroke:#f00;stroke-width:0.5">ex</tspan></text>
</svg>
</body></html>
